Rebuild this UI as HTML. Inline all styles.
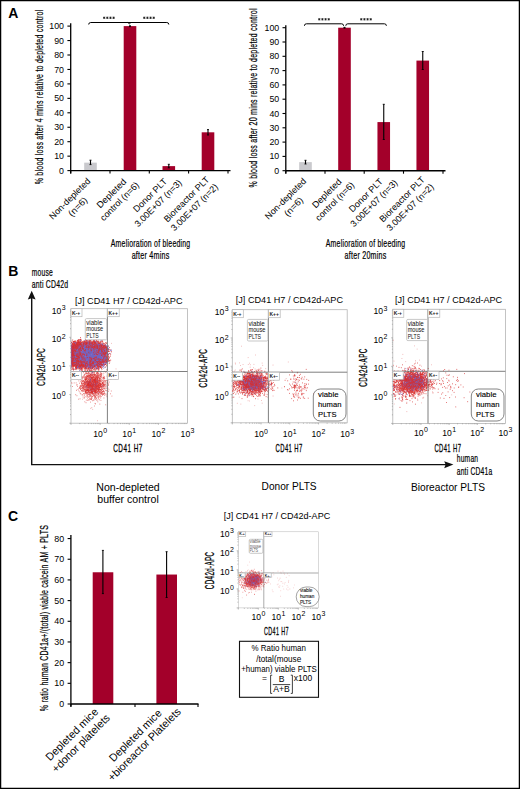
<!DOCTYPE html>
<html><head><meta charset="utf-8"><style>
html,body{margin:0;padding:0;background:#fff;}
svg{display:block;}
text{font-family:"Liberation Sans",sans-serif;}
.cn{stroke:#000;stroke-width:0.22px;letter-spacing:0.35px;}
.cb{stroke:#000;stroke-width:0.3px;letter-spacing:0.8px;}
.mt{}
.ht{stroke:#000;stroke-width:0.12px;}
</style></head><body>
<svg width="520" height="789" viewBox="0 0 520 789">
<defs><filter id="sb" x="-10%" y="-10%" width="120%" height="120%"><feGaussianBlur stdDeviation="0.45"/></filter></defs>
<rect x="0" y="0" width="520" height="789" fill="#fff"/>
<text x="8.30" y="18.20" font-size="14" font-weight="bold">A</text>
<rect x="84.20" y="162.65" width="12.60" height="7.95" fill="#c9c9cd" />
<rect x="123.70" y="26.10" width="12.60" height="144.50" fill="#a3002a" />
<rect x="162.50" y="166.12" width="12.60" height="4.48" fill="#a3002a" />
<rect x="201.70" y="132.31" width="12.60" height="38.29" fill="#a3002a" />
<line x1="70.70" y1="23.20" x2="70.70" y2="173.40" stroke="#000" stroke-width="1.3"/>
<line x1="67.40" y1="170.60" x2="70.70" y2="170.60" stroke="#000" stroke-width="1.1"/>
<text x="64.00" y="173.65" font-size="8.8" text-anchor="end" textLength="4.90" lengthAdjust="spacingAndGlyphs">0</text>
<line x1="67.40" y1="156.15" x2="70.70" y2="156.15" stroke="#000" stroke-width="1.1"/>
<text x="64.00" y="159.20" font-size="8.8" text-anchor="end" textLength="9.80" lengthAdjust="spacingAndGlyphs">10</text>
<line x1="67.40" y1="141.70" x2="70.70" y2="141.70" stroke="#000" stroke-width="1.1"/>
<text x="64.00" y="144.75" font-size="8.8" text-anchor="end" textLength="9.80" lengthAdjust="spacingAndGlyphs">20</text>
<line x1="67.40" y1="127.25" x2="70.70" y2="127.25" stroke="#000" stroke-width="1.1"/>
<text x="64.00" y="130.30" font-size="8.8" text-anchor="end" textLength="9.80" lengthAdjust="spacingAndGlyphs">30</text>
<line x1="67.40" y1="112.80" x2="70.70" y2="112.80" stroke="#000" stroke-width="1.1"/>
<text x="64.00" y="115.85" font-size="8.8" text-anchor="end" textLength="9.80" lengthAdjust="spacingAndGlyphs">40</text>
<line x1="67.40" y1="98.35" x2="70.70" y2="98.35" stroke="#000" stroke-width="1.1"/>
<text x="64.00" y="101.40" font-size="8.8" text-anchor="end" textLength="9.80" lengthAdjust="spacingAndGlyphs">50</text>
<line x1="67.40" y1="83.90" x2="70.70" y2="83.90" stroke="#000" stroke-width="1.1"/>
<text x="64.00" y="86.95" font-size="8.8" text-anchor="end" textLength="9.80" lengthAdjust="spacingAndGlyphs">60</text>
<line x1="67.40" y1="69.45" x2="70.70" y2="69.45" stroke="#000" stroke-width="1.1"/>
<text x="64.00" y="72.50" font-size="8.8" text-anchor="end" textLength="9.80" lengthAdjust="spacingAndGlyphs">70</text>
<line x1="67.40" y1="55.00" x2="70.70" y2="55.00" stroke="#000" stroke-width="1.1"/>
<text x="64.00" y="58.05" font-size="8.8" text-anchor="end" textLength="9.80" lengthAdjust="spacingAndGlyphs">80</text>
<line x1="67.40" y1="40.55" x2="70.70" y2="40.55" stroke="#000" stroke-width="1.1"/>
<text x="64.00" y="43.60" font-size="8.8" text-anchor="end" textLength="9.80" lengthAdjust="spacingAndGlyphs">90</text>
<line x1="67.40" y1="26.10" x2="70.70" y2="26.10" stroke="#000" stroke-width="1.1"/>
<text x="64.00" y="29.15" font-size="8.8" text-anchor="end" textLength="14.70" lengthAdjust="spacingAndGlyphs">100</text>
<line x1="70.70" y1="170.60" x2="230.50" y2="170.60" stroke="#000" stroke-width="1.4"/>
<line x1="70.70" y1="170.60" x2="70.70" y2="173.60" stroke="#000" stroke-width="1.1"/>
<line x1="110.00" y1="170.60" x2="110.00" y2="173.60" stroke="#000" stroke-width="1.1"/>
<line x1="149.30" y1="170.60" x2="149.30" y2="173.60" stroke="#000" stroke-width="1.1"/>
<line x1="188.60" y1="170.60" x2="188.60" y2="173.60" stroke="#000" stroke-width="1.1"/>
<line x1="228.00" y1="170.60" x2="228.00" y2="173.60" stroke="#000" stroke-width="1.1"/>
<line x1="90.50" y1="160.20" x2="90.50" y2="164.60" stroke="#000" stroke-width="1.1"/>
<line x1="89.50" y1="160.20" x2="91.50" y2="160.20" stroke="#000" stroke-width="0.9"/>
<line x1="89.50" y1="164.60" x2="91.50" y2="164.60" stroke="#000" stroke-width="0.9"/>
<line x1="130.00" y1="25.80" x2="130.00" y2="26.60" stroke="#000" stroke-width="1.1"/>
<line x1="129.00" y1="25.80" x2="131.00" y2="25.80" stroke="#000" stroke-width="0.9"/>
<line x1="129.00" y1="26.60" x2="131.00" y2="26.60" stroke="#000" stroke-width="0.9"/>
<line x1="168.80" y1="164.30" x2="168.80" y2="167.80" stroke="#000" stroke-width="1.1"/>
<line x1="167.80" y1="164.30" x2="169.80" y2="164.30" stroke="#000" stroke-width="0.9"/>
<line x1="167.80" y1="167.80" x2="169.80" y2="167.80" stroke="#000" stroke-width="0.9"/>
<line x1="208.00" y1="129.60" x2="208.00" y2="135.00" stroke="#000" stroke-width="1.1"/>
<line x1="207.00" y1="129.60" x2="209.00" y2="129.60" stroke="#000" stroke-width="0.9"/>
<line x1="207.00" y1="135.00" x2="209.00" y2="135.00" stroke="#000" stroke-width="0.9"/>
<text x="0.00" y="0.00" font-size="11.5" text-anchor="middle" textLength="174.70" lengthAdjust="spacingAndGlyphs" transform="translate(42.7,96.95) rotate(-90)" class="cn">% blood loss after 4 mins relative to depleted control</text>
<text x="150.60" y="246.90" font-size="11" text-anchor="middle" textLength="79.70" lengthAdjust="spacingAndGlyphs" class="cn">Amelioration of bleeding</text>
<text x="150.60" y="258.90" font-size="11" text-anchor="middle" textLength="37.90" lengthAdjust="spacingAndGlyphs" class="cn">after 4mins</text>
<path d="M88.70,24.50 Q88.70,22.50 90.70,22.50 L166.80,22.50 Q168.80,22.50 168.80,24.50" fill="none" stroke="#000" stroke-width="1"/>
<path d="M127.90,22.50 L129.40,23.80 L130.90,22.50" fill="none" stroke="#000" stroke-width="1"/>
<path d="M104.18,16.60 L104.18,19.00 M103.08,17.20 L105.28,18.40 M103.08,18.40 L105.28,17.20" stroke="#111" stroke-width="0.75"/>
<path d="M107.33,16.60 L107.33,19.00 M106.23,17.20 L108.42,18.40 M106.23,18.40 L108.42,17.20" stroke="#111" stroke-width="0.75"/>
<path d="M110.48,16.60 L110.48,19.00 M109.38,17.20 L111.58,18.40 M109.38,18.40 L111.58,17.20" stroke="#111" stroke-width="0.75"/>
<path d="M113.62,16.60 L113.62,19.00 M112.53,17.20 L114.72,18.40 M112.53,18.40 L114.72,17.20" stroke="#111" stroke-width="0.75"/>
<path d="M144.28,16.60 L144.28,19.00 M143.18,17.20 L145.38,18.40 M143.18,18.40 L145.38,17.20" stroke="#111" stroke-width="0.75"/>
<path d="M147.43,16.60 L147.43,19.00 M146.33,17.20 L148.53,18.40 M146.33,18.40 L148.53,17.20" stroke="#111" stroke-width="0.75"/>
<path d="M150.57,16.60 L150.57,19.00 M149.47,17.20 L151.67,18.40 M149.47,18.40 L151.67,17.20" stroke="#111" stroke-width="0.75"/>
<path d="M153.72,16.60 L153.72,19.00 M152.62,17.20 L154.82,18.40 M152.62,18.40 L154.82,17.20" stroke="#111" stroke-width="0.75"/>
<rect x="299.20" y="162.12" width="12.60" height="8.58" fill="#c9c9cd" />
<rect x="338.20" y="27.70" width="12.60" height="143.00" fill="#a3002a" />
<rect x="377.45" y="122.08" width="12.60" height="48.62" fill="#a3002a" />
<rect x="416.45" y="60.59" width="12.60" height="110.11" fill="#a3002a" />
<line x1="285.80" y1="25.30" x2="285.80" y2="173.50" stroke="#000" stroke-width="1.3"/>
<line x1="282.50" y1="170.70" x2="285.80" y2="170.70" stroke="#000" stroke-width="1.1"/>
<text x="279.20" y="173.75" font-size="8.8" text-anchor="end" textLength="4.90" lengthAdjust="spacingAndGlyphs">0</text>
<line x1="282.50" y1="156.40" x2="285.80" y2="156.40" stroke="#000" stroke-width="1.1"/>
<text x="279.20" y="159.45" font-size="8.8" text-anchor="end" textLength="9.80" lengthAdjust="spacingAndGlyphs">10</text>
<line x1="282.50" y1="142.10" x2="285.80" y2="142.10" stroke="#000" stroke-width="1.1"/>
<text x="279.20" y="145.15" font-size="8.8" text-anchor="end" textLength="9.80" lengthAdjust="spacingAndGlyphs">20</text>
<line x1="282.50" y1="127.80" x2="285.80" y2="127.80" stroke="#000" stroke-width="1.1"/>
<text x="279.20" y="130.85" font-size="8.8" text-anchor="end" textLength="9.80" lengthAdjust="spacingAndGlyphs">30</text>
<line x1="282.50" y1="113.50" x2="285.80" y2="113.50" stroke="#000" stroke-width="1.1"/>
<text x="279.20" y="116.55" font-size="8.8" text-anchor="end" textLength="9.80" lengthAdjust="spacingAndGlyphs">40</text>
<line x1="282.50" y1="99.20" x2="285.80" y2="99.20" stroke="#000" stroke-width="1.1"/>
<text x="279.20" y="102.25" font-size="8.8" text-anchor="end" textLength="9.80" lengthAdjust="spacingAndGlyphs">50</text>
<line x1="282.50" y1="84.90" x2="285.80" y2="84.90" stroke="#000" stroke-width="1.1"/>
<text x="279.20" y="87.95" font-size="8.8" text-anchor="end" textLength="9.80" lengthAdjust="spacingAndGlyphs">60</text>
<line x1="282.50" y1="70.60" x2="285.80" y2="70.60" stroke="#000" stroke-width="1.1"/>
<text x="279.20" y="73.65" font-size="8.8" text-anchor="end" textLength="9.80" lengthAdjust="spacingAndGlyphs">70</text>
<line x1="282.50" y1="56.30" x2="285.80" y2="56.30" stroke="#000" stroke-width="1.1"/>
<text x="279.20" y="59.35" font-size="8.8" text-anchor="end" textLength="9.80" lengthAdjust="spacingAndGlyphs">80</text>
<line x1="282.50" y1="42.00" x2="285.80" y2="42.00" stroke="#000" stroke-width="1.1"/>
<text x="279.20" y="45.05" font-size="8.8" text-anchor="end" textLength="9.80" lengthAdjust="spacingAndGlyphs">90</text>
<line x1="282.50" y1="27.70" x2="285.80" y2="27.70" stroke="#000" stroke-width="1.1"/>
<text x="279.20" y="30.75" font-size="8.8" text-anchor="end" textLength="14.70" lengthAdjust="spacingAndGlyphs">100</text>
<line x1="285.80" y1="170.70" x2="445.50" y2="170.70" stroke="#000" stroke-width="1.4"/>
<line x1="285.80" y1="170.70" x2="285.80" y2="173.70" stroke="#000" stroke-width="1.1"/>
<line x1="325.00" y1="170.70" x2="325.00" y2="173.70" stroke="#000" stroke-width="1.1"/>
<line x1="364.20" y1="170.70" x2="364.20" y2="173.70" stroke="#000" stroke-width="1.1"/>
<line x1="403.50" y1="170.70" x2="403.50" y2="173.70" stroke="#000" stroke-width="1.1"/>
<line x1="443.00" y1="170.70" x2="443.00" y2="173.70" stroke="#000" stroke-width="1.1"/>
<line x1="305.50" y1="160.30" x2="305.50" y2="164.00" stroke="#000" stroke-width="1.1"/>
<line x1="304.50" y1="160.30" x2="306.50" y2="160.30" stroke="#000" stroke-width="0.9"/>
<line x1="304.50" y1="164.00" x2="306.50" y2="164.00" stroke="#000" stroke-width="0.9"/>
<line x1="344.50" y1="27.30" x2="344.50" y2="28.10" stroke="#000" stroke-width="1.1"/>
<line x1="343.50" y1="27.30" x2="345.50" y2="27.30" stroke="#000" stroke-width="0.9"/>
<line x1="343.50" y1="28.10" x2="345.50" y2="28.10" stroke="#000" stroke-width="0.9"/>
<line x1="383.75" y1="104.30" x2="383.75" y2="139.50" stroke="#000" stroke-width="1.1"/>
<line x1="382.75" y1="104.30" x2="384.75" y2="104.30" stroke="#000" stroke-width="0.9"/>
<line x1="382.75" y1="139.50" x2="384.75" y2="139.50" stroke="#000" stroke-width="0.9"/>
<line x1="422.75" y1="51.50" x2="422.75" y2="69.50" stroke="#000" stroke-width="1.1"/>
<line x1="421.75" y1="51.50" x2="423.75" y2="51.50" stroke="#000" stroke-width="0.9"/>
<line x1="421.75" y1="69.50" x2="423.75" y2="69.50" stroke="#000" stroke-width="0.9"/>
<text x="0.00" y="0.00" font-size="11.5" text-anchor="middle" textLength="179.20" lengthAdjust="spacingAndGlyphs" transform="translate(257.2,97.90) rotate(-90)" class="cn">% blood loss after 20 mins relative to depleted control</text>
<text x="365.60" y="246.90" font-size="11" text-anchor="middle" textLength="79.70" lengthAdjust="spacingAndGlyphs" class="cn">Amelioration of bleeding</text>
<text x="365.60" y="258.90" font-size="11" text-anchor="middle" textLength="42.00" lengthAdjust="spacingAndGlyphs" class="cn">after 20mins</text>
<path d="M304.40,25.80 Q304.40,23.80 306.40,23.80 L341.60,23.80 Q343.60,23.80 343.60,25.80" fill="none" stroke="#000" stroke-width="1"/>
<path d="M345.80,25.80 Q345.80,23.80 347.80,23.80 L384.40,23.80 Q386.40,23.80 386.40,25.80" fill="none" stroke="#000" stroke-width="1"/>
<path d="M319.27,18.10 L319.27,20.50 M318.17,18.70 L320.38,19.90 M318.17,19.90 L320.38,18.70" stroke="#111" stroke-width="0.75"/>
<path d="M322.43,18.10 L322.43,20.50 M321.32,18.70 L323.53,19.90 M321.32,19.90 L323.53,18.70" stroke="#111" stroke-width="0.75"/>
<path d="M325.57,18.10 L325.57,20.50 M324.47,18.70 L326.68,19.90 M324.47,19.90 L326.68,18.70" stroke="#111" stroke-width="0.75"/>
<path d="M328.73,18.10 L328.73,20.50 M327.62,18.70 L329.83,19.90 M327.62,19.90 L329.83,18.70" stroke="#111" stroke-width="0.75"/>
<path d="M361.27,18.10 L361.27,20.50 M360.17,18.70 L362.38,19.90 M360.17,19.90 L362.38,18.70" stroke="#111" stroke-width="0.75"/>
<path d="M364.43,18.10 L364.43,20.50 M363.32,18.70 L365.53,19.90 M363.32,19.90 L365.53,18.70" stroke="#111" stroke-width="0.75"/>
<path d="M367.57,18.10 L367.57,20.50 M366.47,18.70 L368.68,19.90 M366.47,19.90 L368.68,18.70" stroke="#111" stroke-width="0.75"/>
<path d="M370.73,18.10 L370.73,20.50 M369.62,18.70 L371.83,19.90 M369.62,19.90 L371.83,18.70" stroke="#111" stroke-width="0.75"/>
<g transform="translate(71.90,200.80) rotate(-45)">
<text x="0.00" y="0.00" font-size="9" text-anchor="middle" textLength="54.00" lengthAdjust="spacingAndGlyphs">Non-depleted</text>
<text x="0.00" y="11.40" font-size="9" text-anchor="middle" textLength="23.00" lengthAdjust="spacingAndGlyphs">(n=6)</text>
</g>
<g transform="translate(113.60,195.50) rotate(-45)">
<text x="0.00" y="0.00" font-size="9" text-anchor="middle" textLength="37.50" lengthAdjust="spacingAndGlyphs">Depleted</text>
<text x="0.00" y="11.40" font-size="9" text-anchor="middle" textLength="50.80" lengthAdjust="spacingAndGlyphs">control (n=6)</text>
</g>
<g transform="translate(152.20,197.40) rotate(-45)">
<text x="0.00" y="0.00" font-size="9" text-anchor="middle" textLength="43.60" lengthAdjust="spacingAndGlyphs">Donor PLT</text>
<text x="0.00" y="11.40" font-size="9" text-anchor="middle" textLength="62.40" lengthAdjust="spacingAndGlyphs">3.00E+07 (n=3)</text>
</g>
<g transform="translate(188.60,201.50) rotate(-45)">
<text x="0.00" y="0.00" font-size="9" text-anchor="middle" textLength="60.00" lengthAdjust="spacingAndGlyphs">Bioreactor PLT</text>
<text x="0.00" y="11.40" font-size="9" text-anchor="middle" textLength="62.40" lengthAdjust="spacingAndGlyphs">3.00E+07 (n=2)</text>
</g>
<g transform="translate(287.70,200.80) rotate(-45)">
<text x="0.00" y="0.00" font-size="9" text-anchor="middle" textLength="54.00" lengthAdjust="spacingAndGlyphs">Non-depleted</text>
<text x="0.00" y="11.40" font-size="9" text-anchor="middle" textLength="23.00" lengthAdjust="spacingAndGlyphs">(n=6)</text>
</g>
<g transform="translate(328.90,195.50) rotate(-45)">
<text x="0.00" y="0.00" font-size="9" text-anchor="middle" textLength="37.50" lengthAdjust="spacingAndGlyphs">Depleted</text>
<text x="0.00" y="11.40" font-size="9" text-anchor="middle" textLength="50.80" lengthAdjust="spacingAndGlyphs">control (n=6)</text>
</g>
<g transform="translate(367.95,197.40) rotate(-45)">
<text x="0.00" y="0.00" font-size="9" text-anchor="middle" textLength="43.60" lengthAdjust="spacingAndGlyphs">Donor PLT</text>
<text x="0.00" y="11.40" font-size="9" text-anchor="middle" textLength="62.40" lengthAdjust="spacingAndGlyphs">3.00E+07 (n=3)</text>
</g>
<g transform="translate(404.15,201.50) rotate(-45)">
<text x="0.00" y="0.00" font-size="9" text-anchor="middle" textLength="60.00" lengthAdjust="spacingAndGlyphs">Bioreactor PLT</text>
<text x="0.00" y="11.40" font-size="9" text-anchor="middle" textLength="62.40" lengthAdjust="spacingAndGlyphs">3.00E+07 (n=2)</text>
</g>
<text x="8.30" y="275.80" font-size="14" font-weight="bold">B</text>
<text x="31.70" y="276.20" font-size="11" textLength="21.20" lengthAdjust="spacingAndGlyphs" class="cn">mouse</text>
<text x="31.70" y="287.60" font-size="11" textLength="36.60" lengthAdjust="spacingAndGlyphs" class="cn">anti CD42d</text>
<path d="M31.7,298 L31.7,464.6 L446,464.6" fill="none" stroke="#111" stroke-width="1.4"/>
<path d="M31.7,290.8 L35.6,299.6 L31.7,298.2 L27.8,299.6 Z" fill="#111"/>
<path d="M453.4,464.6 L444.2,461.2 L445.6,464.6 L444.2,468.2 Z" fill="#111"/>
<text x="456.70" y="461.60" font-size="11" textLength="21.60" lengthAdjust="spacingAndGlyphs" class="cn">human</text>
<text x="456.70" y="474.90" font-size="11" textLength="35.80" lengthAdjust="spacingAndGlyphs" class="cn">anti CD41a</text>
<text x="128.00" y="491.20" font-size="10.6" text-anchor="middle" textLength="63.40" lengthAdjust="spacingAndGlyphs">Non-depleted</text>
<text x="128.00" y="502.70" font-size="10.6" text-anchor="middle" textLength="61.50" lengthAdjust="spacingAndGlyphs">buffer control</text>
<text x="289.10" y="490.20" font-size="10.6" text-anchor="middle" textLength="55.00" lengthAdjust="spacingAndGlyphs">Donor PLTS</text>
<text x="448.00" y="490.60" font-size="10.6" text-anchor="middle" textLength="74.00" lengthAdjust="spacingAndGlyphs">Bioreactor PLTS</text>
<text x="74.90" y="303.50" font-size="8.7" textLength="107.60" lengthAdjust="spacingAndGlyphs">[J] CD41 H7 / CD42d-APC</text>
<rect x="71.00" y="308.70" width="116.50" height="114.50" fill="#fff" stroke="#b4b4b4" stroke-width="0.8"/>
<path d="M71.00 423.20h-1.6M71.00 423.20v1.6M71.00 414.58h-0.9M79.77 423.20v0.9M71.00 409.54h-0.9M84.90 423.20v0.9M71.00 405.97h-0.9M88.53 423.20v0.9M71.00 403.19h-0.9M91.36 423.20v0.9M71.00 400.93h-0.9M93.66 423.20v0.9M71.00 399.01h-0.9M95.61 423.20v0.9M71.00 397.35h-0.9M97.30 423.20v0.9M71.00 395.88h-0.9M98.79 423.20v0.9M71.00 394.57h-1.6M100.12 423.20v1.6M71.00 385.96h-0.9M108.89 423.20v0.9M71.00 380.92h-0.9M114.02 423.20v0.9M71.00 377.34h-0.9M117.66 423.20v0.9M71.00 374.57h-0.9M120.48 423.20v0.9M71.00 372.30h-0.9M122.79 423.20v0.9M71.00 370.38h-0.9M124.74 423.20v0.9M71.00 368.72h-0.9M126.43 423.20v0.9M71.00 367.26h-0.9M127.92 423.20v0.9M71.00 365.95h-1.6M129.25 423.20v1.6M71.00 357.33h-0.9M138.02 423.20v0.9M71.00 352.29h-0.9M143.15 423.20v0.9M71.00 348.72h-0.9M146.78 423.20v0.9M71.00 345.94h-0.9M149.61 423.20v0.9M71.00 343.68h-0.9M151.91 423.20v0.9M71.00 341.76h-0.9M153.86 423.20v0.9M71.00 340.10h-0.9M155.55 423.20v0.9M71.00 338.63h-0.9M157.04 423.20v0.9M71.00 337.32h-1.6M158.38 423.20v1.6M71.00 328.71h-0.9M167.14 423.20v0.9M71.00 323.67h-0.9M172.27 423.20v0.9M71.00 320.09h-0.9M175.91 423.20v0.9M71.00 317.32h-0.9M178.73 423.20v0.9M71.00 315.05h-0.9M181.04 423.20v0.9M71.00 313.13h-0.9M182.99 423.20v0.9M71.00 311.47h-0.9M184.68 423.20v0.9M71.00 310.01h-0.9M186.17 423.20v0.9" stroke="#8a8a8a" stroke-width="0.6" fill="none"/>
<g filter="url(#sb)">
<path d="M95.9 361.5h0.7m-4.6 2h0.7m6.1 0.9h0.7m-4.8 0.1h0.7m1.5 1.1h0.7m-2.2 0.2h0.7m-10.3 0.2h0.7m8.8 0.7h0.7m-3.7 0.5h0.7m-0.3 0.4h0.7m-2.9 0.5h0.7m0.8 0.4h0.7m-7.6 0.2h0.7m6.3 0h0.7m-17.3 0.3h0.7m6.3 0.2h0.7m12.3 0h0.7m-2.6 0.1h0.7m1.7 0h0.7m4.9 0.2h0.7m-4.8 0.2h0.7m-3.5 0.1h0.7m3.6 0.1h0.7m-12.1 0.1h0.7m9.9 0.2h0.7m-7.6 0.3h0.7m0.4 0h0.7m1.5 0.2h0.7m0.2 0.1h0.7m-6.1 0.1h0.7m-4.7 0.1h0.7m11.5 0.2h0.7m1.9 0h0.7m-10 0.3h0.7m0.3 0h0.7m-1.9 0.1h0.7m-2.7 0.1h0.7m-3.8 0.2h0.7m10.1 0h0.7m-12.7 0.1h0.7m19.6 0.2h0.7m-17.9 0.1h0.7m-3.1 0.2h0.7m13.9 0h0.7m-9 0.1h0.7m0 0h0.7m0.3 0h0.7m2.8 0h0.7m-19.8 0.1h0.7m-0.2 0h0.7m3.6 0h0.7m10 0h0.7m-2 0.1h0.7m3.3 0h0.7m-4.9 0.1h0.7m1.6 0h0.7m-4.2 0.1h0.7m4.3 0h0.7m-17 0.1h0.7m6.4 0h0.7m1.1 0h0.7m9.2 0h0.7m-1.7 0.1h0.7m5.3 0h0.7m-16.5 0.1h0.7m1.2 0h0.7m-0.7 0h0.7m0.5 0h0.7m4.5 0h0.7m1 0h0.7m2.5 0h0.7m-0.2 0.2h0.7m-16.2 0.1h0.7m0.2 0h0.7m10.9 0h0.7m0.9 0h0.7m-14.5 0.1h0.7m10.1 0h0.7m-12.6 0.1h0.7m-0.3 0.1h0.7m0.8 0h0.7m3.2 0h0.7m1.8 0h0.7m-1.7 0.1h0.7m1 0h0.7m6.9 0h0.7m-13.4 0.1h0.7m-5.3 0.1h0.7m-10.1 0.1h0.7m18.6 0h0.7m1.4 0h0.7m3.5 0h0.7m-8.3 0.1h0.7m-13.4 0.1h0.7m9 0h0.7m0.9 0h0.7m6.6 0h0.7m0.3 0h0.7m-10.4 0.1h0.7m1.7 0h0.7m2.1 0h0.7m-8 0.1h0.7m3.8 0h0.7m0.4 0h0.7m0.2 0h0.7m-0.3 0h0.7m1.5 0h0.7m2.5 0h0.7m0 0h0.7m-17.8 0.1h0.7m5.4 0h0.7m-0.7 0h0.7m1 0h0.7m-4.8 0.1h0.7m1.3 0h0.7m0.5 0h0.7m2.6 0h0.7m-0.3 0h0.7m2.5 0h0.7m-8.8 0.1h0.7m-0.6 0h0.7m7.4 0h0.7m0.1 0h0.7m1.4 0h0.7m-24 0.1h0.7m1.8 0h0.7m3.3 0h0.7m6.2 0h0.7m-0.6 0h0.7m0.8 0h0.7m1.4 0h0.7m1.7 0h0.7m-6.9 0.1h0.7m2.5 0h0.7m2.2 0h0.7m-8.9 0.1h0.7m2 0h0.7m6.4 0h0.7m-3.3 0.1h0.7m1 0h0.7m-10.8 0.1h0.7m1 0h0.7m2.4 0h0.7m-4.5 0.1h0.7m0.1 0h0.7m5.6 0h0.7m2.7 0h0.7m1 0h0.7m-14.8 0.1h0.7m0.7 0h0.7m7.2 0h0.7m-9.1 0.1h0.7m1.4 0h0.7m1.8 0h0.7m-6.8 0.1h0.7m6.8 0h0.7m0.4 0h0.7m1.6 0h0.7m0.7 0h0.7m1.7 0h0.7m0 0h0.7m-21.6 0.1h0.7m5.1 0h0.7m2.8 0h0.7m-1.9 0.1h0.7m1 0h0.7m3.3 0h0.7m0.2 0h0.7m4.4 0h0.7m-17.5 0.1h0.7m-0.4 0h0.7m3 0h0.7m2.9 0h0.7m1.5 0h0.7m-0.3 0h0.7m2.1 0h0.7m2.3 0h0.7m6.5 0h0.7m-20.4 0.1h0.7m2.4 0h0.7m6 0h0.7m2.8 0h0.7m-15.4 0.1h0.7m6.7 0h0.7m4.5 0h0.7m-13.4 0.1h0.7m0.5 0h0.7m-0.2 0h0.7m0.4 0h0.7m-14 0.1h0.7m11.4 0h0.7m4.5 0h0.7m4.2 0h0.7m0.9 0h0.7m0.9 0h0.7m-19.3 0.1h0.7m10.6 0h0.7m1.7 0h0.7m-0.2 0h0.7m-8.1 0.1h0.7m-0.1 0h0.7m-0.4 0h0.7m0.3 0h0.7m4.3 0h0.7m-0.2 0h0.7m1.2 0h0.7m-10.3 0.1h0.7m1.6 0h0.7m0.2 0h0.7m1.1 0h0.7m-10.6 0.1h0.7m5.9 0h0.7m6 0h0.7m6.5 0h0.7m-23.7 0.1h0.7m5.1 0h0.7m1.7 0h0.7m0.8 0h0.7m5.7 0h0.7m5.4 0h0.7m0.5 0h0.7m2.4 0h0.7m-25.8 0.1h0.7m2.6 0h0.7m2.4 0h0.7m3 0h0.7m-0.4 0h0.7m0.9 0h0.7m-0.2 0h0.7m1.4 0h0.7m0.2 0h0.7m-24.5 0.1h0.7m9.8 0h0.7m-0.7 0h0.7m16 0h0.7m-15.9 0.1h0.7m10.3 0h0.7m5.3 0h0.7m-13.7 0.1h0.7m0.2 0h0.7m-0.6 0h0.7m1.4 0h0.7m0.3 0h0.7m1.2 0h0.7m1.1 0h0.7m-13.1 0.1h0.7m-0.1 0h0.7m0.3 0h0.7m4.4 0h0.7m0.3 0h0.7m1.9 0h0.7m4.2 0h0.7m-18.8 0.1h0.7m9.3 0h0.7m2.9 0h0.7m1.5 0h0.7m0 0h0.7m-16.2 0.1h0.7m1.5 0h0.7m3.2 0h0.7m1.1 0h0.7m-0.6 0h0.7m-0.4 0h0.7m-0.6 0h0.7m2.8 0h0.7m1.1 0h0.7m4.8 0h0.7m-15.2 0.1h0.7m0.5 0h0.7m1.7 0h0.7m1.9 0h0.7m0.5 0h0.7m7.3 0h0.7m-16.6 0.1h0.7m-0.4 0h0.7m2.2 0h0.7m-0.2 0h0.7m0.4 0h0.7m6.8 0h0.7m2.4 0h0.7m-8 0.1h0.7m2 0h0.7m0.1 0h0.7m2.1 0h0.7m0.2 0h0.7m-14.1 0.1h0.7m1.1 0h0.7m0.4 0h0.7m1.8 0h0.7m0.1 0h0.7m2.5 0h0.7m-20.5 0.1h0.7m2.2 0h0.7m2.3 0h0.7m0.7 0h0.7m9.8 0h0.7m2 0h0.7m-11.1 0.1h0.7m4.4 0h0.7m0.2 0h0.7m1.2 0h0.7m-13.3 0.1h0.7m0.6 0h0.7m5.5 0h0.7m-2.9 0.1h0.7m0.7 0h0.7m3.3 0h0.7m0.9 0h0.7m1.5 0h0.7m0.6 0h0.7m3.3 0h0.7m-18.6 0.1h0.7m0.1 0h0.7m7.1 0h0.7m-0.3 0h0.7m1.1 0h0.7m-0.3 0h0.7m5.5 0h0.7m-16.2 0.1h0.7m1.6 0h0.7m0 0h0.7m1 0h0.7m2.1 0h0.7m18.2 0h0.7m-28.9 0.1h0.7m3.2 0h0.7m0.3 0h0.7m0.6 0h0.7m16.4 0h0.7m-16.4 0.1h0.7m0.2 0h0.7m-0.7 0h0.7m3.3 0h0.7m-15.4 0.1h0.7m-0.3 0h0.7m-0.4 0h0.7m8.5 0h0.7m0.1 0h0.7m0.5 0h0.7m0.1 0h0.7m-0.3 0h0.7m5.3 0h0.7m-27.5 0.1h0.7m7.5 0h0.7m0.5 0h0.7m0.3 0h0.7m4.8 0h0.7m1.9 0h0.7m3.5 0h0.7m0.7 0h0.7m-19.7 0.1h0.7m3.5 0h0.7m-0.5 0h0.7m0.9 0h0.7m4.4 0h0.7m0.3 0h0.7m-0.2 0h0.7m1.3 0h0.7m0.3 0h0.7m-4.5 0.1h0.7m-0.2 0h0.7m0 0h0.7m1.2 0h0.7m-0.5 0h0.7m13 0h0.7m-26.2 0.1h0.7m-0.5 0h0.7m2.1 0h0.7m1.2 0h0.7m-0.1 0h0.7m0.7 0h0.7m1.9 0h0.7m0.1 0h0.7m1.1 0h0.7m-7.9 0.1h0.7m-0.3 0h0.7m-0.6 0h0.7m3.2 0h0.7m0.7 0h0.7m-11.7 0.1h0.7m3 0h0.7m-0.2 0h0.7m-9.7 0.1h0.7m9.6 0h0.7m1.3 0h0.7m0.4 0h0.7m-0.4 0h0.7m5.1 0h0.7m0.5 0h0.7m-16.2 0.1h0.7m0.4 0h0.7m2.1 0h0.7m0.9 0h0.7m0.6 0h0.7m1.6 0h0.7m-0.4 0h0.7m-11.4 0.1h0.7m0.8 0h0.7m3.9 0h0.7m2.5 0h0.7m6.1 0h0.7m-15.5 0.1h0.7m3.1 0h0.7m0.4 0h0.7m0.8 0h0.7m0.4 0h0.7m-0.4 0h0.7m0 0h0.7m0.4 0h0.7m-0.1 0h0.7m1.8 0h0.7m0.4 0h0.7m-0.1 0h0.7m1.6 0h0.7m-17.9 0.1h0.7m1 0h0.7m1 0h0.7m0.9 0h0.7m0.6 0h0.7m0.3 0h0.7m1.5 0h0.7m-0.4 0h0.7m-0.6 0h0.7m0.4 0h0.7m1.3 0h0.7m0.2 0h0.7m4 0h0.7m-16.5 0.1h0.7m2.4 0h0.7m2.6 0h0.7m-0.1 0h0.7m-0.4 0h0.7m2.3 0h0.7m-9 0.1h0.7m0.3 0h0.7m0.5 0h0.7m1.3 0h0.7m1.3 0h0.7m11.3 0h0.7m-23 0.1h0.7m1.1 0h0.7m1.8 0h0.7m3.1 0h0.7m0.7 0h0.7m0.7 0h0.7m0.1 0h0.7m-0.4 0h0.7m1 0h0.7m2 0h0.7m2.1 0h0.7m0.6 0h0.7m-23.8 0.1h0.7m-0.2 0h0.7m8.8 0h0.7m0.3 0h0.7m0.2 0h0.7m1 0h0.7m3.6 0h0.7m-20.2 0.1h0.7m5.3 0h0.7m5.6 0h0.7m5.2 0h0.7m-0.3 0h0.7m5 0h0.7m-24 0.1h0.7m0.3 0h0.7m6.6 0h0.7m0.9 0h0.7m4.2 0h0.7m1 0h0.7m5 0h0.7m-26.6 0.1h0.7m10.2 0h0.7m1.4 0h0.7m1.6 0h0.7m0 0h0.7m-0.2 0h0.7m-0.1 0h0.7m1.5 0h0.7m-0.4 0h0.7m-7.2 0.1h0.7m1.2 0h0.7m-0.5 0h0.7m0.5 0h0.7m-0.5 0h0.7m-0.7 0h0.7m-8.9 0.1h0.7m0.2 0h0.7m-0.6 0h0.7m0.6 0h0.7m2.2 0h0.7m3.3 0h0.7m3.4 0h0.7m2.7 0h0.7m-15 0.1h0.7m1.9 0h0.7m1.4 0h0.7m2.5 0h0.7m1.6 0h0.7m-17.9 0.1h0.7m3.6 0h0.7m3.8 0h0.7m0.4 0h0.7m0.2 0h0.7m0.4 0h0.7m-0.7 0h0.7m0.9 0h0.7m-0.4 0h0.7m-0.4 0h0.7m-0.1 0h0.7m-15.7 0.1h0.7m1.4 0h0.7m0 0h0.7m0.1 0h0.7m-0.1 0h0.7m12 0h0.7m2 0h0.7m3.1 0h0.7m-25.6 0.1h0.7m2.3 0h0.7m2.4 0h0.7m2.5 0h0.7m1.7 0h0.7m-0.6 0h0.7m-0.7 0h0.7m1.2 0h0.7m-0.3 0h0.7m1.4 0h0.7m-0.5 0h0.7m-0.6 0h0.7m3 0h0.7m-17.4 0.1h0.7m2.4 0h0.7m0.1 0h0.7m0 0h0.7m0.2 0h0.7m-0.4 0h0.7m2.3 0h0.7m-6.4 0.1h0.7m0.6 0h0.7m0.5 0h0.7m-0.4 0h0.7m-0.2 0h0.7m-0.5 0h0.7m2.8 0h0.7m0.3 0h0.7m-0.5 0h0.7m3.8 0h0.7m-14.1 0.1h0.7m-0.4 0h0.7m0.2 0h0.7m0.7 0h0.7m3.9 0h0.7m4.4 0h0.7m1.2 0h0.7m-18.5 0.1h0.7m2.3 0h0.7m2.8 0h0.7m0 0h0.7m0 0h0.7m1.5 0h0.7m-0.2 0h0.7m-0.3 0h0.7m3.1 0h0.7m-15.6 0.1h0.7m2.6 0h0.7m1.3 0h0.7m2.1 0h0.7m-0.6 0h0.7m3.2 0h0.7m0 0h0.7m2.6 0h0.7m3.7 0h0.7m-0.6 0h0.7m3.5 0h0.7m-23.4 0.1h0.7m1.7 0h0.7m-0.1 0h0.7m-0.1 0h0.7m0.2 0h0.7m-0.4 0h0.7m2.1 0h0.7m-0.7 0h0.7m-0.1 0h0.7m1 0h0.7m2.7 0h0.7m-0.6 0h0.7m4.8 0h0.7m-0.5 0h0.7m0.5 0h0.7m3 0h0.7m-28.4 0.1h0.7m3.7 0h0.7m6.6 0h0.7m1 0h0.7m-0.7 0h0.7m-0.6 0h0.7m0.1 0h0.7m0.1 0h0.7m-11.8 0.1h0.7m3 0h0.7m0.8 0h0.7m-0.6 0h0.7m0 0h0.7m1 0h0.7m1.5 0h0.7m0.2 0h0.7m-0.5 0h0.7m2.4 0h0.7m2.3 0h0.7m-18.8 0.1h0.7m-0.3 0h0.7m6.6 0h0.7m1.4 0h0.7m3.6 0h0.7m-18 0.1h0.7m5.3 0h0.7m1.6 0h0.7m-0.2 0h0.7m3 0h0.7m3 0h0.7m-0.7 0h0.7m-0.2 0h0.7m-11.6 0.1h0.7m0.7 0h0.7m4.1 0h0.7m0.9 0h0.7m0.2 0h0.7m-0.7 0h0.7m-0.4 0h0.7m1.1 0h0.7m4.2 0h0.7m-17 0.1h0.7m-0.6 0h0.7m0.4 0h0.7m1.4 0h0.7m0.9 0h0.7m-0.3 0h0.7m-0.2 0h0.7m0.6 0h0.7m-0.3 0h0.7m0.9 0h0.7m-0.1 0h0.7m5.2 0h0.7m-13.8 0.1h0.7m-0.4 0h0.7m-0.6 0h0.7m-0.6 0h0.7m-0.4 0h0.7m0.3 0h0.7m-0.6 0h0.7m7.9 0h0.7m-28.5 0.1h0.7m1.8 0h0.7m1.3 0h0.7m7.6 0h0.7m-0.2 0h0.7m-0.1 0h0.7m2.8 0h0.7m-0.6 0h0.7m3.8 0h0.7m0.3 0h0.7m0.3 0h0.7m1.6 0h0.7m3.9 0h0.7m-0.4 0h0.7m2.6 0h0.7m0.4 0h0.7m-23.1 0.1h0.7m-0.6 0h0.7m2.6 0h0.7m1.1 0h0.7m2.5 0h0.7m-0.5 0h0.7m1.6 0h0.7m-0.5 0h0.7m4.3 0h0.7m-16.2 0.1h0.7m2.2 0h0.7m2.4 0h0.7m0.9 0h0.7m0.1 0h0.7m2 0h0.7m0 0h0.7m2.1 0h0.7m-0.5 0h0.7m1.9 0h0.7m4.2 0h0.7m-28.9 0.1h0.7m2 0h0.7m0.5 0h0.7m0.7 0h0.7m0.2 0h0.7m7.1 0h0.7m1 0h0.7m3.3 0h0.7m2.5 0h0.7m-17.1 0.1h0.7m4.4 0h0.7m-0.6 0h0.7m3.2 0h0.7m0.3 0h0.7m0.1 0h0.7m-16.3 0.1h0.7m1 0h0.7m-0.4 0h0.7m2.8 0h0.7m0.1 0h0.7m-0.5 0h0.7m-0.6 0h0.7m-0.2 0h0.7m-0.7 0h0.7m0 0h0.7m0 0h0.7m3.8 0h0.7m1.7 0h0.7m0.2 0h0.7m1.2 0h0.7m2 0h0.7m-15.1 0.1h0.7m-0.4 0h0.7m-0.3 0h0.7m-0.6 0h0.7m0.1 0h0.7m0.1 0h0.7m2.7 0h0.7m3.6 0h0.7m5 0h0.7m3.7 0h0.7m-27.2 0.1h0.7m5.1 0h0.7m0.7 0h0.7m0.6 0h0.7m0.3 0h0.7m-0.5 0h0.7m3.4 0h0.7m-0.3 0h0.7m0.9 0h0.7m1.1 0h0.7m-0.2 0h0.7m1.9 0h0.7m-19.9 0.1h0.7m5.1 0h0.7m7 0h0.7m0.1 0h0.7m2.6 0h0.7m-0.5 0h0.7m0.9 0h0.7m-18.8 0.1h0.7m6.6 0h0.7m-0.6 0h0.7m-0.2 0h0.7m-0.4 0h0.7m0.1 0h0.7m0.9 0h0.7m0.9 0h0.7m2.4 0h0.7m0.1 0h0.7m1.9 0h0.7m-14.9 0.1h0.7m1.8 0h0.7m1 0h0.7m1.9 0h0.7m0.7 0h0.7m0.8 0h0.7m-17.7 0.1h0.7m0.4 0h0.7m3 0h0.7m0.3 0h0.7m0.5 0h0.7m-0.6 0h0.7m-0.5 0h0.7m-0.3 0h0.7m-0.6 0h0.7m0.8 0h0.7m0.8 0h0.7m-0.6 0h0.7m6.5 0h0.7m0.7 0h0.7m3.5 0h0.7m-20.9 0.1h0.7m0.4 0h0.7m-0.7 0h0.7m0.8 0h0.7m1.1 0h0.7m1 0h0.7m1.9 0h0.7m1.5 0h0.7m2.2 0h0.7m0.5 0h0.7m3.6 0h0.7m-19 0.1h0.7m4.7 0h0.7m1.3 0h0.7m0.3 0h0.7m0.1 0h0.7m-0.7 0h0.7m2 0h0.7m-0.1 0h0.7m-0.6 0h0.7m0.8 0h0.7m0.5 0h0.7m2.1 0h0.7m-21 0.1h0.7m-0.2 0h0.7m3 0h0.7m0.5 0h0.7m-0.2 0h0.7m-0.4 0h0.7m0.8 0h0.7m0.5 0h0.7m3.1 0h0.7m0.7 0h0.7m-0.7 0h0.7m0.1 0h0.7m6.3 0h0.7m-21.3 0.1h0.7m2.3 0h0.7m1.5 0h0.7m1.2 0h0.7m-0.6 0h0.7m0.6 0h0.7m-0.7 0h0.7m-0.3 0h0.7m-0.2 0h0.7m-0.2 0h0.7m5.2 0h0.7m1.3 0h0.7m-18.8 0.1h0.7m1.8 0h0.7m-0.5 0h0.7m-0.4 0h0.7m1.4 0h0.7m-0.4 0h0.7m1.2 0h0.7m0.5 0h0.7m0.4 0h0.7m0.1 0h0.7m-0.1 0h0.7m-0.5 0h0.7m-0.1 0h0.7m1.8 0h0.7m-22.8 0.1h0.7m10.8 0h0.7m-0.1 0h0.7m0.2 0h0.7m9.9 0h0.7m-17 0.1h0.7m0.3 0h0.7m4.1 0h0.7m0.9 0h0.7m1.4 0h0.7m0.6 0h0.7m-0.1 0h0.7m0.5 0h0.7m4.3 0h0.7m0.8 0h0.7m-0.7 0h0.7m-0.6 0h0.7m-21.6 0.1h0.7m4.4 0h0.7m0.2 0h0.7m1 0h0.7m0 0h0.7m3.4 0h0.7m-0.1 0h0.7m-0.4 0h0.7m0 0h0.7m2.3 0h0.7m-0.1 0h0.7m-0.3 0h0.7m0.1 0h0.7m1.8 0h0.7m-0.1 0h0.7m-17.3 0.1h0.7m0 0h0.7m-0.5 0h0.7m0.3 0h0.7m5.1 0h0.7m1 0h0.7m0.3 0h0.7m2.2 0h0.7m3.9 0h0.7m-19.9 0.1h0.7m0.8 0h0.7m1.3 0h0.7m-0.7 0h0.7m-0.5 0h0.7m1.3 0h0.7m-0.3 0h0.7m-0.6 0h0.7m0.6 0h0.7m0.2 0h0.7m1.3 0h0.7m0.5 0h0.7m0.9 0h0.7m3.1 0h0.7m3.9 0h0.7m-0.4 0h0.7m-32.5 0.1h0.7m3.7 0h0.7m4.9 0h0.7m0.6 0h0.7m-0.5 0h0.7m1.1 0h0.7m-0.3 0h0.7m-0.6 0h0.7m0 0h0.7m-0.5 0h0.7m1 0h0.7m0.5 0h0.7m0.3 0h0.7m4.6 0h0.7m1.2 0h0.7m-20.6 0.1h0.7m0 0h0.7m1.3 0h0.7m1 0h0.7m-0.3 0h0.7m0.3 0h0.7m-0.3 0h0.7m3.2 0h0.7m-0.7 0h0.7m5.9 0h0.7m-13.7 0.1h0.7m0.1 0h0.7m0.9 0h0.7m1 0h0.7m-0.4 0h0.7m0.9 0h0.7m-0.3 0h0.7m1.3 0h0.7m0.1 0h0.7m2.2 0h0.7m-0.5 0h0.7m1.1 0h0.7m-18.9 0.1h0.7m0.1 0h0.7m1 0h0.7m-0.6 0h0.7m1.8 0h0.7m-0.2 0h0.7m-0.6 0h0.7m-0.6 0h0.7m1.1 0h0.7m3.1 0h0.7m3.8 0h0.7m0 0h0.7m4.5 0h0.7m-21.8 0.1h0.7m5.2 0h0.7m0.2 0h0.7m1.6 0h0.7m-0.1 0h0.7m0 0h0.7m0.4 0h0.7m0.6 0h0.7m-0.6 0h0.7m0.1 0h0.7m1.8 0h0.7m-0.2 0h0.7m1.6 0h0.7m-21.5 0.1h0.7m4.7 0h0.7m3.6 0h0.7m-0.4 0h0.7m-0.6 0h0.7m0.9 0h0.7m1.7 0h0.7m0.8 0h0.7m2.7 0h0.7m-13.3 0.1h0.7m0.9 0h0.7m2 0h0.7m0.7 0h0.7m3.6 0h0.7m-0.7 0h0.7m5.7 0h0.7m-24.3 0.1h0.7m5.9 0h0.7m-0.5 0h0.7m1.2 0h0.7m1.2 0h0.7m0.5 0h0.7m2.8 0h0.7m-0.5 0h0.7m0.2 0h0.7m-0.5 0h0.7m-0.4 0h0.7m0.6 0h0.7m-0.3 0h0.7m0.7 0h0.7m-17.2 0.1h0.7m0 0h0.7m1.1 0h0.7m-0.2 0h0.7m0.9 0h0.7m0.8 0h0.7m-0.2 0h0.7m1 0h0.7m3.2 0h0.7m2.5 0h0.7m2.9 0h0.7m-19.6 0.1h0.7m4 0h0.7m0.3 0h0.7m-0.6 0h0.7m0.2 0h0.7m-0.2 0h0.7m-0.6 0h0.7m1.6 0h0.7m3.4 0h0.7m3.6 0h0.7m0.3 0h0.7m0.3 0h0.7m0.2 0h0.7m0.4 0h0.7m-26.2 0.1h0.7m0 0h0.7m5.4 0h0.7m0.8 0h0.7m-0.2 0h0.7m-0.1 0h0.7m-0.7 0h0.7m1.4 0h0.7m0 0h0.7m0.3 0h0.7m0.3 0h0.7m1.4 0h0.7m3.2 0h0.7m-21.5 0.1h0.7m5.7 0h0.7m4.6 0h0.7m-0.6 0h0.7m-0.2 0h0.7m3.4 0h0.7m0.2 0h0.7m4.4 0h0.7m-0.2 0h0.7m1.6 0h0.7m1.2 0h0.7m-18.2 0.1h0.7m0.1 0h0.7m1.3 0h0.7m1 0h0.7m-0.5 0h0.7m0 0h0.7m-0.1 0h0.7m-0.3 0h0.7m0.2 0h0.7m-0.7 0h0.7m-0.7 0h0.7m0.2 0h0.7m0.5 0h0.7m0 0h0.7m0 0h0.7m2.6 0h0.7m-26.7 0.1h0.7m1.9 0h0.7m2.4 0h0.7m1.9 0h0.7m3.8 0h0.7m1.4 0h0.7m8 0h0.7m-0.6 0h0.7m-29.4 0.1h0.7m9.8 0h0.7m2.7 0h0.7m2.5 0h0.7m3.4 0h0.7m3.6 0h0.7m-0.5 0h0.7m1.8 0h0.7m-0.1 0h0.7m-17.9 0.1h0.7m3.6 0h0.7m-0.2 0h0.7m-0.5 0h0.7m2.2 0h0.7m1 0h0.7m0.2 0h0.7m0.5 0h0.7m0.1 0h0.7m0.2 0h0.7m0.1 0h0.7m-0.5 0h0.7m4.5 0h0.7m-22.9 0.1h0.7m-0.1 0h0.7m2.1 0h0.7m-0.4 0h0.7m0.1 0h0.7m6.3 0h0.7m-0.4 0h0.7m1.5 0h0.7m-0.6 0h0.7m2.7 0h0.7m-11.7 0.1h0.7m0 0h0.7m1.8 0h0.7m-0.7 0h0.7m0.2 0h0.7m0.5 0h0.7m2 0h0.7m-10.4 0.1h0.7m0.8 0h0.7m2.1 0h0.7m1.7 0h0.7m2.9 0h0.7m3 0h0.7m-18.2 0.1h0.7m1.7 0h0.7m1.4 0h0.7m3.4 0h0.7m-0.3 0h0.7m-0.5 0h0.7m1.1 0h0.7m-0.4 0h0.7m0.4 0h0.7m3.8 0h0.7m0.2 0h0.7m-13.7 0.1h0.7m3.8 0h0.7m3.2 0h0.7m6 0h0.7m-18.6 0.1h0.7m0.3 0h0.7m0.8 0h0.7m-0.7 0h0.7m2.2 0h0.7m1.1 0h0.7m2.5 0h0.7m0.5 0h0.7m1 0h0.7m0.4 0h0.7m-10.3 0.1h0.7m-0.5 0h0.7m5.7 0h0.7m3.9 0h0.7m-0.4 0h0.7m-18.9 0.1h0.7m0.5 0h0.7m1.4 0h0.7m2 0h0.7m0.4 0h0.7m3.2 0h0.7m2.8 0h0.7m-0.3 0h0.7m1.2 0h0.7m-20.7 0.1h0.7m1.7 0h0.7m0.6 0h0.7m3.6 0h0.7m-0.2 0h0.7m-0.4 0h0.7m2.6 0h0.7m-0.7 0h0.7m1.8 0h0.7m0 0h0.7m1.8 0h0.7m0.3 0h0.7m0.2 0h0.7m-0.7 0h0.7m4.7 0h0.7m-21.5 0.1h0.7m6.5 0h0.7m3.9 0h0.7m2.8 0h0.7m-0.5 0h0.7m1.4 0h0.7m-12.9 0.1h0.7m-0.6 0h0.7m5.4 0h0.7m1.9 0h0.7m3.9 0h0.7m-23.5 0.1h0.7m4.6 0h0.7m2.1 0h0.7m1.6 0h0.7m1.7 0h0.7m1.9 0h0.7m0 0h0.7m-14.4 0.1h0.7m6.9 0h0.7m1.9 0h0.7m-0.6 0h0.7m-0.7 0h0.7m0.5 0h0.7m-0.2 0h0.7m0.2 0h0.7m-0.6 0h0.7m-0.5 0h0.7m0.4 0h0.7m-17.4 0.1h0.7m5.7 0h0.7m5.7 0h0.7m2.1 0h0.7m-0.6 0h0.7m-0.4 0h0.7m2 0h0.7m3.3 0h0.7m3.9 0h0.7m-28.4 0.1h0.7m2.2 0h0.7m3.5 0h0.7m-0.5 0h0.7m0.6 0h0.7m0.3 0h0.7m0.6 0h0.7m1.3 0h0.7m-0.7 0h0.7m5.4 0h0.7m-0.6 0h0.7m0.2 0h0.7m6 0h0.7m-27.2 0.1h0.7m5.3 0h0.7m0.9 0h0.7m3.1 0h0.7m2 0h0.7m4.1 0h0.7m4 0h0.7m3.8 0h0.7m-25.3 0.1h0.7m-0.2 0h0.7m6.6 0h0.7m4 0h0.7m1.4 0h0.7m6.5 0h0.7m-21.1 0.1h0.7m4.3 0h0.7m0.6 0h0.7m0.2 0h0.7m0.3 0h0.7m-0.7 0h0.7m2.3 0h0.7m-0.5 0h0.7m-0.2 0h0.7m-0.5 0h0.7m-0.4 0h0.7m1 0h0.7m1.6 0h0.7m-20.1 0.1h0.7m0.5 0h0.7m10.6 0h0.7m2.6 0h0.7m-6.8 0.1h0.7m0.5 0h0.7m4.4 0h0.7m5.8 0h0.7m-21.6 0.1h0.7m8.4 0h0.7m-0.4 0h0.7m-0.5 0h0.7m-0.4 0h0.7m0.4 0h0.7m-0.1 0h0.7m1.3 0h0.7m-16.4 0.1h0.7m6.5 0h0.7m0.9 0h0.7m0.8 0h0.7m-0.1 0h0.7m3.6 0h0.7m1.7 0h0.7m-0.4 0h0.7m1.6 0h0.7m2.4 0h0.7m-24.9 0.1h0.7m5.1 0h0.7m1.7 0h0.7m1.4 0h0.7m-0.4 0h0.7m0.1 0h0.7m0.5 0h0.7m0 0h0.7m1.8 0h0.7m2.3 0h0.7m3.3 0h0.7m-25.6 0.1h0.7m8.3 0h0.7m1.2 0h0.7m3.9 0h0.7m-0.3 0h0.7m0.4 0h0.7m1.3 0h0.7m0.1 0h0.7m-0.4 0h0.7m-0.4 0h0.7m-13.7 0.1h0.7m1 0h0.7m4.3 0h0.7m0.3 0h0.7m2.8 0h0.7m-17 0.1h0.7m3.6 0h0.7m5.5 0h0.7m0.8 0h0.7m-0.1 0h0.7m-0.3 0h0.7m0.3 0h0.7m2.5 0h0.7m0.2 0h0.7m1.5 0h0.7m-14.6 0.1h0.7m4.5 0h0.7m0.4 0h0.7m0.9 0h0.7m3 0h0.7m2.9 0h0.7m-0.5 0h0.7m-18.6 0.1h0.7m2.8 0h0.7m2.1 0h0.7m0.6 0h0.7m0.7 0h0.7m-0.2 0h0.7m0.4 0h0.7m0.4 0h0.7m0.5 0h0.7m0.6 0h0.7m0.5 0h0.7m2.1 0h0.7m-19.3 0.1h0.7m1.1 0h0.7m2.1 0h0.7m0.8 0h0.7m-0.3 0h0.7m-0.5 0h0.7m-0.1 0h0.7m0.1 0h0.7m1.4 0h0.7m4.2 0h0.7m-0.1 0h0.7m-20.1 0.1h0.7m3.6 0h0.7m8.2 0h0.7m-11.4 0.1h0.7m3 0h0.7m1 0h0.7m0.1 0h0.7m1.9 0h0.7m0.6 0h0.7m0.5 0h0.7m-0.3 0h0.7m1.5 0h0.7m-0.3 0h0.7m1.9 0h0.7m-0.1 0h0.7m-0.3 0h0.7m7.4 0h0.7m-24 0.1h0.7m1 0h0.7m-0.2 0h0.7m2.9 0h0.7m-0.1 0h0.7m0.2 0h0.7m4.1 0h0.7m0.2 0h0.7m-0.7 0h0.7m1.1 0h0.7m-14.2 0.1h0.7m-0.1 0h0.7m-0.4 0h0.7m6.8 0h0.7m-0.4 0h0.7m-0.3 0h0.7m-0.2 0h0.7m-13.5 0.1h0.7m2.3 0h0.7m0.4 0h0.7m1.3 0h0.7m-0.1 0h0.7m-0.4 0h0.7m0.5 0h0.7m1.6 0h0.7m1.5 0h0.7m1.7 0h0.7m0.1 0h0.7m0.7 0h0.7m-0.5 0h0.7m3.3 0h0.7m-23.4 0.1h0.7m2.4 0h0.7m2.7 0h0.7m2.5 0h0.7m0.5 0h0.7m1.4 0h0.7m-0.4 0h0.7m3.6 0h0.7m-17.5 0.1h0.7m0.4 0h0.7m0.5 0h0.7m2.4 0h0.7m0 0h0.7m0.4 0h0.7m3.7 0h0.7m5.8 0h0.7m-11.8 0.1h0.7m0.2 0h0.7m-0.6 0h0.7m3.2 0h0.7m-0.1 0h0.7m1.8 0h0.7m-22.5 0.1h0.7m9.8 0h0.7m0.1 0h0.7m0.9 0h0.7m1.2 0h0.7m0.1 0h0.7m1.8 0h0.7m-0.4 0h0.7m-8.9 0.1h0.7m5.4 0h0.7m1 0h0.7m-0.3 0h0.7m-0.4 0h0.7m0.3 0h0.7m1.5 0h0.7m2.1 0h0.7m-20.2 0.1h0.7m0.3 0h0.7m3.1 0h0.7m0 0h0.7m0.9 0h0.7m0.5 0h0.7m4.3 0h0.7m2.4 0h0.7m-0.2 0h0.7m3.8 0h0.7m2.1 0h0.7m-20.5 0.1h0.7m-0.2 0h0.7m0 0h0.7m0 0h0.7m1.5 0h0.7m-0.3 0h0.7m0.9 0h0.7m0.4 0h0.7m1.6 0h0.7m10.5 0h0.7m-28.7 0.1h0.7m2.2 0h0.7m-0.7 0h0.7m2.6 0h0.7m0.9 0h0.7m0.8 0h0.7m2.9 0h0.7m1.6 0h0.7m1.8 0h0.7m2.2 0h0.7m3.6 0h0.7m-17.3 0.1h0.7m0.7 0h0.7m0.1 0h0.7m3.4 0h0.7m3.1 0h0.7m-12.9 0.1h0.7m2.7 0h0.7m-0.3 0h0.7m4.3 0h0.7m16.7 0h0.7m-23.9 0.1h0.7m-0.2 0h0.7m5.5 0h0.7m0.7 0h0.7m1.2 0h0.7m4.6 0h0.7m-18.7 0.1h0.7m0.6 0h0.7m3.2 0h0.7m4.4 0h0.7m-10.5 0.1h0.7m2.5 0h0.7m2 0h0.7m-0.6 0h0.7m0.2 0h0.7m-0.5 0h0.7m1.3 0h0.7m7.3 0h0.7m4.9 0h0.7m-20.7 0.1h0.7m2.3 0h0.7m1.1 0h0.7m0.3 0h0.7m1.9 0h0.7m-14.3 0.1h0.7m1.4 0h0.7m-0.5 0h0.7m4.7 0h0.7m1.1 0h0.7m1 0h0.7m0.4 0h0.7m-0.5 0h0.7m1 0h0.7m4.4 0h0.7m0.2 0h0.7m-12.2 0.1h0.7m0.1 0h0.7m3.5 0h0.7m0.7 0h0.7m0.5 0h0.7m-0.3 0h0.7m-18.3 0.1h0.7m8.6 0h0.7m2.4 0h0.7m0 0h0.7m2.2 0h0.7m3.2 0h0.7m-11 0.1h0.7m0 0h0.7m-0.6 0h0.7m0.4 0h0.7m1 0h0.7m0.8 0h0.7m2.1 0h0.7m-0.4 0h0.7m-21.1 0.1h0.7m4.2 0h0.7m7 0h0.7m1.4 0h0.7m6.9 0h0.7m1.5 0h0.7m-18.9 0.1h0.7m1.1 0h0.7m0.6 0h0.7m-0.3 0h0.7m0.7 0h0.7m-0.7 0h0.7m-0.1 0h0.7m1.9 0h0.7m5.7 0h0.7m0 0h0.7m-16.5 0.1h0.7m5.3 0h0.7m0.2 0h0.7m-0.5 0h0.7m7.9 0h0.7m2.4 0h0.7m-15.6 0.1h0.7m2.1 0h0.7m-5.3 0.1h0.7m7.5 0h0.7m0.1 0h0.7m-0.4 0h0.7m1.5 0h0.7m1.6 0h0.7m-11.4 0.1h0.7m-0.5 0h0.7m0 0h0.7m-0.2 0h0.7m2.7 0h0.7m-0.7 0h0.7m-0.7 0h0.7m3.6 0h0.7m-13.9 0.1h0.7m1.7 0h0.7m0.3 0h0.7m1.6 0h0.7m-6 0.1h0.7m1 0h0.7m-0.2 0h0.7m0.4 0h0.7m0 0h0.7m-0.6 0h0.7m0.5 0h0.7m1.9 0h0.7m-10 0.1h0.7m-0.7 0h0.7m0.6 0h0.7m0.1 0h0.7m7.1 0h0.7m0.4 0h0.7m2.2 0h0.7m-0.1 0h0.7m1.5 0h0.7m-8.9 0.1h0.7m1.9 0h0.7m-0.7 0h0.7m-0.4 0h0.7m-0.6 0h0.7m3.7 0h0.7m-9.8 0.1h0.7m1.6 0h0.7m2.4 0h0.7m-12.4 0.1h0.7m1.8 0h0.7m-4 0.1h0.7m0 0h0.7m0.4 0h0.7m7.8 0h0.7m-4.6 0.1h0.7m2.3 0h0.7m7.8 0h0.7m-12.7 0.1h0.7m5.3 0h0.7m0.5 0h0.7m-18.9 0.1h0.7m6.2 0h0.7m5.3 0h0.7m-0.6 0h0.7m6.7 0h0.7m0.3 0h0.7m1.2 0h0.7m-20.7 0.1h0.7m8.3 0h0.7m-2.6 0.1h0.7m-7 0.1h0.7m1.6 0h0.7m3.9 0h0.7m3.4 0h0.7m4.5 0h0.7m0.5 0h0.7m0.1 0h0.7m1.2 0h0.7m-0.6 0h0.7m-15.8 0.1h0.7m2.9 0h0.7m5.4 0h0.7m10.7 0h0.7m-24 0.1h0.7m1.1 0h0.7m-0.2 0h0.7m0.6 0h0.7m1.5 0h0.7m2.4 0h0.7m1.5 0h0.7m-0.3 0h0.7m-7.1 0.1h0.7m1.4 0h0.7m0.3 0h0.7m9.2 0h0.7m0.9 0h0.7m-26.7 0.1h0.7m10.6 0h0.7m5.2 0h0.7m3.1 0h0.7m-18.5 0.1h0.7m1.2 0h0.7m1.8 0h0.7m13.8 0h0.7m-13.8 0.1h0.7m8 0h0.7m3.5 0h0.7m-10 0.1h0.7m9.2 0.1h0.7m-16 0.1h0.7m0.9 0h0.7m6.6 0h0.7m3.2 0h0.7m-25.9 0.1h0.7m11.4 0h0.7m6.5 0h0.7m-13 0.1h0.7m7.1 0h0.7m11.5 0h0.7m-21.3 0.1h0.7m12.1 0h0.7m-2.4 0.1h0.7m2.2 0.1h0.7m2.6 0h0.7m6 0h0.7m-16.9 0.1h0.7m1.2 0h0.7m9.9 0h0.7m-15.9 0.1h0.7m6.8 0h0.7m1.9 0h0.7m6.6 0h0.7m-21.1 0.1h0.7m9.8 0h0.7m0.9 0h0.7m-10.1 0.1h0.7m2.7 0h0.7m2.3 0h0.7m-17.1 0.2h0.7m22.7 0h0.7m-11.7 0.1h0.7m4.6 0.1h0.7m3.3 0h0.7m-5.6 0.1h0.7m-2.8 0.1h0.7m19.6 0h0.7m-16.9 0.1h0.7m-1 0.1h0.7m3.2 0h0.7m-9.4 0.1h0.7m9.9 0h0.7m-12.9 0.1h0.7m2.8 0h0.7m5 0h0.7m-13.9 0.1h0.7m1.9 0h0.7m6.2 0h0.7m-3.2 0.1h0.7m8 0h0.7m5.5 0h0.7m-21.4 0.2h0.7m5.2 0h0.7m2.5 0h0.7m1.1 0h0.7m-14.8 0.1h0.7m6 0h0.7m-1.8 0.2h0.7m5.9 0h0.7m-4.6 0.1h0.7m2.5 0.1h0.7m3.7 0.2h0.7m-15.3 0.1h0.7m10.4 0h0.7m2 0h0.7m-2.3 0.3h0.7m3.5 0h0.7m2.5 0h0.7m-17.1 0.1h0.7m-4.2 0.1h0.7m6.9 0h0.7m-0.3 0.1h0.7m2.4 0h0.7m-5.6 0.1h0.7m5.5 0h0.7m-2.4 0.3h0.7m-15.4 0.1h0.7m8.9 0h0.7m8.2 0h0.7m-8.3 0.3h0.7m-0.3 0h0.7m-13.3 0.1h0.7m11.4 0.1h0.7m-1.5 0.2h0.7m5 0h0.7m-4.8 0.2h0.7m7.1 0.1h0.7m-11.8 0.1h0.7m5.1 0h0.7m2.9 0.1h0.7m-12.2 0.1h0.7m2.1 0h0.7m3.8 0h0.7m2.1 0h0.7m-9.6 0.2h0.7m12.8 0.1h0.7m-8.9 0.3h0.7m-8.6 1.1h0.7m12.3 0h0.7m-8.1 0.3h0.7m-5.1 0.6h0.7m8.3 0.7h0.7m-0.1 0.5h0.7m3.5 0.2h0.7m5.2 0.7h0.7m-12.1 1.2h0.7m-3.2 1.8h0.7" stroke="rgb(216, 48, 48)" stroke-width="0.7" fill="none"/>
<path d="M91.4 374h0.6m-2.7 4.5h0.6m0.6 0h0.6m-0.9 0.5h0.6m-0.8 0.7h0.6m6.9 0.5h0.6m-2.3 0.3h0.6m-6.5 0.3h0.6m-0.2 0h0.6m2.4 1h0.6m4.1 0h0.6m-8.9 0.1h0.6m-2.7 0.1h0.6m-3 0.4h0.6m5.2 0.4h0.6m4.3 0.1h0.6m-9 0.2h0.6m9.4 0.2h0.6m-5.3 0.3h0.6m3.2 0h0.6m-8 0.2h0.6m4.4 0.2h0.6m-3.4 0.4h0.6m3.5 0.3h0.6m0.3 0.2h0.6m-4.4 0.1h0.6m0.8 0.4h0.6m-9.2 0.4h0.6m16.4 0.1h0.6m-16.6 0.7h0.6m6 0.2h0.6m-4.1 0.2h0.6m-4.3 0.1h0.6m9 0.1h0.6m-8.6 0.7h0.6m2.7 0h0.6m2.5 0.6h0.6m-3.7 0.1h0.6m4.4 0h0.6m2.1 0h0.6m-10 0.2h0.6m4 0.8h0.6m-3.8 1.1h0.6m1.5 0.1h0.6m5.3 1.7h0.6m-5.4 0.3h0.6m-5.6 1.5h0.6" stroke="rgb(118, 104, 196)" stroke-width="0.6" fill="none"/>
<path d="M93.5 339.1h0.9m0.8 0h0.9m-16 0.4h0.9m-2.4 0.1h0.9m5.6 0h0.9m2.7 0h0.9m-11.8 0.2h0.9m19.1 0.1h0.9m-26.4 0.1h0.9m11.8 0h0.9m3.5 0h0.9m-9.5 0.2h0.9m-4.8 0.3h0.9m15 0h0.9m-3.6 0.1h0.9m-4.6 0.1h0.9m-9.4 0.1h0.9m7 0h0.9m1.6 0.1h0.9m-12.1 0.1h0.9m0.4 0h0.9m0.2 0h0.9m3.3 0h0.9m2.8 0h0.9m4.7 0h0.9m7.9 0h0.9m-12.8 0.1h0.9m10.4 0.1h0.9m-0.2 0h0.9m-19.8 0.1h0.9m-9.8 0.1h0.9m-1.9 0.1h0.9m11.6 0h0.9m2.2 0h0.9m4.6 0h0.9m-16.8 0.1h0.9m5.5 0h0.9m8.2 0h0.9m3 0h0.9m-14.5 0.1h0.9m9.1 0h0.9m3.3 0h0.9m-25.5 0.1h0.9m21 0h0.9m-19.8 0.1h0.9m-0.8 0h0.9m0.2 0h0.9m5.8 0h0.9m3.3 0h0.9m1.1 0h0.9m-12.1 0.1h0.9m1.5 0h0.9m-0.8 0h0.9m7.6 0h0.9m0.3 0h0.9m-0.2 0h0.9m1.9 0h0.9m6.1 0h0.9m-29.6 0.1h0.9m4.1 0h0.9m9.4 0h0.9m2.4 0h0.9m0.2 0h0.9m-0.1 0h0.9m5.4 0h0.9m-17.8 0.1h0.9m7.5 0h0.9m0.1 0h0.9m1.3 0h0.9m-0.2 0h0.9m-14.2 0.1h0.9m13.6 0h0.9m-26.6 0.1h0.9m4.3 0h0.9m8.5 0h0.9m-0.1 0h0.9m-0.2 0h0.9m5.8 0h0.9m-0.2 0h0.9m-20.7 0.1h0.9m0.7 0h0.9m0.1 0h0.9m0.9 0h0.9m0.7 0h0.9m2.3 0h0.9m1.3 0h0.9m-16.2 0.1h0.9m1.7 0h0.9m4.6 0h0.9m4.4 0h0.9m-0.1 0h0.9m1.5 0h0.9m11.2 0h0.9m-23.7 0.1h0.9m2.1 0h0.9m5 0h0.9m0.6 0h0.9m-0.7 0h0.9m0.5 0h0.9m0.9 0h0.9m6.7 0h0.9m-26.4 0.1h0.9m2.1 0h0.9m2.2 0h0.9m3.2 0h0.9m1.9 0h0.9m-0.2 0h0.9m1.1 0h0.9m1.1 0h0.9m-0.7 0h0.9m0.6 0h0.9m-0.7 0h0.9m-19.1 0.1h0.9m3.1 0h0.9m1.1 0h0.9m0.5 0h0.9m3.3 0h0.9m0.7 0h0.9m-0.4 0h0.9m1.7 0h0.9m3.4 0h0.9m4.8 0h0.9m-20.4 0.1h0.9m3.5 0h0.9m0 0h0.9m2.1 0h0.9m9.2 0h0.9m-26.3 0.1h0.9m3.8 0h0.9m4.7 0h0.9m2.4 0h0.9m13.8 0h0.9m-31 0.1h0.9m1.5 0h0.9m-0.2 0h0.9m1 0h0.9m-0.3 0h0.9m4.1 0h0.9m0.6 0h0.9m0.3 0h0.9m0.4 0h0.9m1.3 0h0.9m1.2 0h0.9m3.7 0h0.9m-24.9 0.1h0.9m0.8 0h0.9m2.1 0h0.9m2.2 0h0.9m-0.1 0h0.9m0 0h0.9m0.9 0h0.9m0.6 0h0.9m0.3 0h0.9m4.9 0h0.9m1.6 0h0.9m0.2 0h0.9m-0.8 0h0.9m2.1 0h0.9m-25.7 0.1h0.9m8.7 0h0.9m2 0h0.9m4.6 0h0.9m0.9 0h0.9m2.6 0h0.9m1.3 0h0.9m-0.6 0h0.9m2.7 0h0.9m-25.1 0.1h0.9m0.5 0h0.9m-0.8 0h0.9m-0.7 0h0.9m-0.7 0h0.9m-0.6 0h0.9m2.6 0h0.9m0.9 0h0.9m10.9 0h0.9m4.9 0h0.9m-27.6 0.1h0.9m2.6 0h0.9m1.4 0h0.9m0.4 0h0.9m1.5 0h0.9m3 0h0.9m-19.4 0.1h0.9m2.4 0h0.9m0 0h0.9m-0.9 0h0.9m2.4 0h0.9m2.9 0h0.9m0.4 0h0.9m2.4 0h0.9m5.6 0h0.9m0.6 0h0.9m-23.4 0.1h0.9m4.6 0h0.9m-0.7 0h0.9m1.8 0h0.9m2.4 0h0.9m4.1 0h0.9m5.4 0h0.9m2.3 0h0.9m-0.7 0h0.9m-20.3 0.1h0.9m-0.7 0h0.9m3.1 0h0.9m-0.1 0h0.9m3.9 0h0.9m5.6 0h0.9m1.6 0h0.9m-18.5 0.1h0.9m8.1 0h0.9m7.5 0h0.9m-25.6 0.1h0.9m0.9 0h0.9m0.6 0h0.9m0.6 0h0.9m0.5 0h0.9m10.2 0h0.9m2 0h0.9m3 0h0.9m-0.8 0h0.9m1.9 0h0.9m2.9 0h0.9m-33.6 0.1h0.9m2.7 0h0.9m3.1 0h0.9m-0.6 0h0.9m-0.9 0h0.9m3.9 0h0.9m8.2 0h0.9m-20.1 0.1h0.9m-0.6 0h0.9m2.8 0h0.9m5 0h0.9m0.4 0h0.9m2.1 0h0.9m0.5 0h0.9m2.6 0h0.9m-0.4 0h0.9m-0.7 0h0.9m1.9 0h0.9m3.5 0h0.9m-25.2 0.1h0.9m10.5 0h0.9m-0.7 0h0.9m0.4 0h0.9m0.7 0h0.9m-0.5 0h0.9m-16.9 0.1h0.9m0.6 0h0.9m4.5 0h0.9m8.7 0h0.9m0.6 0h0.9m-17.3 0.1h0.9m1.3 0h0.9m0.1 0h0.9m0.1 0h0.9m-0.3 0h0.9m0 0h0.9m0.6 0h0.9m3.8 0h0.9m4.4 0h0.9m3.4 0h0.9m-27.6 0.1h0.9m-0.4 0h0.9m-0.1 0h0.9m0.8 0h0.9m-0.6 0h0.9m0.1 0h0.9m-0.4 0h0.9m8.2 0h0.9m-0.5 0h0.9m2.3 0h0.9m4.3 0h0.9m1.4 0h0.9m0.7 0h0.9m-28.3 0.1h0.9m1.4 0h0.9m3.9 0h0.9m1 0h0.9m-0.7 0h0.9m0.6 0h0.9m-0.1 0h0.9m-0.3 0h0.9m-0.9 0h0.9m5.5 0h0.9m2.2 0h0.9m-16.9 0.1h0.9m7.7 0h0.9m0.9 0h0.9m5.2 0h0.9m-0.3 0h0.9m1.1 0h0.9m-0.2 0h0.9m5 0h0.9m-33.2 0.1h0.9m4.7 0h0.9m0 0h0.9m-0.2 0h0.9m5.1 0h0.9m1.6 0h0.9m1.5 0h0.9m1.2 0h0.9m9.8 0h0.9m0.1 0h0.9m-30.4 0.1h0.9m0.2 0h0.9m3.4 0h0.9m-0.5 0h0.9m2.8 0h0.9m5.2 0h0.9m1.2 0h0.9m-0.9 0h0.9m-20.7 0.1h0.9m2.3 0h0.9m0.2 0h0.9m-0.3 0h0.9m-0.6 0h0.9m1.2 0h0.9m2.7 0h0.9m-0.5 0h0.9m-0.4 0h0.9m0.9 0h0.9m3 0h0.9m-0.1 0h0.9m5.9 0h0.9m-0.1 0h0.9m1.5 0h0.9m0.1 0h0.9m-27.9 0.1h0.9m-0.7 0h0.9m-0.3 0h0.9m0.1 0h0.9m0.8 0h0.9m0.3 0h0.9m-0.6 0h0.9m4.8 0h0.9m1 0h0.9m7.7 0h0.9m-0.2 0h0.9m3.3 0h0.9m0.9 0h0.9m-0.5 0h0.9m1 0h0.9m-33.7 0.1h0.9m2.7 0h0.9m1.7 0h0.9m3.3 0h0.9m-0.6 0h0.9m-0.6 0h0.9m-0.1 0h0.9m-0.6 0h0.9m0.8 0h0.9m0.6 0h0.9m1.9 0h0.9m-0.2 0h0.9m0.8 0h0.9m0.9 0h0.9m1.1 0h0.9m1 0h0.9m0.5 0h0.9m1.7 0h0.9m-0.2 0h0.9m0.7 0h0.9m-30.1 0.1h0.9m2.9 0h0.9m-0.7 0h0.9m-0.1 0h0.9m1.9 0h0.9m1.8 0h0.9m2.4 0h0.9m2.7 0h0.9m0.7 0h0.9m3.2 0h0.9m-0.5 0h0.9m-0.8 0h0.9m1.7 0h0.9m2.7 0h0.9m-0.1 0h0.9m-33.1 0.1h0.9m4.3 0h0.9m-0.4 0h0.9m0.3 0h0.9m1.1 0h0.9m0.9 0h0.9m-0.6 0h0.9m-0.8 0h0.9m3.7 0h0.9m-0.6 0h0.9m0.2 0h0.9m-0.2 0h0.9m0.2 0h0.9m3.8 0h0.9m-0.7 0h0.9m-0.7 0h0.9m1.3 0h0.9m0.8 0h0.9m-30 0.1h0.9m-0.4 0h0.9m0.6 0h0.9m0.8 0h0.9m5.3 0h0.9m1.4 0h0.9m16.4 0h0.9m-26.5 0.1h0.9m-0.8 0h0.9m-0.7 0h0.9m1.5 0h0.9m-0.7 0h0.9m2.9 0h0.9m-0.2 0h0.9m-0.3 0h0.9m0.6 0h0.9m-0.3 0h0.9m3.3 0h0.9m6.5 0h0.9m-0.6 0h0.9m1.1 0h0.9m1.1 0h0.9m-26.5 0.1h0.9m-0.3 0h0.9m5.5 0h0.9m1.4 0h0.9m4.2 0h0.9m1.4 0h0.9m-0.3 0h0.9m1.5 0h0.9m3.5 0h0.9m-23.2 0.1h0.9m4.8 0h0.9m3 0h0.9m-0.7 0h0.9m6.2 0h0.9m1.8 0h0.9m5.4 0h0.9m-33 0.1h0.9m3 0h0.9m0.6 0h0.9m-0.7 0h0.9m-0.1 0h0.9m-0.9 0h0.9m-0.7 0h0.9m2.3 0h0.9m2.8 0h0.9m-0.4 0h0.9m14.6 0h0.9m0.4 0h0.9m-30.5 0.1h0.9m0.3 0h0.9m-0.2 0h0.9m0.1 0h0.9m-0.7 0h0.9m3.7 0h0.9m-0.7 0h0.9m1.3 0h0.9m3.3 0h0.9m2.9 0h0.9m5.9 0h0.9m3 0h0.9m-28.3 0.1h0.9m0.2 0h0.9m0.1 0h0.9m0.2 0h0.9m2.6 0h0.9m1.2 0h0.9m0.3 0h0.9m1.6 0h0.9m5.1 0h0.9m5.6 0h0.9m0.2 0h0.9m4.6 0h0.9m1.1 0h0.9m-35.2 0.1h0.9m1.5 0h0.9m1 0h0.9m1.9 0h0.9m-0.4 0h0.9m-0.2 0h0.9m-0.9 0h0.9m0.3 0h0.9m7 0h0.9m-0.5 0h0.9m-0.2 0h0.9m0 0h0.9m4.2 0h0.9m6.6 0h0.9m-0.8 0h0.9m-34.6 0.1h0.9m-0.3 0h0.9m1.3 0h0.9m0.8 0h0.9m0.9 0h0.9m-0.3 0h0.9m1 0h0.9m-0.5 0h0.9m-0.5 0h0.9m-0.7 0h0.9m-0.4 0h0.9m4.8 0h0.9m3.9 0h0.9m0.8 0h0.9m8.1 0h0.9m-31.4 0.1h0.9m-0.1 0h0.9m1.4 0h0.9m-0.2 0h0.9m-0.5 0h0.9m-0.5 0h0.9m-0.3 0h0.9m-0.4 0h0.9m2.5 0h0.9m1.5 0h0.9m-0.8 0h0.9m4 0h0.9m-0.2 0h0.9m4.4 0h0.9m-0.1 0h0.9m0.4 0h0.9m1.9 0h0.9m3.5 0h0.9m-32.9 0.1h0.9m1.7 0h0.9m-0.4 0h0.9m0.9 0h0.9m10.7 0h0.9m8.2 0h0.9m4.3 0h0.9m2.4 0h0.9m-34.2 0.1h0.9m0.4 0h0.9m-0.7 0h0.9m1.2 0h0.9m0.4 0h0.9m0.9 0h0.9m-0.2 0h0.9m-0.7 0h0.9m8.2 0h0.9m2.1 0h0.9m2 0h0.9m-0.9 0h0.9m2.2 0h0.9m1.6 0h0.9m-0.1 0h0.9m3.6 0h0.9m-35.5 0.1h0.9m1.1 0h0.9m5 0h0.9m1.2 0h0.9m3.2 0h0.9m1.4 0h0.9m3.8 0h0.9m11.2 0h0.9m-32.4 0.1h0.9m-0.6 0h0.9m1.6 0h0.9m3.8 0h0.9m-0.4 0h0.9m3.6 0h0.9m0.9 0h0.9m0.8 0h0.9m-0.2 0h0.9m-0.1 0h0.9m2.5 0h0.9m1.5 0h0.9m-0.6 0h0.9m6.6 0h0.9m-0.3 0h0.9m-34.1 0.1h0.9m5.1 0h0.9m0 0h0.9m0.5 0h0.9m1.8 0h0.9m-0.8 0h0.9m14 0h0.9m-22.5 0.1h0.9m-0.6 0h0.9m3.7 0h0.9m14.5 0h0.9m2.5 0h0.9m-0.6 0h0.9m3 0h0.9m-30.8 0.1h0.9m-0.1 0h0.9m1.4 0h0.9m-0.1 0h0.9m0.6 0h0.9m2.9 0h0.9m0 0h0.9m4.9 0h0.9m1.3 0h0.9m1.3 0h0.9m6.2 0h0.9m3 0h0.9m-31.5 0.1h0.9m3.1 0h0.9m-0.6 0h0.9m1.4 0h0.9m-0.6 0h0.9m0.8 0h0.9m2.4 0h0.9m1.1 0h0.9m2.6 0h0.9m-17.7 0.1h0.9m3 0h0.9m2.3 0h0.9m-0.3 0h0.9m3.6 0h0.9m7 0h0.9m-25.9 0.1h0.9m10.1 0h0.9m13.7 0h0.9m-0.5 0h0.9m-0.9 0h0.9m-0.8 0h0.9m2.6 0h0.9m-0.7 0h0.9m2.7 0h0.9m0.7 0h0.9m1.8 0h0.9m-38.2 0.1h0.9m-0.7 0h0.9m3 0h0.9m-0.4 0h0.9m-0.7 0h0.9m7.5 0h0.9m0.3 0h0.9m1.6 0h0.9m1 0h0.9m5.6 0h0.9m0.6 0h0.9m2 0h0.9m3.2 0h0.9m-0.7 0h0.9m-0.7 0h0.9m-27.5 0.1h0.9m1.1 0h0.9m1.6 0h0.9m-0.2 0h0.9m4.8 0h0.9m6.8 0h0.9m-0.8 0h0.9m-27.1 0.1h0.9m7.8 0h0.9m-0.3 0h0.9m5.5 0h0.9m1.4 0h0.9m5.5 0h0.9m-0.7 0h0.9m-0.8 0h0.9m-0.2 0h0.9m5.4 0h0.9m-32.6 0.1h0.9m1.1 0h0.9m0.4 0h0.9m0.3 0h0.9m1.5 0h0.9m0.9 0h0.9m0.1 0h0.9m1.7 0h0.9m0.4 0h0.9m0.3 0h0.9m1.2 0h0.9m-0.9 0h0.9m6.5 0h0.9m1.9 0h0.9m2.3 0h0.9m0.9 0h0.9m1.1 0h0.9m-24.8 0.1h0.9m2.8 0h0.9m2.3 0h0.9m0 0h0.9m2.7 0h0.9m1.3 0h0.9m0.6 0h0.9m-26.6 0.1h0.9m0.1 0h0.9m2.8 0h0.9m0.5 0h0.9m-0.1 0h0.9m0.6 0h0.9m0.1 0h0.9m1.8 0h0.9m2.2 0h0.9m2.3 0h0.9m-0.7 0h0.9m1.2 0h0.9m3.6 0h0.9m0.2 0h0.9m0.7 0h0.9m1.6 0h0.9m-28.7 0.1h0.9m-0.8 0h0.9m-0.3 0h0.9m0.5 0h0.9m-0.7 0h0.9m1.3 0h0.9m9.2 0h0.9m0.5 0h0.9m4.8 0h0.9m-0.9 0h0.9m2.9 0h0.9m2.7 0h0.9m3.1 0h0.9m-36 0.1h0.9m5 0h0.9m2.7 0h0.9m1.7 0h0.9m3 0h0.9m3.9 0h0.9m-0.8 0h0.9m1 0h0.9m1.9 0h0.9m0 0h0.9m0.1 0h0.9m3.5 0h0.9m1.7 0h0.9m-35.6 0.1h0.9m1.2 0h0.9m2.6 0h0.9m-0.2 0h0.9m2.9 0h0.9m15.1 0h0.9m0.1 0h0.9m2.9 0h0.9m2.1 0h0.9m-33.6 0.1h0.9m0 0h0.9m0.3 0h0.9m0.5 0h0.9m1.4 0h0.9m0.4 0h0.9m1.3 0h0.9m9.4 0h0.9m2 0h0.9m5.4 0h0.9m-0.2 0h0.9m1.7 0h0.9m-33.9 0.1h0.9m-0.6 0h0.9m-0.6 0h0.9m2 0h0.9m3.1 0h0.9m0 0h0.9m4.6 0h0.9m4.8 0h0.9m4 0h0.9m-0.8 0h0.9m4.8 0h0.9m0.5 0h0.9m1.6 0h0.9m-35.3 0.1h0.9m0.5 0h0.9m-0.5 0h0.9m-0.9 0h0.9m4.1 0h0.9m0.4 0h0.9m0 0h0.9m13.2 0h0.9m2 0h0.9m2.7 0h0.9m3.8 0h0.9m-34.9 0.1h0.9m-0.2 0h0.9m5.6 0h0.9m-0.5 0h0.9m2.4 0h0.9m0.6 0h0.9m6 0h0.9m6.9 0h0.9m-0.7 0h0.9m0.9 0h0.9m-0.6 0h0.9m-30.7 0.1h0.9m-0.3 0h0.9m0.6 0h0.9m0.4 0h0.9m-0.1 0h0.9m-0.6 0h0.9m-0.6 0h0.9m1.8 0h0.9m12.2 0h0.9m12 0h0.9m-33.5 0.1h0.9m4.2 0h0.9m-0.5 0h0.9m1.1 0h0.9m-0.2 0h0.9m2.8 0h0.9m7.4 0h0.9m4.3 0h0.9m7.4 0h0.9m-33.5 0.1h0.9m0.4 0h0.9m3.5 0h0.9m18.7 0h0.9m-24.7 0.1h0.9m8.6 0h0.9m-0.7 0h0.9m0.9 0h0.9m1 0h0.9m0.5 0h0.9m9.8 0h0.9m2.8 0h0.9m2.8 0h0.9m-34 0.1h0.9m0.6 0h0.9m0.3 0h0.9m0 0h0.9m-0.6 0h0.9m2.2 0h0.9m-0.8 0h0.9m4.6 0h0.9m4.4 0h0.9m9.8 0h0.9m1.3 0h0.9m-35.5 0.1h0.9m3.7 0h0.9m3.2 0h0.9m0.1 0h0.9m-0.5 0h0.9m-0.6 0h0.9m1.3 0h0.9m2.6 0h0.9m6.1 0h0.9m7.7 0h0.9m-0.9 0h0.9m2 0h0.9m-35.5 0.1h0.9m-0.7 0h0.9m-0.1 0h0.9m1.4 0h0.9m6.2 0h0.9m2.1 0h0.9m1.9 0h0.9m10.1 0h0.9m3.4 0h0.9m6 0h0.9m-37.6 0.1h0.9m1.7 0h0.9m1.8 0h0.9m-0.6 0h0.9m8.6 0h0.9m3.1 0h0.9m11.1 0h0.9m-32.3 0.1h0.9m-0.7 0h0.9m3.6 0h0.9m2.7 0h0.9m0.2 0h0.9m0.1 0h0.9m2.7 0h0.9m2.7 0h0.9m11.4 0h0.9m1.4 0h0.9m0.7 0h0.9m1.2 0h0.9m-37.2 0.1h0.9m1.5 0h0.9m-0.1 0h0.9m3.6 0h0.9m6.9 0h0.9m0.6 0h0.9m4.5 0h0.9m7 0h0.9m0.4 0h0.9m1.5 0h0.9m-0.5 0h0.9m-31.6 0.1h0.9m3.6 0h0.9m9.9 0h0.9m-0.7 0h0.9m0.9 0h0.9m1.3 0h0.9m6 0h0.9m1.1 0h0.9m-33.9 0.1h0.9m-0.1 0h0.9m0.2 0h0.9m0.2 0h0.9m-0.6 0h0.9m4.1 0h0.9m0 0h0.9m3.3 0h0.9m0.8 0h0.9m2.4 0h0.9m1.7 0h0.9m2.9 0h0.9m3.7 0h0.9m-0.8 0h0.9m6.3 0h0.9m-37.7 0.1h0.9m-0.8 0h0.9m2.1 0h0.9m0 0h0.9m-0.1 0h0.9m0.7 0h0.9m0.2 0h0.9m0.2 0h0.9m-0.7 0h0.9m17.5 0h0.9m-25.4 0.1h0.9m2.7 0h0.9m2.8 0h0.9m2.6 0h0.9m6.1 0h0.9m6.3 0h0.9m5.3 0h0.9m-34.3 0.1h0.9m4.2 0h0.9m1.3 0h0.9m0.9 0h0.9m2.8 0h0.9m3.5 0h0.9m3.4 0h0.9m0.6 0h0.9m-23.3 0.1h0.9m0.1 0h0.9m5.4 0h0.9m19.3 0h0.9m3 0h0.9m0.9 0h0.9m-32.5 0.1h0.9m0.6 0h0.9m-0.7 0h0.9m3.9 0h0.9m1.8 0h0.9m-0.6 0h0.9m10.6 0h0.9m6.2 0h0.9m1.2 0h0.9m-30.9 0.1h0.9m1.5 0h0.9m-0.7 0h0.9m2.3 0h0.9m-0.8 0h0.9m2.2 0h0.9m5.4 0h0.9m4 0h0.9m4.4 0h0.9m0.7 0h0.9m0.7 0h0.9m0.2 0h0.9m1 0h0.9m-35.4 0.1h0.9m-0.5 0h0.9m-0.7 0h0.9m-0.3 0h0.9m1.4 0h0.9m2.2 0h0.9m0.6 0h0.9m21.5 0h0.9m-0.7 0h0.9m0.6 0h0.9m-0.1 0h0.9m-33.7 0.1h0.9m-0.8 0h0.9m0.2 0h0.9m1.2 0h0.9m-0.7 0h0.9m1.3 0h0.9m1 0h0.9m0.7 0h0.9m7.6 0h0.9m1.4 0h0.9m-21.1 0.1h0.9m0.6 0h0.9m-0.8 0h0.9m0.3 0h0.9m3.7 0h0.9m3.7 0h0.9m1.2 0h0.9m3.6 0h0.9m2.6 0h0.9m-0.9 0h0.9m2.8 0h0.9m3.7 0h0.9m-0.1 0h0.9m-32.1 0.1h0.9m1.8 0h0.9m4.5 0h0.9m-0.5 0h0.9m3.8 0h0.9m7.6 0h0.9m-0.7 0h0.9m7.3 0h0.9m-30 0.1h0.9m0.5 0h0.9m-0.7 0h0.9m-0.4 0h0.9m-0.7 0h0.9m0.1 0h0.9m18.7 0h0.9m3.4 0h0.9m3 0h0.9m-28.3 0.1h0.9m4.8 0h0.9m8.3 0h0.9m-0.6 0h0.9m8.5 0h0.9m2.8 0h0.9m2.7 0h0.9m-36.8 0.1h0.9m1.2 0h0.9m1.6 0h0.9m7.3 0h0.9m10.5 0h0.9m1.7 0h0.9m9.6 0h0.9m-38.1 0.1h0.9m0 0h0.9m-0.6 0h0.9m1.4 0h0.9m-0.6 0h0.9m7.9 0h0.9m2.1 0h0.9m7.9 0h0.9m10.6 0h0.9m-34.4 0.1h0.9m-0.2 0h0.9m-0.7 0h0.9m2.7 0h0.9m11.4 0h0.9m-21.1 0.1h0.9m-0.7 0h0.9m3.1 0h0.9m-0.2 0h0.9m1.3 0h0.9m0.6 0h0.9m14.5 0h0.9m-0.4 0h0.9m2 0h0.9m6.8 0h0.9m-35.9 0.1h0.9m0.1 0h0.9m0.9 0h0.9m2.4 0h0.9m3.4 0h0.9m-0.4 0h0.9m6.8 0h0.9m12.8 0h0.9m-33 0.1h0.9m-0.6 0h0.9m2.1 0h0.9m-0.3 0h0.9m2.8 0h0.9m1.7 0h0.9m-0.4 0h0.9m11.7 0h0.9m-0.2 0h0.9m1 0h0.9m3.9 0h0.9m1.9 0h0.9m0.8 0h0.9m-0.1 0h0.9m-37.1 0.1h0.9m1.1 0h0.9m0.3 0h0.9m-0.9 0h0.9m-0.6 0h0.9m1.7 0h0.9m1.1 0h0.9m-0.2 0h0.9m3.9 0h0.9m3.3 0h0.9m10.8 0h0.9m-0.6 0h0.9m2.2 0h0.9m0.7 0h0.9m-33.7 0.1h0.9m3.6 0h0.9m-0.4 0h0.9m21.3 0h0.9m0.6 0h0.9m2.5 0h0.9m0.5 0h0.9m-33.6 0.1h0.9m0.6 0h0.9m4.7 0h0.9m2.5 0h0.9m0 0h0.9m7.6 0h0.9m10.4 0h0.9m-34.4 0.1h0.9m6.4 0h0.9m-0.5 0h0.9m1.1 0h0.9m2 0h0.9m-0.4 0h0.9m0.6 0h0.9m15.3 0h0.9m-0.7 0h0.9m1.8 0h0.9m-30.5 0.1h0.9m-0.1 0h0.9m10.4 0h0.9m2 0h0.9m-19.9 0.1h0.9m2.6 0h0.9m1.2 0h0.9m-0.9 0h0.9m1.8 0h0.9m5.8 0h0.9m0.1 0h0.9m10.5 0h0.9m4.2 0h0.9m0.6 0h0.9m-35 0.1h0.9m1.9 0h0.9m0.1 0h0.9m-0.1 0h0.9m22.6 0h0.9m-27.5 0.1h0.9m4.2 0h0.9m4.5 0h0.9m-11.8 0.1h0.9m0.8 0h0.9m2.3 0h0.9m-0.2 0h0.9m6.8 0h0.9m-14.4 0.1h0.9m-0.8 0h0.9m-0.4 0h0.9m15.8 0h0.9m11.2 0h0.9m-0.6 0h0.9m1.1 0h0.9m-30.5 0.1h0.9m7.9 0h0.9m9.2 0h0.9m10.9 0h0.9m-0.2 0h0.9m0.2 0h0.9m-36.6 0.1h0.9m-0.7 0h0.9m-0.1 0h0.9m-0.2 0h0.9m0 0h0.9m2.6 0h0.9m-0.4 0h0.9m0 0h0.9m-0.4 0h0.9m5.2 0h0.9m13 0h0.9m1.4 0h0.9m2.7 0h0.9m-33.5 0.1h0.9m1.7 0h0.9m0.8 0h0.9m5.4 0h0.9m17.8 0h0.9m0.9 0h0.9m-29.4 0.1h0.9m0 0h0.9m14.8 0h0.9m0.6 0h0.9m9.1 0h0.9m1.2 0h0.9m-35 0.1h0.9m5.2 0h0.9m4.1 0h0.9m7.1 0h0.9m15.2 0h0.9m-35.1 0.1h0.9m-0.4 0h0.9m2.5 0h0.9m1.1 0h0.9m0 0h0.9m23.9 0h0.9m-0.5 0h0.9m4.2 0h0.9m-35.5 0.1h0.9m4.2 0h0.9m2.8 0h0.9m-13.1 0.1h0.9m0.9 0h0.9m-0.2 0h0.9m1.2 0h0.9m0 0h0.9m0.6 0h0.9m0.2 0h0.9m0.4 0h0.9m16.6 0h0.9m0.3 0h0.9m6.6 0h0.9m-33.6 0.1h0.9m3.3 0h0.9m0.2 0h0.9m18.2 0h0.9m6.5 0h0.9m-32.2 0.1h0.9m1.5 0h0.9m-0.9 0h0.9m0.3 0h0.9m3.2 0h0.9m16.5 0h0.9m0.1 0h0.9m2.9 0h0.9m-31.9 0.1h0.9m12.4 0h0.9m9.8 0h0.9m1.1 0h0.9m0.1 0h0.9m0.2 0h0.9m-31.5 0.1h0.9m0 0h0.9m-0.5 0h0.9m1.9 0h0.9m1.1 0h0.9m-0.1 0h0.9m-0.5 0h0.9m-0.7 0h0.9m-0.3 0.1h0.9m-0.6 0h0.9m2.5 0h0.9m4 0h0.9m-0.3 0h0.9m6.3 0h0.9m2.8 0h0.9m4 0h0.9m-0.5 0h0.9m1.5 0h0.9m2.3 0h0.9m-35.5 0.1h0.9m-0.9 0h0.9m1.7 0h0.9m0.3 0h0.9m-0.4 0h0.9m7.8 0h0.9m4.9 0h0.9m8.1 0h0.9m1.1 0h0.9m1.9 0h0.9m-37.7 0.1h0.9m-0.7 0h0.9m-0.6 0h0.9m-0.7 0h0.9m-0.4 0h0.9m-0.5 0h0.9m0 0h0.9m-0.1 0h0.9m8.7 0h0.9m11.9 0h0.9m-25.1 0.1h0.9m-0.8 0h0.9m5.8 0h0.9m4.9 0h0.9m-0.1 0h0.9m12.2 0h0.9m-28.8 0.1h0.9m5.2 0h0.9m-0.5 0h0.9m1.8 0h0.9m11.6 0h0.9m6.3 0h0.9m-19.3 0.1h0.9m-0.5 0h0.9m15.5 0h0.9m3 0h0.9m-32.2 0.1h0.9m-0.3 0h0.9m-0.3 0h0.9m0.9 0h0.9m1.6 0h0.9m1.7 0h0.9m16.9 0h0.9m-0.8 0h0.9m4.4 0h0.9m4.4 0h0.9m-37.7 0.1h0.9m-0.7 0h0.9m0.8 0h0.9m15.9 0h0.9m9 0h0.9m-0.8 0h0.9m1.1 0h0.9m-29.9 0.1h0.9m0.8 0h0.9m-0.7 0h0.9m0.4 0h0.9m0 0h0.9m1.7 0h0.9m-7.9 0.1h0.9m28.5 0h0.9m-28.1 0.1h0.9m21.2 0h0.9m6.2 0h0.9m0.4 0h0.9m-32 0.1h0.9m-0.5 0h0.9m0.7 0h0.9m0.6 0h0.9m-0.4 0h0.9m-0.5 0h0.9m3.1 0h0.9m15.1 0h0.9m-28.1 0.1h0.9m-0.1 0h0.9m3.9 0h0.9m2.7 0h0.9m1.7 0h0.9m11.7 0h0.9m10.6 0h0.9m-36.6 0.1h0.9m9.4 0h0.9m12.4 0h0.9m3.5 0h0.9m-0.5 0h0.9m-0.2 0h0.9m3.3 0h0.9m-32.7 0.1h0.9m4.4 0h0.9m-0.2 0h0.9m1.2 0h0.9m5.7 0h0.9m9.1 0h0.9m3.3 0h0.9m0.7 0h0.9m-32.7 0.1h0.9m-0.9 0h0.9m0.8 0h0.9m-0.8 0h0.9m3.7 0h0.9m23.3 0h0.9m-31.8 0.1h0.9m2.1 0h0.9m0.4 0h0.9m0.1 0h0.9m19.1 0h0.9m2.4 0h0.9m-0.3 0h0.9m2.1 0h0.9m-30.1 0.1h0.9m2.5 0h0.9m24.2 0h0.9m-31.5 0.1h0.9m6 0h0.9m19 0h0.9m-28.8 0.1h0.9m0.3 0h0.9m2.4 0h0.9m-0.5 0h0.9m-0.3 0h0.9m3.4 0h0.9m4.3 0h0.9m7.1 0h0.9m14.7 0h0.9m-32.7 0.1h0.9m3.7 0h0.9m14.1 0h0.9m-0.7 0h0.9m7.5 0h0.9m-36 0.1h0.9m-0.6 0h0.9m1.3 0h0.9m0.5 0h0.9m-0.6 0h0.9m1.1 0h0.9m-0.8 0h0.9m15.1 0h0.9m-18.2 0.1h0.9m3.9 0h0.9m11.8 0h0.9m6 0h0.9m4.4 0h0.9m-35.6 0.1h0.9m1.6 0h0.9m0.5 0h0.9m-0.8 0h0.9m-0.6 0h0.9m-0.8 0h0.9m3.7 0h0.9m-0.1 0h0.9m-0.4 0h0.9m21.7 0h0.9m-33.7 0.1h0.9m3.5 0h0.9m-0.8 0h0.9m-0.1 0h0.9m24.7 0h0.9m4.2 0h0.9m-0.6 0h0.9m-0.2 0h0.9m-36.6 0.1h0.9m-0.8 0h0.9m2.6 0h0.9m2.3 0h0.9m8.7 0h0.9m6 0h0.9m8.7 0h0.9m-32.8 0.1h0.9m4.8 0h0.9m0.4 0h0.9m0.3 0h0.9m-11.5 0.1h0.9m-0.8 0h0.9m-0.6 0h0.9m-0.9 0h0.9m0.1 0h0.9m1.1 0h0.9m-0.7 0h0.9m-0.3 0h0.9m-0.3 0h0.9m2.7 0h0.9m12.7 0h0.9m11.5 0h0.9m-35.2 0.1h0.9m28.8 0h0.9m-0.2 0h0.9m-21.3 0.1h0.9m17.3 0h0.9m-29.3 0.1h0.9m-0.2 0h0.9m-0.5 0h0.9m-0.2 0h0.9m2.8 0h0.9m0.9 0h0.9m1 0h0.9m1.6 0h0.9m1.9 0h0.9m10.9 0h0.9m1.8 0h0.9m3.4 0h0.9m-0.7 0h0.9m-34.2 0.1h0.9m32.7 0h0.9m-0.9 0h0.9m-0.6 0h0.9m0.3 0h0.9m-35.9 0.1h0.9m-0.9 0h0.9m-0.6 0h0.9m-0.9 0h0.9m4 0h0.9m-0.5 0h0.9m3.3 0h0.9m0.8 0h0.9m17.2 0h0.9m1.1 0h0.9m0.8 0h0.9m1 0h0.9m1.4 0h0.9m-36.4 0.1h0.9m1.7 0h0.9m14.4 0h0.9m11.3 0h0.9m-0.9 0h0.9m-0.5 0h0.9m-33.3 0.1h0.9m1.6 0h0.9m1.2 0h0.9m2.5 0h0.9m-0.7 0h0.9m2.1 0h0.9m2.5 0h0.9m-0.4 0h0.9m-13.5 0.1h0.9m7.2 0h0.9m-8.8 0.1h0.9m-0.6 0h0.9m1.1 0h0.9m-0.1 0h0.9m0 0h0.9m6.9 0h0.9m4 0h0.9m5 0h0.9m3.9 0h0.9m-31.2 0.1h0.9m-0.9 0h0.9m-0.6 0h0.9m2.3 0h0.9m2.9 0h0.9m7.9 0h0.9m3.9 0h0.9m4.4 0h0.9m-25.4 0.1h0.9m0 0h0.9m1.6 0h0.9m3.6 0h0.9m3.7 0h0.9m0.6 0h0.9m3 0h0.9m6.7 0h0.9m3 0h0.9m1.7 0h0.9m-34.7 0.1h0.9m0.8 0h0.9m1.2 0h0.9m5.7 0h0.9m2.6 0h0.9m0.7 0h0.9m4 0h0.9m7.9 0h0.9m-0.2 0h0.9m2.9 0h0.9m0 0h0.9m-34.8 0.1h0.9m0 0h0.9m3.4 0h0.9m-0.2 0h0.9m0.6 0h0.9m10.4 0h0.9m15 0h0.9m-36.1 0.1h0.9m2.2 0h0.9m-0.3 0h0.9m1 0h0.9m1.6 0h0.9m-0.3 0h0.9m-0.7 0h0.9m1.6 0h0.9m-9 0.1h0.9m0.4 0h0.9m2.4 0h0.9m-0.2 0h0.9m-0.7 0h0.9m18 0h0.9m0 0h0.9m-0.7 0h0.9m3.7 0h0.9m-31 0.1h0.9m-0.8 0h0.9m4.6 0h0.9m15.5 0h0.9m0.2 0h0.9m7.7 0h0.9m-34.1 0.1h0.9m-0.4 0h0.9m-0.9 0h0.9m0.6 0h0.9m0.1 0h0.9m1.4 0h0.9m12.9 0h0.9m3.3 0h0.9m5.2 0h0.9m-0.5 0h0.9m4.7 0h0.9m-36.4 0.1h0.9m4.4 0h0.9m17.7 0h0.9m0.5 0h0.9m4.3 0h0.9m-32.9 0.1h0.9m-0.4 0h0.9m0.9 0h0.9m-0.2 0h0.9m-0.3 0h0.9m1.1 0h0.9m0 0h0.9m-0.5 0h0.9m1.1 0h0.9m14.6 0h0.9m4.4 0h0.9m3 0h0.9m0.7 0h0.9m-36.4 0.1h0.9m0.5 0h0.9m-0.7 0h0.9m-0.4 0h0.9m0.5 0h0.9m-0.8 0h0.9m0.8 0h0.9m-0.9 0h0.9m0.4 0h0.9m0 0h0.9m0.7 0h0.9m1 0h0.9m1.2 0h0.9m0.8 0h0.9m5 0h0.9m-0.9 0h0.9m6.5 0h0.9m6.2 0h0.9m-0.5 0h0.9m0.3 0h0.9m-37.5 0.1h0.9m0.4 0h0.9m5.5 0h0.9m0.9 0h0.9m4.2 0h0.9m-10.4 0.1h0.9m1.3 0h0.9m-0.4 0h0.9m-0.6 0h0.9m0 0h0.9m1.5 0h0.9m1.3 0h0.9m17.4 0h0.9m-29.8 0.1h0.9m1.5 0h0.9m0.2 0h0.9m0 0h0.9m10.9 0h0.9m-0.3 0h0.9m1 0h0.9m6.6 0h0.9m3.5 0h0.9m-32.6 0.1h0.9m-0.9 0h0.9m16.7 0h0.9m0 0h0.9m13.5 0h0.9m-34.4 0.1h0.9m4.7 0h0.9m-0.3 0h0.9m2.9 0h0.9m14.2 0h0.9m-18.7 0.1h0.9m-0.2 0h0.9m-0.3 0h0.9m1.4 0h0.9m6.2 0h0.9m1.6 0h0.9m5.5 0h0.9m2.4 0h0.9m-31.7 0.1h0.9m7.4 0h0.9m0.1 0h0.9m1.4 0h0.9m5.6 0h0.9m16.7 0h0.9m-37 0.1h0.9m1 0h0.9m0.1 0h0.9m5.5 0h0.9m17.1 0h0.9m-26.5 0.1h0.9m0.8 0h0.9m1 0h0.9m-0.7 0h0.9m-0.5 0h0.9m5.8 0h0.9m15.5 0h0.9m3.7 0h0.9m-33.2 0.1h0.9m2.6 0h0.9m4.7 0h0.9m12.7 0h0.9m10.5 0h0.9m-36.5 0.1h0.9m-0.9 0h0.9m3.6 0h0.9m-0.2 0h0.9m-0.4 0h0.9m2.8 0h0.9m-0.6 0h0.9m6.9 0h0.9m16.7 0h0.9m-35.7 0.1h0.9m3 0h0.9m4.5 0h0.9m10.2 0h0.9m3.1 0h0.9m0.3 0h0.9m4.7 0h0.9m4 0h0.9m-35.1 0.1h0.9m0.7 0h0.9m0.1 0h0.9m5.5 0h0.9m4.8 0h0.9m5.7 0h0.9m0.5 0h0.9m7.3 0h0.9m4.7 0h0.9m-34.4 0.1h0.9m-0.7 0h0.9m3.7 0h0.9m1.7 0h0.9m1.7 0h0.9m0.3 0h0.9m1.4 0h0.9m2.7 0h0.9m4.3 0h0.9m6.5 0h0.9m-31.7 0.1h0.9m0.5 0h0.9m-0.4 0h0.9m0.9 0h0.9m10.7 0h0.9m7.4 0h0.9m-0.5 0h0.9m2.1 0h0.9m2.4 0h0.9m-35.4 0.1h0.9m0.9 0h0.9m2.4 0h0.9m2.4 0h0.9m-0.7 0h0.9m1.4 0h0.9m10.7 0h0.9m0.9 0h0.9m3.2 0h0.9m3.5 0h0.9m4 0h0.9m-38.7 0.1h0.9m1.3 0h0.9m-0.9 0h0.9m-0.3 0h0.9m-0.1 0h0.9m0.5 0h0.9m1.3 0h0.9m2 0h0.9m14.1 0h0.9m1.2 0h0.9m5.2 0h0.9m-34.2 0.1h0.9m-0.8 0h0.9m4.4 0h0.9m-0.9 0h0.9m-0.5 0h0.9m8.8 0h0.9m-0.5 0h0.9m7.4 0h0.9m-0.4 0h0.9m-0.3 0h0.9m-0.7 0h0.9m0.4 0h0.9m2.8 0h0.9m-0.5 0h0.9m-27.9 0.1h0.9m1.5 0h0.9m-0.3 0h0.9m14.3 0h0.9m-0.6 0h0.9m1.2 0h0.9m2.1 0h0.9m4 0h0.9m-33.1 0.1h0.9m-0.4 0h0.9m-0.1 0h0.9m0 0h0.9m0.6 0h0.9m1.7 0h0.9m2.4 0h0.9m9.2 0h0.9m-0.8 0h0.9m-17.4 0.1h0.9m3 0h0.9m-0.3 0h0.9m23.3 0h0.9m-0.9 0h0.9m-26.4 0.1h0.9m-0.9 0h0.9m-0.9 0h0.9m-0.9 0h0.9m2 0h0.9m-0.7 0h0.9m3.2 0h0.9m4.2 0h0.9m2.8 0h0.9m1.4 0h0.9m0.2 0h0.9m-0.5 0h0.9m2.5 0h0.9m1.1 0h0.9m-32.8 0.1h0.9m-0.9 0h0.9m0 0h0.9m1 0h0.9m1.8 0h0.9m9.8 0h0.9m10.7 0h0.9m0.7 0h0.9m-28.4 0.1h0.9m-0.7 0h0.9m3.3 0h0.9m0.4 0h0.9m0.4 0h0.9m0.4 0h0.9m0.5 0h0.9m1.5 0h0.9m7.2 0h0.9m0.5 0h0.9m3.5 0h0.9m-0.4 0h0.9m0.6 0h0.9m1.3 0h0.9m-0.4 0h0.9m0 0h0.9m-34.3 0.1h0.9m-0.5 0h0.9m1.9 0h0.9m-0.1 0h0.9m-0.6 0h0.9m-0.9 0h0.9m-0.2 0h0.9m0.2 0h0.9m-0.4 0h0.9m0.3 0h0.9m1.4 0h0.9m0.2 0h0.9m3.9 0h0.9m11.9 0h0.9m1.2 0h0.9m-0.4 0h0.9m-32.6 0.1h0.9m-0.6 0h0.9m4.5 0h0.9m2.7 0h0.9m3.2 0h0.9m3.4 0h0.9m1.5 0h0.9m10 0h0.9m-30.6 0.1h0.9m0.6 0h0.9m3.7 0h0.9m0.1 0h0.9m12.1 0h0.9m2.2 0h0.9m3.2 0h0.9m5.3 0h0.9m-35.3 0.1h0.9m0.1 0h0.9m13.8 0h0.9m7.4 0h0.9m6.2 0h0.9m-32.2 0.1h0.9m-0.8 0h0.9m5.6 0h0.9m3.2 0h0.9m3.1 0h0.9m-0.5 0h0.9m3.8 0h0.9m2.1 0h0.9m1.4 0h0.9m3.2 0h0.9m-0.7 0h0.9m1.7 0h0.9m5.1 0h0.9m-34.2 0.1h0.9m0.4 0h0.9m1.7 0h0.9m-0.4 0h0.9m2.3 0h0.9m0.7 0h0.9m0.5 0h0.9m0.1 0h0.9m-0.9 0h0.9m6.5 0h0.9m-0.4 0h0.9m-25.2 0.1h0.9m2.3 0h0.9m0.2 0h0.9m-0.2 0h0.9m-0.5 0h0.9m-0.8 0h0.9m6.7 0h0.9m3.7 0h0.9m-0.9 0h0.9m-0.2 0h0.9m-0.5 0h0.9m2.4 0h0.9m6.2 0h0.9m1.3 0h0.9m2.6 0h0.9m-35.8 0.1h0.9m-0.3 0h0.9m-0.9 0h0.9m-0.7 0h0.9m0.8 0h0.9m-0.3 0h0.9m1.7 0h0.9m17.6 0h0.9m5 0h0.9m-27.9 0.1h0.9m1.1 0h0.9m2.2 0h0.9m1.7 0h0.9m1.3 0h0.9m0 0h0.9m-0.7 0h0.9m3.3 0h0.9m7.1 0h0.9m-26.6 0.1h0.9m2.9 0h0.9m3.7 0h0.9m0.3 0h0.9m0.2 0h0.9m1.6 0h0.9m1.1 0h0.9m1.7 0h0.9m8.5 0h0.9m-0.9 0h0.9m6.2 0h0.9m-33.8 0.1h0.9m-0.1 0h0.9m0.4 0h0.9m-0.5 0h0.9m0.7 0h0.9m-0.2 0h0.9m4.2 0h0.9m-0.4 0h0.9m6.4 0h0.9m5.1 0h0.9m2.8 0h0.9m1.2 0h0.9m2.9 0h0.9m-34.4 0.1h0.9m0.9 0h0.9m-0.1 0h0.9m5.6 0h0.9m6.4 0h0.9m0.6 0h0.9m-0.6 0h0.9m-0.8 0h0.9m2.3 0h0.9m2.7 0h0.9m0.7 0h0.9m-29.3 0.1h0.9m-0.5 0h0.9m0.9 0h0.9m0.1 0h0.9m0.8 0h0.9m5.7 0h0.9m5.2 0h0.9m15.5 0h0.9m-0.5 0h0.9m-34.2 0.1h0.9m4.1 0h0.9m-0.8 0h0.9m-0.7 0h0.9m2.6 0h0.9m7.9 0h0.9m5 0h0.9m-0.1 0h0.9m2.9 0h0.9m-30.1 0.1h0.9m-0.7 0h0.9m11.7 0h0.9m5.4 0h0.9m-0.8 0h0.9m6.6 0h0.9m0.4 0h0.9m0.4 0h0.9m2.6 0h0.9m-33.9 0.1h0.9m1.3 0h0.9m-0.7 0h0.9m0.2 0h0.9m1.6 0h0.9m5.7 0h0.9m1.2 0h0.9m0.2 0h0.9m1.1 0h0.9m4.4 0h0.9m3.6 0h0.9m0.4 0h0.9m2.4 0h0.9m0.4 0h0.9m-29.1 0.1h0.9m0 0h0.9m0.1 0h0.9m1.1 0h0.9m1.3 0h0.9m3 0h0.9m0 0h0.9m-0.6 0h0.9m7.3 0h0.9m-0.4 0h0.9m-25.5 0.1h0.9m7.9 0h0.9m0.2 0h0.9m9.6 0h0.9m-0.2 0h0.9m-0.4 0h0.9m0.2 0h0.9m-0.6 0h0.9m2.5 0h0.9m-0.6 0h0.9m-28 0.1h0.9m0.8 0h0.9m-0.7 0h0.9m3.6 0h0.9m1.7 0h0.9m0.7 0h0.9m3.9 0h0.9m-0.7 0h0.9m2 0h0.9m2.1 0h0.9m-0.4 0h0.9m-0.9 0h0.9m6.8 0h0.9m-26.2 0.1h0.9m1.9 0h0.9m-0.3 0h0.9m2.7 0h0.9m1.6 0h0.9m22.7 0h0.9m-38.6 0.1h0.9m1.2 0h0.9m0.7 0h0.9m0 0h0.9m3.9 0h0.9m0.6 0h0.9m1.6 0h0.9m3.7 0h0.9m8.5 0h0.9m-26.3 0.1h0.9m-0.5 0h0.9m0.4 0h0.9m10 0h0.9m5.7 0h0.9m0.8 0h0.9m0.9 0h0.9m1 0h0.9m0.4 0h0.9m-27.7 0.1h0.9m1.4 0h0.9m0.7 0h0.9m7.5 0h0.9m3.1 0h0.9m6.9 0h0.9m6 0h0.9m-29.7 0.1h0.9m1.9 0h0.9m0.7 0h0.9m1.7 0h0.9m-0.3 0h0.9m1.3 0h0.9m1.6 0h0.9m-0.1 0h0.9m0.6 0h0.9m6.3 0h0.9m0.3 0h0.9m2.2 0h0.9m1.3 0h0.9m-31.6 0.1h0.9m2.7 0h0.9m0 0h0.9m4.9 0h0.9m11 0h0.9m5.4 0h0.9m-28.6 0.1h0.9m0.1 0h0.9m1.2 0h0.9m1.8 0h0.9m3.3 0h0.9m-0.6 0h0.9m-0.2 0h0.9m4.1 0h0.9m-0.8 0h0.9m0.2 0h0.9m2 0h0.9m6 0h0.9m2.6 0h0.9m-32.7 0.1h0.9m-0.9 0h0.9m-0.8 0h0.9m5.4 0h0.9m0.1 0h0.9m0.7 0h0.9m0.8 0h0.9m1 0h0.9m3.8 0h0.9m1.7 0h0.9m1.2 0h0.9m6 0h0.9m-29.1 0.1h0.9m0.6 0h0.9m1.1 0h0.9m7.9 0h0.9m-0.2 0h0.9m1 0h0.9m-0.8 0h0.9m-0.4 0h0.9m6.4 0h0.9m0.9 0h0.9m1.7 0h0.9m-0.6 0h0.9m-29.1 0.1h0.9m-0.8 0h0.9m-0.1 0h0.9m-0.8 0h0.9m-0.3 0h0.9m3.5 0h0.9m1.8 0h0.9m3.1 0h0.9m13.2 0h0.9m1.6 0h0.9m-0.1 0h0.9m3.2 0h0.9m-35.4 0.1h0.9m0.9 0h0.9m1.4 0h0.9m0 0h0.9m2.1 0h0.9m0.9 0h0.9m-0.6 0h0.9m10.3 0h0.9m5.1 0h0.9m-0.7 0h0.9m-0.5 0h0.9m-0.3 0h0.9m1.1 0h0.9m-24.1 0.1h0.9m-0.7 0h0.9m10.5 0h0.9m11 0h0.9m0.2 0h0.9m0.3 0h0.9m-31.3 0.1h0.9m1.9 0h0.9m4.7 0h0.9m0.9 0h0.9m5.7 0h0.9m4.2 0h0.9m1 0h0.9m6.4 0h0.9m-32.7 0.1h0.9m-0.2 0h0.9m1.5 0h0.9m0.2 0h0.9m2.8 0h0.9m-0.3 0h0.9m-0.9 0h0.9m4.1 0h0.9m1.6 0h0.9m5 0h0.9m5.7 0h0.9m-28.1 0.1h0.9m0.6 0h0.9m-0.8 0h0.9m-0.2 0h0.9m1.5 0h0.9m10 0h0.9m1.3 0h0.9m2.1 0h0.9m0.7 0h0.9m0.3 0h0.9m-0.1 0h0.9m4.3 0h0.9m-31.7 0.1h0.9m-0.5 0h0.9m1.4 0h0.9m4.9 0h0.9m8.8 0h0.9m1.5 0h0.9m-0.8 0h0.9m0.7 0h0.9m-0.5 0h0.9m-0.8 0h0.9m-0.1 0h0.9m3.6 0h0.9m-30 0.1h0.9m4.9 0h0.9m-0.1 0h0.9m0 0h0.9m6.2 0h0.9m0.5 0h0.9m-0.8 0h0.9m0.6 0h0.9m-16.4 0.1h0.9m3 0h0.9m1 0h0.9m0 0h0.9m7.4 0h0.9m4.9 0h0.9m2 0h0.9m-0.6 0h0.9m2.7 0h0.9m-0.1 0h0.9m-24.9 0.1h0.9m1.9 0h0.9m1.7 0h0.9m-0.8 0h0.9m2.3 0h0.9m-0.7 0h0.9m3.3 0h0.9m3 0h0.9m-25.2 0.1h0.9m0.3 0h0.9m6.6 0h0.9m0.2 0h0.9m10.2 0h0.9m7.4 0h0.9m-0.5 0h0.9m2 0h0.9m-27.7 0.1h0.9m2.5 0h0.9m1 0h0.9m0.5 0h0.9m-0.1 0h0.9m0.2 0h0.9m5.3 0h0.9m2 0h0.9m1.4 0h0.9m-15.9 0.1h0.9m4.8 0h0.9m0.1 0h0.9m-17.4 0.1h0.9m2.3 0h0.9m1.1 0h0.9m2.6 0h0.9m1.7 0h0.9m-0.7 0h0.9m0.1 0h0.9m-0.3 0h0.9m0.6 0h0.9m0.3 0h0.9m0.1 0h0.9m-0.5 0h0.9m4.7 0h0.9m1.7 0h0.9m2.1 0h0.9m-28.7 0.1h0.9m-0.2 0h0.9m1.8 0h0.9m3.5 0h0.9m0.3 0h0.9m-0.1 0h0.9m4.8 0h0.9m4.4 0h0.9m-21.7 0.1h0.9m4.2 0h0.9m0.5 0h0.9m-0.5 0h0.9m1.2 0h0.9m1.2 0h0.9m-0.1 0h0.9m1.1 0h0.9m-0.5 0h0.9m4.3 0h0.9m-22.1 0.1h0.9m0.8 0h0.9m1.6 0h0.9m0 0h0.9m9.5 0h0.9m2.3 0h0.9m2.1 0h0.9m0.7 0h0.9m10.6 0h0.9m-33.7 0.1h0.9m1.1 0h0.9m1.3 0h0.9m0 0h0.9m7.6 0h0.9m1.1 0h0.9m2.1 0h0.9m2.4 0h0.9m0.7 0h0.9m-24.9 0.1h0.9m7.3 0h0.9m0.9 0h0.9m6.3 0h0.9m8 0h0.9m1.2 0h0.9m-27.6 0.1h0.9m1.4 0h0.9m0 0h0.9m1.4 0h0.9m-0.6 0h0.9m-0.8 0h0.9m-0.5 0h0.9m8.5 0h0.9m0.8 0h0.9m5.3 0h0.9m-22.9 0.1h0.9m-0.5 0h0.9m-0.9 0h0.9m-0.4 0h0.9m6.8 0h0.9m1.5 0h0.9m9.1 0h0.9m2.3 0h0.9m-29.7 0.1h0.9m14.6 0h0.9m11.7 0h0.9m-28.8 0.1h0.9m5.4 0h0.9m-0.7 0h0.9m0.8 0h0.9m4 0h0.9m-0.7 0h0.9m2.3 0h0.9m1.4 0h0.9m6.2 0h0.9m-23.5 0.1h0.9m4.4 0h0.9m2.1 0h0.9m1.2 0h0.9m-0.6 0h0.9m2.9 0h0.9m-17.8 0.1h0.9m5.5 0h0.9m2.7 0h0.9m1.8 0h0.9m-0.7 0h0.9m4.3 0h0.9m5.9 0h0.9m0.4 0h0.9m0.2 0h0.9m-20.9 0.1h0.9m2.2 0h0.9m16 0h0.9m-21.4 0.1h0.9m1.7 0h0.9m0.7 0h0.9m6.6 0h0.9m-8.1 0.1h0.9m0.3 0h0.9m2.1 0h0.9m0 0h0.9m1.3 0h0.9m2.4 0h0.9m-0.6 0h0.9m-22.4 0.1h0.9m6.2 0h0.9m-0.6 0h0.9m2.6 0h0.9m4.2 0h0.9m2.6 0h0.9m-0.1 0h0.9m6.9 0h0.9m-29.8 0.1h0.9m1.8 0h0.9m1.9 0h0.9m0.2 0h0.9m1.6 0h0.9m-0.8 0h0.9m3.5 0h0.9m18 0h0.9m-30.4 0.1h0.9m0.3 0h0.9m2.2 0h0.9m4.2 0h0.9m-0.5 0h0.9m-0.8 0h0.9m-5.4 0.1h0.9m11.5 0h0.9m3.8 0h0.9m-23.3 0.1h0.9m0 0h0.9m8 0h0.9m2.8 0h0.9m2 0h0.9m0.1 0h0.9m-17.9 0.1h0.9m12.9 0h0.9m-0.8 0h0.9m9.4 0h0.9m-23.7 0.1h0.9m1.4 0h0.9m5.4 0h0.9m1.5 0h0.9m1.4 0h0.9m-14.7 0.1h0.9m0.3 0h0.9m1 0h0.9m7.7 0h0.9m-0.6 0h0.9m-0.5 0h0.9m9.9 0h0.9m-22 0.1h0.9m-0.6 0h0.9m5.4 0h0.9m0.7 0h0.9m7.3 0h0.9m0.5 0h0.9m-26.3 0.1h0.9m6.8 0h0.9m0.3 0h0.9m0.2 0h0.9m18.8 0h0.9m-29.5 0.1h0.9m5.6 0h0.9m0.6 0h0.9m0 0h0.9m0.5 0h0.9m5.4 0h0.9m-0.1 0h0.9m0.7 0h0.9m-0.1 0h0.9m0.8 0h0.9m2.1 0h0.9m-0.3 0h0.9m-17.2 0.1h0.9m-3.5 0.1h0.9m9.2 0h0.9m8 0h0.9m-22.7 0.1h0.9m-0.4 0h0.9m13.1 0h0.9m-12.1 0.1h0.9m10.5 0h0.9m0 0h0.9m-11.7 0.1h0.9m3 0h0.9m6.8 0h0.9m4.1 0h0.9m-11.3 0.1h0.9m13.6 0h0.9m-26.1 0.1h0.9m4.6 0h0.9m-5.1 0.1h0.9m5.7 0h0.9m0.5 0h0.9m9.3 0h0.9m-17.8 0.2h0.9m2.7 0h0.9m4.5 0h0.9m-13.8 0.1h0.9m9 0h0.9m8.9 0h0.9m-7.5 0.1h0.9m-7.9 0.1h0.9m8.8 0h0.9m-20 0.1h0.9m7.4 0.1h0.9m-7.6 0.2h0.9m6.9 0h0.9m7.6 0h0.9m7.8 0h0.9m-5.6 0.1h0.9m12.3 0h0.9m-18 0.3h0.9m-3.2 0.3h0.9m0.8 0h0.9m0 0.2h0.9m-9.1 0.2h0.9m2.4 0.1h0.9m-7.6 1.2h0.9m18.3 0.2h0.9" stroke="rgb(216, 48, 48)" stroke-width="0.9" fill="none"/>
<path d="M91.1 339.9h0.9m-12.1 0.5h0.9m3.4 0h0.9m15.5 0.2h0.9m-15.1 0.1h0.9m7 0.1h0.9m-15.1 0.2h0.9m8.4 0.4h0.9m-3.1 0.4h0.9m-0.7 0h0.9m6.7 0.1h0.9m-1.7 0.2h0.9m1.8 0h0.9m-11.9 0.1h0.9m8.8 0h0.9m-22.8 0.3h0.9m12.7 0h0.9m-0.7 0h0.9m2.4 0h0.9m-16 0.2h0.9m7.1 0h0.9m3.3 0h0.9m0.9 0h0.9m-11.4 0.1h0.9m9.3 0.1h0.9m-8 0.2h0.9m-8.3 0.1h0.9m12.9 0h0.9m6.7 0h0.9m-21.5 0.1h0.9m13.7 0.1h0.9m1.6 0h0.9m-12.6 0.1h0.9m-6 0.1h0.9m11.2 0.1h0.9m-0.5 0.1h0.9m-5.2 0.1h0.9m-0.2 0.1h0.9m2.4 0h0.9m2.4 0h0.9m6.5 0h0.9m2.1 0h0.9m-18.3 0.1h0.9m2.3 0h0.9m0.7 0h0.9m7.5 0.1h0.9m-0.7 0h0.9m2.4 0h0.9m-0.4 0h0.9m-8.2 0.1h0.9m4.6 0h0.9m-24.4 0.1h0.9m6.4 0h0.9m12.6 0h0.9m-8.3 0.1h0.9m-12.6 0.1h0.9m18.2 0h0.9m-0.4 0h0.9m-17.5 0.1h0.9m1.8 0h0.9m11 0h0.9m2.6 0h0.9m-13.9 0.1h0.9m1.7 0h0.9m5.2 0h0.9m-13.4 0.1h0.9m0.6 0h0.9m0.8 0h0.9m-0.6 0h0.9m0 0h0.9m-0.5 0h0.9m9.3 0h0.9m-19.6 0.1h0.9m-0.7 0h0.9m3.8 0h0.9m7.1 0h0.9m12.1 0h0.9m-25.3 0.1h0.9m14.2 0h0.9m-0.9 0h0.9m2.1 0h0.9m-24 0.1h0.9m8.7 0h0.9m-0.6 0h0.9m-0.4 0h0.9m2.9 0h0.9m0.5 0h0.9m-0.4 0h0.9m4.1 0h0.9m4.8 0h0.9m2.3 0h0.9m-29.8 0.1h0.9m2.3 0h0.9m1.7 0h0.9m7.6 0h0.9m-0.5 0h0.9m0.8 0h0.9m0.5 0h0.9m-15.2 0.1h0.9m-0.1 0h0.9m11.7 0h0.9m8.5 0h0.9m-0.7 0h0.9m-27.6 0.1h0.9m6.8 0h0.9m8.1 0h0.9m4.5 0h0.9m-15.9 0.1h0.9m4.1 0h0.9m2.3 0h0.9m0.5 0h0.9m-13.6 0.1h0.9m2.3 0h0.9m1.2 0h0.9m-0.7 0h0.9m-0.8 0h0.9m1 0h0.9m2.9 0h0.9m0.6 0h0.9m0.1 0h0.9m-0.3 0h0.9m2 0h0.9m-9.3 0.1h0.9m8.2 0h0.9m1.3 0h0.9m-29.2 0.1h0.9m-0.4 0h0.9m6.5 0h0.9m0.9 0h0.9m8.7 0h0.9m13.8 0h0.9m-22.9 0.1h0.9m1.9 0h0.9m9.7 0h0.9m-0.6 0h0.9m9.5 0h0.9m-31.2 0.1h0.9m6.5 0h0.9m0.5 0h0.9m2.7 0h0.9m8.8 0h0.9m-27.1 0.1h0.9m7.6 0h0.9m0.3 0h0.9m1 0h0.9m0.2 0h0.9m-0.6 0h0.9m2.6 0h0.9m5.5 0h0.9m-0.3 0h0.9m-23.9 0.1h0.9m4.1 0h0.9m-0.4 0h0.9m3.8 0h0.9m0.3 0h0.9m1.2 0h0.9m7.8 0h0.9m0 0h0.9m1 0h0.9m-22.8 0.1h0.9m7.1 0h0.9m0 0h0.9m8.4 0h0.9m-21.1 0.1h0.9m4.8 0h0.9m3.1 0h0.9m1.9 0h0.9m-0.2 0h0.9m6.4 0h0.9m-0.2 0h0.9m2.5 0h0.9m0.3 0h0.9m3.3 0h0.9m-31.9 0.1h0.9m6 0h0.9m1.8 0h0.9m0.5 0h0.9m2.1 0h0.9m2.5 0h0.9m3.4 0h0.9m0 0h0.9m-23 0.1h0.9m1.6 0h0.9m3.8 0h0.9m-0.1 0h0.9m4.7 0h0.9m6 0h0.9m0.4 0h0.9m-18.1 0.1h0.9m3.4 0h0.9m-0.3 0h0.9m2.8 0h0.9m1.7 0h0.9m0.4 0h0.9m5.5 0h0.9m-0.3 0h0.9m4.5 0h0.9m-22.5 0.1h0.9m2.2 0h0.9m13.4 0h0.9m-23.8 0.1h0.9m2 0h0.9m0.2 0h0.9m3.4 0h0.9m2.1 0h0.9m-0.4 0h0.9m-0.5 0h0.9m1.1 0h0.9m0.9 0h0.9m1.4 0h0.9m-0.3 0h0.9m-0.3 0h0.9m0 0h0.9m2.9 0h0.9m-30.2 0.1h0.9m5.4 0h0.9m4.7 0h0.9m8.5 0h0.9m5.4 0h0.9m-21.8 0.1h0.9m-0.2 0h0.9m0.1 0h0.9m2 0h0.9m1.1 0h0.9m-0.3 0h0.9m1.3 0h0.9m2.1 0h0.9m1.2 0h0.9m-9.9 0.1h0.9m17.7 0h0.9m-31.9 0.1h0.9m0.7 0h0.9m2.2 0h0.9m-0.6 0h0.9m11.7 0h0.9m2.4 0h0.9m7.6 0h0.9m4.9 0h0.9m-23.6 0.1h0.9m1.7 0h0.9m3.5 0h0.9m2 0h0.9m3.7 0h0.9m1.7 0h0.9m-20.2 0.1h0.9m-0.3 0h0.9m3.1 0h0.9m-0.5 0h0.9m2.9 0h0.9m0.1 0h0.9m3.2 0h0.9m2 0h0.9m-0.3 0h0.9m1.8 0h0.9m-24.1 0.1h0.9m0.2 0h0.9m0 0h0.9m5 0h0.9m3.3 0h0.9m1.1 0h0.9m-0.1 0h0.9m3.1 0h0.9m-22.1 0.1h0.9m-0.9 0h0.9m1.9 0h0.9m4.9 0h0.9m2.7 0h0.9m-0.3 0h0.9m0.7 0h0.9m0.7 0h0.9m6.2 0h0.9m-0.3 0h0.9m-30.3 0.1h0.9m11.7 0h0.9m-0.9 0h0.9m-0.9 0h0.9m2.5 0h0.9m-0.1 0h0.9m0.3 0h0.9m4.1 0h0.9m-22.1 0.1h0.9m5.6 0h0.9m3 0h0.9m-0.7 0h0.9m4.2 0h0.9m1.5 0h0.9m-0.5 0h0.9m0.5 0h0.9m1.2 0h0.9m4.6 0h0.9m-0.6 0h0.9m2.3 0h0.9m-32.8 0.1h0.9m13.4 0h0.9m0 0h0.9m1.6 0h0.9m0.1 0h0.9m4.5 0h0.9m0.5 0h0.9m-24.5 0.1h0.9m4.8 0h0.9m4.5 0h0.9m3.6 0h0.9m-0.3 0h0.9m0.4 0h0.9m0.6 0h0.9m1.8 0h0.9m-0.3 0h0.9m4.2 0h0.9m3.6 0h0.9m-33.6 0.1h0.9m6.7 0h0.9m-0.8 0h0.9m3.5 0h0.9m-0.9 0h0.9m-0.8 0h0.9m0.6 0h0.9m12.1 0h0.9m7.3 0h0.9m-34.3 0.1h0.9m9.3 0h0.9m2.2 0h0.9m0.1 0h0.9m5.9 0h0.9m2.1 0h0.9m-0.4 0h0.9m-0.2 0h0.9m-0.4 0h0.9m0 0h0.9m-23 0.1h0.9m1.9 0h0.9m2 0h0.9m0.2 0h0.9m0.2 0h0.9m2.5 0h0.9m-0.5 0h0.9m3.2 0h0.9m-0.9 0h0.9m5 0h0.9m-27.3 0.1h0.9m2.6 0h0.9m4.2 0h0.9m11.2 0h0.9m4.6 0h0.9m3.7 0h0.9m-34.7 0.1h0.9m0.4 0h0.9m2.1 0h0.9m3.5 0h0.9m-0.6 0h0.9m0.4 0h0.9m-0.4 0h0.9m-0.1 0h0.9m0.6 0h0.9m-0.1 0h0.9m1.4 0h0.9m0.8 0h0.9m0.3 0h0.9m0.5 0h0.9m0.8 0h0.9m0 0h0.9m6 0h0.9m-0.4 0h0.9m-23.8 0.1h0.9m1.6 0h0.9m-0.2 0h0.9m0.7 0h0.9m2.6 0h0.9m-0.6 0h0.9m1.5 0h0.9m2.5 0h0.9m0.9 0h0.9m0.3 0h0.9m-16.6 0.1h0.9m-0.3 0h0.9m1.1 0h0.9m0.3 0h0.9m1.7 0h0.9m6.3 0h0.9m0.1 0h0.9m0.6 0h0.9m4.7 0h0.9m0 0h0.9m-31.5 0.1h0.9m2.1 0h0.9m8.5 0h0.9m-0.3 0h0.9m-0.4 0h0.9m5.2 0h0.9m2.3 0h0.9m4.7 0h0.9m-0.5 0h0.9m-28.7 0.1h0.9m6.8 0h0.9m3.5 0h0.9m0.9 0h0.9m2.1 0h0.9m1.9 0h0.9m2.4 0h0.9m5.6 0h0.9m-21.6 0.1h0.9m2.5 0h0.9m0.9 0h0.9m-0.3 0h0.9m1.9 0h0.9m0.3 0h0.9m3.1 0h0.9m1.1 0h0.9m0.7 0h0.9m6.9 0h0.9m-30.4 0.1h0.9m-0.7 0h0.9m2.2 0h0.9m1.3 0h0.9m-0.7 0h0.9m10.2 0h0.9m1.6 0h0.9m-0.9 0h0.9m3.2 0h0.9m-29.3 0.1h0.9m3.2 0h0.9m4 0h0.9m0.8 0h0.9m-0.9 0h0.9m0.9 0h0.9m-0.2 0h0.9m2 0h0.9m-0.7 0h0.9m1.3 0h0.9m1.9 0h0.9m-0.8 0h0.9m-0.2 0h0.9m1.1 0h0.9m2.6 0h0.9m3.1 0h0.9m1.3 0h0.9m-17.7 0.1h0.9m0.6 0h0.9m-0.3 0h0.9m0 0h0.9m-0.4 0h0.9m-0.7 0h0.9m2.3 0h0.9m-0.7 0h0.9m1.7 0h0.9m2.8 0h0.9m-29.6 0.1h0.9m6.3 0h0.9m1.3 0h0.9m-0.3 0h0.9m0.4 0h0.9m2.7 0h0.9m2.5 0h0.9m4.3 0h0.9m1.4 0h0.9m-24.9 0.1h0.9m0.4 0h0.9m5.1 0h0.9m-0.6 0h0.9m4.7 0h0.9m0.3 0h0.9m2.4 0h0.9m2.5 0h0.9m0.1 0h0.9m0.8 0h0.9m-27.7 0.1h0.9m2.1 0h0.9m1.5 0h0.9m-0.4 0h0.9m0.5 0h0.9m1.8 0h0.9m2.1 0h0.9m-0.3 0h0.9m4.5 0h0.9m1.8 0h0.9m1 0h0.9m-26.1 0.1h0.9m-0.8 0h0.9m4 0h0.9m1.4 0h0.9m-0.8 0h0.9m0.6 0h0.9m1.5 0h0.9m0 0h0.9m2.8 0h0.9m0.8 0h0.9m-0.2 0h0.9m0.3 0h0.9m0.4 0h0.9m-0.6 0h0.9m0.4 0h0.9m-0.8 0h0.9m4.9 0h0.9m0.9 0h0.9m-31.3 0.1h0.9m4.2 0h0.9m5.3 0h0.9m2 0h0.9m-0.7 0h0.9m-0.2 0h0.9m5 0h0.9m0.8 0h0.9m0.7 0h0.9m4.5 0h0.9m-28.8 0.1h0.9m8.3 0h0.9m2.8 0h0.9m2.4 0h0.9m-0.4 0h0.9m1.3 0h0.9m-0.6 0h0.9m4.6 0h0.9m-0.9 0h0.9m0.6 0h0.9m10.3 0h0.9m-38.7 0.1h0.9m3.7 0h0.9m-0.6 0h0.9m7.3 0h0.9m9.2 0h0.9m-19.9 0.1h0.9m1.3 0h0.9m1.2 0h0.9m1.6 0h0.9m0.5 0h0.9m-0.8 0h0.9m0 0h0.9m3.7 0h0.9m1.1 0h0.9m-0.8 0h0.9m0.1 0h0.9m0.8 0h0.9m0.8 0h0.9m0.1 0h0.9m1.7 0h0.9m-0.8 0h0.9m5 0h0.9m-33 0.1h0.9m0 0h0.9m2.1 0h0.9m-0.8 0h0.9m3.8 0h0.9m-0.9 0h0.9m-0.4 0h0.9m-0.8 0h0.9m0.6 0h0.9m0.6 0h0.9m-0.7 0h0.9m0.2 0h0.9m2.2 0h0.9m0 0h0.9m1.4 0h0.9m-0.5 0h0.9m2.8 0h0.9m1.6 0h0.9m-27 0.1h0.9m0 0h0.9m5.3 0h0.9m1.7 0h0.9m3.5 0h0.9m2.9 0h0.9m2.3 0h0.9m1.3 0h0.9m-0.6 0h0.9m0.8 0h0.9m-15.9 0.1h0.9m-0.9 0h0.9m0.5 0h0.9m-0.8 0h0.9m-0.6 0h0.9m-0.8 0h0.9m-0.1 0h0.9m-0.3 0h0.9m-0.9 0h0.9m-0.8 0h0.9m-0.6 0h0.9m0.2 0h0.9m0.8 0h0.9m1.8 0h0.9m0.2 0h0.9m0.3 0h0.9m3.5 0h0.9m1.7 0h0.9m4.8 0h0.9m-36.2 0.1h0.9m6.2 0h0.9m3.7 0h0.9m0.6 0h0.9m-0.1 0h0.9m1.7 0h0.9m2.4 0h0.9m0.5 0h0.9m-0.2 0h0.9m-0.3 0h0.9m-0.1 0h0.9m0.5 0h0.9m2.1 0h0.9m-0.5 0h0.9m-0.1 0h0.9m-28.3 0.1h0.9m6 0h0.9m-0.4 0h0.9m1.2 0h0.9m-0.3 0h0.9m-0.6 0h0.9m0.4 0h0.9m1.1 0h0.9m2.2 0h0.9m0.3 0h0.9m1.7 0h0.9m0.2 0h0.9m0.4 0h0.9m-0.5 0h0.9m2.4 0h0.9m1.9 0h0.9m-31.4 0.1h0.9m3 0h0.9m4.6 0h0.9m1.4 0h0.9m5.9 0h0.9m5.2 0h0.9m1.4 0h0.9m-25.5 0.1h0.9m-0.7 0h0.9m5.6 0h0.9m0 0h0.9m-0.2 0h0.9m-0.3 0h0.9m-0.5 0h0.9m1.6 0h0.9m0.3 0h0.9m-0.3 0h0.9m0.8 0h0.9m-0.9 0h0.9m5.4 0h0.9m2.7 0h0.9m1.3 0h0.9m-29.5 0.1h0.9m2.4 0h0.9m-0.9 0h0.9m3.3 0h0.9m1.7 0h0.9m-0.1 0h0.9m1.6 0h0.9m-0.3 0h0.9m9.1 0h0.9m-0.2 0h0.9m-0.7 0h0.9m2.2 0h0.9m-0.3 0h0.9m-32.9 0.1h0.9m4.3 0h0.9m3.3 0h0.9m0.8 0h0.9m-0.2 0h0.9m0.7 0h0.9m-0.4 0h0.9m-0.6 0h0.9m2.8 0h0.9m1.1 0h0.9m2 0h0.9m0.5 0h0.9m-0.7 0h0.9m0.2 0h0.9m-0.7 0h0.9m-0.7 0h0.9m3.7 0h0.9m-32.8 0.1h0.9m0.8 0h0.9m3.2 0h0.9m2 0h0.9m0.2 0h0.9m4 0h0.9m-0.4 0h0.9m0.4 0h0.9m-0.8 0h0.9m-0.4 0h0.9m0.5 0h0.9m-0.6 0h0.9m-0.5 0h0.9m0.8 0h0.9m0.1 0h0.9m2 0h0.9m5.4 0h0.9m-23.6 0.1h0.9m-0.8 0h0.9m5.8 0h0.9m0.8 0h0.9m-0.6 0h0.9m0.9 0h0.9m1.7 0h0.9m0.3 0h0.9m0.9 0h0.9m0.4 0h0.9m-0.4 0h0.9m0.2 0h0.9m0.2 0h0.9m4.1 0h0.9m-32.3 0.1h0.9m0 0h0.9m-0.8 0h0.9m7.2 0h0.9m0.3 0h0.9m-0.5 0h0.9m-0.8 0h0.9m0.3 0h0.9m-0.4 0h0.9m-0.7 0h0.9m0.3 0h0.9m0.1 0h0.9m-0.2 0h0.9m0.1 0h0.9m-0.7 0h0.9m0.6 0h0.9m4.3 0h0.9m-0.5 0h0.9m-0.8 0h0.9m2.2 0h0.9m-30.6 0.1h0.9m3.3 0h0.9m-0.8 0h0.9m3.2 0h0.9m1.6 0h0.9m-0.2 0h0.9m1.4 0h0.9m1 0h0.9m-0.5 0h0.9m1.3 0h0.9m2 0h0.9m0.6 0h0.9m-0.9 0h0.9m4 0h0.9m-0.7 0h0.9m-0.4 0h0.9m0.8 0h0.9m-23.7 0.1h0.9m2.2 0h0.9m2.4 0h0.9m1.5 0h0.9m-0.3 0h0.9m0.9 0h0.9m-0.7 0h0.9m-0.3 0h0.9m6.6 0h0.9m0.1 0h0.9m0.8 0h0.9m-30.3 0.1h0.9m-0.1 0h0.9m0.9 0h0.9m0.2 0h0.9m12.4 0h0.9m3.3 0h0.9m2.9 0h0.9m4.4 0h0.9m-0.6 0h0.9m-0.7 0h0.9m0.6 0h0.9m2.3 0h0.9m-31.3 0.1h0.9m1.3 0h0.9m9.1 0h0.9m1.7 0h0.9m-0.3 0h0.9m-0.1 0h0.9m-0.5 0h0.9m0 0h0.9m-0.5 0h0.9m2.6 0h0.9m0.1 0h0.9m2.8 0h0.9m-0.5 0h0.9m-0.7 0h0.9m-24.5 0.1h0.9m1.4 0h0.9m-0.1 0h0.9m-0.2 0h0.9m-0.6 0h0.9m-0.1 0h0.9m-0.5 0h0.9m2 0h0.9m-0.1 0h0.9m-0.7 0h0.9m-0.9 0h0.9m-0.6 0h0.9m0.5 0h0.9m-0.4 0h0.9m-0.5 0h0.9m1.2 0h0.9m2 0h0.9m-0.8 0h0.9m-0.3 0h0.9m-0.3 0h0.9m-0.7 0h0.9m3.9 0h0.9m-0.8 0h0.9m0.2 0h0.9m-0.5 0h0.9m-0.1 0h0.9m-29.8 0.1h0.9m2.7 0h0.9m1.5 0h0.9m0.5 0h0.9m2 0h0.9m-0.1 0h0.9m-0.4 0h0.9m1.5 0h0.9m-0.6 0h0.9m-0.8 0h0.9m-0.5 0h0.9m-0.7 0h0.9m-0.9 0h0.9m11.6 0h0.9m-0.4 0h0.9m-31.3 0.1h0.9m1 0h0.9m2.2 0h0.9m-0.4 0h0.9m6.9 0h0.9m0.2 0h0.9m0.6 0h0.9m-0.5 0h0.9m5.6 0h0.9m3.7 0h0.9m3.1 0h0.9m-34.8 0.1h0.9m0.3 0h0.9m8.9 0h0.9m-0.1 0h0.9m1.5 0h0.9m1.7 0h0.9m-0.8 0h0.9m0.5 0h0.9m-0.8 0h0.9m3.5 0h0.9m1.9 0h0.9m3.2 0h0.9m-0.7 0h0.9m-23.5 0.1h0.9m1.7 0h0.9m1.9 0h0.9m0.4 0h0.9m2.5 0h0.9m-0.7 0h0.9m1.3 0h0.9m0.4 0h0.9m1.6 0h0.9m5 0h0.9m-0.2 0h0.9m1.4 0h0.9m0 0h0.9m-27.8 0.1h0.9m-0.5 0h0.9m-0.7 0h0.9m3.2 0h0.9m-0.7 0h0.9m0.5 0h0.9m2 0h0.9m0.5 0h0.9m0.3 0h0.9m-0.8 0h0.9m2.6 0h0.9m-0.8 0h0.9m-0.9 0h0.9m4.1 0h0.9m2.4 0h0.9m0.8 0h0.9m0.2 0h0.9m-30.8 0.1h0.9m1.8 0h0.9m4.8 0h0.9m0.5 0h0.9m6.6 0h0.9m2.7 0h0.9m3.6 0h0.9m-0.8 0h0.9m5.6 0h0.9m-0.4 0h0.9m-36.4 0.1h0.9m8 0h0.9m-0.3 0h0.9m-0.9 0h0.9m1.4 0h0.9m-0.5 0h0.9m0.3 0h0.9m0 0h0.9m1.4 0h0.9m2.2 0h0.9m-0.3 0h0.9m-0.9 0h0.9m-0.7 0h0.9m0.7 0h0.9m-0.6 0h0.9m-0.3 0h0.9m2.3 0h0.9m1.1 0h0.9m-0.8 0h0.9m0.8 0h0.9m-28.1 0.1h0.9m0.6 0h0.9m2.4 0h0.9m0.9 0h0.9m3 0h0.9m1 0h0.9m-0.9 0h0.9m0.6 0h0.9m-0.9 0h0.9m-0.7 0h0.9m-0.3 0h0.9m2.4 0h0.9m0.6 0h0.9m-0.4 0h0.9m4.1 0h0.9m0.7 0h0.9m0.2 0h0.9m-0.2 0h0.9m0.7 0h0.9m-0.4 0h0.9m-23.2 0.1h0.9m1.6 0h0.9m1 0h0.9m-0.4 0h0.9m0 0h0.9m-0.6 0h0.9m4 0h0.9m1.6 0h0.9m4.3 0h0.9m0.8 0h0.9m-31.5 0.1h0.9m4.4 0h0.9m2.8 0h0.9m0 0h0.9m4.6 0h0.9m1.6 0h0.9m0.6 0h0.9m-0.2 0h0.9m0.3 0h0.9m-0.5 0h0.9m-0.2 0h0.9m-0.6 0h0.9m0.1 0h0.9m-0.9 0h0.9m-0.2 0h0.9m0 0h0.9m3.2 0h0.9m1.9 0h0.9m-33.7 0.1h0.9m4.5 0h0.9m0.1 0h0.9m7 0h0.9m2.3 0h0.9m-0.2 0h0.9m-0.5 0h0.9m-0.8 0h0.9m0.9 0h0.9m0.7 0h0.9m-0.6 0h0.9m-0.5 0h0.9m1.1 0h0.9m-0.2 0h0.9m0.6 0h0.9m-0.3 0h0.9m1.2 0h0.9m0.8 0h0.9m-0.5 0h0.9m-31.2 0.1h0.9m0.6 0h0.9m6.7 0h0.9m2 0h0.9m-0.2 0h0.9m2 0h0.9m-0.1 0h0.9m1 0h0.9m0.2 0h0.9m1.7 0h0.9m-0.7 0h0.9m0.1 0h0.9m4.3 0h0.9m-26.1 0.1h0.9m-0.6 0h0.9m3.1 0h0.9m6.3 0h0.9m0.6 0h0.9m-0.3 0h0.9m-0.2 0h0.9m1.1 0h0.9m0.5 0h0.9m1.5 0h0.9m1.2 0h0.9m0.4 0h0.9m2.5 0h0.9m-0.3 0h0.9m-33.6 0.1h0.9m0.7 0h0.9m5.6 0h0.9m6.3 0h0.9m-0.3 0h0.9m-0.4 0h0.9m-0.1 0h0.9m-0.4 0h0.9m0.6 0h0.9m-0.7 0h0.9m-0.2 0h0.9m-0.7 0h0.9m1.5 0h0.9m1.4 0h0.9m0.3 0h0.9m1.8 0h0.9m2.1 0h0.9m5.3 0h0.9m-38.3 0.1h0.9m4.8 0h0.9m2.2 0h0.9m1.5 0h0.9m0.4 0h0.9m-0.3 0h0.9m0.8 0h0.9m0.8 0h0.9m-0.5 0h0.9m0.5 0h0.9m7.4 0h0.9m-0.7 0h0.9m-0.3 0h0.9m1.8 0h0.9m-31.6 0.1h0.9m6.2 0h0.9m4.3 0h0.9m-0.3 0h0.9m-0.9 0h0.9m-0.7 0h0.9m-0.4 0h0.9m0.1 0h0.9m-0.8 0h0.9m2.7 0h0.9m0 0h0.9m1.4 0h0.9m-0.7 0h0.9m-0.2 0h0.9m0.7 0h0.9m-0.7 0h0.9m2 0h0.9m-0.7 0h0.9m0.9 0h0.9m1.9 0h0.9m-25.6 0.1h0.9m2.4 0h0.9m0.1 0h0.9m0.8 0h0.9m0.2 0h0.9m-0.8 0h0.9m6.4 0h0.9m0.5 0h0.9m-0.4 0h0.9m0.9 0h0.9m9.3 0h0.9m-32.2 0.1h0.9m0.6 0h0.9m1.2 0h0.9m6.5 0h0.9m-0.7 0h0.9m0 0h0.9m2.5 0h0.9m0.8 0h0.9m-0.2 0h0.9m-0.5 0h0.9m-0.1 0h0.9m0.1 0h0.9m-0.7 0h0.9m-0.5 0h0.9m3.9 0h0.9m1.1 0h0.9m-28.8 0.1h0.9m2.4 0h0.9m1.6 0h0.9m-0.1 0h0.9m2.9 0h0.9m0 0h0.9m1 0h0.9m1.7 0h0.9m1.2 0h0.9m-0.1 0h0.9m3 0h0.9m0.2 0h0.9m2 0h0.9m-0.2 0h0.9m1.2 0h0.9m0.5 0h0.9m0.6 0h0.9m-27.4 0.1h0.9m0 0h0.9m-0.8 0h0.9m-0.4 0h0.9m-0.6 0h0.9m3 0h0.9m1.1 0h0.9m-0.3 0h0.9m6.7 0h0.9m1.7 0h0.9m1.1 0h0.9m-31.2 0.1h0.9m1.2 0h0.9m-0.4 0h0.9m-0.9 0h0.9m1.3 0h0.9m0.8 0h0.9m0.9 0h0.9m1.3 0h0.9m1.3 0h0.9m0.6 0h0.9m1 0h0.9m0.3 0h0.9m2.7 0h0.9m0.9 0h0.9m4.4 0h0.9m-26.1 0.1h0.9m4.3 0h0.9m4.2 0h0.9m2.7 0h0.9m-0.1 0h0.9m2.4 0h0.9m1.5 0h0.9m5.9 0h0.9m-0.3 0h0.9m2.4 0h0.9m1.4 0h0.9m-36.4 0.1h0.9m2.9 0h0.9m-0.5 0h0.9m-0.1 0h0.9m-0.6 0h0.9m-0.9 0h0.9m-0.8 0h0.9m3 0h0.9m1.7 0h0.9m-0.8 0h0.9m0.8 0h0.9m-0.7 0h0.9m-0.7 0h0.9m-0.5 0h0.9m-0.6 0h0.9m-0.8 0h0.9m-0.2 0h0.9m3.4 0h0.9m-0.8 0h0.9m-0.8 0h0.9m1.2 0h0.9m0.9 0h0.9m0.2 0h0.9m3.9 0h0.9m0.2 0h0.9m2.2 0h0.9m-30.7 0.1h0.9m9.6 0h0.9m-0.6 0h0.9m1.5 0h0.9m-0.1 0h0.9m-0.6 0h0.9m1.9 0h0.9m-0.5 0h0.9m-0.5 0h0.9m-0.4 0h0.9m0 0h0.9m-0.8 0h0.9m-0.8 0h0.9m2.1 0h0.9m-0.7 0h0.9m-0.7 0h0.9m0.1 0h0.9m2.1 0h0.9m0 0h0.9m-0.9 0h0.9m-0.7 0h0.9m-0.6 0h0.9m-30 0.1h0.9m1 0h0.9m-0.3 0h0.9m-0.5 0h0.9m7.6 0h0.9m-0.7 0h0.9m-0.7 0h0.9m-0.1 0h0.9m1.4 0h0.9m-0.7 0h0.9m0.8 0h0.9m0.9 0h0.9m-0.3 0h0.9m-0.2 0h0.9m-0.7 0h0.9m-0.5 0h0.9m0.2 0h0.9m1 0h0.9m0.3 0h0.9m-0.4 0h0.9m2.9 0h0.9m-31.2 0.1h0.9m2.5 0h0.9m-0.6 0h0.9m-0.8 0h0.9m1.2 0h0.9m1.5 0h0.9m1.3 0h0.9m0.5 0h0.9m-0.4 0h0.9m-0.2 0h0.9m-0.3 0h0.9m-0.9 0h0.9m0.8 0h0.9m2.3 0h0.9m-0.9 0h0.9m2.3 0h0.9m3.9 0h0.9m0.6 0h0.9m-21.1 0.1h0.9m1.4 0h0.9m1.2 0h0.9m1.5 0h0.9m-0.2 0h0.9m-0.6 0h0.9m-0.8 0h0.9m1.5 0h0.9m-0.9 0h0.9m-0.4 0h0.9m4.5 0h0.9m2.2 0h0.9m-0.1 0h0.9m-29.4 0.1h0.9m7.9 0h0.9m0.4 0h0.9m-0.6 0h0.9m-0.6 0h0.9m0 0h0.9m0 0h0.9m0.6 0h0.9m-0.6 0h0.9m0.8 0h0.9m1.4 0h0.9m-0.6 0h0.9m-0.4 0h0.9m0.4 0h0.9m3 0h0.9m0.7 0h0.9m-0.1 0h0.9m-0.4 0h0.9m-0.2 0h0.9m-0.9 0h0.9m-31.1 0.1h0.9m1.6 0h0.9m0.9 0h0.9m4 0h0.9m0.5 0h0.9m2.5 0h0.9m1.3 0h0.9m0.1 0h0.9m-0.2 0h0.9m-0.3 0h0.9m-0.2 0h0.9m2.7 0h0.9m0.3 0h0.9m-0.6 0h0.9m-0.3 0h0.9m-0.8 0h0.9m-0.7 0h0.9m-0.7 0h0.9m2.2 0h0.9m-0.8 0h0.9m0.4 0h0.9m-30.8 0.1h0.9m5.8 0h0.9m3.4 0h0.9m2.5 0h0.9m1.8 0h0.9m0.2 0h0.9m-0.2 0h0.9m-0.8 0h0.9m1.5 0h0.9m-0.3 0h0.9m-0.8 0h0.9m-0.6 0h0.9m0.8 0h0.9m1.6 0h0.9m0.3 0h0.9m-0.1 0h0.9m0.2 0h0.9m-25.2 0.1h0.9m0.1 0h0.9m-0.7 0h0.9m0.3 0h0.9m0.4 0h0.9m-0.3 0h0.9m3.5 0h0.9m-0.7 0h0.9m1.9 0h0.9m3 0h0.9m-0.8 0h0.9m-0.3 0h0.9m-0.8 0h0.9m0.6 0h0.9m-0.7 0h0.9m0.9 0h0.9m-0.9 0h0.9m0.8 0h0.9m0.4 0h0.9m3.1 0h0.9m1.7 0h0.9m-32 0.1h0.9m1.8 0h0.9m1 0h0.9m3.2 0h0.9m0.6 0h0.9m3.4 0h0.9m-0.7 0h0.9m0.4 0h0.9m-0.2 0h0.9m-0.3 0h0.9m-0.9 0h0.9m2.4 0h0.9m-0.8 0h0.9m0.2 0h0.9m-0.8 0h0.9m-0.2 0h0.9m-0.2 0h0.9m2.4 0h0.9m0.3 0h0.9m-27.1 0.1h0.9m2.5 0h0.9m1.8 0h0.9m1.2 0h0.9m6.1 0h0.9m0 0h0.9m0.1 0h0.9m-0.5 0h0.9m0.3 0h0.9m0.1 0h0.9m5.7 0h0.9m2.8 0h0.9m-36 0.1h0.9m0.6 0h0.9m1.6 0h0.9m2.8 0h0.9m4.7 0h0.9m-0.9 0h0.9m4.2 0h0.9m1.1 0h0.9m0.3 0h0.9m-0.2 0h0.9m5.5 0h0.9m1.2 0h0.9m-0.7 0h0.9m0.1 0h0.9m-33.2 0.1h0.9m7.2 0h0.9m6.1 0h0.9m0.3 0h0.9m1.6 0h0.9m-0.2 0h0.9m-0.5 0h0.9m2.4 0h0.9m-0.2 0h0.9m4.3 0h0.9m0.2 0h0.9m-0.3 0h0.9m-0.7 0h0.9m-32.2 0.1h0.9m-0.4 0h0.9m7.4 0h0.9m-0.3 0h0.9m1.5 0h0.9m2.4 0h0.9m-0.2 0h0.9m0.8 0h0.9m0.2 0h0.9m-0.8 0h0.9m-0.7 0h0.9m1.1 0h0.9m-0.2 0h0.9m-0.8 0h0.9m0 0h0.9m-0.8 0h0.9m-0.4 0h0.9m0.2 0h0.9m0.2 0h0.9m-0.8 0h0.9m-0.1 0h0.9m-0.2 0h0.9m2.6 0h0.9m-28.3 0.1h0.9m5.3 0h0.9m1.8 0h0.9m0.9 0h0.9m1.9 0h0.9m-0.3 0h0.9m2.7 0h0.9m1.5 0h0.9m1.3 0h0.9m-0.4 0h0.9m0.9 0h0.9m1.3 0h0.9m-0.2 0h0.9m-0.5 0h0.9m0.1 0h0.9m0.1 0h0.9m-0.7 0h0.9m-31 0.1h0.9m2.8 0h0.9m1.1 0h0.9m2.7 0h0.9m-0.5 0h0.9m1.4 0h0.9m-0.7 0h0.9m0.2 0h0.9m-0.5 0h0.9m-0.8 0h0.9m3.5 0h0.9m-0.6 0h0.9m1.4 0h0.9m1 0h0.9m0.1 0h0.9m0.2 0h0.9m-0.4 0h0.9m2.5 0h0.9m1.2 0h0.9m-29.4 0.1h0.9m3.6 0h0.9m0.6 0h0.9m-0.4 0h0.9m0.4 0h0.9m0.7 0h0.9m-0.7 0h0.9m-0.7 0h0.9m-0.4 0h0.9m1.7 0h0.9m2.5 0h0.9m0.1 0h0.9m-0.9 0h0.9m2.9 0h0.9m1.6 0h0.9m-23.7 0.1h0.9m2.8 0h0.9m3.7 0h0.9m-0.1 0h0.9m0.5 0h0.9m0.6 0h0.9m-0.8 0h0.9m0.7 0h0.9m-0.3 0h0.9m-0.8 0h0.9m0.5 0h0.9m5.1 0h0.9m-0.6 0h0.9m-0.7 0h0.9m0.8 0h0.9m-0.8 0h0.9m0.1 0h0.9m0.1 0h0.9m-33 0.1h0.9m7.4 0h0.9m-0.5 0h0.9m3.1 0h0.9m1.2 0h0.9m0.3 0h0.9m2.1 0h0.9m2 0h0.9m-0.7 0h0.9m4.8 0h0.9m-0.9 0h0.9m-0.3 0h0.9m-0.2 0h0.9m0.9 0h0.9m0.2 0h0.9m-32.7 0.1h0.9m2.7 0h0.9m5.1 0h0.9m-0.7 0h0.9m0 0h0.9m1.1 0h0.9m1.1 0h0.9m0.3 0h0.9m0.2 0h0.9m1.3 0h0.9m2 0h0.9m1.6 0h0.9m-0.3 0h0.9m-0.8 0h0.9m5.5 0h0.9m-29 0.1h0.9m4.7 0h0.9m-0.6 0h0.9m0 0h0.9m0.1 0h0.9m5.2 0h0.9m1.9 0h0.9m-0.6 0h0.9m0.2 0h0.9m-0.6 0h0.9m0.4 0h0.9m-0.6 0h0.9m0.6 0h0.9m0.9 0h0.9m3.6 0h0.9m1.5 0h0.9m-27.4 0.1h0.9m0.9 0h0.9m-0.4 0h0.9m1.9 0h0.9m1.4 0h0.9m-0.4 0h0.9m-0.6 0h0.9m0.6 0h0.9m0.3 0h0.9m7.6 0h0.9m-0.7 0h0.9m0.4 0h0.9m-0.8 0h0.9m-0.5 0h0.9m-29.3 0.1h0.9m6.7 0h0.9m1.6 0h0.9m-0.3 0h0.9m0.5 0h0.9m-0.5 0h0.9m0.4 0h0.9m-0.1 0h0.9m-0.4 0h0.9m-0.7 0h0.9m-0.6 0h0.9m0.1 0h0.9m-0.7 0h0.9m2.6 0h0.9m-0.2 0h0.9m-0.9 0h0.9m9.6 0h0.9m-0.6 0h0.9m0.1 0h0.9m-32.3 0.1h0.9m-0.3 0h0.9m2.2 0h0.9m1.7 0h0.9m-0.1 0h0.9m1.1 0h0.9m6.3 0h0.9m0 0h0.9m-0.3 0h0.9m2.7 0h0.9m-0.2 0h0.9m1 0h0.9m-0.5 0h0.9m0.4 0h0.9m-0.8 0h0.9m3.7 0h0.9m-31.8 0.1h0.9m-0.4 0h0.9m3 0h0.9m2.8 0h0.9m0.1 0h0.9m0.6 0h0.9m0.1 0h0.9m-0.7 0h0.9m1 0h0.9m-0.6 0h0.9m-0.4 0h0.9m4.6 0h0.9m0.3 0h0.9m1.7 0h0.9m1.9 0h0.9m-0.7 0h0.9m-29.1 0.1h0.9m-0.6 0h0.9m2.5 0h0.9m0.5 0h0.9m0.9 0h0.9m3.5 0h0.9m4.9 0h0.9m1.3 0h0.9m-0.8 0h0.9m-0.6 0h0.9m2.3 0h0.9m0 0h0.9m0.3 0h0.9m0 0h0.9m-0.8 0h0.9m0.1 0h0.9m5.4 0h0.9m-33.8 0.1h0.9m0 0h0.9m0.1 0h0.9m-0.4 0h0.9m6 0h0.9m-0.7 0h0.9m-0.6 0h0.9m7.2 0h0.9m7.6 0h0.9m-0.1 0h0.9m-0.3 0h0.9m3.8 0h0.9m-0.3 0h0.9m-30.1 0.1h0.9m3.8 0h0.9m0.1 0h0.9m1.2 0h0.9m0.6 0h0.9m1.2 0h0.9m1 0h0.9m-0.8 0h0.9m2.5 0h0.9m-0.2 0h0.9m-0.2 0h0.9m-0.4 0h0.9m-0.6 0h0.9m4.4 0h0.9m0.2 0h0.9m2.9 0h0.9m-33.9 0.1h0.9m3.9 0h0.9m-0.3 0h0.9m1.8 0h0.9m-0.5 0h0.9m-0.5 0h0.9m2.9 0h0.9m3.9 0h0.9m-0.7 0h0.9m0 0h0.9m0.4 0h0.9m-0.3 0h0.9m0.8 0h0.9m3.4 0h0.9m2.3 0h0.9m0.4 0h0.9m-0.4 0h0.9m0.9 0h0.9m-31.1 0.1h0.9m-0.8 0h0.9m0.9 0h0.9m1.3 0h0.9m-0.7 0h0.9m-0.8 0h0.9m5.6 0h0.9m1.8 0h0.9m1 0h0.9m0.2 0h0.9m-0.6 0h0.9m0.1 0h0.9m2.3 0h0.9m0.2 0h0.9m0.5 0h0.9m-0.1 0h0.9m-29 0.1h0.9m1.1 0h0.9m0.4 0h0.9m1.4 0h0.9m5.2 0h0.9m-0.3 0h0.9m-0.2 0h0.9m0.4 0h0.9m1.5 0h0.9m-0.7 0h0.9m1.3 0h0.9m1.5 0h0.9m-0.3 0h0.9m2 0h0.9m-0.6 0h0.9m-0.4 0h0.9m0.7 0h0.9m0.7 0h0.9m6.5 0h0.9m-34.3 0.1h0.9m1.7 0h0.9m-0.3 0h0.9m3.7 0h0.9m0.2 0h0.9m-0.8 0h0.9m0.5 0h0.9m-0.1 0h0.9m-0.1 0h0.9m-0.7 0h0.9m0.3 0h0.9m0 0h0.9m1.2 0h0.9m0.1 0h0.9m2.2 0h0.9m-0.5 0h0.9m-0.8 0h0.9m-0.8 0h0.9m-0.1 0h0.9m0.5 0h0.9m-0.9 0h0.9m2.8 0h0.9m1.5 0h0.9m-27.3 0.1h0.9m2.5 0h0.9m5.2 0h0.9m-0.8 0h0.9m-0.5 0h0.9m-0.6 0h0.9m-0.8 0h0.9m0.7 0h0.9m0 0h0.9m-0.9 0h0.9m0 0h0.9m-0.5 0h0.9m-0.7 0h0.9m-0.9 0h0.9m0.1 0h0.9m-0.8 0h0.9m3 0h0.9m6.3 0h0.9m2.3 0h0.9m-36.4 0.1h0.9m9.6 0h0.9m0.3 0h0.9m-0.7 0h0.9m-0.9 0h0.9m1.2 0h0.9m-0.5 0h0.9m-0.7 0h0.9m0.4 0h0.9m1.8 0h0.9m5.4 0h0.9m0.3 0h0.9m-0.7 0h0.9m-0.7 0h0.9m-0.7 0h0.9m-0.5 0h0.9m0.5 0h0.9m3 0h0.9m-0.3 0h0.9m-30.1 0.1h0.9m0.1 0h0.9m2.5 0h0.9m0.7 0h0.9m-0.3 0h0.9m0 0h0.9m0 0h0.9m0.2 0h0.9m-0.8 0h0.9m3.4 0h0.9m1.6 0h0.9m1.7 0h0.9m-0.4 0h0.9m1 0h0.9m0 0h0.9m6.6 0h0.9m-24.6 0.1h0.9m1.1 0h0.9m-0.4 0h0.9m3 0h0.9m1.1 0h0.9m-0.6 0h0.9m4 0h0.9m-0.8 0h0.9m-0.4 0h0.9m-0.3 0h0.9m-0.7 0h0.9m-0.4 0h0.9m1.5 0h0.9m-0.4 0h0.9m4.4 0h0.9m-34.4 0.1h0.9m-0.2 0h0.9m4.1 0h0.9m1.4 0h0.9m1 0h0.9m-0.1 0h0.9m0.8 0h0.9m3.8 0h0.9m0.9 0h0.9m2.8 0h0.9m-0.9 0h0.9m0 0h0.9m-0.4 0h0.9m-0.1 0h0.9m1.1 0h0.9m-0.8 0h0.9m0.9 0h0.9m1.3 0h0.9m-27.4 0.1h0.9m-0.7 0h0.9m1.6 0h0.9m1.3 0h0.9m0.2 0h0.9m-0.5 0h0.9m5.3 0h0.9m1.3 0h0.9m-0.7 0h0.9m-0.3 0h0.9m5.8 0h0.9m0.8 0h0.9m-0.8 0h0.9m0.5 0h0.9m2 0h0.9m-27.9 0.1h0.9m2.7 0h0.9m-0.1 0h0.9m-0.3 0h0.9m-0.6 0h0.9m0.4 0h0.9m0.6 0h0.9m0.9 0h0.9m-0.6 0h0.9m-0.7 0h0.9m0.2 0h0.9m-0.5 0h0.9m0.4 0h0.9m3 0h0.9m0.1 0h0.9m-0.7 0h0.9m-0.5 0h0.9m-0.8 0h0.9m-0.3 0h0.9m-0.7 0h0.9m-0.2 0h0.9m-0.2 0h0.9m-0.8 0h0.9m1 0h0.9m3.4 0h0.9m-0.7 0h0.9m-32.6 0.1h0.9m-0.1 0h0.9m-0.5 0h0.9m-0.1 0h0.9m1.9 0h0.9m1.3 0h0.9m-0.9 0h0.9m3.1 0h0.9m1.2 0h0.9m0.7 0h0.9m-0.6 0h0.9m-0.3 0h0.9m6.6 0h0.9m0.8 0h0.9m-0.6 0h0.9m-0.5 0h0.9m1 0h0.9m0.1 0h0.9m-0.6 0h0.9m3.6 0h0.9m-35.3 0.1h0.9m1.9 0h0.9m2.8 0h0.9m-0.7 0h0.9m2.2 0h0.9m2.1 0h0.9m-0.2 0h0.9m-0.2 0h0.9m-0.3 0h0.9m4.7 0h0.9m-0.8 0h0.9m0.5 0h0.9m0.1 0h0.9m-0.3 0h0.9m0.4 0h0.9m1 0h0.9m4.1 0h0.9m-0.9 0h0.9m-27.7 0.1h0.9m2.4 0h0.9m3.5 0h0.9m0.7 0h0.9m3.5 0h0.9m0 0h0.9m0.8 0h0.9m-0.5 0h0.9m-0.3 0h0.9m0.6 0h0.9m-0.8 0h0.9m0.9 0h0.9m2.2 0h0.9m2.7 0h0.9m0.9 0h0.9m-35.2 0.1h0.9m2.2 0h0.9m6 0h0.9m-0.5 0h0.9m1.3 0h0.9m-0.5 0h0.9m0.4 0h0.9m-0.4 0h0.9m-0.1 0h0.9m2.4 0h0.9m0.4 0h0.9m0.2 0h0.9m-0.7 0h0.9m2 0h0.9m-0.5 0h0.9m2.6 0h0.9m0.3 0h0.9m-31 0.1h0.9m0.9 0h0.9m4.6 0h0.9m0.2 0h0.9m1.4 0h0.9m-0.9 0h0.9m1.7 0h0.9m0.8 0h0.9m0.7 0h0.9m3 0h0.9m0.3 0h0.9m-0.3 0h0.9m2.6 0h0.9m2.9 0h0.9m-25 0.1h0.9m6.4 0h0.9m2.3 0h0.9m1.4 0h0.9m1.7 0h0.9m3.5 0h0.9m1.3 0h0.9m0.1 0h0.9m-0.8 0h0.9m-0.8 0h0.9m0.1 0h0.9m2 0h0.9m-0.3 0h0.9m-32.8 0.1h0.9m-0.8 0h0.9m-0.6 0h0.9m0.9 0h0.9m-0.6 0h0.9m0.4 0h0.9m0.2 0h0.9m3.8 0h0.9m-0.3 0h0.9m2.6 0h0.9m0.6 0h0.9m-0.7 0h0.9m-0.6 0h0.9m1.3 0h0.9m4.6 0h0.9m-0.2 0h0.9m-0.7 0h0.9m0 0h0.9m0.4 0h0.9m6.7 0h0.9m-31 0.1h0.9m-0.7 0h0.9m2.7 0h0.9m0 0h0.9m0.7 0h0.9m5.7 0h0.9m-0.2 0h0.9m-0.7 0h0.9m-0.6 0h0.9m1 0h0.9m0.8 0h0.9m0.6 0h0.9m1.3 0h0.9m0.1 0h0.9m-0.5 0h0.9m-28.8 0.1h0.9m3 0h0.9m0.5 0h0.9m0.9 0h0.9m-0.8 0h0.9m0 0h0.9m-0.5 0h0.9m0.3 0h0.9m-0.2 0h0.9m3.9 0h0.9m-0.7 0h0.9m2.7 0h0.9m0.5 0h0.9m5.6 0h0.9m2.6 0h0.9m1 0h0.9m-26.5 0.1h0.9m1.3 0h0.9m0.6 0h0.9m1.1 0h0.9m0 0h0.9m0.8 0h0.9m1.7 0h0.9m0.6 0h0.9m-0.7 0h0.9m1.2 0h0.9m-0.5 0h0.9m-0.4 0h0.9m-0.2 0h0.9m1.1 0h0.9m-0.2 0h0.9m0.5 0h0.9m1.4 0h0.9m-28 0.1h0.9m3.2 0h0.9m-0.8 0h0.9m2.4 0h0.9m0.7 0h0.9m1.7 0h0.9m-0.6 0h0.9m1.6 0h0.9m-0.4 0h0.9m-0.6 0h0.9m-0.2 0h0.9m3.3 0h0.9m1 0h0.9m-0.3 0h0.9m-0.3 0h0.9m6.1 0h0.9m-0.5 0h0.9m0.9 0h0.9m-35.5 0.1h0.9m1.4 0h0.9m-0.3 0h0.9m6.1 0h0.9m0.4 0h0.9m-0.7 0h0.9m-0.6 0h0.9m1.2 0h0.9m-0.7 0h0.9m-0.1 0h0.9m2.7 0h0.9m0 0h0.9m6.4 0h0.9m1.9 0h0.9m4.2 0h0.9m-35.7 0.1h0.9m8.8 0h0.9m0.4 0h0.9m2.3 0h0.9m0.4 0h0.9m0.9 0h0.9m-0.9 0h0.9m0.1 0h0.9m-0.4 0h0.9m-0.8 0h0.9m1.8 0h0.9m-0.8 0h0.9m0.2 0h0.9m-0.1 0h0.9m1.7 0h0.9m-0.5 0h0.9m6.5 0h0.9m-34.5 0.1h0.9m3.2 0h0.9m2 0h0.9m0.1 0h0.9m5.6 0h0.9m-0.6 0h0.9m0.4 0h0.9m1.9 0h0.9m0.1 0h0.9m-0.7 0h0.9m-0.1 0h0.9m0.1 0h0.9m-0.6 0h0.9m2.1 0h0.9m-0.1 0h0.9m0.9 0h0.9m-28.7 0.1h0.9m0.9 0h0.9m4 0h0.9m1.9 0h0.9m1 0h0.9m2.9 0h0.9m0.2 0h0.9m-0.6 0h0.9m-0.2 0h0.9m-0.3 0h0.9m-0.5 0h0.9m-0.5 0h0.9m-0.4 0h0.9m1 0h0.9m-0.3 0h0.9m3.7 0h0.9m2.5 0h0.9m0.8 0h0.9m-30.6 0.1h0.9m2.7 0h0.9m3.8 0h0.9m2.4 0h0.9m-0.2 0h0.9m-0.4 0h0.9m0 0h0.9m3.1 0h0.9m1.4 0h0.9m0 0h0.9m0.9 0h0.9m1.5 0h0.9m2.5 0h0.9m-0.4 0h0.9m2.6 0h0.9m0.5 0h0.9m-30.2 0.1h0.9m1.5 0h0.9m0.5 0h0.9m1.1 0h0.9m5 0h0.9m-0.1 0h0.9m0.3 0h0.9m2.6 0h0.9m0.1 0h0.9m-0.1 0h0.9m0.4 0h0.9m0.7 0h0.9m1.2 0h0.9m1.3 0h0.9m-0.5 0h0.9m-22.9 0.1h0.9m-0.6 0h0.9m1.1 0h0.9m0.3 0h0.9m1 0h0.9m-0.6 0h0.9m1.1 0h0.9m0.4 0h0.9m2.9 0h0.9m3 0h0.9m-10.8 0.1h0.9m5.1 0h0.9m1.6 0h0.9m3.9 0h0.9m-0.7 0h0.9m-26.2 0.1h0.9m6.1 0h0.9m3.9 0h0.9m0 0h0.9m1.9 0h0.9m1 0h0.9m2.2 0h0.9m-0.6 0h0.9m1.3 0h0.9m4.6 0h0.9m-32.9 0.1h0.9m10 0h0.9m-0.2 0h0.9m1.3 0h0.9m2.8 0h0.9m0 0h0.9m-0.5 0h0.9m-0.4 0h0.9m-0.6 0h0.9m0.5 0h0.9m1.3 0h0.9m-0.2 0h0.9m1.1 0h0.9m3.2 0h0.9m-0.8 0h0.9m-32.7 0.1h0.9m2.8 0h0.9m-0.7 0h0.9m0.3 0h0.9m1.7 0h0.9m1.1 0h0.9m1.2 0h0.9m-0.1 0h0.9m0.2 0h0.9m7.1 0h0.9m-0.2 0h0.9m-0.3 0h0.9m2.7 0h0.9m-0.5 0h0.9m1.7 0h0.9m-29.6 0.1h0.9m0.2 0h0.9m-0.8 0h0.9m8 0h0.9m-0.7 0h0.9m0.6 0h0.9m-0.5 0h0.9m3.2 0h0.9m-0.8 0h0.9m0.3 0h0.9m0.8 0h0.9m0.4 0h0.9m-0.9 0h0.9m1.3 0h0.9m0 0h0.9m1.2 0h0.9m-26 0.1h0.9m2.9 0h0.9m0.1 0h0.9m0.6 0h0.9m-0.8 0h0.9m4.6 0h0.9m-0.4 0h0.9m0.7 0h0.9m1.1 0h0.9m1.1 0h0.9m0.6 0h0.9m-0.3 0h0.9m-0.7 0h0.9m-0.5 0h0.9m1.7 0h0.9m1.6 0h0.9m0.2 0h0.9m-0.7 0h0.9m3.4 0h0.9m-35 0.1h0.9m2.6 0h0.9m3.1 0h0.9m4.9 0h0.9m-0.1 0h0.9m-0.9 0h0.9m1 0h0.9m0.9 0h0.9m-0.2 0h0.9m-0.1 0h0.9m1.4 0h0.9m-0.8 0h0.9m4.1 0h0.9m4.6 0h0.9m2 0h0.9m-35.9 0.1h0.9m12.3 0h0.9m0.2 0h0.9m0.7 0h0.9m1.3 0h0.9m2.8 0h0.9m0.5 0h0.9m2.7 0h0.9m-0.1 0h0.9m4.7 0h0.9m-33.3 0.1h0.9m2.6 0h0.9m5.9 0h0.9m0.8 0h0.9m-0.4 0h0.9m-0.5 0h0.9m1.8 0h0.9m4.6 0h0.9m0.5 0h0.9m5.9 0h0.9m1 0h0.9m-29.4 0.1h0.9m8.4 0h0.9m-0.4 0h0.9m0.9 0h0.9m-0.1 0h0.9m3 0h0.9m0.5 0h0.9m-0.5 0h0.9m3.9 0h0.9m0.5 0h0.9m-19.2 0.1h0.9m-0.2 0h0.9m1.5 0h0.9m0.9 0h0.9m1.2 0h0.9m7.6 0h0.9m-0.9 0h0.9m0.8 0h0.9m2.8 0h0.9m-0.9 0h0.9m-30.1 0.1h0.9m8.3 0h0.9m0.3 0h0.9m0.3 0h0.9m-0.7 0h0.9m-0.8 0h0.9m6.5 0h0.9m0.7 0h0.9m1.5 0h0.9m0.3 0h0.9m-0.8 0h0.9m-0.3 0h0.9m4.1 0h0.9m-0.8 0h0.9m0.2 0h0.9m-29.8 0.1h0.9m3.4 0h0.9m0.3 0h0.9m2.3 0h0.9m-0.6 0h0.9m4.7 0h0.9m1.1 0h0.9m5.2 0h0.9m0.7 0h0.9m0.4 0h0.9m-28.5 0.1h0.9m14.3 0h0.9m0.5 0h0.9m1.7 0h0.9m-0.8 0h0.9m0.8 0h0.9m-0.8 0h0.9m5 0h0.9m2.7 0h0.9m1.4 0h0.9m-32.3 0.1h0.9m8 0h0.9m-0.6 0h0.9m-0.3 0h0.9m1.3 0h0.9m-0.6 0h0.9m-0.8 0h0.9m-0.4 0h0.9m-0.5 0h0.9m1.5 0h0.9m4.1 0h0.9m-0.8 0h0.9m2.3 0h0.9m0.4 0h0.9m7.1 0h0.9m-34.8 0.1h0.9m5 0h0.9m-0.4 0h0.9m4.2 0h0.9m2.1 0h0.9m1.7 0h0.9m0.9 0h0.9m-0.4 0h0.9m1.6 0h0.9m1.4 0h0.9m1.2 0h0.9m0.9 0h0.9m-29.5 0.1h0.9m-0.2 0h0.9m1.5 0h0.9m3.2 0h0.9m1.6 0h0.9m5.9 0h0.9m1.4 0h0.9m1 0h0.9m0.5 0h0.9m-0.3 0h0.9m0.5 0h0.9m-0.7 0h0.9m-0.9 0h0.9m-0.7 0h0.9m4.1 0h0.9m0.3 0h0.9m-25.4 0.1h0.9m1.9 0h0.9m0.1 0h0.9m0.4 0h0.9m1.5 0h0.9m-0.1 0h0.9m0.4 0h0.9m9 0h0.9m3.2 0h0.9m-19.7 0.1h0.9m1.5 0h0.9m0.6 0h0.9m4 0h0.9m1.6 0h0.9m-0.9 0h0.9m2.3 0h0.9m-0.5 0h0.9m-0.7 0h0.9m2 0h0.9m-26 0.1h0.9m0.9 0h0.9m-0.5 0h0.9m0.2 0h0.9m-0.2 0h0.9m4.5 0h0.9m-0.8 0h0.9m0 0h0.9m0.1 0h0.9m2.4 0h0.9m0.1 0h0.9m-0.6 0h0.9m0.4 0h0.9m4.8 0h0.9m0.7 0h0.9m0.6 0h0.9m-18.3 0.1h0.9m4.4 0h0.9m0.9 0h0.9m10 0h0.9m-15.7 0.1h0.9m-0.6 0h0.9m-0.6 0h0.9m-0.1 0h0.9m-0.7 0h0.9m0.3 0h0.9m11.9 0h0.9m-30.3 0.1h0.9m1.3 0h0.9m2.2 0h0.9m1.5 0h0.9m6.7 0h0.9m1.2 0h0.9m4.8 0h0.9m1.5 0h0.9m-20 0.1h0.9m1.4 0h0.9m2.1 0h0.9m0 0h0.9m1.6 0h0.9m1.8 0h0.9m-0.7 0h0.9m2.2 0h0.9m-19.6 0.1h0.9m3.2 0h0.9m1.3 0h0.9m1.7 0h0.9m0.3 0h0.9m0.1 0h0.9m1.7 0h0.9m13.6 0h0.9m-35.1 0.1h0.9m5.9 0h0.9m2.3 0h0.9m0.9 0h0.9m2.3 0h0.9m0 0h0.9m-0.8 0h0.9m-6.9 0.1h0.9m-0.4 0h0.9m4.1 0h0.9m0.6 0h0.9m4.9 0h0.9m3.9 0h0.9m-23.9 0.1h0.9m-0.8 0h0.9m12.6 0h0.9m0.3 0h0.9m0.6 0h0.9m3.6 0h0.9m-0.1 0h0.9m-0.2 0h0.9m-0.9 0h0.9m0.4 0h0.9m-20.4 0.1h0.9m2.4 0h0.9m0.2 0h0.9m6.2 0h0.9m3.3 0h0.9m-0.4 0h0.9m0.5 0h0.9m2.7 0h0.9m2.1 0h0.9m-33 0.1h0.9m2.3 0h0.9m3.1 0h0.9m0.1 0h0.9m2.1 0h0.9m-0.7 0h0.9m-0.1 0h0.9m0 0h0.9m1.7 0h0.9m2.1 0h0.9m2.4 0h0.9m1.6 0h0.9m2 0h0.9m-29.6 0.1h0.9m16.4 0h0.9m6.2 0h0.9m2 0h0.9m0.9 0h0.9m0.8 0h0.9m-28 0.1h0.9m2.7 0h0.9m0.5 0h0.9m12.3 0h0.9m2.3 0h0.9m-0.8 0h0.9m-0.4 0h0.9m-0.9 0h0.9m2.1 0h0.9m-0.7 0h0.9m3.6 0h0.9m-29.7 0.1h0.9m1.4 0h0.9m0.4 0h0.9m11.3 0h0.9m-0.4 0h0.9m6.4 0h0.9m-0.2 0h0.9m-25.2 0.1h0.9m-0.9 0h0.9m5 0h0.9m1.6 0h0.9m8.8 0h0.9m3.9 0h0.9m3.6 0h0.9m-30.5 0.1h0.9m3 0h0.9m-0.8 0h0.9m9.5 0h0.9m2.4 0h0.9m-7.7 0.1h0.9m-0.8 0h0.9m1.5 0h0.9m-0.6 0h0.9m0.3 0h0.9m8.2 0h0.9m2 0h0.9m4.6 0h0.9m-32.6 0.1h0.9m-0.3 0h0.9m3.5 0h0.9m3 0h0.9m3.1 0h0.9m-0.6 0h0.9m0.4 0h0.9m-0.6 0h0.9m1.7 0h0.9m0.8 0h0.9m0 0h0.9m1.1 0h0.9m0.5 0h0.9m2.2 0h0.9m-28.2 0.1h0.9m0.2 0h0.9m3.9 0h0.9m3.7 0h0.9m1.2 0h0.9m-0.6 0h0.9m1.7 0h0.9m4.3 0h0.9m-13.6 0.1h0.9m3.2 0h0.9m4.8 0h0.9m1.3 0h0.9m-0.7 0h0.9m1.4 0h0.9m-0.1 0h0.9m0.2 0h0.9m-0.3 0h0.9m-17 0.1h0.9m9.3 0h0.9m0.5 0h0.9m5.4 0h0.9m1.5 0h0.9m-27.1 0.1h0.9m-0.4 0h0.9m0.7 0h0.9m3.3 0h0.9m6 0h0.9m1.4 0h0.9m1.7 0h0.9m-17.9 0.1h0.9m1 0h0.9m4.7 0h0.9m4.6 0h0.9m8 0h0.9m-27.3 0.1h0.9m11.1 0h0.9m3 0h0.9m0.2 0h0.9m0.2 0h0.9m-14.7 0.1h0.9m5 0h0.9m0.9 0h0.9m0.1 0h0.9m0.2 0h0.9m6 0h0.9m0.9 0h0.9m1.1 0h0.9m3.8 0h0.9m-29.5 0.1h0.9m14.3 0h0.9m2.7 0h0.9m7 0h0.9m-11.5 0.1h0.9m-0.6 0h0.9m9.2 0h0.9m-0.8 0h0.9m-0.5 0h0.9m-23.9 0.1h0.9m3.7 0h0.9m2.8 0h0.9m-0.3 0h0.9m0 0h0.9m2.8 0h0.9m1.3 0h0.9m9.2 0h0.9m-21.1 0.1h0.9m-0.6 0h0.9m2.8 0h0.9m1.4 0h0.9m3 0h0.9m-9 0.1h0.9m-15.7 0.1h0.9m1.9 0h0.9m1.3 0h0.9m3.9 0h0.9m12.2 0h0.9m-0.5 0h0.9m5 0h0.9m-26.6 0.1h0.9m8.8 0h0.9m2.7 0h0.9m6.2 0h0.9m-20.3 0.1h0.9m1.3 0h0.9m6.1 0h0.9m1.6 0h0.9m0.3 0h0.9m1.3 0h0.9m0.3 0h0.9m6.1 0h0.9m-24.5 0.1h0.9m1 0h0.9m2.7 0h0.9m0.1 0h0.9m0.7 0h0.9m2.4 0h0.9m-0.2 0h0.9m-0.4 0h0.9m0.8 0h0.9m0.3 0h0.9m-0.5 0h0.9m0.4 0h0.9m4.7 0h0.9m0.3 0h0.9m2.6 0h0.9m-26.5 0.1h0.9m4.7 0h0.9m3.4 0h0.9m11.3 0h0.9m-21.5 0.1h0.9m21.5 0h0.9m-0.2 0h0.9m-26.4 0.1h0.9m4.1 0h0.9m11.1 0h0.9m1.9 0h0.9m-19.6 0.1h0.9m5.6 0h0.9m3.9 0h0.9m1.5 0h0.9m-0.3 0h0.9m-16.7 0.1h0.9m-0.1 0h0.9m18.8 0h0.9m0.4 0h0.9m-22.1 0.1h0.9m2.3 0h0.9m9.1 0h0.9m-13.4 0.1h0.9m6.4 0h0.9m3.5 0h0.9m0 0h0.9m-0.3 0h0.9m1.5 0h0.9m1.9 0h0.9m6.4 0h0.9m-20.4 0.1h0.9m-6 0.1h0.9m11.8 0h0.9m7 0h0.9m0.1 0h0.9m-23.6 0.1h0.9m-0.6 0h0.9m5.3 0h0.9m3.7 0h0.9m-5 0.1h0.9m0.8 0h0.9m2.7 0h0.9m3.2 0h0.9m-0.4 0h0.9m-15 0.1h0.9m0.9 0h0.9m-0.9 0h0.9m20.4 0h0.9m-16.3 0.1h0.9m3.2 0h0.9m0.4 0h0.9m1 0h0.9m3.7 0h0.9m-19.7 0.1h0.9m5.7 0h0.9m0.5 0h0.9m-0.3 0h0.9m-13.2 0.1h0.9m4.7 0.1h0.9m1.2 0h0.9m6.8 0h0.9m8.3 0h0.9m-15.8 0.1h0.9m8.3 0h0.9m-19.8 0.1h0.9m8.3 0h0.9m2.9 0h0.9m4.1 0h0.9m-9.9 0.1h0.9m2 0h0.9m3.1 0h0.9m2.2 0h0.9m7.5 0.1h0.9m-28.1 0.1h0.9m0.5 0h0.9m1.6 0h0.9m6 0.1h0.9m-9 0.3h0.9m10 0h0.9m7.4 0h0.9m-23.4 0.1h0.9m8.2 0.1h0.9m-7.5 0.1h0.9m9.4 0h0.9m5.6 0h0.9m-5.6 0.1h0.9m11.1 0h0.9m-28.8 0.2h0.9m22.3 0h0.9m-3.3 0.1h0.9m-11 0.2h0.9m7.2 0h0.9m1.8 0.1h0.9m-24.5 0.3h0.9m14.8 1h0.9m-10.2 0.1h0.9m-1.6 0.7h0.9m12 1.8h0.9" stroke="rgb(118, 104, 196)" stroke-width="0.9" fill="none"/>
<path d="M80 337.7h0.9m-0.5 1.7h0.9m12 0.3h0.9m2 0.1h0.9m-17.6 0.1h0.9m5.4 0.1h0.9m7.4 0h0.9m-16.4 0.1h0.9m16.2 0h0.9m-7.6 0.2h0.9m-4 0.4h0.9m-12.2 0.1h0.9m2.3 0h0.9m10.7 0h0.9m5.7 0h0.9m-9.7 0.1h0.9m5.7 0h0.9m-8.9 0.2h0.9m-15 0.1h0.9m8.3 0h0.9m-6.6 0.1h0.9m12.4 0h0.9m1.1 0.1h0.9m-17.6 0.1h0.9m21.9 0h0.9m2.3 0h0.9m-20.7 0.1h0.9m-5.6 0.1h0.9m16.9 0h0.9m-15.5 0.1h0.9m17.8 0h0.9m-14.2 0.1h0.9m9.5 0.1h0.9m-22.1 0.1h0.9m4.9 0h0.9m9.4 0.1h0.9m8.3 0.1h0.9m-12.8 0.1h0.9m-9.2 0.1h0.9m-0.6 0h0.9m15.3 0h0.9m9.8 0h0.9m-12.5 0.1h0.9m-9.2 0.1h0.9m3.4 0h0.9m-14.2 0.1h0.9m16.5 0h0.9m-16.4 0.1h0.9m7.1 0h0.9m4 0h0.9m6 0h0.9m-11.7 0.2h0.9m0.6 0h0.9m4.4 0h0.9m-17.4 0.1h0.9m4.5 0.1h0.9m11.1 0h0.9m10.1 0h0.9m-18.1 0.1h0.9m2.4 0h0.9m5.8 0h0.9m-26 0.1h0.9m1.3 0.1h0.9m3.2 0h0.9m9.5 0h0.9m-8 0.1h0.9m8 0h0.9m-9.6 0.1h0.9m-6.4 0.1h0.9m1.1 0h0.9m-0.5 0.1h0.9m-2.1 0.1h0.9m14.1 0h0.9m-18.8 0.1h0.9m7.5 0h0.9m6.1 0h0.9m0.4 0h0.9m-21.7 0.1h0.9m3.1 0h0.9m11.8 0h0.9m-13.4 0.1h0.9m2.2 0h0.9m20.2 0h0.9m-29.3 0.1h0.9m5.4 0h0.9m3.7 0h0.9m0.9 0h0.9m2.6 0h0.9m-15.7 0.1h0.9m-0.2 0h0.9m2.1 0h0.9m7.4 0h0.9m-7.1 0.1h0.9m0.2 0h0.9m-4.5 0.1h0.9m0.8 0h0.9m16.7 0h0.9m-18.8 0.1h0.9m0.8 0h0.9m4.7 0h0.9m8.7 0h0.9m0.1 0h0.9m-15.8 0.1h0.9m3.7 0h0.9m13.3 0h0.9m3.5 0h0.9m-29.3 0.1h0.9m3.5 0h0.9m-8.6 0.1h0.9m27.7 0h0.9m-10.3 0.1h0.9m5.5 0h0.9m-11.9 0.1h0.9m5.6 0.1h0.9m4.6 0h0.9m-27.6 0.1h0.9m-0.4 0h0.9m1.5 0h0.9m6.8 0h0.9m18.6 0h0.9m-28.9 0.1h0.9m14.5 0h0.9m-16 0.1h0.9m14.7 0h0.9m-15 0.1h0.9m-0.6 0h0.9m12.6 0h0.9m3.7 0h0.9m0.9 0h0.9m3.7 0h0.9m-23.3 0.1h0.9m17.1 0h0.9m-26.3 0.1h0.9m2.4 0h0.9m5.9 0h0.9m6 0h0.9m11.3 0h0.9m-28.2 0.1h0.9m2.1 0h0.9m0.4 0h0.9m4.3 0h0.9m8.1 0h0.9m1.5 0h0.9m-21 0.1h0.9m20.9 0h0.9m-0.7 0h0.9m-25.5 0.1h0.9m8.3 0h0.9m0.4 0h0.9m19.8 0h0.9m-10 0.1h0.9m-0.5 0h0.9m5.9 0h0.9m2.6 0h0.9m-19.7 0.1h0.9m6.9 0h0.9m10 0h0.9m-33.9 0.1h0.9m2.4 0h0.9m10.3 0h0.9m12.7 0h0.9m-24.9 0.1h0.9m14.7 0h0.9m7.2 0h0.9m-12.2 0.1h0.9m4.4 0h0.9m3.2 0h0.9m2.4 0h0.9m1.4 0h0.9m-14.9 0.1h0.9m-0.1 0h0.9m4.1 0h0.9m8.2 0h0.9m-33.7 0.1h0.9m-0.5 0h0.9m-0.6 0h0.9m4.6 0h0.9m15.6 0h0.9m2.5 0h0.9m-0.9 0h0.9m6.4 0h0.9m-34 0.1h0.9m0.7 0h0.9m-0.7 0h0.9m13.7 0h0.9m-0.7 0h0.9m10.3 0h0.9m-27.7 0.1h0.9m-0.6 0h0.9m1.6 0h0.9m4 0h0.9m5.8 0h0.9m-15.1 0.1h0.9m28.4 0h0.9m-29.3 0.1h0.9m1.2 0h0.9m3.9 0h0.9m0.7 0h0.9m2.6 0h0.9m5.1 0h0.9m-0.4 0h0.9m1.3 0h0.9m5.3 0h0.9m-8.6 0.1h0.9m11 0h0.9m-34.3 0.1h0.9m31 0h0.9m-31.1 0.1h0.9m3.3 0h0.9m8.5 0h0.9m8 0h0.9m5.8 0h0.9m-29.5 0.1h0.9m-0.8 0h0.9m0.4 0h0.9m1.2 0h0.9m15.9 0h0.9m1.1 0h0.9m-21 0.1h0.9m11.8 0h0.9m1.6 0h0.9m5.7 0h0.9m1.9 0h0.9m4.6 0h0.9m-26.5 0.1h0.9m7.4 0h0.9m7.1 0h0.9m-18.6 0.1h0.9m23.9 0h0.9m-0.6 0h0.9m-30.3 0.1h0.9m7.1 0h0.9m17.6 0h0.9m-28.6 0.1h0.9m2.1 0h0.9m2.9 0h0.9m-9.2 0.1h0.9m34 0h0.9m-35.8 0.1h0.9m3.6 0h0.9m19.8 0h0.9m1.1 0h0.9m-18.4 0.1h0.9m-0.2 0h0.9m-0.6 0h0.9m23.6 0h0.9m-34.9 0.1h0.9m25.1 0h0.9m-25.7 0.1h0.9m8 0h0.9m9 0h0.9m-0.7 0h0.9m7.9 0h0.9m-23.7 0.1h0.9m14 0h0.9m0.5 0.1h0.9m3.3 0h0.9m-20.7 0.1h0.9m2 0h0.9m6.6 0h0.9m9.1 0h0.9m-0.1 0h0.9m-26.2 0.1h0.9m1.6 0h0.9m23.7 0h0.9m2.5 0h0.9m-22.2 0.2h0.9m-14.2 0.1h0.9m15.3 0h0.9m17.5 0h0.9m-8.9 0.1h0.9m-0.5 0h0.9m-8.8 0.1h0.9m9.5 0h0.9m-29.4 0.1h0.9m4.6 0h0.9m1.5 0h0.9m-8.6 0.1h0.9m0.2 0h0.9m3.1 0h0.9m0.2 0h0.9m18.3 0h0.9m-28 0.1h0.9m0 0h0.9m0.6 0h0.9m27.9 0h0.9m-31.9 0.1h0.9m-1 0.1h0.9m26.1 0h0.9m-24.7 0.1h0.9m5.4 0h0.9m3.2 0h0.9m-5.1 0.1h0.9m14.8 0h0.9m-13.5 0.1h0.9m16.6 0h0.9m1.7 0h0.9m-0.8 0h0.9m1.6 0h0.9m-33.8 0.1h0.9m0.6 0h0.9m8.3 0h0.9m5.4 0h0.9m-0.3 0h0.9m1.5 0.1h0.9m6.5 0h0.9m-2.7 0.1h0.9m-25.4 0.1h0.9m3.7 0h0.9m-4 0.1h0.9m21 0h0.9m-0.7 0h0.9m-26.6 0.1h0.9m-0.3 0.1h0.9m-2.9 0.1h0.9m2.7 0h0.9m1.9 0h0.9m-3.6 0.1h0.9m25.7 0h0.9m4.1 0h0.9m-10.9 0.1h0.9m-25.6 0.1h0.9m29.1 0h0.9m1.6 0h0.9m-33 0.1h0.9m38 0h0.9m-18.3 0.1h0.9m-23.2 0.1h0.9m-0.2 0h0.9m6 0h0.9m4.9 0h0.9m-5.9 0.1h0.9m23.6 0h0.9m-32.9 0.2h0.9m15 0h0.9m8.7 0h0.9m-1.4 0.1h0.9m4.5 0h0.9m-32.1 0.1h0.9m32.8 0h0.9m-1.2 0.1h0.9m-32.6 0.1h0.9m5.1 0.1h0.9m13 0h0.9m3.5 0h0.9m7.5 0.1h0.9m-34.7 0.1h0.9m1.2 0h0.9m5.2 0h0.9m17.2 0h0.9m1.7 0h0.9m3.1 0h0.9m-0.5 0h0.9m-28.2 0.1h0.9m15.9 0h0.9m7.1 0h0.9m-7.8 0.1h0.9m6.4 0h0.9m-32.4 0.1h0.9m29.7 0h0.9m-31.6 0.1h0.9m4.1 0h0.9m25.7 0h0.9m-32.6 0.1h0.9m0.5 0h0.9m25.9 0.1h0.9m4.5 0h0.9m-27.1 0.2h0.9m0.5 0h0.9m-1.2 0.1h0.9m0.6 0h0.9m21.7 0h0.9m-0.3 0h0.9m-22.8 0.1h0.9m2.5 0h0.9m16.6 0h0.9m0.5 0h0.9m-33.7 0.1h0.9m6.3 0.1h0.9m2.2 0h0.9m18.8 0h0.9m-0.3 0h0.9m-31.1 0.1h0.9m8.7 0h0.9m21.2 0h0.9m-34.2 0.1h0.9m4.5 0h0.9m-0.8 0h0.9m2.7 0h0.9m2.8 0h0.9m-13.8 0.1h0.9m0.6 0h0.9m20.3 0h0.9m1.2 0h0.9m0.5 0h0.9m-26.9 0.1h0.9m-0.8 0h0.9m-0.4 0h0.9m28.5 0h0.9m-22.5 0.1h0.9m16.7 0h0.9m-27.1 0.1h0.9m-0.7 0h0.9m0 0h0.9m5.1 0h0.9m24.9 0h0.9m-31.3 0.2h0.9m1.7 0h0.9m-5.5 0.1h0.9m1.9 0h0.9m8.8 0h0.9m-12 0.1h0.9m12.3 0h0.9m20.4 0h0.9m-35.2 0.1h0.9m3.3 0h0.9m1.1 0h0.9m6.1 0h0.9m-14.7 0.1h0.9m7.9 0h0.9m18.8 0h0.9m-28.9 0.1h0.9m0.5 0h0.9m26 0h0.9m-29 0.1h0.9m-0.8 0h0.9m1.7 0h0.9m29.5 0.1h0.9m-35.9 0.1h0.9m6.4 0h0.9m-8.2 0.1h0.9m1.5 0h0.9m1.7 0h0.9m2.7 0h0.9m0.6 0h0.9m22.7 0h0.9m-34.8 0.1h0.9m9.1 0.1h0.9m-10.7 0.1h0.9m31.5 0h0.9m-0.5 0h0.9m-33 0.1h0.9m3.4 0h0.9m0.5 0h0.9m23.9 0h0.9m-26.3 0.1h0.9m-5.7 0.1h0.9m4.3 0h0.9m-2.1 0.1h0.9m0.9 0.1h0.9m25.4 0.2h0.9m-26.5 0.1h0.9m1.1 0h0.9m13.7 0h0.9m-0.4 0h0.9m-23.4 0.1h0.9m7.8 0h0.9m0 0h0.9m5.4 0.1h0.9m4.1 0h0.9m-22.9 0.1h0.9m0.8 0h0.9m2.3 0.1h0.9m0.8 0.1h0.9m26.5 0h0.9m-29.2 0.1h0.9m2.4 0h0.9m4.9 0h0.9m-17 0.1h0.9m23.7 0h0.9m11.1 0.1h0.9m-19 0.1h0.9m-0.9 0h0.9m4 0h0.9m8.1 0.1h0.9m-32.7 0.1h0.9m0.9 0h0.9m9.7 0h0.9m18.1 0h0.9m-29 0.1h0.9m2.7 0h0.9m11.5 0h0.9m-15.9 0.1h0.9m-5.7 0.1h0.9m0.9 0h0.9m3 0h0.9m5 0h0.9m6.8 0h0.9m1.5 0h0.9m0 0h0.9m-22.8 0.2h0.9m2.7 0h0.9m-0.1 0h0.9m-3.6 0.1h0.9m3.9 0h0.9m13.3 0h0.9m-21.1 0.1h0.9m3.5 0h0.9m-0.6 0h0.9m-5.6 0.1h0.9m25.3 0h0.9m7 0h0.9m-22.7 0.1h0.9m8.3 0h0.9m3 0h0.9m8.6 0h0.9m-26.7 0.1h0.9m-0.4 0h0.9m15.6 0h0.9m-27.6 0.1h0.9m22.9 0h0.9m0.3 0h0.9m-24.9 0.1h0.9m4.8 0h0.9m26.2 0h0.9m-16 0.1h0.9m8.7 0h0.9m6.2 0h0.9m-35.2 0.1h0.9m1 0h0.9m15.5 0h0.9m7.5 0h0.9m7.3 0h0.9m-32 0.1h0.9m24 0.1h0.9m0 0h0.9m-32 0.1h0.9m2.8 0h0.9m25.7 0h0.9m3 0h0.9m-11.3 0.1h0.9m-13.1 0.1h0.9m0.6 0h0.9m3.6 0h0.9m4.5 0h0.9m8.4 0h0.9m-13.7 0.1h0.9m13.8 0h0.9m-34.4 0.1h0.9m3.1 0.1h0.9m25.8 0h0.9m-27.1 0.1h0.9m17.6 0h0.9m2.8 0h0.9m-22.1 0.1h0.9m1.8 0h0.9m-9.6 0.1h0.9m-0.7 0h0.9m0.2 0h0.9m4.1 0h0.9m26.1 0h0.9m-34 0.1h0.9m17.4 0h0.9m3.8 0h0.9m-23.3 0.1h0.9m1 0h0.9m4.3 0h0.9m21.6 0h0.9m5 0h0.9m-37.1 0.1h0.9m28.9 0h0.9m-26.7 0.1h0.9m1 0h0.9m6.4 0h0.9m4.6 0h0.9m7.3 0h0.9m7.6 0h0.9m-29.5 0.1h0.9m12.2 0h0.9m13 0h0.9m0.1 0.1h0.9m-35.8 0.1h0.9m27.2 0h0.9m1.2 0h0.9m-25.7 0.1h0.9m2.5 0h0.9m-3.2 0.1h0.9m17.1 0h0.9m0.6 0h0.9m-19.6 0.1h0.9m3.3 0h0.9m8.8 0h0.9m4.2 0h0.9m-26.5 0.1h0.9m4 0h0.9m3.6 0h0.9m-0.9 0h0.9m1.4 0h0.9m2 0h0.9m2.5 0h0.9m11.4 0h0.9m0.6 0h0.9m1.2 0h0.9m-0.1 0h0.9m-27.3 0.1h0.9m8.4 0h0.9m6.2 0h0.9m1.9 0h0.9m2.4 0h0.9m-32 0.1h0.9m13.3 0h0.9m2.7 0h0.9m9.7 0h0.9m2.1 0h0.9m0.9 0h0.9m-34.5 0.1h0.9m4.2 0h0.9m3.2 0h0.9m7.4 0h0.9m9 0h0.9m-20.1 0.1h0.9m0.3 0h0.9m-6.5 0.2h0.9m3.3 0h0.9m11.8 0h0.9m8 0h0.9m-0.7 0h0.9m0.3 0h0.9m-30.1 0.1h0.9m1.3 0h0.9m16 0h0.9m1.2 0h0.9m-24.1 0.1h0.9m0.1 0h0.9m0.7 0h0.9m25.5 0h0.9m1.1 0h0.9m-19.2 0.1h0.9m12.1 0h0.9m-16.4 0.1h0.9m0.9 0h0.9m5.1 0h0.9m6.4 0h0.9m-23.7 0.1h0.9m1.3 0h0.9m12.6 0h0.9m2.5 0h0.9m-22.1 0.1h0.9m3.2 0h0.9m1.4 0h0.9m-0.5 0h0.9m1.6 0h0.9m14.8 0h0.9m2.6 0h0.9m-15.6 0.1h0.9m12.8 0h0.9m0.2 0h0.9m-16.3 0.1h0.9m0.1 0h0.9m0.3 0h0.9m10.5 0h0.9m-27 0.1h0.9m6.9 0h0.9m10.5 0h0.9m0.4 0h0.9m-15.9 0.1h0.9m12.9 0h0.9m5.3 0h0.9m-21.4 0.1h0.9m-2.4 0.1h0.9m20.9 0h0.9m-25.8 0.1h0.9m11.8 0h0.9m-15.4 0.1h0.9m0.1 0h0.9m12.7 0h0.9m3.4 0h0.9m0.2 0h0.9m-0.3 0h0.9m0.5 0h0.9m6.3 0h0.9m-26.6 0.1h0.9m-3.4 0.1h0.9m8.8 0h0.9m4.1 0h0.9m1.6 0h0.9m2.4 0h0.9m-16.6 0.1h0.9m3.3 0h0.9m-4.6 0.1h0.9m-0.2 0h0.9m-1.6 0.1h0.9m18.6 0h0.9m3.1 0h0.9m3.3 0h0.9m-32.4 0.1h0.9m0.3 0h0.9m6.1 0h0.9m2.2 0h0.9m3 0h0.9m11.7 0h0.9m-1.4 0.1h0.9m-27 0.1h0.9m5.4 0h0.9m5.4 0h0.9m10.5 0h0.9m0.9 0h0.9m-26.5 0.1h0.9m20.3 0h0.9m1.9 0h0.9m-16.7 0.1h0.9m6 0h0.9m10 0h0.9m-22.8 0.1h0.9m-0.3 0h0.9m4.5 0h0.9m4.2 0h0.9m-18.9 0.1h0.9m7.8 0h0.9m1.3 0h0.9m6.4 0h0.9m-15.1 0.1h0.9m10.3 0.1h0.9m1 0h0.9m0.4 0h0.9m-11.2 0.1h0.9m10.2 0h0.9m-11.7 0.1h0.9m1.1 0h0.9m-0.3 0h0.9m6.7 0h0.9m-20.2 0.1h0.9m0.6 0h0.9m0.1 0h0.9m-0.3 0h0.9m0.1 0h0.9m-0.4 0h0.9m1.9 0h0.9m1.2 0h0.9m0 0h0.9m0 0h0.9m0.6 0h0.9m12.3 0h0.9m3.5 0h0.9m-30.1 0.1h0.9m0.2 0h0.9m5.8 0h0.9m15.1 0h0.9m-21.1 0.1h0.9m-0.2 0h0.9m0.8 0h0.9m0.4 0h0.9m-0.1 0h0.9m0.3 0h0.9m2.3 0h0.9m3.5 0h0.9m-11 0.1h0.9m2 0.1h0.9m10.5 0h0.9m-11.9 0.1h0.9m3.3 0h0.9m6.3 0h0.9m-14.7 0.1h0.9m-7.7 0.1h0.9m17.8 0h0.9m5.8 0h0.9m-13.8 0.1h0.9m10.9 0h0.9m1.1 0h0.9m-24.6 0.1h0.9m2.9 0h0.9m12.7 0h0.9m-18.6 0.1h0.9m1.4 0h0.9m5.1 0h0.9m9 0h0.9m5 0h0.9m-21.5 0.2h0.9m2.7 0h0.9m15.7 0h0.9m-21.7 0.1h0.9m10.6 0h0.9m3.1 0h0.9m-13.3 0.1h0.9m-2.5 0.1h0.9m0.6 0h0.9m6.7 0h0.9m-8.6 0.1h0.9m0.4 0h0.9m13.8 0h0.9m-14.4 0.1h0.9m-9.6 0.1h0.9m15.8 0h0.9m8.7 0h0.9m-17.3 0.1h0.9m11.9 0h0.9m-13.7 0.5h0.9m-10 0.3h0.9m10.9 0h0.9m9.5 0.1h0.9m-3.3 0.1h0.9m-21.4 0.1h0.9m4.6 0.1h0.9m6.1 0.1h0.9m-16.2 0.2h0.9m19.8 0h0.9m3.7 0h0.9m-13.4 0.1h0.9m-0.8 0h0.9m-14.5 0.1h0.9m0.6 0.3h0.9m1.1 0.3h0.9m14.9 0h0.9m-7.8 0.7h0.9m-3.8 0.1h0.9m8.3 0.3h0.9m-18.6 0.4h0.9m14.1 1.9h0.9" stroke="rgb(216, 48, 48)" stroke-width="0.9" fill="none"/>
<path d="M97.5 340.5h0.7m12.9 2.9h0.7m-15.2 1.3h0.7m-9.5 1.6h0.7m13.4 1.4h0.7m-2.7 1.8h0.7m1.2 2.1h0.7m0.4 0.5h0.7m-6.8 0.5h0.7m-8 0.6h0.7m8.2 0.1h0.7m-10.5 0.1h0.7m14.8 1.7h0.7m-18.9 2.4h0.7m-14.7 0.6h0.7m16.7 0h0.7m-5.4 1.5h0.7m2.7 0.6h0.7m0.7 0.5h0.7m4.1 0.4h0.7m4.2 0.8h0.7m-17.2 0.6h0.7m9 0.1h0.7m0.9 1.9h0.7m5.5 0.3h0.7m-15.2 0.6h0.7m-14.3 0.6h0.7m43 2.9h0.7m-43.2 0.1h0.7m13.1 0.9h0.7m7.1 0.3h0.7m-8.3 0.8h0.7m-3.1 0.1h0.7m-4.3 0.1h0.7m22.1 0h0.7m-17.2 0.5h0.7m-14.2 0.6h0.7m16.5 0.1h0.7m20.1 0.1h0.7m-16.1 1h0.7m-26.1 0.5h0.7m22.3 0.9h0.7m8.2 0.2h0.7m-25.3 0.1h0.7m4.2 0.1h0.7m8.6 0.4h0.7m2.1 0.6h0.7m5.3 0.1h0.7m-26.9 1.1h0.7m2.7 0.1h0.7m18.8 0h0.7m13.6 0h0.7m-20.7 1.4h0.7m1.8 0.6h0.7m-1.2 0.2h0.7m-14.2 1.1h0.7m10 2.2h0.7m-20.6 0.1h0.7m14.8 1.1h0.7m12.3 1h0.7m-17.8 1.3h0.7m-2.2 1.3h0.7m6.3 0.6h0.7m-12.6 1h0.7m21.1 2.1h0.7m1.8 2.5h0.7m-19.6 5.2h0.7m7.4 9.1h0.7m1.4 1.1h0.7m4 11.2h0.7" stroke="rgb(216, 48, 48)" stroke-width="0.7" fill="none" stroke-opacity="0.6"/>
<path d="M71.2 343h0.7m-0.7 0.9h0.7m-0.7 0.9h0.7m-0.7 0.9h0.7m-0.7 0.9h0.7m-0.7 0.9h0.7m-0.7 0.9h0.7m-0.7 0.9h0.7m-0.7 0.9h0.7m-0.7 0.9h0.7m-0.7 0.9h0.7m-0.7 0.9h0.7m-0.7 0.9h0.7m-0.7 0.9h0.7m-0.7 0.9h0.7m-0.7 0.9h0.7m-0.7 0.9h0.7m-0.7 0.9h0.7m-0.7 0.9h0.7m-0.7 0.9h0.7m-0.7 0.9h0.7m-0.7 0.9h0.7m-0.7 0.9h0.7m-0.7 0.9h0.7m-0.7 0.9h0.7m-0.7 0.9h0.7m-0.7 0.9h0.7m-0.7 0.9h0.7" stroke="rgb(118, 104, 196)" stroke-width="0.7" fill="none" stroke-opacity="0.8"/>
</g>
<line x1="107.40" y1="308.70" x2="107.40" y2="423.20" stroke="#707070" stroke-width="0.9"/>
<line x1="71.00" y1="371.50" x2="187.50" y2="371.50" stroke="#707070" stroke-width="0.9"/>
<rect x="71.00" y="308.70" width="11.00" height="8.00" fill="#fff" stroke="#b5b5b5" stroke-width="0.7"/>
<text x="72.00" y="314.50" font-size="5.0" font-weight="bold" fill="#222">K-+</text>
<rect x="107.40" y="308.70" width="11.80" height="8.00" fill="#fff" stroke="#b5b5b5" stroke-width="0.7"/>
<text x="108.40" y="314.50" font-size="5.0" font-weight="bold" fill="#222">K++</text>
<rect x="71.00" y="371.50" width="10.40" height="8.00" fill="#fff" stroke="#b5b5b5" stroke-width="0.7"/>
<text x="72.00" y="377.30" font-size="5.0" font-weight="bold" fill="#222">K--</text>
<rect x="107.40" y="371.50" width="11.00" height="8.00" fill="#fff" stroke="#b5b5b5" stroke-width="0.7"/>
<text x="108.40" y="377.30" font-size="5.0" font-weight="bold" fill="#222">K+-</text>
<rect x="85.30" y="318.60" width="21.40" height="21.20" rx="1.2" fill="#fff" stroke="#b0b0b0" stroke-width="0.7"/>
<text x="86.30" y="324.80" font-size="6.8" textLength="16.00" lengthAdjust="spacingAndGlyphs" fill="#111" class="mt">viable</text>
<text x="86.30" y="331.35" font-size="6.8" textLength="16.80" lengthAdjust="spacingAndGlyphs" fill="#111" class="mt">mouse</text>
<text x="86.30" y="337.90" font-size="6.8" textLength="12.40" lengthAdjust="spacingAndGlyphs" fill="#111" class="mt">PLTS</text>
<text x="51.84" y="399.38" font-size="8.6" textLength="9.56" lengthAdjust="spacingAndGlyphs">10</text>
<text x="61.81" y="395.94" font-size="7.0" textLength="3.89" lengthAdjust="spacingAndGlyphs">0</text>
<text x="51.84" y="370.75" font-size="8.6" textLength="9.56" lengthAdjust="spacingAndGlyphs">10</text>
<text x="61.81" y="367.31" font-size="7.0" textLength="3.89" lengthAdjust="spacingAndGlyphs">1</text>
<text x="51.84" y="342.12" font-size="8.6" textLength="9.56" lengthAdjust="spacingAndGlyphs">10</text>
<text x="61.81" y="338.69" font-size="7.0" textLength="3.89" lengthAdjust="spacingAndGlyphs">2</text>
<text x="51.84" y="313.50" font-size="8.6" textLength="9.56" lengthAdjust="spacingAndGlyphs">10</text>
<text x="61.81" y="310.06" font-size="7.0" textLength="3.89" lengthAdjust="spacingAndGlyphs">3</text>
<text x="93.25" y="436.80" font-size="8.6" textLength="9.56" lengthAdjust="spacingAndGlyphs">10</text>
<text x="103.21" y="433.36" font-size="7.0" textLength="3.89" lengthAdjust="spacingAndGlyphs">0</text>
<text x="122.37" y="436.80" font-size="8.6" textLength="9.56" lengthAdjust="spacingAndGlyphs">10</text>
<text x="132.34" y="433.36" font-size="7.0" textLength="3.89" lengthAdjust="spacingAndGlyphs">1</text>
<text x="151.50" y="436.80" font-size="8.6" textLength="9.56" lengthAdjust="spacingAndGlyphs">10</text>
<text x="161.46" y="433.36" font-size="7.0" textLength="3.89" lengthAdjust="spacingAndGlyphs">2</text>
<text x="180.62" y="436.80" font-size="8.6" textLength="9.56" lengthAdjust="spacingAndGlyphs">10</text>
<text x="190.59" y="433.36" font-size="7.0" textLength="3.89" lengthAdjust="spacingAndGlyphs">3</text>
<text x="0.00" y="0.00" font-size="11.5" text-anchor="middle" textLength="37.90" lengthAdjust="spacingAndGlyphs" transform="translate(45.40,366.75) rotate(-90)" class="cb">CD42d-APC</text>
<text x="128.00" y="451.70" font-size="11" text-anchor="middle" textLength="29.40" lengthAdjust="spacingAndGlyphs" class="cb">CD41 H7</text>
<text x="235.80" y="303.40" font-size="8.7" textLength="107.20" lengthAdjust="spacingAndGlyphs">[J] CD41 H7 / CD42d-APC</text>
<rect x="232.30" y="309.70" width="114.90" height="113.10" fill="#fff" stroke="#b4b4b4" stroke-width="0.8"/>
<path d="M232.30 422.80h-1.6M232.30 422.80v1.6M232.30 414.29h-0.9M240.95 422.80v0.9M232.30 409.31h-0.9M246.01 422.80v0.9M232.30 405.78h-0.9M249.59 422.80v0.9M232.30 403.04h-0.9M252.38 422.80v0.9M232.30 400.80h-0.9M254.65 422.80v0.9M232.30 398.90h-0.9M256.58 422.80v0.9M232.30 397.27h-0.9M258.24 422.80v0.9M232.30 395.82h-0.9M259.71 422.80v0.9M232.30 394.52h-1.6M261.02 422.80v1.6M232.30 386.01h-0.9M269.67 422.80v0.9M232.30 381.03h-0.9M274.73 422.80v0.9M232.30 377.50h-0.9M278.32 422.80v0.9M232.30 374.76h-0.9M281.10 422.80v0.9M232.30 372.52h-0.9M283.38 422.80v0.9M232.30 370.63h-0.9M285.30 422.80v0.9M232.30 368.99h-0.9M286.97 422.80v0.9M232.30 367.54h-0.9M288.44 422.80v0.9M232.30 366.25h-1.6M289.75 422.80v1.6M232.30 357.74h-0.9M298.40 422.80v0.9M232.30 352.76h-0.9M303.46 422.80v0.9M232.30 349.23h-0.9M307.04 422.80v0.9M232.30 346.49h-0.9M309.83 422.80v0.9M232.30 344.25h-0.9M312.10 422.80v0.9M232.30 342.35h-0.9M314.03 422.80v0.9M232.30 340.72h-0.9M315.69 422.80v0.9M232.30 339.27h-0.9M317.16 422.80v0.9M232.30 337.98h-1.6M318.48 422.80v1.6M232.30 329.46h-0.9M327.12 422.80v0.9M232.30 324.48h-0.9M332.18 422.80v0.9M232.30 320.95h-0.9M335.77 422.80v0.9M232.30 318.21h-0.9M338.55 422.80v0.9M232.30 315.97h-0.9M340.83 422.80v0.9M232.30 314.08h-0.9M342.75 422.80v0.9M232.30 312.44h-0.9M344.42 422.80v0.9M232.30 310.99h-0.9M345.89 422.80v0.9" stroke="#8a8a8a" stroke-width="0.6" fill="none"/>
<g filter="url(#sb)">
<path d="M241.9 368.9h0.8m15.9 0.3h0.8m46.4 0.2h0.8m-54.6 0.1h0.8m-2.4 0.3h0.8m6.4 0h0.8m-17.3 0.2h0.8m9.1 0h0.8m-11.9 0.1h0.8m19 0h0.8m-10.5 0.3h0.8m4.9 0h0.8m1.5 0.3h0.8m32.6 0h0.8m-44.1 0.1h0.8m12.2 0.1h0.8m-0.2 0h0.8m-14.5 0.2h0.8m15.3 0.2h0.8m-21.4 0.1h0.8m6.6 0.1h0.8m2.5 0h0.8m-14 0.1h0.8m14.8 0h0.8m2.2 0.1h0.8m-3.9 0.1h0.8m-1.4 0.1h0.8m35.3 0h0.8m-41.4 0.1h0.8m-0.2 0.1h0.8m5.6 0.1h0.8m-7.6 0.1h0.8m-7.5 0.1h0.8m11.5 0.1h0.8m-13.8 0.1h0.8m5.3 0.2h0.8m-17 0.2h0.8m16.9 0h0.8m6.4 0.2h0.8m-27 0.1h0.8m2.2 0h0.8m12.1 0h0.8m-0.3 0h0.8m-0.1 0h0.8m1.9 0h0.8m-6.6 0.1h0.8m13.2 0h0.8m-0.2 0h0.8m-14 0.1h0.8m0.3 0h0.8m6.3 0h0.8m9.5 0h0.8m-19.9 0.1h0.8m9.3 0.1h0.8m2.1 0h0.8m4.1 0h0.8m-19.2 0.1h0.8m9.3 0.1h0.8m1.4 0.1h0.8m-13 0.1h0.8m4.7 0h0.8m1 0h0.8m1.5 0h0.8m-0.1 0h0.8m3.9 0h0.8m-26.5 0.1h0.8m3.8 0h0.8m9.4 0h0.8m-7.6 0.1h0.8m54.7 0h0.8m-59 0.1h0.8m5.8 0h0.8m2.9 0h0.8m13.1 0h0.8m-25.2 0.1h0.8m6.9 0h0.8m5.6 0h0.8m37.8 0h0.8m-59.3 0.1h0.8m24.5 0h0.8m10 0h0.8m-37.1 0.1h0.8m5.6 0h0.8m7.9 0h0.8m-0.2 0h0.8m-1.3 0.1h0.8m8.8 0h0.8m-15.2 0.1h0.8m-0.7 0.1h0.8m-5.1 0.1h0.8m-0.6 0h0.8m7.2 0h0.8m-0.2 0h0.8m1.8 0h0.8m2.9 0.1h0.8m-0.8 0h0.8m3 0h0.8m0.2 0h0.8m-13.4 0.1h0.8m0.6 0h0.8m1.5 0h0.8m-0.2 0h0.8m2.5 0h0.8m2 0h0.8m0.9 0h0.8m-16.7 0.1h0.8m3.5 0h0.8m-0.6 0h0.8m-0.4 0h0.8m2.4 0h0.8m8.4 0h0.8m35.6 0h0.8m-50.3 0.1h0.8m2 0h0.8m-9.8 0.1h0.8m10.4 0h0.8m1 0h0.8m37.5 0h0.8m-56.4 0.1h0.8m10.6 0h0.8m1.8 0h0.8m1.9 0h0.8m0.1 0h0.8m3.1 0h0.8m-12.7 0.1h0.8m-0.1 0h0.8m-15.2 0.1h0.8m22.4 0h0.8m9 0h0.8m-20.1 0.1h0.8m5.2 0h0.8m0.8 0h0.8m-0.5 0h0.8m35.6 0h0.8m-47.5 0.1h0.8m-0.2 0h0.8m0 0h0.8m-0.3 0h0.8m3 0h0.8m1.1 0h0.8m4 0h0.8m-21.8 0.1h0.8m21.8 0h0.8m-0.6 0h0.8m6.4 0h0.8m26 0h0.8m-49.6 0.1h0.8m1.6 0h0.8m-3.8 0.1h0.8m0 0h0.8m0.8 0h0.8m-0.4 0h0.8m5 0h0.8m3.7 0h0.8m-14.8 0.1h0.8m3.6 0h0.8m2.3 0h0.8m0.7 0h0.8m1.4 0h0.8m1.6 0h0.8m-19.6 0.1h0.8m6.6 0h0.8m0.2 0h0.8m0.4 0h0.8m0.7 0h0.8m-4.4 0.1h0.8m0.1 0h0.8m2.2 0h0.8m1.5 0h0.8m2.7 0h0.8m-18.1 0.1h0.8m3.6 0h0.8m0.6 0h0.8m1.7 0h0.8m0 0h0.8m0.4 0h0.8m2.2 0h0.8m-0.8 0h0.8m3.7 0h0.8m0.8 0h0.8m-14.3 0.1h0.8m4 0h0.8m2.4 0h0.8m3.5 0h0.8m2.1 0h0.8m-0.3 0h0.8m0.3 0h0.8m2.3 0h0.8m-0.7 0h0.8m5.8 0h0.8m32.2 0h0.8m-62.4 0.1h0.8m0.1 0h0.8m-0.8 0h0.8m-0.4 0h0.8m8.4 0h0.8m3.3 0h0.8m0.8 0h0.8m-10.1 0.1h0.8m0.2 0h0.8m5.2 0h0.8m-0.1 0h0.8m1.3 0h0.8m2.3 0h0.8m1.4 0h0.8m-28.4 0.1h0.8m16.7 0h0.8m3.7 0h0.8m-16.1 0.1h0.8m8.9 0h0.8m4.5 0h0.8m3.9 0h0.8m3.5 0h0.8m33.1 0h0.8m-58.6 0.1h0.8m7.2 0h0.8m2.6 0h0.8m0.1 0h0.8m4 0h0.8m1.8 0h0.8m-0.4 0h0.8m32.3 0h0.8m-59.4 0.1h0.8m6.1 0h0.8m3.3 0h0.8m7.8 0h0.8m2.8 0h0.8m2.1 0h0.8m0.5 0h0.8m30.8 0h0.8m-55.1 0.1h0.8m2.4 0h0.8m1.5 0h0.8m-0.2 0h0.8m-0.4 0h0.8m3.9 0h0.8m3.6 0h0.8m0.3 0h0.8m-0.3 0h0.8m4 0h0.8m-22.9 0.1h0.8m4.3 0h0.8m2.8 0h0.8m3.7 0h0.8m3.7 0h0.8m-0.5 0h0.8m0.5 0h0.8m1.6 0h0.8m-27.7 0.1h0.8m1.1 0h0.8m5 0h0.8m0.7 0h0.8m-4.4 0.1h0.8m6.7 0h0.8m7.5 0h0.8m-24.8 0.1h0.8m18.4 0h0.8m0.9 0h0.8m6 0h0.8m-0.3 0h0.8m-26.9 0.1h0.8m6.2 0h0.8m-0.2 0h0.8m3.2 0h0.8m5.1 0h0.8m3.1 0h0.8m9.5 0h0.8m-33.2 0.1h0.8m8.3 0h0.8m3 0h0.8m0.3 0h0.8m4.8 0h0.8m5.8 0h0.8m29.7 0h0.8m-49.4 0.1h0.8m21.2 0h0.8m-21.4 0.1h0.8m1 0h0.8m7.6 0h0.8m1.2 0h0.8m4.6 0h0.8m-29.4 0.1h0.8m1.1 0h0.8m0.6 0h0.8m6 0h0.8m6.2 0h0.8m-0.5 0h0.8m2.2 0h0.8m2.4 0h0.8m-17.9 0.1h0.8m2.3 0h0.8m0.5 0h0.8m2 0h0.8m1.2 0h0.8m-0.4 0h0.8m0.6 0h0.8m3 0h0.8m3.6 0h0.8m0.6 0h0.8m37.7 0h0.8m-55.1 0.1h0.8m3.5 0h0.8m1.1 0h0.8m1.8 0h0.8m2 0h0.8m6.1 0h0.8m-23.4 0.1h0.8m2.4 0h0.8m1.8 0h0.8m3.3 0h0.8m0.7 0h0.8m-0.2 0h0.8m-0.7 0h0.8m0.5 0h0.8m9.4 0h0.8m-21.5 0.1h0.8m8.8 0h0.8m-0.3 0h0.8m3 0h0.8m0.6 0h0.8m4.9 0h0.8m-22.9 0.1h0.8m0.6 0h0.8m0.3 0h0.8m4.8 0h0.8m-0.3 0h0.8m0.3 0h0.8m0.3 0h0.8m3 0h0.8m-0.3 0h0.8m5.7 0h0.8m0.1 0h0.8m22.9 0h0.8m-50.8 0.1h0.8m0.4 0h0.8m4.5 0h0.8m-0.5 0h0.8m4.4 0h0.8m0.1 0h0.8m0.6 0h0.8m3.6 0h0.8m41.5 0h0.8m-62.3 0.1h0.8m8.3 0h0.8m0.5 0h0.8m0 0h0.8m2 0h0.8m-0.8 0h0.8m3 0h0.8m-0.6 0h0.8m0.3 0h0.8m43.7 0h0.8m-70.7 0.1h0.8m9.8 0h0.8m1.1 0h0.8m3.5 0h0.8m1 0h0.8m1.7 0h0.8m3.5 0h0.8m1 0h0.8m1.1 0h0.8m-16.8 0.1h0.8m0.6 0h0.8m4.2 0h0.8m5.6 0h0.8m-0.8 0h0.8m7.4 0h0.8m21.9 0h0.8m2.4 0h0.8m12 0h0.8m-64.9 0.1h0.8m0.6 0h0.8m1.6 0h0.8m0.2 0h0.8m-0.4 0h0.8m1.8 0h0.8m-0.5 0h0.8m0.9 0h0.8m-0.6 0h0.8m4.3 0h0.8m0.4 0h0.8m-19.4 0.1h0.8m-0.3 0h0.8m1.4 0h0.8m-0.3 0h0.8m4 0h0.8m3.2 0h0.8m2.1 0h0.8m5.1 0h0.8m-0.6 0h0.8m34.2 0h0.8m-0.4 0h0.8m-57.9 0.1h0.8m3.3 0h0.8m7.5 0h0.8m1.5 0h0.8m1.9 0h0.8m-0.3 0h0.8m1.2 0h0.8m-0.2 0h0.8m-0.5 0h0.8m2 0h0.8m-15.3 0.1h0.8m0.6 0h0.8m1.3 0h0.8m5 0h0.8m-0.5 0h0.8m-12.4 0.1h0.8m4.7 0h0.8m2.7 0h0.8m-0.4 0h0.8m0 0h0.8m-0.3 0h0.8m-0.4 0h0.8m-0.2 0h0.8m-19.9 0.1h0.8m0.6 0h0.8m-0.4 0h0.8m4.5 0h0.8m-0.7 0h0.8m1.5 0h0.8m1.7 0h0.8m0.5 0h0.8m0.1 0h0.8m3.5 0h0.8m39.5 0h0.8m-55.2 0.1h0.8m2.7 0h0.8m2.1 0h0.8m2 0h0.8m1.6 0h0.8m-0.7 0h0.8m2.1 0h0.8m2.8 0h0.8m7.3 0h0.8m-29.8 0.1h0.8m1.2 0h0.8m-0.3 0h0.8m2.9 0h0.8m-0.8 0h0.8m1 0h0.8m3.8 0h0.8m-0.2 0h0.8m0.7 0h0.8m1.1 0h0.8m-0.5 0h0.8m5.3 0h0.8m-0.6 0h0.8m5.9 0h0.8m23.6 0h0.8m-58.3 0.1h0.8m0.7 0h0.8m1.7 0h0.8m1.2 0h0.8m2 0h0.8m-0.6 0h0.8m4.3 0h0.8m4 0h0.8m0.1 0h0.8m9.2 0h0.8m16.6 0h0.8m13.7 0h0.8m-67.4 0.1h0.8m9.5 0h0.8m6.3 0h0.8m0.1 0h0.8m-0.6 0h0.8m4.9 0h0.8m7.2 0h0.8m42.7 0h0.8m-66.6 0.1h0.8m3.1 0h0.8m0.6 0h0.8m-0.4 0h0.8m0.6 0h0.8m0.2 0h0.8m1.1 0h0.8m0.5 0h0.8m0.5 0h0.8m0.7 0h0.8m0.8 0h0.8m1.8 0h0.8m11.8 0h0.8m-34.6 0.1h0.8m2.1 0h0.8m5.4 0h0.8m0 0h0.8m0.7 0h0.8m-0.1 0h0.8m1.2 0h0.8m0.5 0h0.8m-0.3 0h0.8m-0.4 0h0.8m0.5 0h0.8m-0.8 0h0.8m1.2 0h0.8m0.2 0h0.8m2.1 0h0.8m-29.6 0.1h0.8m10.1 0h0.8m6.7 0h0.8m-0.7 0h0.8m0.5 0h0.8m1.1 0h0.8m0.8 0h0.8m-0.7 0h0.8m6.7 0h0.8m-0.2 0h0.8m-27.8 0.1h0.8m1.7 0h0.8m1.6 0h0.8m0.4 0h0.8m-0.8 0h0.8m0 0h0.8m4 0h0.8m1 0h0.8m1.7 0h0.8m0.8 0h0.8m0.4 0h0.8m6.8 0h0.8m-33.5 0.1h0.8m5.5 0h0.8m0.8 0h0.8m1.4 0h0.8m-0.2 0h0.8m0.2 0h0.8m0.3 0h0.8m1.1 0h0.8m4.1 0h0.8m-0.2 0h0.8m-0.1 0h0.8m-0.3 0h0.8m6.9 0h0.8m-22.7 0.1h0.8m1 0h0.8m-0.2 0h0.8m2.5 0h0.8m2.8 0h0.8m5.4 0h0.8m5.7 0h0.8m-25.7 0.1h0.8m2.8 0h0.8m4.6 0h0.8m0.2 0h0.8m0.2 0h0.8m1.9 0h0.8m1.4 0h0.8m-0.4 0h0.8m0.6 0h0.8m-0.4 0h0.8m0.5 0h0.8m2.7 0h0.8m6.3 0h0.8m-0.3 0h0.8m-27 0.1h0.8m1.6 0h0.8m2.8 0h0.8m-0.3 0h0.8m-0.3 0h0.8m4 0h0.8m0.8 0h0.8m2.1 0h0.8m-0.4 0h0.8m0.5 0h0.8m-25.6 0.1h0.8m4.7 0h0.8m7.2 0h0.8m0.5 0h0.8m0.1 0h0.8m1.4 0h0.8m0.6 0h0.8m1.2 0h0.8m4.4 0h0.8m-0.6 0h0.8m-0.4 0h0.8m-20.5 0.1h0.8m-0.7 0h0.8m5.9 0h0.8m3.4 0h0.8m-0.6 0h0.8m11.8 0h0.8m-30.4 0.1h0.8m0.3 0h0.8m11 0h0.8m2.3 0h0.8m4.2 0h0.8m0.5 0h0.8m0.5 0h0.8m-25.6 0.1h0.8m4.1 0h0.8m-0.2 0h0.8m7.6 0h0.8m-0.6 0h0.8m-0.4 0h0.8m2.4 0h0.8m-0.8 0h0.8m-0.5 0h0.8m0.7 0h0.8m-0.5 0h0.8m1.2 0h0.8m2.7 0h0.8m1.3 0h0.8m-0.2 0h0.8m1.5 0h0.8m3.5 0h0.8m-29.4 0.1h0.8m2.6 0h0.8m2.9 0h0.8m2.1 0h0.8m0.8 0h0.8m-0.6 0h0.8m-0.8 0h0.8m1.3 0h0.8m2.2 0h0.8m-0.5 0h0.8m-17 0.1h0.8m0.1 0h0.8m2.6 0h0.8m1.9 0h0.8m0.9 0h0.8m3.2 0h0.8m0 0h0.8m-0.2 0h0.8m-0.3 0h0.8m1 0h0.8m0.2 0h0.8m5.5 0h0.8m31.6 0h0.8m-60.4 0.1h0.8m2.8 0h0.8m4.3 0h0.8m-0.3 0h0.8m-0.7 0h0.8m0.9 0h0.8m-0.3 0h0.8m0.9 0h0.8m-0.4 0h0.8m4.2 0h0.8m3.3 0h0.8m3.7 0h0.8m-25.6 0.1h0.8m2.9 0h0.8m-0.7 0h0.8m-0.5 0h0.8m-0.4 0h0.8m3.7 0h0.8m0.6 0h0.8m0.4 0h0.8m5.6 0h0.8m0.6 0h0.8m-0.1 0h0.8m0.7 0h0.8m29.8 0h0.8m-58.4 0.1h0.8m10.6 0h0.8m2.6 0h0.8m-0.4 0h0.8m1 0h0.8m-0.2 0h0.8m0.7 0h0.8m2.8 0h0.8m2.4 0h0.8m3 0h0.8m-26.5 0.1h0.8m2.7 0h0.8m2.8 0h0.8m2.2 0h0.8m0.9 0h0.8m4.4 0h0.8m3.1 0h0.8m-0.2 0h0.8m9.6 0h0.8m-25 0.1h0.8m0.9 0h0.8m4.8 0h0.8m2.2 0h0.8m5.6 0h0.8m-0.7 0h0.8m-0.8 0h0.8m-21.1 0.1h0.8m0.7 0h0.8m2.2 0h0.8m-0.8 0h0.8m7.3 0h0.8m-0.7 0h0.8m1.1 0h0.8m5.9 0h0.8m-29.8 0.1h0.8m8.5 0h0.8m3.2 0h0.8m-0.4 0h0.8m-0.7 0h0.8m0.1 0h0.8m-0.3 0h0.8m6.7 0h0.8m-0.6 0h0.8m0 0h0.8m12.7 0h0.8m-38 0.1h0.8m3.5 0h0.8m0.4 0h0.8m0.6 0h0.8m1.4 0h0.8m2.3 0h0.8m-0.3 0h0.8m-0.7 0h0.8m1.1 0h0.8m-0.7 0h0.8m5.5 0h0.8m1.3 0h0.8m-0.7 0h0.8m0.2 0h0.8m-23.3 0.1h0.8m7.3 0h0.8m2.7 0h0.8m-0.1 0h0.8m-0.4 0h0.8m-0.7 0h0.8m0.5 0h0.8m2.2 0h0.8m1.9 0h0.8m0.5 0h0.8m7.2 0h0.8m-28.6 0.1h0.8m5.2 0h0.8m-0.4 0h0.8m1.6 0h0.8m0.8 0h0.8m2.8 0h0.8m0.8 0h0.8m-0.1 0h0.8m-0.4 0h0.8m7.9 0h0.8m-0.8 0h0.8m-27.3 0.1h0.8m0.8 0h0.8m2.9 0h0.8m-0.8 0h0.8m0.5 0h0.8m2 0h0.8m6.9 0h0.8m8.3 0h0.8m-0.3 0h0.8m-25.4 0.1h0.8m2.4 0h0.8m1.5 0h0.8m2.5 0h0.8m1.3 0h0.8m-0.6 0h0.8m-0.2 0h0.8m1.7 0h0.8m-0.6 0h0.8m3.7 0h0.8m-23.6 0.1h0.8m6.2 0h0.8m0.1 0h0.8m2.5 0h0.8m0.6 0h0.8m-0.6 0h0.8m2.9 0h0.8m-0.1 0h0.8m-0.4 0h0.8m-0.6 0h0.8m4.9 0h0.8m3.6 0h0.8m-30.1 0.1h0.8m2.5 0h0.8m8.2 0h0.8m0.4 0h0.8m4.1 0h0.8m-0.3 0h0.8m-0.4 0h0.8m0.3 0h0.8m0.1 0h0.8m1.5 0h0.8m-0.3 0h0.8m-8.4 0.1h0.8m1.1 0h0.8m0.2 0h0.8m4.6 0h0.8m8.3 0h0.8m27.4 0h0.8m-61.7 0.1h0.8m3.7 0h0.8m3.1 0h0.8m3.8 0h0.8m1.4 0h0.8m0.3 0h0.8m-0.5 0h0.8m0.2 0h0.8m0.1 0h0.8m1 0h0.8m5.3 0h0.8m0.9 0h0.8m6.5 0h0.8m-0.6 0h0.8m-31.8 0.1h0.8m4.8 0h0.8m1.9 0h0.8m-0.7 0h0.8m0.6 0h0.8m-0.5 0h0.8m0 0h0.8m-0.4 0h0.8m-0.7 0h0.8m3.4 0h0.8m-0.8 0h0.8m0.4 0h0.8m-22.4 0.1h0.8m3.1 0h0.8m5.3 0h0.8m2.3 0h0.8m1.4 0h0.8m1.6 0h0.8m0.3 0h0.8m8.9 0h0.8m-30.6 0.1h0.8m7.9 0h0.8m1.1 0h0.8m2.3 0h0.8m5.1 0h0.8m-0.7 0h0.8m-0.7 0h0.8m11 0h0.8m5.5 0h0.8m-31.3 0.1h0.8m9 0h0.8m4.3 0h0.8m1.5 0h0.8m0 0h0.8m0.2 0h0.8m9.7 0h0.8m32.4 0h0.8m0.6 0h0.8m-67.4 0.1h0.8m2.9 0h0.8m2.5 0h0.8m1.2 0h0.8m-0.7 0h0.8m2.1 0h0.8m2 0h0.8m5.8 0h0.8m-0.2 0h0.8m-0.5 0h0.8m0.1 0h0.8m0.3 0h0.8m1.5 0h0.8m1.3 0h0.8m-35.4 0.1h0.8m9.5 0h0.8m1.9 0h0.8m1.2 0h0.8m2.6 0h0.8m-0.3 0h0.8m6.1 0h0.8m2.6 0h0.8m3 0h0.8m22 0h0.8m-54 0.1h0.8m7.3 0h0.8m2.5 0h0.8m0.5 0h0.8m1.2 0h0.8m1.2 0h0.8m0.3 0h0.8m0.1 0h0.8m4.6 0h0.8m0.1 0h0.8m-0.6 0h0.8m46.3 0h0.8m-68.1 0.1h0.8m2.8 0h0.8m0.6 0h0.8m1 0h0.8m-0.5 0h0.8m0.6 0h0.8m0.5 0h0.8m0.9 0h0.8m3.4 0h0.8m-0.7 0h0.8m0.2 0h0.8m0.7 0h0.8m8.2 0h0.8m-30.5 0.1h0.8m-0.8 0h0.8m3.9 0h0.8m3.5 0h0.8m6.7 0h0.8m-0.6 0h0.8m1.2 0h0.8m-24.6 0.1h0.8m0.8 0h0.8m21.6 0h0.8m0.2 0h0.8m0.4 0h0.8m6.6 0h0.8m6.4 0h0.8m21 0h0.8m-63.8 0.1h0.8m7.2 0h0.8m2.9 0h0.8m0 0h0.8m2.5 0h0.8m3.4 0h0.8m1 0h0.8m0.5 0h0.8m-0.3 0h0.8m0.5 0h0.8m1.3 0h0.8m-20.6 0.1h0.8m0.8 0h0.8m-0.2 0h0.8m1.7 0h0.8m0.9 0h0.8m3.5 0h0.8m0.4 0h0.8m0.7 0h0.8m1 0h0.8m0 0h0.8m2.1 0h0.8m0.8 0h0.8m2.5 0h0.8m3.5 0h0.8m37.2 0h0.8m-62.8 0.1h0.8m1.6 0h0.8m0.7 0h0.8m-0.8 0h0.8m2 0h0.8m0.1 0h0.8m0.4 0h0.8m2.8 0h0.8m1.7 0h0.8m-0.6 0h0.8m2.8 0h0.8m4.5 0h0.8m2.2 0h0.8m-30 0.1h0.8m1.9 0h0.8m0.8 0h0.8m-0.7 0h0.8m0.1 0h0.8m-0.4 0h0.8m2.2 0h0.8m0.3 0h0.8m0 0h0.8m0.4 0h0.8m10.2 0h0.8m5.1 0h0.8m22.4 0h0.8m-50.5 0.1h0.8m0.9 0h0.8m0.4 0h0.8m0.9 0h0.8m-0.4 0h0.8m-0.3 0h0.8m3.5 0h0.8m5.6 0h0.8m4.9 0h0.8m-27.5 0.1h0.8m5.6 0h0.8m0.1 0h0.8m-0.1 0h0.8m0.6 0h0.8m2 0h0.8m-0.4 0h0.8m0.3 0h0.8m-0.3 0h0.8m1.2 0h0.8m2.1 0h0.8m2.5 0h0.8m36.5 0h0.8m-57.2 0.1h0.8m13.7 0h0.8m3.2 0h0.8m3.3 0h0.8m-30.1 0.1h0.8m0.4 0h0.8m0.3 0h0.8m8 0h0.8m-0.1 0h0.8m-0.8 0h0.8m1.2 0h0.8m0.3 0h0.8m4.5 0h0.8m-0.5 0h0.8m0 0h0.8m0.9 0h0.8m30.4 0h0.8m-46 0.1h0.8m-0.5 0h0.8m0.3 0h0.8m3 0h0.8m-0.7 0h0.8m-0.4 0h0.8m45.6 0h0.8m-46.5 0.1h0.8m-0.6 0h0.8m2.3 0h0.8m3.2 0h0.8m2.9 0h0.8m-0.1 0h0.8m10.5 0h0.8m21.3 0h0.8m-60.7 0.1h0.8m5.3 0h0.8m5.7 0h0.8m0.4 0h0.8m1.2 0h0.8m-0.7 0h0.8m-0.6 0h0.8m-0.4 0h0.8m-0.4 0h0.8m1.9 0h0.8m2.7 0h0.8m-15.3 0.1h0.8m2.5 0h0.8m-0.1 0h0.8m4.4 0h0.8m-0.4 0h0.8m3.5 0h0.8m33.9 0h0.8m0.3 0h0.8m-57.2 0.1h0.8m5.2 0h0.8m-0.2 0h0.8m0 0h0.8m4.2 0h0.8m2.4 0h0.8m1.9 0h0.8m2.6 0h0.8m-0.8 0h0.8m-0.6 0h0.8m43.1 0h0.8m-61.9 0.1h0.8m3.9 0h0.8m14.9 0h0.8m1.6 0h0.8m2.2 0h0.8m-24.1 0.1h0.8m-0.6 0h0.8m-0.5 0h0.8m2.2 0h0.8m6.5 0h0.8m0 0h0.8m2.3 0h0.8m2.3 0h0.8m6.5 0h0.8m22.5 0h0.8m-60.7 0.1h0.8m1.1 0h0.8m5.6 0h0.8m1.8 0h0.8m2.5 0h0.8m-0.2 0h0.8m-0.6 0h0.8m-0.1 0h0.8m-0.8 0h0.8m-0.2 0h0.8m0.3 0h0.8m0.7 0h0.8m1.9 0h0.8m2.6 0h0.8m-0.7 0h0.8m1.7 0h0.8m0.4 0h0.8m0.3 0h0.8m0 0h0.8m-32.5 0.1h0.8m4.7 0h0.8m-0.7 0h0.8m-0.2 0h0.8m9.1 0h0.8m3.9 0h0.8m-0.1 0h0.8m0.2 0h0.8m0.3 0h0.8m0.2 0h0.8m0.5 0h0.8m3.5 0h0.8m-24.8 0.1h0.8m5.2 0h0.8m-0.6 0h0.8m5.2 0h0.8m2.4 0h0.8m2.6 0h0.8m2 0h0.8m-0.6 0h0.8m1 0h0.8m-29.5 0.1h0.8m8.1 0h0.8m3.2 0h0.8m-0.3 0h0.8m-0.3 0h0.8m4 0h0.8m2 0h0.8m4.5 0h0.8m0.4 0h0.8m32.4 0h0.8m-50.6 0.1h0.8m1.7 0h0.8m1.8 0h0.8m6.4 0h0.8m1.4 0h0.8m12.5 0h0.8m-41 0.1h0.8m10.9 0h0.8m-0.2 0h0.8m-0.6 0h0.8m1.1 0h0.8m0.9 0h0.8m4.6 0h0.8m-0.6 0h0.8m0.1 0h0.8m2.7 0h0.8m1.7 0h0.8m-0.6 0h0.8m35.7 0h0.8m-51.3 0.1h0.8m0 0h0.8m2.6 0h0.8m0.2 0h0.8m0.3 0h0.8m0.8 0h0.8m0.1 0h0.8m2 0h0.8m0.4 0h0.8m-26.9 0.1h0.8m9 0h0.8m7.4 0h0.8m-0.7 0h0.8m-0.4 0h0.8m-0.2 0h0.8m0 0h0.8m0.7 0h0.8m0.4 0h0.8m1.6 0h0.8m2.2 0h0.8m-0.1 0h0.8m19.7 0h0.8m-45.9 0.1h0.8m5.1 0h0.8m0.1 0h0.8m0.8 0h0.8m0.5 0h0.8m0 0h0.8m5.8 0h0.8m-0.7 0h0.8m1.7 0h0.8m0.8 0h0.8m0.3 0h0.8m29 0h0.8m-58.3 0.1h0.8m6.8 0h0.8m1.3 0h0.8m7.7 0h0.8m0.4 0h0.8m2.8 0h0.8m-0.2 0h0.8m0 0h0.8m0.5 0h0.8m2.5 0h0.8m1.8 0h0.8m33.9 0h0.8m-0.1 0h0.8m-62 0.1h0.8m-0.4 0h0.8m0.7 0h0.8m2.7 0h0.8m2.3 0h0.8m1.2 0h0.8m2.4 0h0.8m3.7 0h0.8m35.4 0h0.8m4.8 0h0.8m0.5 0h0.8m-69 0.1h0.8m0.7 0h0.8m6.4 0h0.8m6 0h0.8m3.8 0h0.8m1.6 0h0.8m1.6 0h0.8m0.5 0h0.8m2.9 0h0.8m1.4 0h0.8m6.9 0h0.8m-23.5 0.1h0.8m0.9 0h0.8m1.4 0h0.8m17.3 0h0.8m-31.4 0.1h0.8m4.7 0h0.8m0.4 0h0.8m-0.2 0h0.8m0 0h0.8m2 0h0.8m-0.3 0h0.8m0.8 0h0.8m-0.1 0h0.8m-0.3 0h0.8m3 0h0.8m-16.7 0.1h0.8m2.1 0h0.8m0.2 0h0.8m3.3 0h0.8m-0.6 0h0.8m0.2 0h0.8m4 0h0.8m5.3 0h0.8m-0.4 0h0.8m-0.6 0h0.8m39.4 0h0.8m0.6 0h0.8m-69.4 0.1h0.8m12.3 0h0.8m1.5 0h0.8m-0.7 0h0.8m6.3 0h0.8m1.6 0h0.8m6 0h0.8m23.1 0h0.8m0.8 0h0.8m0.5 0h0.8m-50.1 0.1h0.8m0.3 0h0.8m4.2 0h0.8m-0.8 0h0.8m0.2 0h0.8m2.1 0h0.8m-0.2 0h0.8m2.6 0h0.8m3.3 0h0.8m33.7 0h0.8m-65.8 0.1h0.8m7.5 0h0.8m2.1 0h0.8m-0.1 0h0.8m3.2 0h0.8m0.5 0h0.8m-0.5 0h0.8m0.9 0h0.8m2.2 0h0.8m1 0h0.8m2.8 0h0.8m42.4 0h0.8m-52 0.1h0.8m1.8 0h0.8m3.2 0h0.8m-0.5 0h0.8m5.9 0h0.8m39.5 0h0.8m-67.3 0.1h0.8m1.1 0h0.8m6.7 0h0.8m2.9 0h0.8m-0.1 0h0.8m1.5 0h0.8m2.9 0h0.8m3.9 0h0.8m11.4 0h0.8m-37.2 0.1h0.8m11.6 0h0.8m0.1 0h0.8m1.4 0h0.8m0.1 0h0.8m3.6 0h0.8m29 0h0.8m5.4 0h0.8m-47.8 0.1h0.8m0 0h0.8m-0.1 0h0.8m2.6 0h0.8m-20.2 0.1h0.8m10.9 0h0.8m2.9 0h0.8m1.1 0h0.8m0.4 0h0.8m-0.5 0h0.8m-0.5 0h0.8m-0.7 0h0.8m-0.1 0h0.8m1.1 0h0.8m6.3 0h0.8m2 0h0.8m-30.9 0.1h0.8m4.8 0h0.8m-0.6 0h0.8m1.3 0h0.8m2 0h0.8m0 0h0.8m0.7 0h0.8m-0.1 0h0.8m-0.3 0h0.8m2.4 0h0.8m2.6 0h0.8m-10.8 0.1h0.8m4.1 0h0.8m2.7 0h0.8m0.7 0h0.8m1.7 0h0.8m3.6 0h0.8m1.4 0h0.8m25.9 0h0.8m7.4 0h0.8m-55.2 0.1h0.8m-0.3 0h0.8m1.7 0h0.8m7.7 0h0.8m-0.4 0h0.8m11.4 0h0.8m-40.3 0.1h0.8m7.6 0h0.8m11.1 0h0.8m-0.1 0h0.8m7.6 0h0.8m2 0h0.8m-19.1 0.1h0.8m0.8 0h0.8m1.6 0h0.8m-0.2 0h0.8m0.6 0h0.8m0.7 0h0.8m1.2 0h0.8m-0.4 0h0.8m-0.2 0h0.8m3.7 0h0.8m-27.2 0.1h0.8m3.5 0h0.8m5.1 0h0.8m-0.5 0h0.8m6.3 0h0.8m2.2 0h0.8m3.7 0h0.8m1.8 0h0.8m0 0h0.8m5.8 0h0.8m34.4 0h0.8m-64.2 0.1h0.8m5.1 0h0.8m4.5 0h0.8m1 0h0.8m6.9 0h0.8m-28.1 0.1h0.8m13.4 0h0.8m5.7 0h0.8m4.5 0h0.8m-22.5 0.1h0.8m2.3 0h0.8m-0.4 0h0.8m-0.3 0h0.8m-0.5 0h0.8m0.4 0h0.8m4.2 0h0.8m-0.5 0h0.8m0.2 0h0.8m1.3 0h0.8m0.2 0h0.8m3.6 0h0.8m0.1 0h0.8m4.1 0h0.8m37.9 0h0.8m-63.3 0.1h0.8m-0.7 0h0.8m4.6 0h0.8m0 0h0.8m1.3 0h0.8m0.1 0h0.8m1 0h0.8m-0.3 0h0.8m0.8 0h0.8m4.7 0h0.8m4 0h0.8m-25 0.1h0.8m4.4 0h0.8m2.6 0h0.8m1.3 0h0.8m0.6 0h0.8m0 0h0.8m4.2 0h0.8m-25.9 0.1h0.8m12 0h0.8m1.8 0h0.8m4 0h0.8m8.4 0h0.8m-17.3 0.1h0.8m12.8 0h0.8m-0.6 0h0.8m2.9 0h0.8m-0.2 0h0.8m-30.1 0.1h0.8m1.5 0h0.8m5.2 0h0.8m0.1 0h0.8m12.8 0h0.8m4.1 0h0.8m2.5 0h0.8m-18.3 0.1h0.8m1.7 0h0.8m4 0h0.8m0.7 0h0.8m3.7 0h0.8m-13.6 0.1h0.8m-10.7 0.1h0.8m4.5 0h0.8m-0.7 0h0.8m7.4 0h0.8m9.8 0h0.8m-19.8 0.1h0.8m-0.4 0h0.8m7.6 0h0.8m4.1 0h0.8m0.2 0h0.8m12.8 0h0.8m28.2 0h0.8m-52.4 0.1h0.8m1.1 0h0.8m7 0h0.8m36.4 0h0.8m-43.7 0.1h0.8m0.3 0h0.8m10.1 0h0.8m32.9 0h0.8m-51.5 0.1h0.8m4.8 0h0.8m1.4 0h0.8m3.5 0h0.8m35 0h0.8m-59.1 0.1h0.8m2.4 0h0.8m13.8 0h0.8m2.2 0h0.8m5.7 0h0.8m7 0h0.8m-40 0.1h0.8m3.5 0h0.8m3.5 0h0.8m2.8 0h0.8m-0.5 0h0.8m1.6 0h0.8m4.6 0h0.8m40.9 0h0.8m-55.1 0.1h0.8m-0.3 0h0.8m6.3 0h0.8m-0.4 0h0.8m5.2 0h0.8m0.1 0h0.8m14.4 0h0.8m32.8 0h0.8m-69.2 0.1h0.8m10.5 0h0.8m2.4 0h0.8m3 0h0.8m-24.1 0.1h0.8m-0.8 0h0.8m8 0h0.8m16.7 0h0.8m0.4 0h0.8m7.1 0h0.8m-23.5 0.1h0.8m2.8 0h0.8m0.3 0h0.8m4 0h0.8m0.1 0h0.8m3.1 0h0.8m4.1 0h0.8m31.2 0h0.8m-42.6 0.1h0.8m2.8 0h0.8m-14.5 0.1h0.8m5.2 0h0.8m11.1 0h0.8m0.7 0h0.8m-25.6 0.1h0.8m11 0h0.8m1 0h0.8m5.9 0h0.8m6.8 0h0.8m-35.3 0.1h0.8m27.2 0h0.8m-0.1 0h0.8m37 0h0.8m-52.3 0.1h0.8m3.4 0h0.8m4 0h0.8m-20 0.1h0.8m9 0h0.8m3 0h0.8m4.1 0h0.8m1.4 0h0.8m0.4 0h0.8m1 0.1h0.8m-0.3 0h0.8m-11.5 0.3h0.8m-0.7 0h0.8m0.6 0h0.8m-5.9 0.1h0.8m6.7 0h0.8m-14.8 0.1h0.8m1.3 0h0.8m-0.4 0h0.8m6.8 0h0.8m5.8 0h0.8m2.1 0h0.8m-9 0.1h0.8m1.1 0h0.8m-13.9 0.1h0.8m2.4 0h0.8m-0.6 0h0.8m4.3 0h0.8m9.3 0h0.8m-11.2 0.1h0.8m4.9 0h0.8m-0.3 0h0.8m-6.4 0.1h0.8m6 0h0.8m-3.9 0.1h0.8m4.3 0h0.8m-0.6 0h0.8m-17.4 0.1h0.8m0.3 0h0.8m8.6 0h0.8m2.8 0.1h0.8m0.3 0.1h0.8m-13.2 0.1h0.8m0.6 0h0.8m-0.3 0h0.8m16.6 0h0.8m-24.7 0.1h0.8m15.4 0h0.8m-8.5 0.1h0.8m-4 0.1h0.8m2.2 0h0.8m48.6 0h0.8m2.3 0h0.8m-12.7 0.1h0.8m12.4 0h0.8m-70.2 0.1h0.8m20.1 0h0.8m-0.4 0h0.8m5.1 0h0.8m-12.3 0.1h0.8m54 0h0.8m-62.3 0.1h0.8m8.2 0h0.8m40.8 0.1h0.8m19.9 0h0.8m-75.9 0.1h0.8m12 0.1h0.8m0.4 0h0.8m43.4 0h0.8m-55.1 0.1h0.8m4.9 0h0.8m-13.2 0.1h0.8m15.7 0h0.8m11.7 0h0.8m-11.6 0.1h0.8m-6.7 0.1h0.8m3.5 0.1h0.8m2.2 0h0.8m37.1 0.1h0.8m7.6 0.1h0.8m-51.7 0.1h0.8m50.4 0h0.8m-53.5 0.1h0.8m45.6 0h0.8m-32.5 0.1h0.8m33.4 0h0.8m-54.1 0.1h0.8m7.2 0h0.8m-9.4 0.1h0.8m15.1 0h0.8m32.6 0h0.8m-35.7 0.1h0.8m4.7 0h0.8m-19.8 0.2h0.8m1.5 0.1h0.8m0.6 0.2h0.8m47.3 0.1h0.8m-3.7 0.4h0.8m-47.6 0.1h0.8m9.7 0.1h0.8m-4.9 0.1h0.8m11.6 0h0.8m26.7 0.1h0.8m8.9 0.2h0.8m-70.2 0.2h0.8m63.5 0.1h0.8m0.1 0h0.8m-66.9 0.1h0.8m60.9 0h0.8m-48.2 0.1h0.8m50.7 0.6h0.8m8.6 0.2h0.8m-8.6 0.1h0.8m3.5 0.1h0.8m-49.9 0.3h0.8m37.2 2.1h0.8" stroke="rgb(216, 48, 48)" stroke-width="0.8" fill="none"/>
<path d="M251.6 371.6h0.8m-8.6 0.4h0.8m14.4 1.8h0.8m-2.9 0.1h0.8m-6.3 0.5h0.8m2.2 0.9h0.8m-4.1 0.3h0.8m4.3 0h0.8m-11.6 0.2h0.8m1.8 0.4h0.8m12 0h0.8m-12.5 0.1h0.8m3.2 0h0.8m-0.4 0h0.8m-8.9 0.1h0.8m-0.6 0h0.8m7.2 0h0.8m2.1 0h0.8m1.3 0h0.8m-4.2 0.1h0.8m-4.5 0.1h0.8m0.4 0.1h0.8m7.1 0h0.8m-10.3 0.1h0.8m2.4 0h0.8m-1.2 0.1h0.8m0.5 0.2h0.8m-0.6 0h0.8m4.9 0h0.8m-7.3 0.1h0.8m-0.1 0h0.8m4.3 0h0.8m-11.4 0.1h0.8m3 0h0.8m1.2 0h0.8m-0.2 0h0.8m-5.4 0.1h0.8m-2.6 0.1h0.8m8.1 0h0.8m-10.7 0.2h0.8m1.6 0h0.8m1.9 0h0.8m3.3 0h0.8m-6.3 0.1h0.8m-3.5 0.1h0.8m2 0h0.8m-0.7 0h0.8m0.1 0.1h0.8m1.5 0.1h0.8m0.4 0h0.8m-5.9 0.2h0.8m1.8 0h0.8m0.7 0h0.8m-7.7 0.1h0.8m0.6 0h0.8m13.5 0h0.8m-17.9 0.1h0.8m16.6 0h0.8m-20.3 0.1h0.8m8.6 0h0.8m4.9 0h0.8m-17.4 0.1h0.8m5.3 0h0.8m7.6 0h0.8m-9.3 0.1h0.8m3 0h0.8m0.2 0h0.8m-8.1 0.1h0.8m-0.8 0h0.8m3.2 0h0.8m1.8 0h0.8m1.1 0h0.8m4.2 0h0.8m-3.3 0.1h0.8m-9.2 0.1h0.8m8.2 0h0.8m-14.7 0.1h0.8m4.4 0h0.8m-0.6 0h0.8m1.1 0h0.8m-0.2 0h0.8m0 0h0.8m1.7 0h0.8m-16.9 0.1h0.8m9.7 0h0.8m-0.7 0h0.8m2.3 0h0.8m1.7 0h0.8m0.1 0h0.8m-0.8 0h0.8m-8.9 0.1h0.8m-0.4 0h0.8m-0.4 0h0.8m-10 0.1h0.8m3.8 0h0.8m7.3 0h0.8m2.8 0h0.8m0.4 0h0.8m2.4 0h0.8m-18.1 0.1h0.8m5.6 0h0.8m1 0h0.8m0.2 0h0.8m1.2 0h0.8m3.2 0h0.8m-13.3 0.1h0.8m0.5 0h0.8m5.1 0h0.8m-0.5 0h0.8m-0.6 0h0.8m0.3 0h0.8m0.4 0h0.8m-16.8 0.1h0.8m5 0h0.8m2.5 0h0.8m1.2 0h0.8m-0.8 0h0.8m4 0h0.8m0.7 0h0.8m-0.5 0h0.8m1.5 0h0.8m-13.4 0.1h0.8m-0.4 0h0.8m0.8 0h0.8m-0.2 0h0.8m2.8 0h0.8m-4.4 0.1h0.8m0 0h0.8m5.5 0h0.8m0.3 0h0.8m3 0h0.8m-16.9 0.1h0.8m1.4 0h0.8m1.3 0h0.8m4.9 0h0.8m-7.7 0.1h0.8m2 0h0.8m0 0h0.8m2.8 0h0.8m0.4 0h0.8m1 0h0.8m2.7 0h0.8m-18.7 0.1h0.8m3.8 0h0.8m-0.6 0h0.8m3.1 0h0.8m-0.1 0h0.8m0.4 0h0.8m-7.3 0.1h0.8m9.4 0h0.8m-14.7 0.1h0.8m3.1 0h0.8m0.7 0h0.8m0.2 0h0.8m6.3 0h0.8m5.9 0h0.8m-25.1 0.1h0.8m0.2 0h0.8m3.2 0h0.8m1.5 0h0.8m0 0h0.8m-0.7 0h0.8m5.4 0h0.8m0.8 0h0.8m-17.3 0.1h0.8m-0.1 0h0.8m10 0h0.8m1.4 0h0.8m1.3 0h0.8m2 0h0.8m-17.6 0.1h0.8m5.4 0h0.8m3.4 0h0.8m2.9 0h0.8m-0.1 0h0.8m-20.4 0.1h0.8m12.2 0h0.8m-0.7 0h0.8m-0.8 0h0.8m0.5 0h0.8m-13.2 0.1h0.8m10.9 0h0.8m2.3 0h0.8m1.7 0h0.8m1.7 0h0.8m-7.5 0.1h0.8m0.8 0h0.8m-0.1 0h0.8m-9.2 0.1h0.8m2.6 0h0.8m-0.5 0h0.8m0.5 0h0.8m-0.8 0h0.8m-0.2 0h0.8m-0.6 0h0.8m10.1 0h0.8m-22.5 0.1h0.8m11.2 0h0.8m-9.5 0.1h0.8m1 0h0.8m4 0h0.8m3.3 0h0.8m2.3 0h0.8m3.7 0h0.8m-20.7 0.1h0.8m8.4 0h0.8m7.3 0h0.8m-19.3 0.1h0.8m5 0h0.8m1.5 0h0.8m-0.2 0h0.8m-0.7 0h0.8m3.6 0h0.8m5 0h0.8m-16.7 0.1h0.8m7.1 0h0.8m2.4 0h0.8m2.8 0h0.8m1 0h0.8m1.1 0h0.8m-14.6 0.1h0.8m0.6 0h0.8m0 0h0.8m-0.8 0h0.8m1.6 0h0.8m3.8 0h0.8m-14.7 0.1h0.8m4.1 0h0.8m-0.6 0h0.8m3.7 0h0.8m2.8 0h0.8m1.7 0h0.8m-0.6 0h0.8m-17 0.1h0.8m3 0h0.8m3.7 0h0.8m4.5 0h0.8m0.4 0h0.8m-15.1 0.1h0.8m2.5 0h0.8m9.4 0h0.8m-15 0.1h0.8m-0.3 0h0.8m-0.7 0.1h0.8m1.5 0h0.8m-0.7 0h0.8m1 0h0.8m2 0h0.8m0.1 0h0.8m1.9 0h0.8m-0.7 0h0.8m5.1 0h0.8m-30.7 0.1h0.8m8.4 0h0.8m1.7 0h0.8m0.5 0h0.8m2 0h0.8m3.5 0h0.8m1 0h0.8m3 0h0.8m-0.4 0h0.8m-16.3 0.1h0.8m4.7 0h0.8m0.1 0h0.8m0.2 0h0.8m-0.5 0h0.8m-0.5 0h0.8m0.7 0h0.8m-0.3 0h0.8m-0.4 0h0.8m-5.4 0.1h0.8m1.4 0h0.8m0 0h0.8m-0.5 0h0.8m-0.2 0h0.8m0.8 0h0.8m1.1 0h0.8m-9.7 0.1h0.8m2.6 0h0.8m0.4 0h0.8m0.7 0h0.8m3.4 0h0.8m-0.6 0h0.8m-5.7 0.1h0.8m1.4 0h0.8m1 0h0.8m-10 0.1h0.8m0.7 0h0.8m0 0h0.8m1.4 0h0.8m0.7 0h0.8m-0.7 0h0.8m40 0h0.8m-49.6 0.1h0.8m3.5 0h0.8m0.4 0h0.8m2.1 0h0.8m5.7 0h0.8m0.4 0h0.8m-19 0.1h0.8m1.3 0h0.8m-0.4 0h0.8m1.8 0h0.8m-0.6 0h0.8m1.4 0h0.8m7 0h0.8m-0.3 0h0.8m3 0h0.8m-15.8 0.1h0.8m-0.6 0h0.8m-0.6 0h0.8m1.1 0h0.8m0.9 0h0.8m1.3 0h0.8m5.3 0h0.8m0 0h0.8m-13.5 0.1h0.8m0.4 0h0.8m0.6 0h0.8m-0.8 0h0.8m0.1 0h0.8m-0.1 0h0.8m0.1 0h0.8m-0.2 0h0.8m-10.2 0.1h0.8m4.2 0h0.8m1.3 0h0.8m-0.6 0h0.8m4.9 0h0.8m-12.1 0.1h0.8m1.9 0h0.8m1.1 0h0.8m0.3 0h0.8m1.5 0h0.8m0.3 0h0.8m-0.7 0h0.8m2 0h0.8m-16.6 0.1h0.8m2.2 0h0.8m1.9 0h0.8m7.9 0h0.8m4.7 0h0.8m-0.2 0h0.8m-20.6 0.1h0.8m4.8 0h0.8m3.2 0h0.8m4.2 0h0.8m2.3 0h0.8m-18.4 0.1h0.8m3.3 0h0.8m4.9 0h0.8m2 0h0.8m4.4 0h0.8m-14.3 0.1h0.8m-0.3 0h0.8m2.1 0h0.8m0.2 0h0.8m1.5 0h0.8m-15.9 0.1h0.8m7.1 0h0.8m0.2 0h0.8m0 0h0.8m0 0h0.8m2.1 0h0.8m-0.4 0h0.8m-0.1 0h0.8m5 0h0.8m-7.3 0.1h0.8m4.8 0h0.8m1.4 0h0.8m-8.3 0.1h0.8m-0.3 0h0.8m-0.7 0h0.8m-0.7 0h0.8m-14.5 0.1h0.8m2.5 0h0.8m4.8 0h0.8m2.3 0h0.8m-0.1 0h0.8m0 0h0.8m3.7 0h0.8m10 0h0.8m-23.6 0.1h0.8m2.1 0h0.8m2.8 0h0.8m-0.8 0h0.8m-0.3 0h0.8m1.7 0h0.8m0.3 0h0.8m10.1 0h0.8m-31.6 0.1h0.8m18.2 0h0.8m-20.8 0.1h0.8m7.3 0h0.8m1.7 0h0.8m0.4 0h0.8m2.2 0h0.8m1.6 0h0.8m0 0h0.8m-13.1 0.1h0.8m2.7 0h0.8m1.6 0h0.8m0.1 0h0.8m-0.7 0h0.8m5.9 0h0.8m-0.3 0h0.8m-13.1 0.1h0.8m0.3 0h0.8m7.3 0h0.8m-0.6 0h0.8m6.9 0h0.8m-8.9 0.1h0.8m-0.7 0h0.8m-0.7 0h0.8m0.2 0h0.8m-7.3 0.1h0.8m11.2 0h0.8m-16 0.1h0.8m3.6 0h0.8m1.9 0h0.8m1.7 0h0.8m-0.3 0h0.8m-17.5 0.1h0.8m4.7 0h0.8m0.9 0h0.8m1 0h0.8m1.1 0h0.8m3.8 0h0.8m-0.5 0h0.8m-0.4 0h0.8m5.8 0h0.8m-10.3 0.1h0.8m1.4 0h0.8m-11.5 0.1h0.8m10.4 0h0.8m1.8 0h0.8m3.7 0h0.8m-13.7 0.1h0.8m0.2 0h0.8m0.9 0h0.8m3.4 0h0.8m1.1 0h0.8m0.7 0h0.8m-0.6 0h0.8m-5.5 0.1h0.8m3.1 0h0.8m1.8 0h0.8m-0.6 0h0.8m0.7 0h0.8m-11.8 0.1h0.8m-0.7 0h0.8m-0.4 0h0.8m2 0h0.8m4.3 0h0.8m0 0h0.8m-10.8 0.1h0.8m5.8 0h0.8m-15.1 0.1h0.8m8.6 0h0.8m-0.7 0h0.8m2.3 0h0.8m-14.3 0.1h0.8m8.5 0h0.8m0.4 0h0.8m1 0h0.8m1.6 0h0.8m-7.5 0.1h0.8m0.6 0h0.8m1.9 0h0.8m-0.6 0h0.8m-0.7 0h0.8m3.5 0h0.8m-12.1 0.1h0.8m4.1 0h0.8m0.9 0h0.8m0 0h0.8m-0.7 0h0.8m3.1 0h0.8m-13.9 0.1h0.8m1.9 0h0.8m2.1 0h0.8m2.3 0h0.8m-7.8 0.1h0.8m-0.4 0h0.8m3.2 0h0.8m1.4 0h0.8m0 0h0.8m-0.7 0h0.8m0.7 0h0.8m-6.6 0.1h0.8m0.2 0h0.8m0.9 0h0.8m0.9 0.1h0.8m3.1 0h0.8m1.5 0h0.8m4.4 0h0.8m-14.2 0.1h0.8m2.1 0h0.8m2 0h0.8m-9.6 0.1h0.8m-0.5 0h0.8m0.4 0h0.8m2.7 0h0.8m7.2 0h0.8m-21.3 0.1h0.8m3.6 0h0.8m13.1 0h0.8m-5.9 0.1h0.8m0.2 0h0.8m1.9 0h0.8m7.4 0h0.8m-20.5 0.1h0.8m1.2 0h0.8m3.7 0h0.8m-0.7 0h0.8m0.9 0h0.8m-0.1 0h0.8m6.3 0h0.8m-0.4 0.1h0.8m-15.7 0.1h0.8m3.1 0h0.8m-5.6 0.1h0.8m-0.2 0h0.8m-0.5 0h0.8m1.7 0h0.8m0.7 0h0.8m2.9 0h0.8m-8.4 0.1h0.8m0.5 0h0.8m-0.8 0h0.8m4.5 0h0.8m-13.5 0.1h0.8m1.6 0h0.8m18.7 0h0.8m-9.6 0.1h0.8m4.4 0h0.8m-0.4 0h0.8m-17.1 0.1h0.8m2.4 0h0.8m-0.8 0h0.8m-0.1 0h0.8m3.4 0h0.8m-11.6 0.1h0.8m0.6 0h0.8m7.3 0h0.8m2.2 0h0.8m-11.8 0.1h0.8m9.7 0h0.8m4 0h0.8m-13.9 0.1h0.8m10.2 0h0.8m2.5 0h0.8m-12.3 0.1h0.8m1.3 0h0.8m3.8 0h0.8m3.7 0h0.8m-0.3 0h0.8m-1.6 0.1h0.8m-18.5 0.1h0.8m-0.3 0h0.8m5.3 0h0.8m0 0h0.8m10.1 0h0.8m-19.8 0.1h0.8m6.2 0h0.8m4 0h0.8m4.3 0h0.8m5.7 0h0.8m-18.6 0.1h0.8m1.8 0h0.8m-0.5 0h0.8m1.5 0h0.8m-5.7 0.1h0.8m2.3 0h0.8m0.1 0h0.8m-0.1 0h0.8m-8.7 0.2h0.8m9.5 0h0.8m-12.3 0.1h0.8m9.4 0h0.8m-0.8 0h0.8m2.1 0h0.8m-6.4 0.1h0.8m-0.1 0h0.8m-7.2 0.2h0.8m9.2 0h0.8m-3 0.1h0.8m9.6 0h0.8m-13.5 0.1h0.8m-9.4 0.1h0.8m15.4 0.2h0.8m-0.7 0h0.8m9 0h0.8m-24.1 0.1h0.8m6.4 0h0.8m4.7 0.2h0.8m-5.4 0.1h0.8m-7.7 0.1h0.8m4.8 0h0.8m-3.8 0.3h0.8m2.1 0.1h0.8m5.3 0.2h0.8m-12.6 1.6h0.8m4.2 0.6h0.8m2.4 0.3h0.8m-10.9 0.8h0.8m3.7 1.2h0.8" stroke="rgb(118, 104, 196)" stroke-width="0.8" fill="none"/>
<path d="M260.5 368.1h0.8m-6.8 3.6h0.8m-7.3 0.4h0.8m7.6 0h0.8m40.1 0.3h0.8m-51 0.2h0.8m12.4 0h0.8m-8.5 0.1h0.8m4.1 0.2h0.8m38.6 0h0.8m-51.2 0.1h0.8m18.7 0.1h0.8m-10.6 0.1h0.8m-8.2 0.1h0.8m17.6 1h0.8m-17.5 0.3h0.8m0.9 0.1h0.8m36.1 0.2h0.8m-45.6 0.4h0.8m6.9 0h0.8m41.4 0.2h0.8m-41.5 0.1h0.8m1.6 0.1h0.8m3.1 0h0.8m-10.4 0.1h0.8m4.2 0h0.8m-19.6 0.1h0.8m15.1 0.1h0.8m7.2 0h0.8m4.2 0h0.8m-19.2 0.1h0.8m0.1 0h0.8m6.4 0h0.8m-8.2 0.1h0.8m6.2 0h0.8m6.6 0h0.8m-19.5 0.1h0.8m8.1 0h0.8m-0.3 0h0.8m2.9 0h0.8m-9.3 0.1h0.8m6.9 0h0.8m-7.9 0.1h0.8m15.3 0h0.8m-8.6 0.1h0.8m-3.8 0.1h0.8m0 0h0.8m-20.3 0.1h0.8m7.9 0h0.8m2.8 0h0.8m2.8 0h0.8m-1.8 0.1h0.8m1.3 0h0.8m1.1 0h0.8m-4.7 0.1h0.8m3.2 0h0.8m-14.5 0.1h0.8m6.2 0h0.8m2.5 0h0.8m23 0h0.8m-34.7 0.3h0.8m6.7 0h0.8m1.3 0h0.8m3.1 0h0.8m-4.3 0.1h0.8m7 0h0.8m39.9 0h0.8m-56.9 0.1h0.8m0.2 0h0.8m4.6 0h0.8m13.4 0h0.8m-14.8 0.1h0.8m17 0h0.8m-28.9 0.1h0.8m10.1 0h0.8m-3.9 0.1h0.8m1.2 0h0.8m1.8 0h0.8m3.4 0h0.8m-12.6 0.1h0.8m10.9 0h0.8m6.7 0h0.8m2.9 0h0.8m0.5 0h0.8m-25 0.1h0.8m1.1 0h0.8m5.8 0h0.8m1.1 0h0.8m1.4 0.1h0.8m7.3 0h0.8m-8.3 0.1h0.8m1.1 0h0.8m-0.8 0.1h0.8m0 0h0.8m-0.1 0h0.8m-19.7 0.1h0.8m10.2 0h0.8m11.5 0h0.8m1 0h0.8m-22.4 0.1h0.8m0.5 0h0.8m0.1 0h0.8m3.1 0h0.8m2.6 0h0.8m40 0h0.8m-35.3 0.1h0.8m-18.2 0.1h0.8m20.7 0h0.8m-15.5 0.1h0.8m17.2 0h0.8m-19.6 0.1h0.8m2.8 0h0.8m0.6 0.1h0.8m-0.2 0h0.8m7.5 0h0.8m-25.2 0.1h0.8m1.1 0h0.8m4 0h0.8m4.3 0h0.8m-0.7 0h0.8m1 0h0.8m-0.5 0.1h0.8m0.3 0h0.8m-0.2 0h0.8m-15.9 0.1h0.8m5 0h0.8m6.5 0h0.8m1.6 0h0.8m3.6 0h0.8m-16.2 0.1h0.8m2.5 0h0.8m2.6 0h0.8m-0.2 0h0.8m-0.4 0h0.8m0.1 0h0.8m-0.1 0h0.8m8.9 0.1h0.8m-20 0.1h0.8m-4.6 0.1h0.8m5 0h0.8m6.2 0h0.8m1.8 0h0.8m-22 0.1h0.8m4.8 0h0.8m4.1 0h0.8m0.3 0h0.8m1.2 0.1h0.8m-0.7 0h0.8m1.4 0h0.8m6.9 0.1h0.8m-5.2 0.1h0.8m0.1 0h0.8m1.3 0h0.8m5.2 0.1h0.8m-25.7 0.1h0.8m24.7 0h0.8m-0.4 0h0.8m-17 0.1h0.8m21.8 0h0.8m-25.9 0.1h0.8m-0.6 0h0.8m5 0h0.8m7.9 0h0.8m-13.7 0.1h0.8m5.6 0h0.8m1.8 0h0.8m0.6 0h0.8m8.3 0h0.8m3.4 0h0.8m-22.2 0.1h0.8m1.6 0h0.8m2.1 0h0.8m2.7 0h0.8m28.6 0h0.8m-40.1 0.1h0.8m-0.2 0h0.8m5.7 0h0.8m-5.5 0.1h0.8m-6.3 0.1h0.8m5.6 0h0.8m-0.5 0h0.8m6.1 0h0.8m-0.2 0h0.8m-14.7 0.1h0.8m2.7 0h0.8m3.4 0h0.8m2.4 0.1h0.8m-14.6 0.1h0.8m3.2 0h0.8m4.1 0h0.8m2.3 0h0.8m-15.6 0.1h0.8m11.2 0h0.8m-0.7 0h0.8m-13.4 0.1h0.8m10.6 0h0.8m-8.3 0.1h0.8m3.2 0h0.8m1.3 0h0.8m2.7 0h0.8m6.7 0h0.8m-18.9 0.1h0.8m2.5 0h0.8m9.4 0h0.8m2.6 0.1h0.8m0.2 0h0.8m-8.6 0.1h0.8m4.1 0h0.8m-2.4 0.1h0.8m1.4 0h0.8m1 0h0.8m34 0h0.8m-56.8 0.1h0.8m1.7 0h0.8m8.7 0h0.8m6 0h0.8m37.6 0h0.8m-47.4 0.1h0.8m9.4 0h0.8m-26.9 0.1h0.8m17.8 0h0.8m10.8 0h0.8m-21.4 0.1h0.8m-9.6 0.1h0.8m17.8 0h0.8m1.8 0.1h0.8m0.3 0h0.8m1.8 0h0.8m-0.7 0h0.8m-16.6 0.1h0.8m9.3 0h0.8m-6.4 0.1h0.8m2.7 0h0.8m2.3 0h0.8m8.3 0h0.8m3.5 0h0.8m34 0h0.8m-55.6 0.1h0.8m3.3 0h0.8m0.1 0h0.8m7.6 0h0.8m2.8 0h0.8m0.3 0h0.8m-23.3 0.1h0.8m6.7 0h0.8m2.5 0h0.8m-0.4 0h0.8m2.9 0h0.8m12.8 0.1h0.8m-29.8 0.1h0.8m10 0h0.8m7 0h0.8m-0.4 0h0.8m-29.6 0.1h0.8m17 0h0.8m-0.7 0h0.8m5.3 0h0.8m3.1 0h0.8m-19.4 0.1h0.8m7.3 0h0.8m4.9 0h0.8m3.4 0.1h0.8m2.4 0.1h0.8m-23.6 0.1h0.8m-0.8 0h0.8m2.1 0h0.8m2.3 0h0.8m-0.1 0h0.8m12.4 0h0.8m0.6 0h0.8m-25.9 0.1h0.8m6.3 0h0.8m5 0h0.8m1.7 0h0.8m-0.8 0h0.8m5.5 0h0.8m6 0h0.8m2.8 0h0.8m-30.2 0.1h0.8m7.8 0h0.8m2.4 0h0.8m3.5 0h0.8m0.4 0h0.8m12.3 0h0.8m21.6 0h0.8m-49.3 0.1h0.8m2.9 0h0.8m2 0h0.8m4.3 0h0.8m0 0h0.8m1.2 0h0.8m-22.3 0.1h0.8m9.3 0h0.8m6.6 0h0.8m0.4 0h0.8m0.4 0h0.8m0.2 0h0.8m-18.1 0.1h0.8m9.4 0h0.8m-0.3 0h0.8m0.8 0h0.8m1.8 0h0.8m0.8 0h0.8m-14.2 0.1h0.8m0.2 0h0.8m18.4 0h0.8m-22.5 0.1h0.8m9.1 0h0.8m0.8 0h0.8m5.9 0h0.8m0.8 0h0.8m-21.4 0.2h0.8m3.5 0h0.8m0.6 0h0.8m-0.7 0h0.8m23.2 0h0.8m-27.7 0.1h0.8m1.6 0h0.8m1.7 0h0.8m1.8 0h0.8m0.8 0h0.8m6.6 0h0.8m-17.6 0.1h0.8m1.2 0h0.8m0 0h0.8m0.1 0h0.8m-1.5 0.1h0.8m3.6 0h0.8m1.3 0h0.8m2.7 0h0.8m1.5 0h0.8m-0.7 0h0.8m-22.7 0.1h0.8m3 0h0.8m2.6 0h0.8m11.3 0h0.8m4.6 0h0.8m-21.2 0.1h0.8m6.5 0.2h0.8m5.9 0h0.8m-0.5 0h0.8m-11.7 0.1h0.8m2.5 0h0.8m3 0h0.8m10.2 0h0.8m31.1 0h0.8m-42.6 0.1h0.8m0.5 0h0.8m3.3 0h0.8m34.7 0h0.8m-61.9 0.1h0.8m23.6 0h0.8m3 0h0.8m-0.5 0h0.8m-7.2 0.1h0.8m1.6 0h0.8m36.7 0h0.8m9.5 0h0.8m-61.5 0.1h0.8m0.8 0h0.8m-0.6 0h0.8m12.8 0h0.8m-16.2 0.1h0.8m-0.3 0h0.8m4.6 0h0.8m1 0h0.8m7 0h0.8m-14.7 0.2h0.8m1.5 0h0.8m2.1 0h0.8m-0.8 0h0.8m0.6 0h0.8m4.9 0h0.8m2.7 0h0.8m32.1 0h0.8m-53.3 0.1h0.8m18.7 0h0.8m41.5 0h0.8m-65.9 0.1h0.8m5.6 0h0.8m0.9 0h0.8m8 0h0.8m-8.1 0.2h0.8m-10 0.1h0.8m6.3 0h0.8m-0.6 0h0.8m3.3 0h0.8m7.5 0h0.8m5.2 0h0.8m-8.3 0.1h0.8m35.8 0h0.8m0.1 0h0.8m-49.3 0.1h0.8m0 0h0.8m0.7 0h0.8m10.3 0.1h0.8m-17.3 0.1h0.8m-0.5 0h0.8m3.3 0h0.8m-0.2 0h0.8m3.9 0h0.8m1.6 0h0.8m6.4 0h0.8m-14.3 0.1h0.8m5.3 0h0.8m4.5 0h0.8m31.8 0h0.8m-56 0.1h0.8m15.7 0h0.8m6.7 0h0.8m-17.4 0.1h0.8m14.6 0h0.8m-14.9 0.1h0.8m0.2 0h0.8m4.3 0h0.8m-9.2 0.1h0.8m0.7 0h0.8m-2.8 0.1h0.8m0.3 0h0.8m12.2 0h0.8m-20.1 0.1h0.8m11.3 0h0.8m-4.2 0.1h0.8m0 0h0.8m6.4 0h0.8m40.6 0h0.8m-39.4 0.1h0.8m2.6 0h0.8m-19.2 0.1h0.8m0.8 0h0.8m13.1 0h0.8m2.9 0h0.8m-11.3 0.1h0.8m3 0h0.8m-10.8 0.1h0.8m-0.7 0h0.8m7.2 0h0.8m5.9 0h0.8m-12.2 0.1h0.8m17 0.1h0.8m-9.4 0.1h0.8m40.1 0h0.8m-49.3 0.1h0.8m2.4 0h0.8m3.4 0h0.8m9.4 0h0.8m20.1 0.1h0.8m4.4 0h0.8m-36.5 0.1h0.8m-0.3 0h0.8m6.6 0h0.8m-12.2 0.1h0.8m45.6 0.1h0.8m-47.9 0.1h0.8m16.1 0h0.8m-28.1 0.1h0.8m5.4 0h0.8m1.8 0h0.8m2.5 0h0.8m8.3 0h0.8m-6.5 0.1h0.8m-11.9 0.1h0.8m4.6 0h0.8m32.5 0.1h0.8m-34.4 0.2h0.8m-21.4 0.1h0.8m9.2 0h0.8m6.1 0h0.8m7.1 0h0.8m-0.1 0h0.8m-2.2 0.1h0.8m30 0h0.8m-41.2 0.1h0.8m2.2 0h0.8m-6.8 0.1h0.8m3.8 0h0.8m4.8 0h0.8m38.7 0.1h0.8m-36.3 0.1h0.8m-4.5 0.1h0.8m2.1 0h0.8m5.6 0h0.8m-19.4 0.1h0.8m-7.1 0.1h0.8m25 0h0.8m34.8 0.1h0.8m-51.3 0.1h0.8m1.1 0h0.8m1.4 0h0.8m-8.2 0.1h0.8m-0.2 0h0.8m1.1 0h0.8m50.8 0.1h0.8m-65.1 0.1h0.8m17.3 0.2h0.8m-2.6 0.1h0.8m7.7 0h0.8m2.8 0.1h0.8m-7.7 0.2h0.8m-12.8 0.1h0.8m12.6 0h0.8m-8.3 0.1h0.8m0.2 0.1h0.8m41.7 0h0.8m-62.5 0.2h0.8m4.7 0h0.8m2.4 0h0.8m4 0h0.8m-0.7 0.1h0.8m11.4 0.1h0.8m-23.7 0.3h0.8m30.6 0h0.8m-9.3 0.2h0.8m-12.5 0.4h0.8m13.3 0h0.8m-12.2 0.2h0.8m2.1 0.1h0.8m0.7 0h0.8m2.4 0.1h0.8m35.6 0h0.8m-50.6 0.3h0.8m13.3 0h0.8m42 0h0.8m-51.2 0.1h0.8m7.2 0.6h0.8m-1.4 0.1h0.8m-3.2 0.8h0.8m-5.5 0.3h0.8m7.2 0.2h0.8m-7.3 0.2h0.8m49 1.5h0.8m-62.1 0.7h0.8m48.9 0h0.8m5.1 1.4h0.8" stroke="rgb(216, 48, 48)" stroke-width="0.8" fill="none"/>
<path d="M241.3 346.2h0.7m13.2 8.8h0.7m-8.1 2.6h0.7m39.4 4.4h0.7m-49.4 0.9h0.7m-5 0.1h0.7m26.2 0.1h0.7m-13.5 0.1h0.7m-14.5 0.8h0.7m17.7 0.4h0.7m-11.6 0.1h0.7m4.5 0h0.7m1.3 0.2h0.7m22.1 0.4h0.7m-11 0.3h0.7m-23 0.1h0.7m9 1.7h0.7m2.6 0.5h0.7m11.6 0.9h0.7m-11.4 0.4h0.7m-20.5 1h0.7m3.4 0.2h0.7m16.5 0h0.7m1.1 0.1h0.7m-7 0.1h0.7m-18.1 0.7h0.7m14.3 0h0.7m7.4 0h0.7m-4.3 0.3h0.7m10.8 0h0.7m-33.5 0.3h0.7m16.1 0.4h0.7m3.1 0.1h0.7m-2.9 0.2h0.7m-11.8 0.5h0.7m4.8 0.5h0.7m-8.8 0.5h0.7m18.9 0.1h0.7m-12.8 0.1h0.7m2.4 0.1h0.7m1.1 0.7h0.7m7.8 0h0.7m-20.9 0.1h0.7m24.4 1h0.7m3.9 0.1h0.7m-11.3 0.1h0.7m-5.3 0.4h0.7m-6.4 0.3h0.7m18.5 0h0.7m-20.4 0.4h0.7m3.5 0.1h0.7m-8.4 0.2h0.7m-10.3 0.4h0.7m9.8 0h0.7m4.1 0h0.7m-3.4 0.4h0.7m9.2 0h0.7m16.5 0h0.7m12.3 0.2h0.7m-34.8 0.4h0.7m5.6 0h0.7m-4.9 0.1h0.7m11.2 0.1h0.7m-22.7 0.1h0.7m19.3 0.1h0.7m-4.8 0.6h0.7m-2.4 0.3h0.7m-25.4 0.4h0.7m17.8 0h0.7m-7.7 0.4h0.7m9.2 0.2h0.7m3.9 0.2h0.7m-11.2 0.4h0.7m20.1 0.2h0.7m-26.1 2.2h0.7m7 0.4h0.7m-0.1 0.6h0.7m-16.8 0.2h0.7m31.1 0.1h0.7m-35.2 0.1h0.7m16.3 0.2h0.7m32.8 0.8h0.7m-40.5 0.1h0.7m36.5 1.2h0.7m-49.5 1h0.7m18.4 0.7h0.7m0.9 0.2h0.7m6.6 0.5h0.7m-10.3 2h0.7m-3.4 0.7h0.7m-16.6 0.7h0.7m18.4 0h0.7m3.4 0.2h0.7m1.7 0.2h0.7m7.7 0.2h0.7m0 0.2h0.7m-8 0.5h0.7m-15 0.3h0.7m26.4 0.6h0.7m-15 0.4h0.7m-20.2 0.7h0.7m27.8 0.1h0.7m-10.5 1.8h0.7m2.7 1.5h0.7m-14 0.2h0.7m0.8 0.3h0.7m11.9 2.2h0.7m-25.6 0.1h0.7m2.9 0.8h0.7m13.2 1.5h0.7" stroke="rgb(216, 48, 48)" stroke-width="0.7" fill="none" stroke-opacity="0.6"/>
</g>
<line x1="268.40" y1="309.70" x2="268.40" y2="422.80" stroke="#707070" stroke-width="0.9"/>
<line x1="232.30" y1="372.20" x2="347.20" y2="372.20" stroke="#707070" stroke-width="0.9"/>
<rect x="232.30" y="309.70" width="11.00" height="8.00" fill="#fff" stroke="#b5b5b5" stroke-width="0.7"/>
<text x="233.30" y="315.50" font-size="5.0" font-weight="bold" fill="#222">K-+</text>
<rect x="268.40" y="309.70" width="11.80" height="8.00" fill="#fff" stroke="#b5b5b5" stroke-width="0.7"/>
<text x="269.40" y="315.50" font-size="5.0" font-weight="bold" fill="#222">K++</text>
<rect x="232.30" y="372.20" width="10.40" height="8.00" fill="#fff" stroke="#b5b5b5" stroke-width="0.7"/>
<text x="233.30" y="378.00" font-size="5.0" font-weight="bold" fill="#222">K--</text>
<rect x="268.40" y="372.20" width="11.00" height="8.00" fill="#fff" stroke="#b5b5b5" stroke-width="0.7"/>
<text x="269.40" y="378.00" font-size="5.0" font-weight="bold" fill="#222">K+-</text>
<rect x="247.40" y="319.40" width="20.50" height="21.60" rx="1.2" fill="#fff" stroke="#b0b0b0" stroke-width="0.7"/>
<text x="248.42" y="325.72" font-size="6.8" textLength="16.30" lengthAdjust="spacingAndGlyphs" fill="#111" class="mt">viable</text>
<text x="248.42" y="332.39" font-size="6.8" textLength="17.12" lengthAdjust="spacingAndGlyphs" fill="#111" class="mt">mouse</text>
<text x="248.42" y="339.06" font-size="6.8" textLength="12.63" lengthAdjust="spacingAndGlyphs" fill="#111" class="mt">PLTS</text>
<rect x="313.30" y="389.00" width="32.70" height="32.00" rx="7" ry="7" fill="#fff" fill-opacity="0.85" stroke="#666" stroke-width="0.8"/>
<text x="318.10" y="397.10" font-size="7.5" textLength="20.40" lengthAdjust="spacingAndGlyphs" fill="#000" class="ht">viable</text>
<text x="318.10" y="407.00" font-size="7.5" textLength="23.40" lengthAdjust="spacingAndGlyphs" fill="#000" class="ht">human</text>
<text x="318.10" y="416.50" font-size="7.5" textLength="18.40" lengthAdjust="spacingAndGlyphs" fill="#000" class="ht">PLTS</text>
<text x="214.84" y="399.52" font-size="8.6" textLength="9.56" lengthAdjust="spacingAndGlyphs">10</text>
<text x="224.81" y="396.08" font-size="7.0" textLength="3.89" lengthAdjust="spacingAndGlyphs">0</text>
<text x="214.84" y="371.25" font-size="8.6" textLength="9.56" lengthAdjust="spacingAndGlyphs">10</text>
<text x="224.81" y="367.81" font-size="7.0" textLength="3.89" lengthAdjust="spacingAndGlyphs">1</text>
<text x="214.84" y="342.98" font-size="8.6" textLength="9.56" lengthAdjust="spacingAndGlyphs">10</text>
<text x="224.81" y="339.54" font-size="7.0" textLength="3.89" lengthAdjust="spacingAndGlyphs">2</text>
<text x="214.84" y="314.70" font-size="8.6" textLength="9.56" lengthAdjust="spacingAndGlyphs">10</text>
<text x="224.81" y="311.26" font-size="7.0" textLength="3.89" lengthAdjust="spacingAndGlyphs">3</text>
<text x="254.15" y="437.00" font-size="8.6" textLength="9.56" lengthAdjust="spacingAndGlyphs">10</text>
<text x="264.11" y="433.56" font-size="7.0" textLength="3.89" lengthAdjust="spacingAndGlyphs">0</text>
<text x="282.87" y="437.00" font-size="8.6" textLength="9.56" lengthAdjust="spacingAndGlyphs">10</text>
<text x="292.84" y="433.56" font-size="7.0" textLength="3.89" lengthAdjust="spacingAndGlyphs">1</text>
<text x="311.60" y="437.00" font-size="8.6" textLength="9.56" lengthAdjust="spacingAndGlyphs">10</text>
<text x="321.56" y="433.56" font-size="7.0" textLength="3.89" lengthAdjust="spacingAndGlyphs">2</text>
<text x="340.32" y="437.00" font-size="8.6" textLength="9.56" lengthAdjust="spacingAndGlyphs">10</text>
<text x="350.29" y="433.56" font-size="7.0" textLength="3.89" lengthAdjust="spacingAndGlyphs">3</text>
<text x="0.00" y="0.00" font-size="11.5" text-anchor="middle" textLength="38.70" lengthAdjust="spacingAndGlyphs" transform="translate(207.40,368.15) rotate(-90)" class="cb">CD42d-APC</text>
<text x="289.15" y="451.70" font-size="11" text-anchor="middle" textLength="27.10" lengthAdjust="spacingAndGlyphs" class="cb">CD41 H7</text>
<text x="395.00" y="302.90" font-size="8.7" textLength="107.20" lengthAdjust="spacingAndGlyphs">[J] CD41 H7 / CD42d-APC</text>
<rect x="392.80" y="309.30" width="112.60" height="114.10" fill="#fff" stroke="#b4b4b4" stroke-width="0.8"/>
<path d="M392.80 423.40h-1.6M392.80 423.40v1.6M392.80 414.81h-0.9M401.27 423.40v0.9M392.80 409.79h-0.9M406.23 423.40v0.9M392.80 406.23h-0.9M409.75 423.40v0.9M392.80 403.46h-0.9M412.48 423.40v0.9M392.80 401.20h-0.9M414.70 423.40v0.9M392.80 399.29h-0.9M416.59 423.40v0.9M392.80 397.64h-0.9M418.22 423.40v0.9M392.80 396.18h-0.9M419.66 423.40v0.9M392.80 394.88h-1.6M420.95 423.40v1.6M392.80 386.29h-0.9M429.42 423.40v0.9M392.80 381.27h-0.9M434.38 423.40v0.9M392.80 377.70h-0.9M437.90 423.40v0.9M392.80 374.94h-0.9M440.63 423.40v0.9M392.80 372.68h-0.9M442.85 423.40v0.9M392.80 370.77h-0.9M444.74 423.40v0.9M392.80 369.11h-0.9M446.37 423.40v0.9M392.80 367.66h-0.9M447.81 423.40v0.9M392.80 366.35h-1.6M449.10 423.40v1.6M392.80 357.76h-0.9M457.57 423.40v0.9M392.80 352.74h-0.9M462.53 423.40v0.9M392.80 349.18h-0.9M466.05 423.40v0.9M392.80 346.41h-0.9M468.78 423.40v0.9M392.80 344.15h-0.9M471.00 423.40v0.9M392.80 342.24h-0.9M472.89 423.40v0.9M392.80 340.59h-0.9M474.52 423.40v0.9M392.80 339.13h-0.9M475.96 423.40v0.9M392.80 337.82h-1.6M477.25 423.40v1.6M392.80 329.24h-0.9M485.72 423.40v0.9M392.80 324.22h-0.9M490.68 423.40v0.9M392.80 320.65h-0.9M494.20 423.40v0.9M392.80 317.89h-0.9M496.93 423.40v0.9M392.80 315.63h-0.9M499.15 423.40v0.9M392.80 313.72h-0.9M501.04 423.40v0.9M392.80 312.06h-0.9M502.67 423.40v0.9M392.80 310.61h-0.9M504.11 423.40v0.9" stroke="#8a8a8a" stroke-width="0.6" fill="none"/>
<g filter="url(#sb)">
<path d="M414.6 363.5h0.8m-13.3 1.3h0.8m16.6 0.4h0.8m-8.4 0.5h0.8m1.2 1.1h0.8m-5.5 0.1h0.8m-11.4 0.5h0.8m15.3 0.1h0.8m-14.6 0.2h0.8m7.7 0h0.8m-2.5 0.1h0.8m2 0.4h0.8m3.7 0h0.8m2.6 0.1h0.8m-14.7 0.1h0.8m2.3 0.1h0.8m19.4 0h0.8m-16.8 0.1h0.8m1.5 0.1h0.8m-1.5 0.1h0.8m1.4 0h0.8m-8.4 0.3h0.8m-0.6 0.4h0.8m14.6 0h0.8m19.9 0h0.8m-34.7 0.2h0.8m-7.2 0.3h0.8m2.3 0.1h0.8m8.2 0.1h0.8m1.7 0h0.8m29.2 0h0.8m-36.1 0.1h0.8m3.5 0h0.8m3.8 0h0.8m-12.8 0.2h0.8m-7.4 0.1h0.8m7.6 0h0.8m11.4 0.1h0.8m-12.6 0.2h0.8m2.4 0h0.8m7.4 0h0.8m-13.9 0.2h0.8m-13.7 0.1h0.8m15.7 0h0.8m-18.4 0.2h0.8m9.9 0.1h0.8m2.5 0h0.8m1.3 0h0.8m-0.5 0.2h0.8m12 0h0.8m-18.5 0.2h0.8m0.9 0h0.8m6 0h0.8m0.8 0h0.8m-17.1 0.1h0.8m10.1 0h0.8m11.9 0.1h0.8m-18.1 0.1h0.8m14.1 0h0.8m3.6 0h0.8m-26.6 0.1h0.8m8.1 0h0.8m1.2 0h0.8m9.7 0h0.8m-13.6 0.1h0.8m1.2 0h0.8m6.7 0h0.8m-20.8 0.1h0.8m5.8 0h0.8m4.4 0h0.8m4.2 0h0.8m-10.2 0.1h0.8m7.1 0h0.8m0.4 0h0.8m10.3 0h0.8m-17.1 0.1h0.8m8.2 0h0.8m2.9 0h0.8m-17 0.1h0.8m1 0h0.8m-12.2 0.1h0.8m6.6 0h0.8m39.1 0h0.8m-29.6 0.1h0.8m4.6 0.1h0.8m2.3 0h0.8m-26.1 0.1h0.8m5.1 0h0.8m2.6 0h0.8m1.9 0h0.8m-0.8 0h0.8m1.9 0h0.8m6.4 0h0.8m-8.6 0.1h0.8m2.6 0h0.8m4.1 0h0.8m-14.3 0.1h0.8m7.5 0h0.8m-8.4 0.1h0.8m0.1 0h0.8m-1.9 0.1h0.8m-2.3 0.1h0.8m1.3 0h0.8m1.9 0h0.8m0.7 0h0.8m4.2 0h0.8m-14.1 0.1h0.8m8.4 0h0.8m1.3 0h0.8m2.5 0h0.8m-14 0.1h0.8m4.4 0h0.8m0.2 0h0.8m11.8 0h0.8m-17.5 0.1h0.8m5.2 0h0.8m4.5 0h0.8m-15.9 0.1h0.8m7.4 0h0.8m1.3 0h0.8m-17.2 0.1h0.8m1.8 0h0.8m9.2 0h0.8m1.2 0h0.8m6.7 0h0.8m-0.7 0h0.8m-16.7 0.1h0.8m-0.7 0h0.8m4.2 0h0.8m3 0h0.8m3.1 0h0.8m0 0h0.8m0.5 0h0.8m-14.8 0.1h0.8m2.2 0h0.8m-0.3 0h0.8m1.5 0h0.8m-0.3 0h0.8m4.4 0h0.8m1.2 0h0.8m0.4 0h0.8m-15.3 0.1h0.8m-0.3 0h0.8m3.1 0h0.8m4.5 0h0.8m5.3 0h0.8m-0.8 0h0.8m-17.7 0.1h0.8m4.8 0h0.8m1.7 0h0.8m1 0h0.8m5 0h0.8m-0.3 0h0.8m-12 0.1h0.8m-0.6 0h0.8m3.6 0h0.8m-0.2 0h0.8m1.2 0h0.8m4 0h0.8m-30.2 0.1h0.8m12.1 0h0.8m6.4 0h0.8m3.1 0h0.8m0 0h0.8m-19.1 0.1h0.8m11.5 0h0.8m1 0h0.8m0.8 0h0.8m0.7 0h0.8m2.4 0h0.8m-0.4 0h0.8m1.8 0h0.8m2 0h0.8m22.4 0h0.8m-41.8 0.1h0.8m8.3 0h0.8m0.7 0h0.8m-12.2 0.1h0.8m4.2 0h0.8m4.3 0h0.8m12.2 0h0.8m0.7 0h0.8m-26.8 0.1h0.8m2.6 0h0.8m14.7 0h0.8m21 0h0.8m-44.4 0.1h0.8m6.4 0h0.8m6.1 0h0.8m4.4 0h0.8m25 0h0.8m-48.1 0.1h0.8m15.8 0h0.8m-0.1 0h0.8m1.4 0h0.8m-17.9 0.1h0.8m1.1 0h0.8m12.5 0h0.8m1 0h0.8m-7.4 0.1h0.8m19.2 0h0.8m-33.6 0.1h0.8m1 0h0.8m1.7 0h0.8m7.7 0h0.8m-0.1 0h0.8m-0.1 0h0.8m-19.5 0.1h0.8m13.3 0h0.8m6.4 0h0.8m0.3 0h0.8m4.2 0h0.8m-0.5 0h0.8m-31.6 0.1h0.8m2.6 0h0.8m8.7 0h0.8m5.6 0h0.8m1.5 0h0.8m-19.3 0.1h0.8m6.2 0h0.8m0.3 0h0.8m-0.5 0h0.8m2.8 0h0.8m-0.2 0h0.8m4.1 0h0.8m1.3 0h0.8m0.3 0h0.8m-0.5 0h0.8m7.3 0h0.8m-19 0.1h0.8m0.9 0h0.8m6.8 0h0.8m8.7 0h0.8m-30 0.1h0.8m8.8 0h0.8m2 0h0.8m1.2 0h0.8m1.8 0h0.8m-0.5 0h0.8m-0.7 0h0.8m-0.5 0h0.8m-0.3 0h0.8m2 0h0.8m5.8 0h0.8m0 0h0.8m8.2 0h0.8m-29 0.1h0.8m3.2 0h0.8m2.7 0h0.8m-6.7 0.1h0.8m3.1 0h0.8m1.8 0h0.8m-0.7 0h0.8m-0.1 0h0.8m0.4 0h0.8m3.9 0h0.8m-20.2 0.1h0.8m0 0h0.8m8.2 0h0.8m3.9 0h0.8m0.2 0h0.8m2.8 0h0.8m-21.2 0.1h0.8m3.6 0h0.8m-0.7 0h0.8m-0.4 0h0.8m-0.7 0h0.8m2.5 0h0.8m2.5 0h0.8m2.2 0h0.8m5.4 0h0.8m-20.4 0.1h0.8m4.3 0h0.8m-0.5 0h0.8m1.6 0h0.8m5.9 0h0.8m-0.2 0h0.8m3.9 0h0.8m-22.1 0.1h0.8m0.2 0h0.8m1.2 0h0.8m6.2 0h0.8m-0.8 0h0.8m0.2 0h0.8m-0.7 0h0.8m2.6 0h0.8m-0.1 0h0.8m-0.7 0h0.8m0.6 0h0.8m-0.2 0h0.8m0.5 0h0.8m0.9 0h0.8m32 0h0.8m-60.6 0.1h0.8m17.3 0h0.8m-0.1 0h0.8m-0.4 0h0.8m0.4 0h0.8m-0.3 0h0.8m7.1 0h0.8m-26.1 0.1h0.8m5 0h0.8m1.7 0h0.8m9.3 0h0.8m0.7 0h0.8m-17.3 0.1h0.8m3 0h0.8m2.4 0h0.8m11.2 0h0.8m7.3 0h0.8m-18 0.1h0.8m0.6 0h0.8m0.7 0h0.8m2 0h0.8m0.5 0h0.8m5.2 0h0.8m1.5 0h0.8m-27.3 0.1h0.8m7.9 0h0.8m3.8 0h0.8m0.4 0h0.8m-0.5 0h0.8m0 0h0.8m7.6 0h0.8m-19.5 0.1h0.8m0.3 0h0.8m-0.7 0h0.8m1.2 0h0.8m2.9 0h0.8m1.4 0h0.8m-0.8 0h0.8m0.8 0h0.8m1 0h0.8m3.5 0h0.8m0.6 0h0.8m2.1 0h0.8m31.3 0h0.8m-64.3 0.1h0.8m4.7 0h0.8m-0.3 0h0.8m2.1 0h0.8m0.8 0h0.8m0.1 0h0.8m3.4 0h0.8m4.8 0h0.8m0.6 0h0.8m-0.2 0h0.8m1.9 0h0.8m-0.3 0h0.8m-18.9 0.1h0.8m6.2 0h0.8m0.8 0h0.8m-0.1 0h0.8m-0.1 0h0.8m-0.1 0h0.8m4.5 0h0.8m0.6 0h0.8m-0.7 0h0.8m0.4 0h0.8m0.7 0h0.8m-18.7 0.1h0.8m0.3 0h0.8m0.9 0h0.8m1 0h0.8m0.9 0h0.8m-0.7 0h0.8m-0.6 0h0.8m2 0h0.8m3.3 0h0.8m-0.5 0h0.8m1.8 0h0.8m1.8 0h0.8m0.3 0h0.8m-31.7 0.1h0.8m14.8 0h0.8m0.1 0h0.8m1.3 0h0.8m-0.7 0h0.8m0.9 0h0.8m3 0h0.8m1.3 0h0.8m-0.2 0h0.8m3.8 0h0.8m17.1 0h0.8m-38.2 0.1h0.8m-0.3 0h0.8m3.3 0h0.8m0.9 0h0.8m1.8 0h0.8m1.6 0h0.8m-0.1 0h0.8m-19.7 0.1h0.8m8.7 0h0.8m1.1 0h0.8m0.1 0h0.8m3 0h0.8m-0.7 0h0.8m-0.6 0h0.8m8.8 0h0.8m-26.7 0.1h0.8m0.6 0h0.8m-0.8 0h0.8m14.3 0h0.8m-0.2 0h0.8m10.3 0h0.8m-0.6 0h0.8m-30.7 0.1h0.8m12.2 0h0.8m0.6 0h0.8m-0.5 0h0.8m0.2 0h0.8m3.7 0h0.8m-0.6 0h0.8m-0.2 0h0.8m-0.2 0h0.8m-0.2 0h0.8m0.5 0h0.8m-0.4 0h0.8m-0.5 0h0.8m0.1 0h0.8m10 0h0.8m-40.5 0.1h0.8m9.2 0h0.8m3.5 0h0.8m-0.7 0h0.8m6.5 0h0.8m1.3 0h0.8m6.4 0h0.8m-17.3 0.1h0.8m0.8 0h0.8m1.2 0h0.8m2.2 0h0.8m2 0h0.8m-0.8 0h0.8m-0.4 0h0.8m2.1 0h0.8m-0.2 0h0.8m4.2 0h0.8m2 0h0.8m2 0h0.8m-28.6 0.1h0.8m1 0h0.8m4.2 0h0.8m3.5 0h0.8m0.9 0h0.8m2.4 0h0.8m2.3 0h0.8m-0.7 0h0.8m-18.8 0.1h0.8m0.8 0h0.8m3.6 0h0.8m1.9 0h0.8m1.1 0h0.8m-0.4 0h0.8m6.1 0h0.8m5.8 0h0.8m-27.1 0.1h0.8m1.5 0h0.8m3.7 0h0.8m4.4 0h0.8m3.2 0h0.8m-0.8 0h0.8m-18.6 0.1h0.8m2.3 0h0.8m-0.3 0h0.8m0.7 0h0.8m4.1 0h0.8m3.6 0h0.8m-0.1 0h0.8m4.9 0h0.8m4 0h0.8m-0.2 0h0.8m-32 0.1h0.8m7.5 0h0.8m1.3 0h0.8m6.6 0h0.8m5.5 0h0.8m-0.5 0h0.8m-0.4 0h0.8m-0.5 0h0.8m18.6 0h0.8m-48.1 0.1h0.8m11.7 0h0.8m2.5 0h0.8m-0.1 0h0.8m0.7 0h0.8m2.7 0h0.8m10.1 0h0.8m1.2 0h0.8m-23.9 0.1h0.8m1.7 0h0.8m1.5 0h0.8m0.4 0h0.8m2.4 0h0.8m6.6 0h0.8m3.2 0h0.8m-33.5 0.1h0.8m7.3 0h0.8m4.5 0h0.8m-0.5 0h0.8m2 0h0.8m0.9 0h0.8m1.1 0h0.8m7 0h0.8m2.3 0h0.8m-0.1 0h0.8m12.3 0h0.8m-44.5 0.1h0.8m7.6 0h0.8m-0.6 0h0.8m-0.1 0h0.8m1.6 0h0.8m3 0h0.8m2 0h0.8m4.1 0h0.8m-0.1 0h0.8m3.2 0h0.8m-0.3 0h0.8m3.1 0h0.8m-0.7 0h0.8m-0.1 0h0.8m0.2 0h0.8m-27 0.1h0.8m8.9 0h0.8m-0.4 0h0.8m3.5 0h0.8m6.9 0h0.8m32.2 0h0.8m-58.8 0.1h0.8m5.6 0h0.8m-0.6 0h0.8m-0.4 0h0.8m0.6 0h0.8m-0.4 0h0.8m0.1 0h0.8m0.5 0h0.8m0.3 0h0.8m0.1 0h0.8m0.9 0h0.8m-0.4 0h0.8m1.4 0h0.8m0.3 0h0.8m1.7 0h0.8m0.3 0h0.8m5 0h0.8m-27.5 0.1h0.8m5.6 0h0.8m9.8 0h0.8m2.8 0h0.8m0.6 0h0.8m-23.1 0.1h0.8m0.9 0h0.8m4.2 0h0.8m6.5 0h0.8m0.1 0h0.8m-0.1 0h0.8m-0.4 0h0.8m-0.6 0h0.8m1.1 0h0.8m0.1 0h0.8m1 0h0.8m-22.2 0.1h0.8m6.4 0h0.8m0.6 0h0.8m0 0h0.8m-0.5 0h0.8m0 0h0.8m-0.3 0h0.8m4 0h0.8m0.2 0h0.8m1.6 0h0.8m4.9 0h0.8m-25.9 0.1h0.8m3.5 0h0.8m0.7 0h0.8m0.8 0h0.8m1.5 0h0.8m1 0h0.8m2.9 0h0.8m-0.2 0h0.8m2.1 0h0.8m-0.3 0h0.8m3 0h0.8m2.3 0h0.8m3 0h0.8m-34.6 0.1h0.8m5.4 0h0.8m3.6 0h0.8m1.1 0h0.8m0 0h0.8m-0.2 0h0.8m4.6 0h0.8m0 0h0.8m0.3 0h0.8m1 0h0.8m-0.4 0h0.8m0.4 0h0.8m1.2 0h0.8m-0.7 0h0.8m1.8 0h0.8m-25.9 0.1h0.8m5.9 0h0.8m-0.4 0h0.8m2.6 0h0.8m-0.7 0h0.8m0.4 0h0.8m0.2 0h0.8m0 0h0.8m4.1 0h0.8m2.8 0h0.8m3.5 0h0.8m-25.2 0.1h0.8m3.4 0h0.8m-0.2 0h0.8m0.6 0h0.8m0.2 0h0.8m0.2 0h0.8m5.2 0h0.8m2.3 0h0.8m-0.8 0h0.8m2.8 0h0.8m0.5 0h0.8m24 0h0.8m-53.3 0.1h0.8m3.7 0h0.8m4.4 0h0.8m5 0h0.8m2.2 0h0.8m-0.6 0h0.8m0.6 0h0.8m3.6 0h0.8m2.1 0h0.8m-23.8 0.1h0.8m4.1 0h0.8m0.6 0h0.8m-0.3 0h0.8m-0.4 0h0.8m-0.1 0h0.8m5.9 0h0.8m-0.5 0h0.8m-0.4 0h0.8m-0.8 0h0.8m1.1 0h0.8m1.5 0h0.8m3 0h0.8m-0.4 0h0.8m1.5 0h0.8m3.1 0h0.8m25.2 0h0.8m-57.1 0.1h0.8m0.5 0h0.8m0.8 0h0.8m2.3 0h0.8m2.1 0h0.8m3.5 0h0.8m0 0h0.8m0.3 0h0.8m0.5 0h0.8m1.7 0h0.8m0.4 0h0.8m-18.7 0.1h0.8m-0.5 0h0.8m1.9 0h0.8m0.5 0h0.8m3.8 0h0.8m-0.3 0h0.8m0.2 0h0.8m2.2 0h0.8m-0.1 0h0.8m10.1 0h0.8m11.4 0h0.8m2.2 0h0.8m-42.3 0.1h0.8m2.3 0h0.8m2 0h0.8m-0.3 0h0.8m2.6 0h0.8m0.8 0h0.8m-0.7 0h0.8m1.7 0h0.8m-0.6 0h0.8m1.2 0h0.8m-0.7 0h0.8m4.1 0h0.8m12.3 0h0.8m-32.8 0.1h0.8m-0.3 0h0.8m3 0h0.8m0.2 0h0.8m-0.5 0h0.8m3.8 0h0.8m0.6 0h0.8m1.3 0h0.8m3.7 0h0.8m2.4 0h0.8m-28.3 0.1h0.8m5.5 0h0.8m2.2 0h0.8m-0.6 0h0.8m-0.2 0h0.8m0.9 0h0.8m1.3 0h0.8m0.7 0h0.8m4 0h0.8m2 0h0.8m-18.2 0.1h0.8m0.9 0h0.8m7.5 0h0.8m-0.1 0h0.8m2.8 0h0.8m1.2 0h0.8m2.4 0h0.8m0.2 0h0.8m2.6 0h0.8m-33.7 0.1h0.8m4.4 0h0.8m6.6 0h0.8m-0.7 0h0.8m-0.8 0h0.8m2.9 0h0.8m0.8 0h0.8m-0.5 0h0.8m1.4 0h0.8m5 0h0.8m6.1 0h0.8m-22.3 0.1h0.8m-0.3 0h0.8m3 0h0.8m-0.6 0h0.8m-0.4 0h0.8m0.1 0h0.8m0.1 0h0.8m0.4 0h0.8m2.3 0h0.8m16.5 0h0.8m-32.4 0.1h0.8m1.3 0h0.8m0.6 0h0.8m0.7 0h0.8m1.2 0h0.8m0.4 0h0.8m-0.5 0h0.8m3 0h0.8m-0.3 0h0.8m1.5 0h0.8m2.6 0h0.8m-0.6 0h0.8m1.6 0h0.8m2.3 0h0.8m-0.8 0h0.8m4.9 0h0.8m24.6 0h0.8m-64.5 0.1h0.8m6.1 0h0.8m2.6 0h0.8m0.9 0h0.8m1.2 0h0.8m-0.3 0h0.8m-0.1 0h0.8m4.3 0h0.8m-0.6 0h0.8m1.4 0h0.8m2.5 0h0.8m-0.2 0h0.8m8.8 0h0.8m-31.8 0.1h0.8m5.4 0h0.8m-0.4 0h0.8m5.7 0h0.8m2.2 0h0.8m1.1 0h0.8m-24 0.1h0.8m2.6 0h0.8m3.5 0h0.8m3.8 0h0.8m-0.5 0h0.8m5 0h0.8m-0.3 0h0.8m-0.7 0h0.8m1.6 0h0.8m2.6 0h0.8m11.1 0h0.8m-23.1 0.1h0.8m-0.5 0h0.8m0.6 0h0.8m-0.2 0h0.8m3.7 0h0.8m3.7 0h0.8m-0.5 0h0.8m0.4 0h0.8m5.6 0h0.8m14.7 0h0.8m-33.2 0.1h0.8m0.7 0h0.8m0.4 0h0.8m0.1 0h0.8m4.8 0h0.8m3.8 0h0.8m3.9 0h0.8m-34.8 0.1h0.8m5.7 0h0.8m-0.2 0h0.8m3.4 0h0.8m-0.4 0h0.8m-0.1 0h0.8m0 0h0.8m-0.8 0h0.8m8 0h0.8m0.3 0h0.8m4.3 0h0.8m-0.1 0h0.8m-17.1 0.1h0.8m-0.4 0h0.8m-0.6 0h0.8m1.4 0h0.8m1.3 0h0.8m2 0h0.8m-0.4 0h0.8m4.2 0h0.8m-27.4 0.1h0.8m-0.2 0h0.8m2.8 0h0.8m8.3 0h0.8m0.7 0h0.8m-0.7 0h0.8m-0.2 0h0.8m3.9 0h0.8m-0.4 0h0.8m-0.6 0h0.8m0.6 0h0.8m0.5 0h0.8m-0.4 0h0.8m0.8 0h0.8m1 0h0.8m0.5 0h0.8m7.8 0h0.8m-33.9 0.1h0.8m1.6 0h0.8m0.2 0h0.8m1.8 0h0.8m1.3 0h0.8m3.2 0h0.8m-0.7 0h0.8m2.7 0h0.8m-0.7 0h0.8m0.5 0h0.8m-0.3 0h0.8m0.6 0h0.8m2.4 0h0.8m0.8 0h0.8m-0.5 0h0.8m0.9 0h0.8m6 0h0.8m-25.6 0.1h0.8m1.2 0h0.8m0 0h0.8m0.3 0h0.8m-0.3 0h0.8m-0.1 0h0.8m2 0h0.8m-0.1 0h0.8m6 0h0.8m4.3 0h0.8m-0.4 0h0.8m1.2 0h0.8m-23 0.1h0.8m1.6 0h0.8m2.1 0h0.8m1.5 0h0.8m1.3 0h0.8m1.9 0h0.8m5.5 0h0.8m7.3 0h0.8m-39.2 0.1h0.8m11.2 0h0.8m-0.6 0h0.8m0.7 0h0.8m1.6 0h0.8m-0.1 0h0.8m-0.5 0h0.8m2.9 0h0.8m2.6 0h0.8m1.3 0h0.8m-0.6 0h0.8m-20.3 0.1h0.8m1 0h0.8m2.2 0h0.8m8 0h0.8m0.6 0h0.8m0.1 0h0.8m0.6 0h0.8m3.5 0h0.8m0 0h0.8m-0.7 0h0.8m0.6 0h0.8m-20.3 0.1h0.8m-0.1 0h0.8m1 0h0.8m1.6 0h0.8m-0.3 0h0.8m-0.5 0h0.8m-0.1 0h0.8m-0.4 0h0.8m0.2 0h0.8m0.4 0h0.8m3.6 0h0.8m-22.2 0.1h0.8m18.2 0h0.8m-0.4 0h0.8m-0.7 0h0.8m6.8 0h0.8m-32.5 0.1h0.8m12.5 0h0.8m0.3 0h0.8m0 0h0.8m-0.5 0h0.8m-0.3 0h0.8m-0.7 0h0.8m-0.6 0h0.8m2.2 0h0.8m1.2 0h0.8m0 0h0.8m-0.4 0h0.8m0.4 0h0.8m6.7 0h0.8m0.5 0h0.8m-27.2 0.1h0.8m-0.3 0h0.8m2.5 0h0.8m-0.2 0h0.8m5.1 0h0.8m-0.7 0h0.8m-0.8 0h0.8m3 0h0.8m2.1 0h0.8m-0.5 0h0.8m1 0h0.8m-0.8 0h0.8m-0.2 0h0.8m2.8 0h0.8m2.1 0h0.8m-0.6 0h0.8m-22 0.1h0.8m-0.3 0h0.8m-0.1 0h0.8m4 0h0.8m0.6 0h0.8m-0.7 0h0.8m3.1 0h0.8m-0.1 0h0.8m0.5 0h0.8m-0.3 0h0.8m1.5 0h0.8m14.4 0h0.8m-35.6 0.1h0.8m0.2 0h0.8m2.5 0h0.8m-0.7 0h0.8m2.9 0h0.8m-0.6 0h0.8m-0.3 0h0.8m2.7 0h0.8m-0.5 0h0.8m0.1 0h0.8m-0.6 0h0.8m5.5 0h0.8m-28.4 0.1h0.8m9 0h0.8m2.7 0h0.8m1.6 0h0.8m-0.2 0h0.8m1.2 0h0.8m0.3 0h0.8m2 0h0.8m0.8 0h0.8m-0.3 0h0.8m-0.1 0h0.8m0.8 0h0.8m-19.7 0.1h0.8m1 0h0.8m4.5 0h0.8m4.2 0h0.8m0.7 0h0.8m0.3 0h0.8m-0.6 0h0.8m0.6 0h0.8m4.1 0h0.8m-23.5 0.1h0.8m-0.2 0h0.8m9.2 0h0.8m3 0h0.8m3.5 0h0.8m0.4 0h0.8m-0.3 0h0.8m2.5 0h0.8m9.2 0h0.8m8.4 0h0.8m-46.1 0.1h0.8m1.9 0h0.8m-0.1 0h0.8m0.1 0h0.8m3.5 0h0.8m1.6 0h0.8m1.7 0h0.8m2.6 0h0.8m1.6 0h0.8m-0.3 0h0.8m0.1 0h0.8m0.7 0h0.8m5.7 0h0.8m-27.7 0.1h0.8m0.7 0h0.8m0.6 0h0.8m2.9 0h0.8m1.7 0h0.8m1.4 0h0.8m2.1 0h0.8m-0.5 0h0.8m2.9 0h0.8m7.1 0h0.8m-0.2 0h0.8m-26.2 0.1h0.8m0.2 0h0.8m4.1 0h0.8m2.2 0h0.8m2.3 0h0.8m1.5 0h0.8m0.1 0h0.8m1.6 0h0.8m0 0h0.8m-0.2 0h0.8m1.4 0h0.8m0.3 0h0.8m0 0h0.8m7.4 0h0.8m19 0h0.8m-60 0.1h0.8m5.8 0h0.8m0.9 0h0.8m4.6 0h0.8m0 0h0.8m1.2 0h0.8m0.2 0h0.8m7.5 0h0.8m4 0h0.8m-24.6 0.1h0.8m3.2 0h0.8m0 0h0.8m1.9 0h0.8m-0.5 0h0.8m1.1 0h0.8m1 0h0.8m1.6 0h0.8m-0.7 0h0.8m0.8 0h0.8m1 0h0.8m-11.6 0.1h0.8m3.1 0h0.8m-0.7 0h0.8m-0.3 0h0.8m0.5 0h0.8m0.6 0h0.8m3.2 0h0.8m0.6 0h0.8m-0.7 0h0.8m7.5 0h0.8m4.4 0h0.8m-29.1 0.1h0.8m4.8 0h0.8m2.3 0h0.8m-0.7 0h0.8m-0.6 0h0.8m0 0h0.8m0 0h0.8m1.2 0h0.8m-0.4 0h0.8m1.4 0h0.8m-15.8 0.1h0.8m3 0h0.8m12.6 0h0.8m9.4 0h0.8m-35 0.1h0.8m2.7 0h0.8m0.7 0h0.8m7.6 0h0.8m-0.6 0h0.8m7.5 0h0.8m5.9 0h0.8m-0.6 0h0.8m2.5 0h0.8m-31.3 0.1h0.8m5.9 0h0.8m-0.3 0h0.8m0.8 0h0.8m0 0h0.8m-0.2 0h0.8m-0.8 0h0.8m1.7 0h0.8m0 0h0.8m-0.8 0h0.8m0.1 0h0.8m-0.7 0h0.8m-0.5 0h0.8m0.4 0h0.8m0.5 0h0.8m-0.4 0h0.8m-0.2 0h0.8m1.4 0h0.8m4.2 0h0.8m2.3 0h0.8m3.8 0h0.8m-36.6 0.1h0.8m5.2 0h0.8m-0.1 0h0.8m0.4 0h0.8m5.8 0h0.8m-0.4 0h0.8m4.2 0h0.8m0.7 0h0.8m0.9 0h0.8m1.5 0h0.8m0.9 0h0.8m-0.5 0h0.8m0.8 0h0.8m2 0h0.8m-0.7 0h0.8m-26.8 0.1h0.8m1.5 0h0.8m2 0h0.8m0.6 0h0.8m4.8 0h0.8m2.8 0h0.8m0.7 0h0.8m0.2 0h0.8m1.2 0h0.8m4.7 0h0.8m11.9 0h0.8m-45 0.1h0.8m1.4 0h0.8m4.1 0h0.8m1 0h0.8m-0.5 0h0.8m10.7 0h0.8m-0.8 0h0.8m0.6 0h0.8m1.6 0h0.8m0.3 0h0.8m6 0h0.8m0.9 0h0.8m17.7 0h0.8m-49.8 0.1h0.8m1.1 0h0.8m0.2 0h0.8m1.8 0h0.8m3 0h0.8m3 0h0.8m4.8 0h0.8m4.5 0h0.8m-0.8 0h0.8m-0.6 0h0.8m2.6 0h0.8m0.5 0h0.8m-36.7 0.1h0.8m-0.7 0h0.8m-0.5 0h0.8m3.6 0h0.8m6.2 0h0.8m0.7 0h0.8m-0.8 0h0.8m10 0h0.8m8 0h0.8m4.2 0h0.8m-0.5 0h0.8m-37.8 0.1h0.8m10.4 0h0.8m0.1 0h0.8m1 0h0.8m3 0h0.8m-0.2 0h0.8m8.3 0h0.8m-16.4 0.1h0.8m1.8 0h0.8m12 0h0.8m1.7 0h0.8m-0.6 0h0.8m-0.8 0h0.8m-31.5 0.1h0.8m1.6 0h0.8m8.8 0h0.8m-0.4 0h0.8m0.7 0h0.8m-0.7 0h0.8m0.4 0h0.8m6.4 0h0.8m-0.1 0h0.8m5.9 0h0.8m-28.6 0.1h0.8m1.2 0h0.8m-0.4 0h0.8m-0.3 0h0.8m0.4 0h0.8m3.7 0h0.8m0.5 0h0.8m-0.3 0h0.8m3.5 0h0.8m1.6 0h0.8m1.6 0h0.8m0.4 0h0.8m-0.5 0h0.8m-0.3 0h0.8m2.3 0h0.8m-27.2 0.1h0.8m5.5 0h0.8m3.4 0h0.8m9.7 0h0.8m-0.3 0h0.8m1.7 0h0.8m-0.2 0h0.8m5.8 0h0.8m-32.2 0.1h0.8m10 0h0.8m3.2 0h0.8m3.6 0h0.8m-0.3 0h0.8m0.3 0h0.8m4.5 0h0.8m0.1 0h0.8m3.3 0h0.8m0.1 0h0.8m-0.6 0h0.8m-16.8 0.1h0.8m-0.7 0h0.8m16.6 0h0.8m-24.8 0.1h0.8m4.5 0h0.8m6.9 0h0.8m2.9 0h0.8m1.3 0h0.8m-27.6 0.1h0.8m7 0h0.8m2.6 0h0.8m0.2 0h0.8m8 0h0.8m0.6 0h0.8m0.2 0h0.8m1.6 0h0.8m2.3 0h0.8m-26 0.1h0.8m0.2 0h0.8m4.4 0h0.8m1.6 0h0.8m9.7 0h0.8m1.3 0h0.8m7.3 0h0.8m-27.1 0.1h0.8m-0.5 0h0.8m2 0h0.8m0.8 0h0.8m-0.6 0h0.8m-0.1 0h0.8m2.4 0h0.8m-0.5 0h0.8m0.4 0h0.8m1.5 0h0.8m5.6 0h0.8m-27.2 0.1h0.8m1.9 0h0.8m4.7 0h0.8m-0.7 0h0.8m0.2 0h0.8m0 0h0.8m0.2 0h0.8m0 0h0.8m1 0h0.8m2.3 0h0.8m6.2 0h0.8m-0.1 0h0.8m0.9 0h0.8m-28.1 0.1h0.8m3.1 0h0.8m1.1 0h0.8m1.8 0h0.8m-0.6 0h0.8m2 0h0.8m-0.8 0h0.8m1.7 0h0.8m0.7 0h0.8m2.8 0h0.8m-0.4 0h0.8m4.2 0h0.8m5.9 0h0.8m4.7 0h0.8m-25.7 0.1h0.8m4.5 0h0.8m-0.5 0h0.8m0.7 0h0.8m1.5 0h0.8m3.5 0h0.8m-0.4 0h0.8m1 0h0.8m5.7 0h0.8m-24.8 0.1h0.8m2.6 0h0.8m-0.7 0h0.8m-0.8 0h0.8m2.4 0h0.8m0.4 0h0.8m2.1 0h0.8m-0.2 0h0.8m-0.6 0h0.8m2.6 0h0.8m0.7 0h0.8m3 0h0.8m-29.9 0.1h0.8m0.3 0h0.8m8.1 0h0.8m1.9 0h0.8m-0.7 0h0.8m-0.8 0h0.8m0.9 0h0.8m1.1 0h0.8m2.6 0h0.8m2.4 0h0.8m1.5 0h0.8m1.8 0h0.8m2.9 0h0.8m16.9 0h0.8m-51.4 0.1h0.8m9.6 0h0.8m6.4 0h0.8m5 0h0.8m5.9 0h0.8m-17.7 0.1h0.8m-0.6 0h0.8m-0.2 0h0.8m1 0h0.8m3.3 0h0.8m-0.4 0h0.8m0.9 0h0.8m1.2 0h0.8m0.4 0h0.8m3.3 0h0.8m5.4 0h0.8m-36.2 0.1h0.8m8.6 0h0.8m0.4 0h0.8m3.3 0h0.8m3.4 0h0.8m2.2 0h0.8m4.6 0h0.8m-26 0.1h0.8m7.1 0h0.8m8.3 0h0.8m49.2 0h0.8m-64.1 0.1h0.8m0.4 0h0.8m3.5 0h0.8m-0.6 0h0.8m2.1 0h0.8m3.7 0h0.8m1.1 0h0.8m0.1 0h0.8m1.8 0h0.8m-0.6 0h0.8m5.3 0h0.8m2.3 0h0.8m30.2 0h0.8m-65.2 0.1h0.8m2.6 0h0.8m10.1 0h0.8m5.3 0h0.8m-0.3 0h0.8m1.2 0h0.8m4 0h0.8m0.1 0h0.8m0.9 0h0.8m25.4 0h0.8m-52.8 0.1h0.8m6.9 0h0.8m2.6 0h0.8m-0.7 0h0.8m-0.2 0h0.8m-0.7 0h0.8m-0.2 0h0.8m-0.3 0h0.8m-0.6 0h0.8m-0.4 0h0.8m-0.1 0h0.8m0.6 0h0.8m3.3 0h0.8m6.6 0h0.8m-20.1 0.1h0.8m6.2 0h0.8m-0.1 0h0.8m3.1 0h0.8m0.1 0h0.8m2.6 0h0.8m1.3 0h0.8m0.9 0h0.8m-0.3 0h0.8m14.9 0h0.8m-47.8 0.1h0.8m6.3 0h0.8m1.1 0h0.8m-0.5 0h0.8m4.2 0h0.8m-0.2 0h0.8m0.3 0h0.8m-0.1 0h0.8m1.4 0h0.8m-0.2 0h0.8m0.4 0h0.8m2.4 0h0.8m0.4 0h0.8m12.2 0h0.8m-32.7 0.1h0.8m1.5 0h0.8m-0.2 0h0.8m4.4 0h0.8m0.6 0h0.8m1.2 0h0.8m3.6 0h0.8m0.2 0h0.8m0.7 0h0.8m0.8 0h0.8m0.7 0h0.8m4.2 0h0.8m3.1 0h0.8m-29.6 0.1h0.8m4.7 0h0.8m0.9 0h0.8m1.9 0h0.8m4.4 0h0.8m2.2 0h0.8m-12.5 0.1h0.8m1 0h0.8m2.8 0h0.8m-17.4 0.1h0.8m10.3 0h0.8m2.8 0h0.8m2.1 0h0.8m2.7 0h0.8m-0.8 0h0.8m1.4 0h0.8m1.2 0h0.8m9.2 0h0.8m-36.8 0.1h0.8m0.4 0h0.8m-0.6 0h0.8m0.7 0h0.8m2.3 0h0.8m2.4 0h0.8m0.5 0h0.8m-0.7 0h0.8m0.5 0h0.8m-0.5 0h0.8m5.9 0h0.8m0.5 0h0.8m2.5 0h0.8m24.8 0h0.8m6.3 0h0.8m-60.7 0.1h0.8m6 0h0.8m5.2 0h0.8m3.1 0h0.8m0.9 0h0.8m-0.5 0h0.8m-0.3 0h0.8m2.8 0h0.8m2.3 0h0.8m-0.6 0h0.8m-10.4 0.1h0.8m0.6 0h0.8m-0.3 0h0.8m8.5 0h0.8m-0.7 0h0.8m3.3 0h0.8m-24.5 0.1h0.8m-0.2 0h0.8m8.2 0h0.8m3.2 0h0.8m-0.4 0h0.8m-0.6 0h0.8m-0.3 0h0.8m2.4 0h0.8m1.9 0h0.8m-23.3 0.1h0.8m2.6 0h0.8m1.8 0h0.8m3.2 0h0.8m4.7 0h0.8m-20.8 0.1h0.8m4.1 0h0.8m2.1 0h0.8m-0.8 0h0.8m1.6 0h0.8m2.9 0h0.8m-17.1 0.1h0.8m10.4 0h0.8m1.3 0h0.8m-0.4 0h0.8m5.6 0h0.8m0.4 0h0.8m11.1 0h0.8m-26.2 0.1h0.8m6.8 0h0.8m-0.7 0h0.8m3.3 0h0.8m9.6 0h0.8m0.6 0h0.8m0.6 0h0.8m1.8 0h0.8m5.1 0h0.8m-31.4 0.1h0.8m1.4 0h0.8m3.3 0h0.8m1.5 0h0.8m3.8 0h0.8m5.1 0h0.8m-30.7 0.1h0.8m5.5 0h0.8m3.5 0h0.8m6.7 0h0.8m-0.3 0h0.8m4.6 0h0.8m2.1 0h0.8m-21.5 0.1h0.8m4.2 0h0.8m-0.3 0h0.8m4.3 0h0.8m1.3 0h0.8m6.4 0h0.8m-17.7 0.1h0.8m4.7 0h0.8m0 0h0.8m5 0h0.8m17.1 0h0.8m-28.6 0.1h0.8m1.8 0h0.8m2.9 0h0.8m10.4 0h0.8m-1.6 0.1h0.8m27.7 0h0.8m-56.8 0.1h0.8m6.9 0h0.8m1.1 0h0.8m0.6 0h0.8m1.3 0h0.8m1.2 0h0.8m1.2 0h0.8m0.3 0h0.8m-14.6 0.1h0.8m11.6 0h0.8m4 0h0.8m7 0h0.8m0.3 0h0.8m-29.1 0.1h0.8m4.3 0h0.8m0.7 0h0.8m9.2 0h0.8m4.9 0h0.8m2.1 0h0.8m-24.8 0.1h0.8m5 0h0.8m-0.8 0h0.8m0.5 0h0.8m6.7 0h0.8m3.7 0h0.8m-0.5 0h0.8m7 0h0.8m-31.3 0.1h0.8m1.5 0h0.8m1.9 0h0.8m2.7 0h0.8m2.1 0h0.8m1.1 0h0.8m12.5 0h0.8m-14.3 0.1h0.8m0.8 0h0.8m0.1 0h0.8m-4.7 0.1h0.8m2.8 0h0.8m6.2 0h0.8m2 0h0.8m1.7 0h0.8m3.6 0h0.8m1.6 0h0.8m-30.6 0.1h0.8m3.2 0h0.8m3.6 0h0.8m7.4 0h0.8m0.9 0h0.8m10.7 0h0.8m-29.1 0.1h0.8m1.2 0h0.8m0.4 0h0.8m2 0h0.8m9.4 0h0.8m3.1 0h0.8m-26.9 0.1h0.8m7.2 0h0.8m4.2 0h0.8m2.8 0h0.8m0.1 0h0.8m0.2 0h0.8m-19.7 0.1h0.8m16.4 0h0.8m10.1 0h0.8m3.3 0h0.8m-25.4 0.1h0.8m5.5 0h0.8m6.9 0h0.8m2.2 0h0.8m6.8 0h0.8m-33.2 0.1h0.8m5 0h0.8m2.5 0h0.8m3.3 0h0.8m3.1 0h0.8m1.6 0h0.8m3.8 0h0.8m-19.3 0.1h0.8m12.6 0h0.8m3.1 0h0.8m0.7 0h0.8m33.6 0h0.8m-39.1 0.1h0.8m-0.7 0h0.8m8 0h0.8m-11.7 0.1h0.8m11.7 0h0.8m-28.2 0.1h0.8m12.4 0h0.8m0.4 0h0.8m-0.1 0h0.8m11.7 0h0.8m-14.2 0.1h0.8m-0.1 0h0.8m-0.4 0h0.8m0.5 0h0.8m3.8 0h0.8m0.1 0h0.8m2 0h0.8m-0.3 0h0.8m-23.2 0.1h0.8m8 0h0.8m3.3 0h0.8m2.9 0.2h0.8m-0.3 0h0.8m-13.4 0.1h0.8m1.5 0h0.8m-0.5 0h0.8m-0.1 0h0.8m0.7 0h0.8m6.4 0h0.8m1.6 0h0.8m-17.3 0.1h0.8m-4.9 0.1h0.8m10.3 0h0.8m-11.1 0.1h0.8m0.3 0h0.8m5 0.1h0.8m3.1 0h0.8m3.2 0h0.8m33 0h0.8m-51.9 0.1h0.8m6.8 0h0.8m0.9 0h0.8m3.9 0h0.8m-0.6 0h0.8m-0.8 0h0.8m0.9 0h0.8m56.2 0h0.8m-69.9 0.1h0.8m0.4 0h0.8m5.2 0h0.8m2.9 0h0.8m0.6 0h0.8m3.5 0h0.8m-22.6 0.1h0.8m7.7 0h0.8m7 0h0.8m-8.4 0.1h0.8m0.5 0h0.8m3 0h0.8m-0.5 0h0.8m27.6 0.1h0.8m15.2 0h0.8m-42.8 0.1h0.8m-2.6 0.1h0.8m1.5 0h0.8m0.4 0h0.8m0 0h0.8m0.4 0h0.8m4.2 0h0.8m0.5 0h0.8m0.3 0h0.8m-18.3 0.1h0.8m8.1 0h0.8m-3.5 0.1h0.8m30.1 0h0.8m-24.3 0.1h0.8m12.9 0h0.8m-35.5 0.1h0.8m10.1 0h0.8m0 0h0.8m3 0h0.8m3.5 0h0.8m-15.3 0.1h0.8m11.7 0h0.8m4.8 0h0.8m-19.1 0.1h0.8m5.8 0h0.8m3.7 0h0.8m2.8 0h0.8m-12.3 0.1h0.8m7 0h0.8m-21.5 0.2h0.8m24.7 0h0.8m-26.1 0.1h0.8m9 0h0.8m4.3 0h0.8m14.4 0h0.8m-11.3 0.1h0.8m0.2 0h0.8m10.7 0h0.8m-12.8 0.1h0.8m5.3 0.2h0.8m-22.6 0.1h0.8m42.4 0h0.8m-20.4 0.1h0.8m-11 0.1h0.8m5.4 0h0.8m-24.8 0.1h0.8m4.9 0.1h0.8m0.9 0h0.8m0.7 0h0.8m2.7 0.2h0.8m11.9 0h0.8m-25.3 0.2h0.8m0.6 0.1h0.8m12.9 0h0.8m2.3 0h0.8m0.1 0h0.8m-0.2 0h0.8m4 0.1h0.8m-6 0.1h0.8m5.5 0h0.8m-25.9 0.1h0.8m50 0.2h0.8m-44.1 0.1h0.8m6.5 0.2h0.8m-0.3 0h0.8m-1.8 0.1h0.8m1.9 0.1h0.8m0.9 0.1h0.8m-1.4 0.1h0.8m4.2 0h0.8m-9.2 0.1h0.8m-16.3 0.2h0.8m10.9 0h0.8m-0.6 0.1h0.8m-5 0.2h0.8m2.7 0.2h0.8m6.9 0h0.8m-11.7 0.5h0.8m61.1 0.2h0.8m-41.9 0.3h0.8m16.5 0h0.8m-41.6 0.1h0.8m15.3 0h0.8m-14.2 0.1h0.8m41 0.2h0.8m-32.8 0.2h0.8m-17.3 0.5h0.8m6.2 0.4h0.8m2.6 0h0.8m0.1 0h0.8m-6.5 1h0.8m8.1 0.1h0.8m-8.8 0.8h0.8m64.9 0.3h0.8m-56 0.2h0.8m33.3 0.6h0.8m-40.6 0.7h0.8m7.8 1h0.8m39.6 2.7h0.8m-56.6 0.5h0.8" stroke="rgb(216, 48, 48)" stroke-width="0.8" fill="none"/>
<path d="M405.5 368.7h0.8m3.6 0.5h0.8m-2.8 0.6h0.8m12.8 0.4h0.8m-7.1 0.2h0.8m5.8 0.9h0.8m-18 0.9h0.8m11.6 0.6h0.8m-0.7 0h0.8m-5.1 0.1h0.8m3.3 0.1h0.8m-7.9 0.2h0.8m13.9 0.5h0.8m-17.5 0.1h0.8m15.8 0.1h0.8m-8.1 0.2h0.8m-0.1 0.1h0.8m-3.9 0.1h0.8m-12.3 0.2h0.8m11.5 0h0.8m0.5 0h0.8m-11.8 0.1h0.8m7.3 0.1h0.8m-9.9 0.1h0.8m12.9 0h0.8m-10.9 0.1h0.8m10.1 0.1h0.8m6.4 0h0.8m-19.2 0.2h0.8m3.5 0h0.8m3.9 0h0.8m-16.3 0.1h0.8m3.1 0h0.8m3.7 0h0.8m6.3 0.1h0.8m-7.9 0.1h0.8m4.4 0.2h0.8m0.9 0h0.8m6.3 0h0.8m-31.2 0.1h0.8m17 0h0.8m-2.8 0.1h0.8m13.1 0h0.8m-9.7 0.1h0.8m0.1 0h0.8m-0.6 0h0.8m-8.8 0.1h0.8m2.4 0h0.8m-12.3 0.1h0.8m12.6 0h0.8m-12.8 0.1h0.8m7 0h0.8m4.8 0h0.8m5.5 0h0.8m-13.8 0.2h0.8m3.3 0h0.8m0.9 0h0.8m-0.3 0.1h0.8m1.1 0h0.8m1.5 0h0.8m1 0.1h0.8m-17.6 0.1h0.8m8.9 0h0.8m2 0h0.8m-6.3 0.1h0.8m-2.9 0.1h0.8m3.6 0h0.8m1.4 0.1h0.8m4.1 0h0.8m-8.7 0.1h0.8m3.2 0h0.8m2.8 0h0.8m3.7 0.1h0.8m-11.3 0.1h0.8m-0.6 0h0.8m0.9 0h0.8m1.9 0h0.8m-14.3 0.1h0.8m3.1 0h0.8m8.2 0h0.8m1.8 0h0.8m2.5 0h0.8m-14.8 0.1h0.8m2 0h0.8m-8.1 0.1h0.8m3.7 0h0.8m5 0.1h0.8m1.9 0h0.8m-3.8 0.1h0.8m-0.2 0.1h0.8m-0.5 0h0.8m-1.9 0.1h0.8m1.8 0h0.8m3.9 0h0.8m-10.8 0.2h0.8m3.3 0h0.8m1 0h0.8m-14.1 0.1h0.8m1.8 0h0.8m2.6 0h0.8m17.4 0h0.8m-14.3 0.1h0.8m5.4 0h0.8m-2.4 0.1h0.8m1.7 0h0.8m-12.3 0.1h0.8m2.8 0h0.8m1.6 0h0.8m2.1 0h0.8m-0.7 0h0.8m-11.1 0.1h0.8m7.9 0h0.8m4.3 0h0.8m1.4 0h0.8m-17.8 0.1h0.8m-0.2 0h0.8m5.2 0h0.8m-0.5 0h0.8m-1.6 0.1h0.8m0.2 0h0.8m2.1 0h0.8m0.7 0h0.8m0.2 0h0.8m-18.8 0.1h0.8m1 0.1h0.8m0.9 0h0.8m1.5 0h0.8m-0.1 0h0.8m1.1 0h0.8m3.7 0h0.8m-7.6 0.1h0.8m5.3 0h0.8m3.2 0h0.8m-9.5 0.1h0.8m1.1 0h0.8m0 0h0.8m0.8 0h0.8m0.5 0h0.8m2.4 0h0.8m0.8 0h0.8m4.7 0h0.8m-18.7 0.1h0.8m0.7 0h0.8m1 0h0.8m7.9 0h0.8m-21 0.1h0.8m13.7 0h0.8m-0.7 0h0.8m-12 0.1h0.8m6.6 0h0.8m0.9 0h0.8m1.7 0.1h0.8m3.1 0h0.8m2.8 0h0.8m-17 0.1h0.8m1.3 0h0.8m4.2 0h0.8m7.1 0h0.8m8.1 0h0.8m-29.5 0.1h0.8m0.5 0h0.8m3.5 0h0.8m1.3 0h0.8m3.7 0h0.8m0.6 0h0.8m1.6 0h0.8m-0.7 0h0.8m1 0h0.8m-4.4 0.1h0.8m-0.2 0h0.8m-7.7 0.1h0.8m-0.1 0h0.8m1 0h0.8m2.3 0h0.8m4.3 0h0.8m0 0h0.8m-11.6 0.1h0.8m0.1 0h0.8m2.6 0h0.8m5.2 0h0.8m-7.6 0.1h0.8m-14 0.1h0.8m5.6 0h0.8m9.8 0h0.8m0.3 0h0.8m3.1 0h0.8m0.1 0h0.8m-14.9 0.1h0.8m7.8 0h0.8m-7 0.1h0.8m6.1 0h0.8m0.1 0h0.8m-9.9 0.1h0.8m2.6 0h0.8m2.6 0h0.8m1.7 0h0.8m6.5 0h0.8m-17.5 0.1h0.8m1.7 0h0.8m1.8 0h0.8m0.7 0h0.8m1.7 0h0.8m0.2 0h0.8m-17.4 0.1h0.8m10.8 0h0.8m-0.3 0h0.8m2.7 0h0.8m-0.6 0h0.8m-14.6 0.1h0.8m1.2 0h0.8m0 0h0.8m3.3 0h0.8m-0.7 0h0.8m0.1 0h0.8m1.5 0h0.8m1.2 0h0.8m-0.7 0h0.8m0.5 0h0.8m4.9 0h0.8m-19.4 0.1h0.8m1.8 0h0.8m18.9 0h0.8m-19.4 0.1h0.8m4.7 0h0.8m-0.6 0h0.8m-6.9 0.1h0.8m0 0h0.8m-0.4 0h0.8m-0.5 0h0.8m4.2 0h0.8m2 0h0.8m-8.5 0.1h0.8m1.4 0h0.8m0.2 0h0.8m-0.3 0h0.8m-0.7 0h0.8m-0.6 0h0.8m6.6 0h0.8m-18.7 0.1h0.8m5.6 0h0.8m-0.4 0h0.8m0.6 0h0.8m-0.8 0h0.8m2.4 0h0.8m0.4 0h0.8m4.3 0h0.8m-11.2 0.1h0.8m2.3 0h0.8m1.6 0h0.8m-12.4 0.1h0.8m1 0h0.8m1.2 0h0.8m1.9 0h0.8m3.9 0h0.8m-0.3 0h0.8m3.4 0h0.8m-18.4 0.1h0.8m16 0h0.8m0.5 0h0.8m-20.9 0.1h0.8m7.7 0h0.8m5.8 0h0.8m1.4 0h0.8m-0.3 0h0.8m-9.2 0.1h0.8m3.2 0h0.8m-0.3 0h0.8m-10.8 0.1h0.8m4.3 0h0.8m0.3 0h0.8m0.3 0h0.8m1.1 0h0.8m-0.5 0h0.8m-0.3 0h0.8m0.9 0h0.8m1.2 0h0.8m-0.2 0h0.8m0.1 0h0.8m-13.4 0.1h0.8m4 0h0.8m0.2 0h0.8m1.6 0h0.8m1 0h0.8m2.5 0h0.8m-8.8 0.1h0.8m-0.7 0h0.8m-0.5 0h0.8m-0.4 0h0.8m2.4 0h0.8m2.6 0h0.8m-10.8 0.1h0.8m0.5 0h0.8m1.9 0h0.8m1.1 0h0.8m-0.1 0h0.8m-0.3 0h0.8m6.8 0h0.8m-21.6 0.1h0.8m-0.2 0h0.8m-0.1 0h0.8m-0.6 0h0.8m1.7 0h0.8m-0.1 0h0.8m-0.7 0h0.8m2.9 0h0.8m2.1 0h0.8m1.4 0h0.8m-0.1 0h0.8m-8.4 0.1h0.8m-0.2 0h0.8m0.8 0h0.8m2.6 0h0.8m0.7 0h0.8m2.9 0h0.8m-8.2 0.1h0.8m-13.9 0.1h0.8m-0.5 0h0.8m-0.2 0h0.8m3.6 0h0.8m1.5 0h0.8m0.3 0h0.8m3.5 0h0.8m4.8 0h0.8m-0.8 0h0.8m-10.8 0.1h0.8m0.7 0h0.8m-1.1 0.1h0.8m4.9 0h0.8m-0.1 0h0.8m3.9 0h0.8m-7.5 0.1h0.8m-0.4 0h0.8m-11.8 0.1h0.8m4.7 0h0.8m-0.8 0h0.8m-0.7 0h0.8m0.2 0h0.8m0.7 0h0.8m0.3 0h0.8m1.7 0h0.8m-14.9 0.1h0.8m1.6 0h0.8m2.8 0h0.8m1.6 0h0.8m3 0h0.8m1.8 0h0.8m1.2 0h0.8m1.5 0h0.8m-0.6 0h0.8m-13.3 0.1h0.8m-0.5 0h0.8m0.5 0h0.8m-0.1 0h0.8m1.4 0h0.8m-0.2 0h0.8m2.5 0h0.8m4.2 0h0.8m-18 0.1h0.8m2.9 0h0.8m-0.2 0h0.8m1.2 0h0.8m3 0h0.8m-0.7 0h0.8m2.2 0h0.8m-7.4 0.1h0.8m2.5 0h0.8m-11.5 0.1h0.8m1.8 0h0.8m-0.5 0h0.8m5.2 0h0.8m-0.7 0h0.8m1.2 0h0.8m5.2 0h0.8m-18.3 0.1h0.8m2.9 0h0.8m0.2 0h0.8m10 0h0.8m4.9 0h0.8m-23.7 0.1h0.8m3.7 0h0.8m-0.2 0h0.8m1.6 0h0.8m0.7 0h0.8m-0.2 0h0.8m0.3 0h0.8m-0.5 0h0.8m0.7 0h0.8m-0.1 0h0.8m-7.2 0.1h0.8m3 0h0.8m3.2 0h0.8m-14.5 0.1h0.8m3 0h0.8m0.3 0h0.8m0.3 0h0.8m0.2 0h0.8m3.1 0h0.8m-0.1 0h0.8m0.1 0h0.8m2.7 0h0.8m-0.3 0h0.8m-18 0.1h0.8m7.4 0h0.8m4.2 0h0.8m-0.2 0h0.8m0.4 0h0.8m-5.8 0.1h0.8m-0.7 0h0.8m-0.3 0h0.8m1.9 0h0.8m4.1 0h0.8m0.6 0h0.8m-10.7 0.1h0.8m-12.8 0.1h0.8m2.5 0h0.8m3.8 0h0.8m1.2 0h0.8m-0.7 0h0.8m2.4 0h0.8m-2.9 0.1h0.8m0.1 0h0.8m3.3 0h0.8m-0.7 0h0.8m-10.5 0.1h0.8m1.4 0h0.8m0.1 0h0.8m0.4 0h0.8m0 0h0.8m-6.1 0.1h0.8m2.3 0h0.8m2.9 0h0.8m0.1 0h0.8m0.6 0h0.8m1.9 0h0.8m1.6 0h0.8m-14.9 0.1h0.8m-0.5 0h0.8m5.4 0h0.8m-0.4 0h0.8m1.8 0h0.8m-0.8 0h0.8m5.3 0h0.8m-22.5 0.1h0.8m10.1 0h0.8m-0.2 0h0.8m1.2 0h0.8m5 0h0.8m-0.1 0h0.8m-0.7 0h0.8m-21.4 0.1h0.8m1.3 0h0.8m1.2 0h0.8m4.8 0h0.8m2.4 0h0.8m0.3 0h0.8m-10.9 0.1h0.8m4.2 0h0.8m5.7 0h0.8m1.5 0h0.8m4.9 0h0.8m-24.1 0.1h0.8m8.9 0h0.8m0.4 0h0.8m0.8 0h0.8m4.2 0h0.8m-9.6 0.1h0.8m-3.2 0.1h0.8m2.9 0h0.8m-0.1 0h0.8m1.6 0h0.8m4.5 0h0.8m-0.3 0h0.8m-17.3 0.1h0.8m6.7 0h0.8m3.2 0h0.8m-6.8 0.1h0.8m6 0h0.8m0 0h0.8m-0.3 0h0.8m1.3 0h0.8m-10.3 0.1h0.8m-0.4 0h0.8m0.9 0h0.8m0.6 0h0.8m2.6 0h0.8m0.6 0h0.8m-2.1 0.1h0.8m1.3 0h0.8m-2.7 0.1h0.8m-11.2 0.1h0.8m5.3 0h0.8m2.9 0h0.8m1.8 0h0.8m0.1 0h0.8m-25 0.1h0.8m15.2 0h0.8m-0.4 0h0.8m10.3 0h0.8m-7.6 0.1h0.8m-0.2 0h0.8m0.3 0h0.8m0.6 0h0.8m-0.7 0h0.8m2.8 0h0.8m-30.7 0.1h0.8m5.7 0h0.8m4.8 0h0.8m-0.3 0h0.8m4.1 0h0.8m4.2 0h0.8m-9.5 0.1h0.8m1 0h0.8m3.4 0h0.8m5.6 0h0.8m-15.9 0.1h0.8m6.8 0h0.8m6.1 0h0.8m-7.9 0.1h0.8m2.6 0h0.8m-9.6 0.1h0.8m3 0h0.8m2.1 0h0.8m-3.7 0.1h0.8m4.1 0h0.8m-13.5 0.1h0.8m3.4 0h0.8m7.3 0h0.8m-9.9 0.1h0.8m4.4 0h0.8m-2.2 0.1h0.8m3.4 0h0.8m-0.4 0h0.8m4.1 0h0.8m4.5 0.1h0.8m-18 0.2h0.8m0.5 0h0.8m4.9 0h0.8m-7.6 0.1h0.8m7.8 0h0.8m0.9 0h0.8m0.3 0h0.8m2.6 0h0.8m-6.5 0.1h0.8m-5 0.1h0.8m8.2 0h0.8m-14.7 0.1h0.8m0.3 0h0.8m7.1 0h0.8m-3 0.1h0.8m0.9 0.1h0.8m1.9 0.1h0.8m-10.4 0.1h0.8m1.6 0.1h0.8m1.1 0h0.8m-11.4 0.1h0.8m14.8 0h0.8m-11.1 0.1h0.8m-15.5 0.1h0.8m14.2 0h0.8m13.1 0.1h0.8m-9.2 0.4h0.8m-0.5 0h0.8m-0.2 0.1h0.8m2.6 0.1h0.8m-7.6 0.2h0.8m-0.7 0.1h0.8m-0.4 0.2h0.8m8.4 0h0.8m-25 0.2h0.8m2.9 0.1h0.8m11.9 0.2h0.8m5.8 0.1h0.8m-0.1 0.1h0.8m-12.5 0.1h0.8m-6.1 0.3h0.8m2.3 0.1h0.8m12.4 0.1h0.8m-19.9 0.7h0.8m7 0h0.8m-10.2 1.7h0.8m0.2 0.1h0.8m1.2 0h0.8m-9.1 0.4h0.8m7.3 0.3h0.8m4.4 0.2h0.8m-9.4 4h0.8" stroke="rgb(118, 104, 196)" stroke-width="0.8" fill="none"/>
<path d="M417.1 363h0.8m1.2 5.6h0.8m36.5 0.8h0.8m-37.2 0.1h0.8m-9.6 0.3h0.8m-9.7 0.6h0.8m2.1 0.4h0.8m37 0h0.8m-30.8 0.1h0.8m-19.7 0.1h0.8m10.4 0.1h0.8m4.4 0h0.8m-1 0.1h0.8m1.7 0h0.8m-2.8 0.1h0.8m-1.3 0.2h0.8m-9.3 0.1h0.8m8.8 0h0.8m-4.1 0.1h0.8m-0.7 0h0.8m9.6 0h0.8m-25.6 0.2h0.8m12.9 0.4h0.8m2.8 0h0.8m-2 0.1h0.8m5.4 0.1h0.8m-12.5 0.1h0.8m17.1 0h0.8m2.6 0.1h0.8m-24.5 0.2h0.8m1.2 0h0.8m5.6 0h0.8m-0.5 0h0.8m8.2 0.1h0.8m-5.5 0.2h0.8m-5.7 0.1h0.8m2 0h0.8m-2.1 0.1h0.8m10.1 0h0.8m40.9 0.2h0.8m-63.8 0.1h0.8m18.2 0h0.8m3.3 0h0.8m-12.9 0.2h0.8m-4.8 0.1h0.8m7.8 0h0.8m5.9 0h0.8m1.9 0h0.8m-10.2 0.2h0.8m-0.4 0h0.8m2.4 0h0.8m-0.7 0.1h0.8m-7.5 0.1h0.8m7 0h0.8m-9.3 0.3h0.8m-7.6 0.1h0.8m13.5 0h0.8m-20.6 0.1h0.8m7.4 0h0.8m10.8 0.1h0.8m-0.3 0h0.8m-8.9 0.1h0.8m1 0h0.8m5.9 0.1h0.8m-11.9 0.2h0.8m14.9 0h0.8m-33.7 0.1h0.8m23.7 0h0.8m0.7 0h0.8m-16.9 0.1h0.8m9.8 0h0.8m-17.1 0.1h0.8m16.4 0h0.8m-19.3 0.2h0.8m9.8 0.1h0.8m4.6 0h0.8m0.1 0h0.8m-7.5 0.1h0.8m5.1 0h0.8m2.3 0h0.8m12.8 0h0.8m-23.3 0.1h0.8m13.4 0h0.8m0.8 0h0.8m-2.8 0.2h0.8m3.9 0h0.8m2.3 0h0.8m0.3 0h0.8m-14.2 0.1h0.8m-0.1 0h0.8m3.7 0h0.8m0.1 0h0.8m-6.7 0.1h0.8m1.1 0h0.8m-10.1 0.1h0.8m4.5 0h0.8m5.9 0h0.8m-22.2 0.1h0.8m13.2 0h0.8m1 0h0.8m7.6 0.1h0.8m-14.9 0.1h0.8m1.9 0h0.8m5.7 0h0.8m8.1 0h0.8m-14.4 0.1h0.8m10 0h0.8m-17.1 0.1h0.8m0.8 0h0.8m5.2 0h0.8m-11.9 0.1h0.8m8.7 0h0.8m1.7 0h0.8m-0.2 0h0.8m3.7 0h0.8m-12.3 0.1h0.8m9 0h0.8m0.6 0h0.8m5.5 0h0.8m-29.2 0.2h0.8m12.6 0h0.8m-6.3 0.3h0.8m0 0h0.8m4.2 0h0.8m-16.1 0.1h0.8m-2.6 0.1h0.8m3.3 0.1h0.8m22.1 0h0.8m-21.7 0.2h0.8m18.6 0h0.8m-16.8 0.1h0.8m4 0h0.8m-0.5 0h0.8m8.3 0h0.8m-13.4 0.1h0.8m13 0h0.8m24.7 0h0.8m-30.8 0.1h0.8m3.4 0h0.8m8.7 0h0.8m-35.5 0.1h0.8m13.3 0h0.8m1.6 0h0.8m3.2 0h0.8m6.3 0h0.8m-28.9 0.1h0.8m7.2 0h0.8m1.4 0h0.8m13.6 0h0.8m1 0h0.8m-17.4 0.1h0.8m0.4 0h0.8m-5.3 0.1h0.8m-0.5 0h0.8m2.5 0h0.8m5.6 0h0.8m-0.3 0h0.8m-0.4 0h0.8m5.3 0h0.8m-20.5 0.1h0.8m13.3 0h0.8m3.5 0h0.8m-9.5 0.1h0.8m-0.5 0h0.8m5.3 0h0.8m11.2 0h0.8m-23.3 0.1h0.8m1.1 0h0.8m0.8 0h0.8m0 0h0.8m1.1 0h0.8m7.8 0h0.8m7.4 0h0.8m-27.9 0.1h0.8m9.7 0h0.8m1.7 0h0.8m15.9 0h0.8m-16.8 0.1h0.8m3.6 0h0.8m-25.1 0.1h0.8m13.6 0h0.8m21.6 0h0.8m1.8 0h0.8m-30.6 0.1h0.8m7.2 0h0.8m-18.7 0.1h0.8m7.9 0h0.8m3.1 0h0.8m-0.4 0h0.8m2.1 0h0.8m19.4 0h0.8m-30.7 0.1h0.8m3.2 0h0.8m0.7 0h0.8m-0.5 0h0.8m5.3 0h0.8m0.7 0h0.8m3.8 0h0.8m2.9 0h0.8m-6.7 0.1h0.8m3.9 0h0.8m-23.8 0.1h0.8m7.8 0h0.8m9.9 0h0.8m-21.4 0.1h0.8m1.3 0h0.8m6.5 0h0.8m0.1 0h0.8m7.8 0h0.8m3.4 0h0.8m-20.4 0.1h0.8m2.1 0h0.8m8.8 0h0.8m1.8 0h0.8m0.2 0h0.8m-8.6 0.1h0.8m1.1 0h0.8m5.9 0h0.8m-13.3 0.1h0.8m11.5 0h0.8m4 0h0.8m-0.3 0h0.8m-15.8 0.1h0.8m1 0h0.8m-12.7 0.1h0.8m4.4 0h0.8m1.4 0h0.8m4 0h0.8m1.7 0h0.8m0.1 0h0.8m9.1 0h0.8m35.2 0h0.8m-49.5 0.1h0.8m2.3 0h0.8m8 0h0.8m-25.8 0.1h0.8m2.8 0h0.8m9.1 0h0.8m1.1 0h0.8m0.4 0h0.8m5.8 0h0.8m1.7 0h0.8m4 0h0.8m21.2 0h0.8m-53.1 0.1h0.8m14 0h0.8m7.5 0.2h0.8m-13.5 0.1h0.8m10.2 0h0.8m1.3 0h0.8m-7.3 0.1h0.8m1 0h0.8m-23 0.1h0.8m2.5 0h0.8m11.5 0h0.8m-7.9 0.1h0.8m3.6 0h0.8m10 0h0.8m1.9 0h0.8m-0.3 0h0.8m-15.7 0.1h0.8m5.3 0h0.8m1.5 0h0.8m0.3 0h0.8m5.6 0h0.8m3.9 0h0.8m-13.7 0.1h0.8m0.1 0h0.8m-2 0.1h0.8m-0.9 0.1h0.8m0.4 0h0.8m-0.4 0h0.8m-12.4 0.1h0.8m9.3 0h0.8m14.5 0h0.8m-18.4 0.1h0.8m6.9 0h0.8m4.8 0h0.8m-13 0.1h0.8m15.2 0h0.8m-32.9 0.1h0.8m5.8 0h0.8m7.4 0h0.8m36.3 0h0.8m-51.5 0.1h0.8m7.2 0h0.8m4.2 0h0.8m-0.7 0h0.8m3.6 0h0.8m15.7 0h0.8m-19.4 0.1h0.8m-14.6 0.1h0.8m7.8 0h0.8m5.7 0h0.8m-18.4 0.1h0.8m5.3 0h0.8m15.5 0h0.8m-10.4 0.1h0.8m0.8 0h0.8m0.7 0h0.8m-0.5 0.1h0.8m1.5 0h0.8m0.9 0h0.8m2.3 0h0.8m0.6 0h0.8m0.1 0h0.8m-19.6 0.1h0.8m9.2 0h0.8m2.5 0h0.8m-0.4 0h0.8m1.6 0h0.8m-18 0.1h0.8m29.5 0h0.8m-29.8 0.1h0.8m4.6 0h0.8m8.3 0h0.8m5.5 0h0.8m-0.7 0h0.8m-13.8 0.1h0.8m3.5 0h0.8m23.6 0h0.8m-38.4 0.1h0.8m3.3 0h0.8m4.5 0h0.8m5.8 0h0.8m3 0h0.8m3.6 0h0.8m14.3 0h0.8m-32.7 0.1h0.8m16.5 0h0.8m-22.2 0.1h0.8m2 0h0.8m-0.6 0h0.8m0.2 0h0.8m0.5 0h0.8m4.8 0h0.8m2.8 0h0.8m-14.5 0.1h0.8m16.4 0h0.8m5.5 0h0.8m-20.4 0.1h0.8m4 0h0.8m-2.7 0.1h0.8m0.5 0h0.8m3.7 0h0.8m0.6 0h0.8m-0.4 0h0.8m-19.4 0.1h0.8m3.6 0h0.8m0.4 0h0.8m0.6 0h0.8m1.7 0h0.8m13.7 0h0.8m-23.6 0.1h0.8m8.5 0h0.8m0 0h0.8m5.2 0h0.8m0.3 0h0.8m15.6 0h0.8m-21.1 0.1h0.8m1.7 0.1h0.8m1.1 0h0.8m-21.9 0.1h0.8m3.8 0h0.8m13.6 0.1h0.8m-0.3 0h0.8m35.9 0h0.8m-62.1 0.1h0.8m7.4 0h0.8m18.7 0h0.8m-0.7 0h0.8m-9 0.1h0.8m2.6 0h0.8m1.3 0h0.8m6.1 0h0.8m33.7 0h0.8m-54.7 0.1h0.8m7.7 0h0.8m-22.6 0.1h0.8m6.7 0h0.8m7.3 0h0.8m10.2 0h0.8m0.3 0h0.8m2.2 0h0.8m0.9 0h0.8m-24 0.2h0.8m4.3 0h0.8m10.2 0h0.8m-0.2 0h0.8m1.5 0h0.8m4.2 0h0.8m0.7 0h0.8m-27.4 0.1h0.8m17.1 0h0.8m1.2 0h0.8m2.2 0h0.8m-16.3 0.1h0.8m5.8 0h0.8m5.3 0h0.8m-20.5 0.1h0.8m1.6 0h0.8m0.5 0h0.8m4.9 0h0.8m0.2 0h0.8m-0.2 0h0.8m1.6 0h0.8m11.9 0h0.8m2.6 0h0.8m-22.7 0.1h0.8m11.6 0h0.8m-11.6 0.1h0.8m1.6 0h0.8m2.9 0h0.8m29.9 0h0.8m-34.9 0.1h0.8m0.7 0h0.8m-6.7 0.1h0.8m0.4 0h0.8m10.7 0h0.8m3.4 0h0.8m-13.4 0.1h0.8m-5.1 0.1h0.8m4.9 0h0.8m5.1 0h0.8m-8.2 0.1h0.8m-0.5 0h0.8m1.1 0h0.8m1.9 0h0.8m2.7 0h0.8m-0.6 0h0.8m-21.3 0.1h0.8m3.2 0h0.8m1.3 0h0.8m3 0h0.8m4.7 0h0.8m2.8 0h0.8m0.5 0h0.8m27.6 0h0.8m-49.8 0.1h0.8m8.6 0h0.8m8.8 0h0.8m-14.4 0.1h0.8m1.1 0h0.8m1.3 0h0.8m0.8 0h0.8m0.8 0h0.8m-0.3 0h0.8m-10.3 0.1h0.8m12.3 0h0.8m1.1 0h0.8m2.2 0h0.8m1.4 0h0.8m5.9 0h0.8m-19.6 0.1h0.8m4.5 0h0.8m-16.3 0.1h0.8m2.8 0h0.8m-0.5 0h0.8m3 0h0.8m1.4 0h0.8m-0.1 0h0.8m1.3 0h0.8m-0.1 0h0.8m3.2 0h0.8m2.1 0h0.8m-24.7 0.1h0.8m2.5 0h0.8m1.6 0h0.8m4.4 0h0.8m3.3 0h0.8m1.4 0.3h0.8m41 0h0.8m-54.6 0.1h0.8m25.5 0h0.8m-37.8 0.1h0.8m-0.5 0h0.8m1.8 0h0.8m13.1 0h0.8m1 0h0.8m-12.9 0.1h0.8m3.7 0h0.8m1.2 0h0.8m10.3 0.1h0.8m0 0h0.8m1.2 0h0.8m-24.6 0.1h0.8m8.7 0h0.8m9.4 0h0.8m33.1 0.1h0.8m-49.8 0.1h0.8m-0.4 0h0.8m4.6 0h0.8m2.5 0h0.8m5.2 0h0.8m27.9 0h0.8m-38.3 0.1h0.8m17.7 0h0.8m-25.4 0.2h0.8m1.4 0h0.8m5.5 0h0.8m-9.2 0.1h0.8m15.3 0h0.8m-3.5 0.2h0.8m-16.2 0.1h0.8m2.2 0h0.8m2.8 0h0.8m1.7 0h0.8m-13.1 0.1h0.8m2.2 0h0.8m8.4 0h0.8m5 0h0.8m-4.2 0.1h0.8m3.3 0h0.8m0.4 0h0.8m2.8 0h0.8m9.3 0h0.8m-25.6 0.1h0.8m1.8 0h0.8m4.3 0h0.8m6.7 0h0.8m-0.2 0h0.8m-14.3 0.1h0.8m4.7 0h0.8m5.3 0h0.8m17.9 0h0.8m-22 0.1h0.8m-17.8 0.2h0.8m5.6 0h0.8m8 0.1h0.8m-0.7 0h0.8m-8.6 0.1h0.8m6.9 0h0.8m-14.9 0.1h0.8m20.2 0h0.8m-19.5 0.2h0.8m18 0h0.8m-29 0.1h0.8m21.8 0.1h0.8m-6.9 0.1h0.8m5.7 0.1h0.8m10 0h0.8m-20.9 0.2h0.8m1.7 0h0.8m5.1 0.1h0.8m-16 0.1h0.8m14.8 0h0.8m3.4 0h0.8m-19.5 0.1h0.8m1.8 0h0.8m4.7 0h0.8m-11.8 0.1h0.8m8.4 0h0.8m1.9 0h0.8m-8.3 0.1h0.8m8.1 0h0.8m4.5 0h0.8m-8.3 0.1h0.8m-7.2 0.3h0.8m-0.6 0h0.8m15.8 0h0.8m-5.9 0.1h0.8m-20.7 0.1h0.8m12 0h0.8m5.4 0h0.8m4.6 0h0.8m-1.5 0.1h0.8m-23.2 0.4h0.8m10.8 0h0.8m4.5 0.2h0.8m-6 0.1h0.8m0.1 0.6h0.8m-4.3 0.1h0.8m4.4 0.6h0.8m3.4 0.4h0.8m-10.2 0.1h0.8m5.5 0.3h0.8m5.5 0h0.8m-10.1 0.3h0.8m1.9 0h0.8m-9.8 0.9h0.8m5.7 0h0.8m-4.9 0.2h0.8m-2.4 0.3h0.8m-9.4 0.2h0.8m14.7 0h0.8m44 0.6h0.8m-51 0.1h0.8m8.8 0.3h0.8m33.9 0.2h0.8m-44 0.5h0.8m7.8 0.2h0.8m-20.2 0.3h0.8m6.2 0.3h0.8m4.2 0.6h0.8m9.3 0.6h0.8m-15.8 0.1h0.8" stroke="rgb(216, 48, 48)" stroke-width="0.8" fill="none"/>
<path d="M424.9 330.5h0.7m-32.5 9.7h0.7m20.3 5.7h0.7m2 3.2h0.7m-15 5.3h0.7m-1.6 4.1h0.7m16.8 1.6h0.7m-4.6 0.5h0.7m-22.3 0.5h0.7m11.1 0.5h0.7m8.9 0.5h0.7m-1.8 2.4h0.7m16.4 0.3h0.7m-38.7 0.4h0.7m-0.6 0.6h0.7m2.4 0.1h0.7m16.2 0.2h0.7m7.4 0.1h0.7m-7.2 0.1h0.7m-19.4 0.2h0.7m18.6 1.2h0.7m-4 1.4h0.7m0.5 1.1h0.7m6.2 1.3h0.7m-10 0.5h0.7m-16.1 1h0.7m24.8 0h0.7m-1.2 0.7h0.7m-17.4 0.4h0.7m4.8 0.2h0.7m7.4 0h0.7m5.6 0.5h0.7m-22.6 0.4h0.7m7.3 0.6h0.7m4.6 0.6h0.7m1.6 0.1h0.7m5 0.9h0.7m-30.3 0.1h0.7m20.2 0.3h0.7m-7 0.2h0.7m-1.2 0.5h0.7m-8.5 0.2h0.7m26 0.1h0.7m-20.7 0.1h0.7m-3 0.7h0.7m13.9 0.1h0.7m-19.2 0.1h0.7m-0.6 0.7h0.7m29.3 0.1h0.7m-30.5 0.3h0.7m20.8 0.8h0.7m-20.4 0.6h0.7m18.8 0h0.7m-26.9 0.4h0.7m23 0.1h0.7m-5 0.4h0.7m17.8 0h0.7m-7.8 0.2h0.7m-14.6 0.4h0.7m0 0.7h0.7m26.4 0.2h0.7m-32 0.2h0.7m-4.6 0.8h0.7m25.9 0.6h0.7m-35.2 0.6h0.7m35.5 1.5h0.7m-36.6 0.3h0.7m26.6 0.6h0.7m-14.6 0.3h0.7m2.8 0.3h0.7m-8.9 0.2h0.7m18.5 0.2h0.7m-4 0.1h0.7m-29.6 0.1h0.7m15.2 0h0.7m-4.9 0.8h0.7m26.5 0.5h0.7m-16.5 0.5h0.7m-5.7 1h0.7m39.4 1.6h0.7m-24.7 0.8h0.7m-13.6 1.1h0.7m-12.8 0.5h0.7m20.3 0h0.7m-7.1 1.6h0.7m-18.5 0.7h0.7m6.6 2.7h0.7m14 0.6h0.7m-28 1.1h0.7m11.9 7.6h0.7" stroke="rgb(216, 48, 48)" stroke-width="0.7" fill="none" stroke-opacity="0.6"/>
</g>
<line x1="428.00" y1="309.30" x2="428.00" y2="423.40" stroke="#707070" stroke-width="0.9"/>
<line x1="392.80" y1="371.30" x2="505.40" y2="371.30" stroke="#707070" stroke-width="0.9"/>
<rect x="392.80" y="309.30" width="11.00" height="8.00" fill="#fff" stroke="#b5b5b5" stroke-width="0.7"/>
<text x="393.80" y="315.10" font-size="5.0" font-weight="bold" fill="#222">K-+</text>
<rect x="428.00" y="309.30" width="11.80" height="8.00" fill="#fff" stroke="#b5b5b5" stroke-width="0.7"/>
<text x="429.00" y="315.10" font-size="5.0" font-weight="bold" fill="#222">K++</text>
<rect x="392.80" y="371.30" width="10.40" height="8.00" fill="#fff" stroke="#b5b5b5" stroke-width="0.7"/>
<text x="393.80" y="377.10" font-size="5.0" font-weight="bold" fill="#222">K--</text>
<rect x="428.00" y="371.30" width="11.00" height="8.00" fill="#fff" stroke="#b5b5b5" stroke-width="0.7"/>
<text x="429.00" y="377.10" font-size="5.0" font-weight="bold" fill="#222">K+-</text>
<rect x="406.70" y="319.40" width="20.90" height="21.20" rx="1.2" fill="#fff" stroke="#b0b0b0" stroke-width="0.7"/>
<text x="407.70" y="325.60" font-size="6.8" textLength="16.00" lengthAdjust="spacingAndGlyphs" fill="#111" class="mt">viable</text>
<text x="407.70" y="332.15" font-size="6.8" textLength="16.80" lengthAdjust="spacingAndGlyphs" fill="#111" class="mt">mouse</text>
<text x="407.70" y="338.70" font-size="6.8" textLength="12.40" lengthAdjust="spacingAndGlyphs" fill="#111" class="mt">PLTS</text>
<rect x="471.30" y="389.00" width="32.70" height="32.00" rx="7" ry="7" fill="#fff" fill-opacity="0.85" stroke="#666" stroke-width="0.8"/>
<text x="476.10" y="397.10" font-size="7.5" textLength="20.40" lengthAdjust="spacingAndGlyphs" fill="#000" class="ht">viable</text>
<text x="476.10" y="407.00" font-size="7.5" textLength="23.40" lengthAdjust="spacingAndGlyphs" fill="#000" class="ht">human</text>
<text x="476.10" y="416.50" font-size="7.5" textLength="18.40" lengthAdjust="spacingAndGlyphs" fill="#000" class="ht">PLTS</text>
<text x="373.54" y="399.68" font-size="8.6" textLength="9.56" lengthAdjust="spacingAndGlyphs">10</text>
<text x="383.51" y="396.24" font-size="7.0" textLength="3.89" lengthAdjust="spacingAndGlyphs">0</text>
<text x="373.54" y="371.15" font-size="8.6" textLength="9.56" lengthAdjust="spacingAndGlyphs">10</text>
<text x="383.51" y="367.71" font-size="7.0" textLength="3.89" lengthAdjust="spacingAndGlyphs">1</text>
<text x="373.54" y="342.62" font-size="8.6" textLength="9.56" lengthAdjust="spacingAndGlyphs">10</text>
<text x="383.51" y="339.19" font-size="7.0" textLength="3.89" lengthAdjust="spacingAndGlyphs">2</text>
<text x="373.54" y="314.10" font-size="8.6" textLength="9.56" lengthAdjust="spacingAndGlyphs">10</text>
<text x="383.51" y="310.66" font-size="7.0" textLength="3.89" lengthAdjust="spacingAndGlyphs">3</text>
<text x="414.07" y="435.50" font-size="8.6" textLength="9.56" lengthAdjust="spacingAndGlyphs">10</text>
<text x="424.04" y="432.06" font-size="7.0" textLength="3.89" lengthAdjust="spacingAndGlyphs">0</text>
<text x="442.22" y="435.50" font-size="8.6" textLength="9.56" lengthAdjust="spacingAndGlyphs">10</text>
<text x="452.19" y="432.06" font-size="7.0" textLength="3.89" lengthAdjust="spacingAndGlyphs">1</text>
<text x="470.37" y="435.50" font-size="8.6" textLength="9.56" lengthAdjust="spacingAndGlyphs">10</text>
<text x="480.34" y="432.06" font-size="7.0" textLength="3.89" lengthAdjust="spacingAndGlyphs">2</text>
<text x="498.52" y="435.50" font-size="8.6" textLength="9.56" lengthAdjust="spacingAndGlyphs">10</text>
<text x="508.49" y="432.06" font-size="7.0" textLength="3.89" lengthAdjust="spacingAndGlyphs">3</text>
<text x="0.00" y="0.00" font-size="11.5" text-anchor="middle" textLength="38.60" lengthAdjust="spacingAndGlyphs" transform="translate(367.40,367.50) rotate(-90)" class="cb">CD42d-APC</text>
<text x="447.85" y="451.70" font-size="11" text-anchor="middle" textLength="26.90" lengthAdjust="spacingAndGlyphs" class="cb">CD41 H7</text>
<text x="7.90" y="520.80" font-size="14" font-weight="bold">C</text>
<rect x="92.70" y="572.27" width="20.60" height="131.73" fill="#a3002a" />
<rect x="156.40" y="574.54" width="20.60" height="129.46" fill="#a3002a" />
<line x1="70.90" y1="535.00" x2="70.90" y2="706.50" stroke="#000" stroke-width="1.3"/>
<line x1="67.60" y1="704.00" x2="70.90" y2="704.00" stroke="#000" stroke-width="1.1"/>
<text x="64.20" y="707.00" font-size="8.8" text-anchor="end" textLength="4.90" lengthAdjust="spacingAndGlyphs">0</text>
<line x1="67.60" y1="683.32" x2="70.90" y2="683.32" stroke="#000" stroke-width="1.1"/>
<text x="64.20" y="686.32" font-size="8.8" text-anchor="end" textLength="9.90" lengthAdjust="spacingAndGlyphs">10</text>
<line x1="67.60" y1="662.64" x2="70.90" y2="662.64" stroke="#000" stroke-width="1.1"/>
<text x="64.20" y="665.64" font-size="8.8" text-anchor="end" textLength="9.90" lengthAdjust="spacingAndGlyphs">20</text>
<line x1="67.60" y1="641.96" x2="70.90" y2="641.96" stroke="#000" stroke-width="1.1"/>
<text x="64.20" y="644.96" font-size="8.8" text-anchor="end" textLength="9.90" lengthAdjust="spacingAndGlyphs">30</text>
<line x1="67.60" y1="621.28" x2="70.90" y2="621.28" stroke="#000" stroke-width="1.1"/>
<text x="64.20" y="624.28" font-size="8.8" text-anchor="end" textLength="9.90" lengthAdjust="spacingAndGlyphs">40</text>
<line x1="67.60" y1="600.60" x2="70.90" y2="600.60" stroke="#000" stroke-width="1.1"/>
<text x="64.20" y="603.60" font-size="8.8" text-anchor="end" textLength="9.90" lengthAdjust="spacingAndGlyphs">50</text>
<line x1="67.60" y1="579.92" x2="70.90" y2="579.92" stroke="#000" stroke-width="1.1"/>
<text x="64.20" y="582.92" font-size="8.8" text-anchor="end" textLength="9.90" lengthAdjust="spacingAndGlyphs">60</text>
<line x1="67.60" y1="559.24" x2="70.90" y2="559.24" stroke="#000" stroke-width="1.1"/>
<text x="64.20" y="562.24" font-size="8.8" text-anchor="end" textLength="9.90" lengthAdjust="spacingAndGlyphs">70</text>
<line x1="67.60" y1="538.56" x2="70.90" y2="538.56" stroke="#000" stroke-width="1.1"/>
<text x="64.20" y="541.56" font-size="8.8" text-anchor="end" textLength="9.90" lengthAdjust="spacingAndGlyphs">80</text>
<line x1="70.90" y1="704.00" x2="198.50" y2="704.00" stroke="#000" stroke-width="1.4"/>
<line x1="70.90" y1="704.00" x2="70.90" y2="707.00" stroke="#000" stroke-width="1.1"/>
<line x1="135.00" y1="704.00" x2="135.00" y2="707.00" stroke="#000" stroke-width="1.1"/>
<line x1="198.00" y1="704.00" x2="198.00" y2="707.00" stroke="#000" stroke-width="1.1"/>
<line x1="102.90" y1="550.40" x2="102.90" y2="593.60" stroke="#000" stroke-width="1.1"/>
<line x1="101.90" y1="550.40" x2="103.90" y2="550.40" stroke="#000" stroke-width="0.9"/>
<line x1="101.90" y1="593.60" x2="103.90" y2="593.60" stroke="#000" stroke-width="0.9"/>
<line x1="166.60" y1="551.70" x2="166.60" y2="597.50" stroke="#000" stroke-width="1.1"/>
<line x1="165.60" y1="551.70" x2="167.60" y2="551.70" stroke="#000" stroke-width="0.9"/>
<line x1="165.60" y1="597.50" x2="167.60" y2="597.50" stroke="#000" stroke-width="0.9"/>
<text x="0.00" y="0.00" font-size="11.5" text-anchor="middle" textLength="186.30" lengthAdjust="spacingAndGlyphs" transform="translate(47.6,618.05) rotate(-90)" class="cn">% ratio human CD41a+/(total) viable calcein AM + PLTS</text>
<g transform="translate(74.50,737.00) rotate(-45)">
<text x="0.00" y="0.00" font-size="11" text-anchor="middle" textLength="69.00" lengthAdjust="spacingAndGlyphs">Depleted mice</text>
<text x="0.00" y="12.60" font-size="11" text-anchor="middle" textLength="77.00" lengthAdjust="spacingAndGlyphs">+donor platelets</text>
</g>
<g transform="translate(138.00,738.20) rotate(-45)">
<text x="0.00" y="0.00" font-size="11" text-anchor="middle" textLength="69.00" lengthAdjust="spacingAndGlyphs">Depleted mice</text>
<text x="0.00" y="12.60" font-size="11" text-anchor="middle" textLength="98.00" lengthAdjust="spacingAndGlyphs">+bioreactor Platelets</text>
</g>
<text x="223.80" y="519.30" font-size="8.7" textLength="106.40" lengthAdjust="spacingAndGlyphs">[J] CD41 H7 / CD42d-APC</text>
<rect x="238.30" y="531.80" width="80.00" height="76.10" fill="#fff" stroke="#b4b4b4" stroke-width="0.5"/>
<path d="M238.30 607.90h-1.6M238.30 607.90v1.6M238.30 602.17h-0.9M244.32 607.90v0.9M238.30 598.82h-0.9M247.84 607.90v0.9M238.30 596.45h-0.9M250.34 607.90v0.9M238.30 594.60h-0.9M252.28 607.90v0.9M238.30 593.10h-0.9M253.86 607.90v0.9M238.30 591.82h-0.9M255.20 607.90v0.9M238.30 590.72h-0.9M256.36 607.90v0.9M238.30 589.75h-0.9M257.38 607.90v0.9M238.30 588.88h-1.6M258.30 607.90v1.6M238.30 583.15h-0.9M264.32 607.90v0.9M238.30 579.80h-0.9M267.84 607.90v0.9M238.30 577.42h-0.9M270.34 607.90v0.9M238.30 575.58h-0.9M272.28 607.90v0.9M238.30 574.07h-0.9M273.86 607.90v0.9M238.30 572.80h-0.9M275.20 607.90v0.9M238.30 571.69h-0.9M276.36 607.90v0.9M238.30 570.72h-0.9M277.38 607.90v0.9M238.30 569.85h-1.6M278.30 607.90v1.6M238.30 564.12h-0.9M284.32 607.90v0.9M238.30 560.77h-0.9M287.84 607.90v0.9M238.30 558.40h-0.9M290.34 607.90v0.9M238.30 556.55h-0.9M292.28 607.90v0.9M238.30 555.05h-0.9M293.86 607.90v0.9M238.30 553.77h-0.9M295.20 607.90v0.9M238.30 552.67h-0.9M296.36 607.90v0.9M238.30 551.70h-0.9M297.38 607.90v0.9M238.30 550.82h-1.6M298.30 607.90v1.6M238.30 545.10h-0.9M304.32 607.90v0.9M238.30 541.75h-0.9M307.84 607.90v0.9M238.30 539.37h-0.9M310.34 607.90v0.9M238.30 537.53h-0.9M312.28 607.90v0.9M238.30 536.02h-0.9M313.86 607.90v0.9M238.30 534.75h-0.9M315.20 607.90v0.9M238.30 533.64h-0.9M316.36 607.90v0.9M238.30 532.67h-0.9M317.38 607.90v0.9" stroke="#8a8a8a" stroke-width="0.6" fill="none"/>
<g filter="url(#sb)">
<path d="M251.6 570h0.6m-1 0.7h0.6m-0.4 0h0.6m-0.2 0h0.6m8.8 0h0.6m-14.5 0.2h0.6m5.1 0.3h0.6m-4.2 0.1h0.6m0.7 0.2h0.6m-5.6 0.3h0.6m12.4 0h0.6m-4.8 0.3h0.6m2.9 0h0.6m-3.5 0.1h0.6m-0.5 0h0.6m1.8 0h0.6m-4.9 0.1h0.6m3.8 0h0.6m-2.9 0.1h0.6m-15.7 0.2h0.6m9.4 0h0.6m3.9 0.1h0.6m-6.2 0.1h0.6m-1.4 0.2h0.6m0.8 0.1h0.6m3.2 0h0.6m-2.3 0.1h0.6m0.6 0h0.6m4.4 0h0.6m-2.4 0.1h0.6m2.1 0h0.6m2.3 0h0.6m-15.1 0.1h0.6m1 0.1h0.6m0.2 0.1h0.6m2.5 0h0.6m7.6 0h0.6m-11.4 0.2h0.6m2.7 0h0.6m8.2 0h0.6m-13.4 0.1h0.6m5.3 0h0.6m4.5 0h0.6m3.5 0h0.6m-18.2 0.1h0.6m3.2 0h0.6m7 0h0.6m4.3 0h0.6m-16.9 0.1h0.6m4.5 0h0.6m-5.4 0.1h0.6m0.2 0h0.6m0 0h0.6m6.4 0h0.6m-4.8 0.1h0.6m-0.4 0h0.6m0.8 0.1h0.6m-0.6 0h0.6m3.8 0h0.6m-6 0.1h0.6m1.2 0h0.6m1.5 0h0.6m1.1 0h0.6m3.2 0h0.6m-12.1 0.1h0.6m3.6 0h0.6m-0.2 0h0.6m8 0h0.6m-16.8 0.1h0.6m2.4 0h0.6m4.8 0h0.6m8.5 0h0.6m-13.4 0.1h0.6m3.5 0h0.6m2.5 0h0.6m3.6 0h0.6m-18.1 0.1h0.6m7.2 0h0.6m2.9 0h0.6m1.7 0h0.6m-13.1 0.1h0.6m0.5 0h0.6m-0.1 0h0.6m1.2 0h0.6m6.6 0h0.6m-0.1 0h0.6m1.3 0h0.6m-10.3 0.1h0.6m2.4 0h0.6m0 0h0.6m0.6 0h0.6m-9.4 0.1h0.6m5.1 0h0.6m1.3 0h0.6m0.1 0h0.6m4 0h0.6m-16.8 0.1h0.6m4.8 0h0.6m3.9 0h0.6m0.8 0h0.6m0 0h0.6m-8.6 0.1h0.6m0.1 0h0.6m1.2 0h0.6m6.7 0h0.6m3.7 0h0.6m-19.1 0.1h0.6m8.6 0h0.6m4.9 0h0.6m-0.6 0h0.6m0.6 0h0.6m2.7 0h0.6m-12.8 0.1h0.6m1.5 0h0.6m0.7 0h0.6m-2.8 0.1h0.6m0.2 0h0.6m4.4 0h0.6m-0.2 0h0.6m1 0h0.6m-11.3 0.1h0.6m4.3 0h0.6m1.8 0h0.6m1 0h0.6m-0.6 0h0.6m4.5 0h0.6m-7.2 0.1h0.6m0 0h0.6m-0.3 0h0.6m3.7 0h0.6m-0.5 0h0.6m-16 0.1h0.6m1.3 0h0.6m-0.4 0h0.6m7.4 0h0.6m1.4 0h0.6m-0.6 0h0.6m-10.7 0.1h0.6m5.1 0h0.6m2 0h0.6m0.6 0h0.6m0.1 0h0.6m0.1 0h0.6m-10.1 0.1h0.6m0.7 0h0.6m2.6 0h0.6m0.4 0h0.6m4.2 0h0.6m-0.1 0h0.6m0.8 0h0.6m-7.5 0.1h0.6m1.1 0h0.6m-0.6 0h0.6m0.4 0h0.6m0.2 0h0.6m-14.7 0.1h0.6m4.5 0h0.6m0.7 0h0.6m4.4 0h0.6m9.1 0h0.6m-13.2 0.1h0.6m2.9 0h0.6m3.8 0h0.6m-16.7 0.1h0.6m2.2 0h0.6m-0.3 0h0.6m3.8 0h0.6m1.1 0h0.6m-0.2 0h0.6m0 0h0.6m1.8 0h0.6m1 0h0.6m-12.7 0.1h0.6m3.1 0h0.6m2.3 0h0.6m6 0h0.6m1.8 0h0.6m-16.4 0.1h0.6m0.6 0h0.6m1.6 0h0.6m5.7 0h0.6m0.9 0h0.6m0.5 0h0.6m1.7 0h0.6m-0.1 0h0.6m-20.2 0.1h0.6m5 0h0.6m2.5 0h0.6m2.8 0h0.6m-0.1 0h0.6m1.4 0h0.6m0.4 0h0.6m0.2 0h0.6m1.3 0h0.6m0.7 0h0.6m-0.4 0h0.6m1.9 0h0.6m0.5 0h0.6m-19.4 0.1h0.6m-0.2 0h0.6m8.3 0h0.6m-0.3 0h0.6m4 0h0.6m-10.9 0.1h0.6m-0.5 0h0.6m0.4 0h0.6m0.5 0h0.6m-0.6 0h0.6m0.7 0h0.6m1.5 0h0.6m0.3 0h0.6m2.5 0h0.6m0 0h0.6m3 0h0.6m-12.4 0.1h0.6m5.1 0h0.6m-16.4 0.1h0.6m3.2 0h0.6m1.9 0h0.6m0.2 0h0.6m0.2 0h0.6m1.9 0h0.6m0.3 0h0.6m0.2 0h0.6m0.6 0h0.6m-0.1 0h0.6m1.7 0h0.6m-0.2 0h0.6m0.8 0h0.6m-14.3 0.1h0.6m4.3 0h0.6m4.9 0h0.6m0.4 0h0.6m-10.9 0.1h0.6m4 0h0.6m1.3 0h0.6m0.3 0h0.6m0.9 0h0.6m1.8 0h0.6m0.3 0h0.6m2.9 0h0.6m-22.6 0.1h0.6m1 0h0.6m8 0h0.6m-0.1 0h0.6m0.3 0h0.6m0.9 0h0.6m0 0h0.6m1.4 0h0.6m-2.3 0.1h0.6m0.7 0h0.6m2.3 0h0.6m-17.6 0.1h0.6m-0.4 0h0.6m12.8 0h0.6m1.4 0h0.6m-16 0.1h0.6m5.4 0h0.6m1 0h0.6m0.3 0h0.6m0.5 0h0.6m-0.5 0h0.6m-0.5 0h0.6m0.3 0h0.6m1.9 0h0.6m-0.4 0h0.6m5.3 0h0.6m-22 0.1h0.6m-0.4 0h0.6m3.3 0h0.6m8 0h0.6m-0.3 0h0.6m3.1 0h0.6m-0.1 0h0.6m-0.5 0h0.6m-0.1 0h0.6m0.1 0h0.6m-11.4 0.1h0.6m1.5 0h0.6m0.9 0h0.6m-0.6 0h0.6m-0.4 0h0.6m1.7 0h0.6m-0.1 0h0.6m0.9 0h0.6m1.6 0h0.6m1.3 0h0.6m0.1 0h0.6m-0.5 0h0.6m-0.5 0h0.6m-19.3 0.1h0.6m5.3 0h0.6m2.6 0h0.6m0.3 0h0.6m0.4 0h0.6m-0.1 0h0.6m4 0h0.6m0.2 0h0.6m-0.4 0h0.6m0.2 0h0.6m0.3 0h0.6m3.8 0h0.6m-18.3 0.1h0.6m-0.3 0h0.6m0.7 0h0.6m1.1 0h0.6m2.6 0h0.6m0.3 0h0.6m0.3 0h0.6m-0.4 0h0.6m0.1 0h0.6m1.4 0h0.6m-0.3 0h0.6m-15.2 0.1h0.6m0.9 0h0.6m3.3 0h0.6m1.1 0h0.6m0.9 0h0.6m1.5 0h0.6m0.6 0h0.6m5.8 0h0.6m-16 0.1h0.6m0.5 0h0.6m0.9 0h0.6m0.3 0h0.6m1.6 0h0.6m-0.2 0h0.6m0.4 0h0.6m0.2 0h0.6m1.7 0h0.6m-12.5 0.1h0.6m-0.3 0h0.6m0.2 0h0.6m0.9 0h0.6m0.6 0h0.6m0 0h0.6m-0.4 0h0.6m2.7 0h0.6m2.6 0h0.6m1.1 0h0.6m1.1 0h0.6m1.2 0h0.6m-17.5 0.1h0.6m4.3 0h0.6m0.3 0h0.6m-0.1 0h0.6m3.6 0h0.6m0 0h0.6m-11.1 0.1h0.6m2.7 0h0.6m1.1 0h0.6m1.7 0h0.6m-11.1 0.1h0.6m1.2 0h0.6m0.1 0h0.6m6.3 0h0.6m0.4 0h0.6m0.1 0h0.6m1.3 0h0.6m-8.6 0.1h0.6m1 0h0.6m-0.3 0h0.6m0.7 0h0.6m-0.2 0h0.6m-0.6 0h0.6m-0.3 0h0.6m1.4 0h0.6m-0.3 0h0.6m3 0h0.6m-0.4 0h0.6m3.1 0h0.6m-22.6 0.1h0.6m4.5 0h0.6m-0.2 0h0.6m0.8 0h0.6m0.4 0h0.6m0.1 0h0.6m2.6 0h0.6m4.9 0h0.6m-0.3 0h0.6m0.4 0h0.6m2.7 0h0.6m-13.8 0.1h0.6m2.4 0h0.6m0.1 0h0.6m0.7 0h0.6m1.5 0h0.6m0.1 0h0.6m0.5 0h0.6m-4 0.1h0.6m-0.2 0h0.6m-0.4 0h0.6m5.1 0h0.6m0.1 0h0.6m0.3 0h0.6m-7.9 0.1h0.6m1.1 0h0.6m0.3 0h0.6m1.5 0h0.6m0 0h0.6m3.5 0h0.6m-21.1 0.1h0.6m3.7 0h0.6m-0.1 0h0.6m-0.4 0h0.6m-0.2 0h0.6m0.3 0h0.6m0.4 0h0.6m1.1 0h0.6m3.5 0h0.6m1.1 0h0.6m-12.5 0.1h0.6m-0.2 0h0.6m0.3 0h0.6m4.9 0h0.6m2.2 0h0.6m-0.3 0h0.6m1.1 0h0.6m3.5 0h0.6m-16.4 0.1h0.6m2.9 0h0.6m0.3 0h0.6m0.2 0h0.6m0.3 0h0.6m0.9 0h0.6m0.3 0h0.6m0.4 0h0.6m1.2 0h0.6m3.3 0h0.6m0.7 0h0.6m-0.4 0h0.6m1.4 0h0.6m-24 0.1h0.6m4.2 0h0.6m-0.5 0h0.6m4.3 0h0.6m1.5 0h0.6m0 0h0.6m1.5 0h0.6m0.5 0h0.6m-15.9 0.1h0.6m3.1 0h0.6m-0.2 0h0.6m4 0h0.6m-0.5 0h0.6m0.5 0h0.6m1.5 0h0.6m8.7 0h0.6m-12.6 0.1h0.6m0.4 0h0.6m-0.1 0h0.6m5 0h0.6m-0.1 0h0.6m1 0h0.6m-12 0.1h0.6m1 0h0.6m5.2 0h0.6m0 0h0.6m4.6 0h0.6m1.5 0h0.6m-0.1 0h0.6m2.2 0h0.6m-22 0.1h0.6m1.6 0h0.6m1.4 0h0.6m0 0h0.6m-0.3 0h0.6m3.2 0h0.6m0.7 0h0.6m0.1 0h0.6m1.7 0h0.6m-0.5 0h0.6m1.3 0h0.6m0.8 0h0.6m-17.3 0.1h0.6m0.1 0h0.6m4.6 0h0.6m-0.2 0h0.6m0.8 0h0.6m-0.4 0h0.6m0.9 0h0.6m1.2 0h0.6m-0.5 0h0.6m0.7 0h0.6m-0.5 0h0.6m-0.6 0h0.6m-12.5 0.1h0.6m2.9 0h0.6m-2.7 0.1h0.6m1.3 0h0.6m0 0h0.6m0 0h0.6m0.4 0h0.6m1 0h0.6m0.4 0h0.6m0.2 0h0.6m2 0h0.6m2.6 0h0.6m-0.1 0h0.6m0 0h0.6m-19.4 0.1h0.6m7.2 0h0.6m-0.5 0h0.6m0.8 0h0.6m0.8 0h0.6m0.4 0h0.6m1.9 0h0.6m0.1 0h0.6m0.8 0h0.6m-15.1 0.1h0.6m1.8 0h0.6m6.1 0h0.6m-0.6 0h0.6m1.4 0h0.6m-0.3 0h0.6m0.8 0h0.6m-17.5 0.1h0.6m1.7 0h0.6m3.5 0h0.6m2.5 0h0.6m2.7 0h0.6m1.6 0h0.6m-0.2 0h0.6m-0.4 0h0.6m-9.3 0.1h0.6m8 0h0.6m-0.3 0h0.6m1.7 0h0.6m0.5 0h0.6m0 0h0.6m6.8 0h0.6m-23.3 0.1h0.6m6.2 0h0.6m-0.2 0h0.6m0.4 0h0.6m2.4 0h0.6m0.3 0h0.6m1 0h0.6m0.3 0h0.6m1.8 0h0.6m-17.6 0.1h0.6m1.5 0h0.6m0.2 0h0.6m2.3 0h0.6m0 0h0.6m-0.3 0h0.6m-0.6 0h0.6m-0.3 0h0.6m3.8 0h0.6m0.2 0h0.6m-9.7 0.1h0.6m2.4 0h0.6m0.5 0h0.6m-0.3 0h0.6m2.5 0h0.6m1.6 0h0.6m1.2 0h0.6m2.7 0h0.6m-0.2 0h0.6m-10.3 0.1h0.6m-0.6 0h0.6m0.3 0h0.6m1.9 0h0.6m0.2 0h0.6m-0.4 0h0.6m2 0h0.6m-17 0.1h0.6m2.6 0h0.6m0.9 0h0.6m1.2 0h0.6m-0.3 0h0.6m1.7 0h0.6m2 0h0.6m-9.9 0.1h0.6m1.2 0h0.6m0.6 0h0.6m0.3 0h0.6m0.8 0h0.6m0.4 0h0.6m-0.5 0h0.6m-0.3 0h0.6m1.4 0h0.6m5.4 0h0.6m-10.7 0.1h0.6m0 0h0.6m1.4 0h0.6m-0.3 0h0.6m1.7 0h0.6m1 0h0.6m-20 0.1h0.6m6 0h0.6m3.4 0h0.6m1.3 0h0.6m1.4 0h0.6m-0.4 0h0.6m1.7 0h0.6m-0.2 0h0.6m-0.2 0h0.6m0 0h0.6m-0.3 0h0.6m3.7 0h0.6m-14.1 0.1h0.6m-0.5 0h0.6m-0.1 0h0.6m-0.5 0h0.6m2.1 0h0.6m3.5 0h0.6m-0.1 0h0.6m-12.5 0.1h0.6m1.9 0h0.6m0.8 0h0.6m0.3 0h0.6m-0.3 0h0.6m0.2 0h0.6m-0.3 0h0.6m0.9 0h0.6m0.1 0h0.6m0.5 0h0.6m2 0h0.6m1.3 0h0.6m2 0h0.6m-0.3 0h0.6m-0.6 0h0.6m-16.8 0.1h0.6m2.4 0h0.6m1.3 0h0.6m0.1 0h0.6m1.8 0h0.6m0.4 0h0.6m0.7 0h0.6m1.2 0h0.6m-16.5 0.1h0.6m-0.5 0h0.6m4.7 0h0.6m3.9 0h0.6m-0.1 0h0.6m0 0h0.6m2.3 0h0.6m0.6 0h0.6m0.8 0h0.6m-12 0.1h0.6m0.9 0h0.6m-0.4 0h0.6m-0.4 0h0.6m0.5 0h0.6m1.7 0h0.6m0.5 0h0.6m-0.2 0h0.6m2.9 0h0.6m-0.3 0h0.6m-15.3 0.1h0.6m3.3 0h0.6m2.5 0h0.6m3.7 0h0.6m-0.2 0h0.6m-0.3 0h0.6m0.2 0h0.6m1.1 0h0.6m2.2 0h0.6m3.1 0h0.6m3.8 0h0.6m0.5 0h0.6m-20.3 0.1h0.6m-0.5 0h0.6m-0.5 0h0.6m2.2 0h0.6m-0.6 0h0.6m0.3 0h0.6m0.2 0h0.6m1.4 0h0.6m-0.1 0h0.6m0 0h0.6m3.5 0h0.6m0.5 0h0.6m-17.8 0.1h0.6m2.8 0h0.6m2 0h0.6m-0.4 0h0.6m-0.3 0h0.6m0.8 0h0.6m-0.5 0h0.6m0.5 0h0.6m0.1 0h0.6m1.4 0h0.6m0.6 0h0.6m0.1 0h0.6m6.6 0h0.6m-20.7 0.1h0.6m5.2 0h0.6m-0.4 0h0.6m3 0h0.6m6.1 0h0.6m0.9 0h0.6m1.4 0h0.6m-19.8 0.1h0.6m0.9 0h0.6m4.3 0h0.6m-0.5 0h0.6m-0.5 0h0.6m-0.4 0h0.6m0.4 0h0.6m-0.3 0h0.6m-0.1 0h0.6m0 0h0.6m1.6 0h0.6m1.8 0h0.6m-0.2 0h0.6m-0.5 0h0.6m-13.2 0.1h0.6m-0.5 0h0.6m0 0h0.6m1.4 0h0.6m0.8 0h0.6m-0.5 0h0.6m1 0h0.6m0.9 0h0.6m1.2 0h0.6m0.4 0h0.6m0.7 0h0.6m-20.5 0.1h0.6m3.1 0h0.6m5.1 0h0.6m0.7 0h0.6m0.6 0h0.6m0.3 0h0.6m-0.5 0h0.6m1.8 0h0.6m6.8 0h0.6m-0.1 0h0.6m-14.9 0.1h0.6m3.7 0h0.6m-0.5 0h0.6m-7.9 0.1h0.6m-0.4 0h0.6m0.4 0h0.6m1.1 0h0.6m0.3 0h0.6m-0.2 0h0.6m5.4 0h0.6m-0.3 0h0.6m1.6 0h0.6m-14.9 0.1h0.6m1.9 0h0.6m-0.6 0h0.6m2.4 0h0.6m3 0h0.6m0.3 0h0.6m0.3 0h0.6m-0.5 0h0.6m-0.5 0h0.6m-0.6 0h0.6m0.9 0h0.6m-0.2 0h0.6m0.6 0h0.6m-0.1 0h0.6m-0.2 0h0.6m0.8 0h0.6m-0.2 0h0.6m-20.2 0.1h0.6m5.8 0h0.6m2.1 0h0.6m0.8 0h0.6m2.5 0h0.6m0 0h0.6m2.3 0h0.6m-14.2 0.1h0.6m-0.3 0h0.6m2.5 0h0.6m9.1 0h0.6m1.3 0h0.6m-13 0.1h0.6m-0.6 0h0.6m1.2 0h0.6m0.9 0h0.6m0.1 0h0.6m4.1 0h0.6m10.1 0h0.6m-21.7 0.1h0.6m1.7 0h0.6m4 0h0.6m2.2 0h0.6m-0.5 0h0.6m-0.5 0h0.6m-0.1 0h0.6m1.4 0h0.6m-11.7 0.1h0.6m3.1 0h0.6m1.1 0h0.6m2.6 0h0.6m2 0h0.6m-7.9 0.1h0.6m0.6 0h0.6m4.1 0h0.6m3.6 0h0.6m-13.7 0.1h0.6m-0.1 0h0.6m2.3 0h0.6m2.1 0h0.6m1 0h0.6m-10.1 0.1h0.6m3.5 0h0.6m2.8 0h0.6m-0.1 0h0.6m2.1 0h0.6m0.4 0h0.6m0.7 0h0.6m-13.1 0.1h0.6m0.6 0h0.6m0.7 0h0.6m0 0h0.6m0.1 0h0.6m3.6 0h0.6m-0.4 0h0.6m0 0h0.6m1.9 0h0.6m-0.5 0h0.6m1.3 0h0.6m-16.4 0.1h0.6m1.6 0h0.6m0.7 0h0.6m0.8 0h0.6m-0.3 0h0.6m-0.4 0h0.6m2.3 0h0.6m2 0h0.6m-0.6 0h0.6m9.1 0h0.6m-19.3 0.1h0.6m3.2 0h0.6m0.4 0h0.6m9.9 0h0.6m-15.3 0.1h0.6m0 0h0.6m1.3 0h0.6m0 0h0.6m-0.3 0h0.6m0.1 0h0.6m-0.2 0h0.6m-0.2 0h0.6m0.7 0h0.6m8.2 0h0.6m-22.1 0.1h0.6m6.4 0h0.6m1.6 0h0.6m2.5 0h0.6m1.8 0h0.6m0.8 0h0.6m0.7 0h0.6m2.9 0h0.6m-13.3 0.1h0.6m-0.2 0h0.6m1.1 0h0.6m2.5 0h0.6m5.3 0h0.6m-20.2 0.1h0.6m7.1 0h0.6m3.2 0h0.6m0.6 0h0.6m3 0h0.6m1.9 0h0.6m-12.4 0.1h0.6m5 0h0.6m-0.3 0h0.6m0.4 0h0.6m2.7 0h0.6m-0.2 0h0.6m-9.5 0.1h0.6m2.1 0h0.6m1.5 0h0.6m1.4 0h0.6m0.8 0h0.6m1.4 0h0.6m-0.3 0h0.6m-6.4 0.1h0.6m1 0h0.6m-12.2 0.1h0.6m6.2 0h0.6m-0.1 0h0.6m0.4 0h0.6m0 0h0.6m1.2 0h0.6m-0.5 0h0.6m2.3 0h0.6m2.3 0h0.6m-15.2 0.1h0.6m4.3 0h0.6m0 0h0.6m0.2 0h0.6m3 0h0.6m-0.1 0h0.6m-11.5 0.1h0.6m5.6 0h0.6m-0.2 0h0.6m-8.8 0.1h0.6m2.4 0h0.6m3.6 0h0.6m1.1 0h0.6m0.3 0h0.6m-0.2 0h0.6m0.9 0h0.6m2.8 0h0.6m-11.2 0.1h0.6m5.6 0h0.6m-11.9 0.1h0.6m3 0h0.6m4.5 0h0.6m0.5 0h0.6m2.5 0h0.6m7.6 0h0.6m-19.3 0.1h0.6m-0.4 0h0.6m3.2 0h0.6m-0.4 0h0.6m-0.3 0h0.6m4.8 0h0.6m-7.4 0.1h0.6m1.4 0h0.6m-0.4 0h0.6m9.3 0h0.6m2.3 0h0.6m-19.2 0.1h0.6m6.8 0h0.6m-7.6 0.1h0.6m0.5 0h0.6m1.4 0h0.6m2.5 0h0.6m0.9 0h0.6m1.4 0h0.6m-6.3 0.1h0.6m4.9 0h0.6m4.2 0h0.6m-10.2 0.1h0.6m6.8 0h0.6m-10.2 0.1h0.6m2.4 0h0.6m3.4 0h0.6m-8.2 0.1h0.6m10.8 0h0.6m1 0h0.6m-7.1 0.1h0.6m1.5 0h0.6m0.5 0h0.6m-2.2 0.1h0.6m7.8 0h0.6m-16.4 0.1h0.6m2.4 0h0.6m4.5 0h0.6m1.9 0h0.6m-0.1 0h0.6m-17.8 0.1h0.6m1.7 0h0.6m6.4 0h0.6m1.3 0h0.6m1.6 0h0.6m1.2 0h0.6m-0.6 0h0.6m2.1 0h0.6m-12.1 0.1h0.6m8.3 0h0.6m6.7 0h0.6m-13.4 0.1h0.6m0.4 0h0.6m3.8 0h0.6m-5.4 0.1h0.6m0.4 0h0.6m-4.1 0.1h0.6m1.9 0.1h0.6m0.9 0h0.6m1.7 0.1h0.6m2.9 0h0.6m-17.8 0.1h0.6m11.6 0h0.6m-12.7 0.1h0.6m2.7 0h0.6m8.3 0h0.6m-6.4 0.2h0.6m1.8 0h0.6m0.1 0h0.6m2.4 0h0.6m-11.4 0.2h0.6m8.1 0h0.6m-9.2 0.1h0.6m9.2 0h0.6m7 0h0.6m-17.6 0.1h0.6m8.8 0h0.6m-8.8 0.1h0.6m4.3 0h0.6m5.3 0h0.6m-2.8 0.2h0.6m-3.9 0.3h0.6m-0.1 0.1h0.6m4.3 0.2h0.6m-7.2 0.1h0.6m0.1 0h0.6m-3.9 0.1h0.6m3.7 0.1h0.6m2.7 0h0.6m0.1 0.1h0.6m-2.7 0.2h0.6m7.6 0h0.6m-10.6 0.2h0.6m6.1 0h0.6m-13.5 0.1h0.6m-1 0.7h0.6m-6.1 0.3h0.6m5.9 0.5h0.6m5.1 0.7h0.6m-9 0.1h0.6m6.2 0.2h0.6m-1.6 0.4h0.6m5.1 1.4h0.6m-8.5 0.8h0.6" stroke="rgb(216, 48, 48)" stroke-width="0.6" fill="none"/>
<path d="M259.4 572.3h0.6m-7.5 0.9h0.6m0.3 0.2h0.6m-2.5 0.1h0.6m6.4 0.1h0.6m-6.6 0.4h0.6m-1.4 0.1h0.6m-1.9 0.4h0.6m4 0h0.6m-1.2 0.1h0.6m-5.3 0.2h0.6m0.3 0h0.6m-2.7 0.2h0.6m8.6 0h0.6m-9.9 0.1h0.6m0.9 0.1h0.6m3.4 0.2h0.6m-5.8 0.1h0.6m5.6 0h0.6m-3.3 0.1h0.6m0.7 0.2h0.6m1.3 0h0.6m-10.2 0.1h0.6m8.2 0h0.6m1.6 0h0.6m1.4 0h0.6m1.9 0h0.6m-6.6 0.2h0.6m0.3 0.1h0.6m0.8 0h0.6m0.4 0h0.6m-9.5 0.1h0.6m1.9 0h0.6m2.3 0h0.6m1.6 0.1h0.6m-0.4 0h0.6m-9.7 0.1h0.6m1.3 0h0.6m3.9 0h0.6m0.7 0h0.6m-5.9 0.1h0.6m3.9 0h0.6m0.8 0h0.6m0.5 0h0.6m-7.7 0.1h0.6m1.1 0h0.6m1.4 0h0.6m2.9 0.1h0.6m-7.4 0.1h0.6m3.9 0.1h0.6m0.2 0h0.6m-6.6 0.1h0.6m0.4 0h0.6m-0.5 0h0.6m-0.5 0h0.6m1.6 0h0.6m-5.2 0.1h0.6m1.4 0h0.6m3.8 0h0.6m0.9 0h0.6m0.6 0h0.6m-8 0.1h0.6m1.9 0h0.6m0.2 0h0.6m0.8 0h0.6m-2.9 0.1h0.6m1.8 0h0.6m-0.3 0h0.6m1.9 0h0.6m-9.2 0.1h0.6m-0.6 0h0.6m1.4 0h0.6m0.6 0h0.6m1.6 0h0.6m-2.7 0.1h0.6m4.6 0h0.6m-9 0.1h0.6m0.8 0h0.6m-0.2 0h0.6m0.5 0h0.6m1.5 0h0.6m2.2 0h0.6m-6.4 0.1h0.6m3.2 0h0.6m0.6 0h0.6m5.2 0h0.6m-14.8 0.1h0.6m0.7 0h0.6m2.8 0h0.6m1.9 0h0.6m-8 0.1h0.6m7.4 0h0.6m-0.5 0h0.6m1.8 0h0.6m0.4 0h0.6m-13.6 0.1h0.6m11.5 0h0.6m-8.9 0.1h0.6m0.2 0h0.6m1 0h0.6m3.2 0h0.6m6 0h0.6m-15.7 0.1h0.6m2 0h0.6m2.3 0h0.6m1.7 0h0.6m0 0h0.6m-0.2 0h0.6m-7.8 0.1h0.6m0.8 0h0.6m-2.4 0.1h0.6m0.7 0h0.6m1.1 0h0.6m0.3 0h0.6m0.1 0h0.6m1.1 0h0.6m0.8 0h0.6m-0.5 0h0.6m-6 0.1h0.6m0.2 0h0.6m2.4 0h0.6m3.1 0h0.6m-0.2 0h0.6m-11.6 0.1h0.6m1.7 0h0.6m3.2 0h0.6m0.5 0h0.6m-0.4 0h0.6m-0.5 0h0.6m-3.2 0.1h0.6m-0.5 0h0.6m1.6 0h0.6m1.4 0h0.6m-6.7 0.1h0.6m-0.5 0h0.6m-0.5 0h0.6m1.2 0h0.6m-0.1 0h0.6m1.2 0h0.6m-12.4 0.1h0.6m1 0h0.6m5.5 0h0.6m-0.2 0h0.6m0.6 0h0.6m-0.1 0h0.6m-0.3 0h0.6m0.7 0h0.6m-0.2 0h0.6m4.5 0h0.6m-12.1 0.1h0.6m0.6 0h0.6m0.2 0h0.6m-6.4 0.1h0.6m6.1 0h0.6m1.2 0h0.6m0 0h0.6m-5.1 0.1h0.6m1.3 0h0.6m-0.4 0h0.6m5.1 0h0.6m-14.8 0.1h0.6m5.6 0h0.6m0.3 0h0.6m1.3 0h0.6m-0.3 0h0.6m0.9 0h0.6m0.6 0h0.6m0.1 0h0.6m-7.2 0.1h0.6m0.1 0h0.6m1 0h0.6m2.3 0h0.6m1.9 0h0.6m1.1 0h0.6m-8.7 0.1h0.6m2.4 0h0.6m1.2 0h0.6m-0.5 0h0.6m-6.8 0.1h0.6m0.4 0h0.6m-0.3 0h0.6m-0.1 0h0.6m0.6 0h0.6m1.1 0h0.6m1.1 0h0.6m2.3 0h0.6m-8.2 0.1h0.6m1.5 0h0.6m-0.4 0h0.6m3.7 0h0.6m-9.1 0.1h0.6m2.5 0h0.6m-0.4 0h0.6m-0.2 0h0.6m-0.4 0h0.6m0.5 0h0.6m-3.5 0.1h0.6m0.5 0h0.6m1.3 0h0.6m-0.5 0h0.6m-0.6 0h0.6m-0.3 0h0.6m0.3 0h0.6m5.2 0h0.6m-13.6 0.1h0.6m-0.2 0h0.6m0.9 0h0.6m-0.4 0h0.6m0.4 0h0.6m-0.2 0h0.6m3 0h0.6m-0.2 0.1h0.6m-7.6 0.1h0.6m0.6 0h0.6m1.2 0h0.6m-0.2 0h0.6m0.8 0h0.6m1 0h0.6m0.3 0h0.6m-6.9 0.1h0.6m5 0h0.6m-10.9 0.1h0.6m5.3 0h0.6m0 0h0.6m3.1 0h0.6m2.4 0h0.6m0.8 0h0.6m-9.5 0.1h0.6m0.2 0h0.6m0.2 0h0.6m0.1 0h0.6m0.3 0h0.6m0.3 0h0.6m2.1 0h0.6m-11.6 0.1h0.6m-0.2 0h0.6m5.8 0h0.6m-0.1 0h0.6m0.5 0h0.6m3.5 0h0.6m-8.2 0.1h0.6m2.9 0h0.6m1.4 0h0.6m-7.6 0.1h0.6m1.9 0h0.6m1.2 0h0.6m-0.2 0h0.6m-2.4 0.1h0.6m2.5 0h0.6m3.4 0h0.6m-10.7 0.1h0.6m-0.4 0h0.6m-0.3 0h0.6m0.1 0h0.6m-0.4 0h0.6m1.4 0h0.6m-0.2 0h0.6m1.1 0h0.6m-0.3 0h0.6m0.1 0h0.6m-7.8 0.1h0.6m1.6 0h0.6m-0.5 0h0.6m1.9 0h0.6m-9.4 0.1h0.6m3.7 0h0.6m-0.4 0h0.6m-0.6 0h0.6m-0.4 0h0.6m2.2 0h0.6m0.3 0h0.6m-0.2 0h0.6m0 0h0.6m-0.1 0h0.6m-8.4 0.1h0.6m3.8 0h0.6m4 0h0.6m-3.9 0.1h0.6m3.1 0h0.6m-8 0.1h0.6m2.9 0h0.6m-9.6 0.1h0.6m2.5 0h0.6m2.4 0h0.6m7.7 0h0.6m-11.8 0.1h0.6m2.4 0h0.6m1.8 0h0.6m1.4 0h0.6m0 0h0.6m-0.1 0h0.6m-0.2 0h0.6m1.2 0h0.6m1.3 0h0.6m-13.6 0.1h0.6m2.5 0h0.6m-0.5 0h0.6m-0.1 0h0.6m1.9 0h0.6m0.3 0h0.6m0 0h0.6m0 0h0.6m0.3 0h0.6m-5.1 0.1h0.6m3.5 0h0.6m-12.9 0.1h0.6m3.1 0h0.6m0.6 0h0.6m0.8 0h0.6m2.2 0h0.6m-0.5 0h0.6m4.3 0h0.6m-4.1 0.1h0.6m9.5 0h0.6m-14.1 0.2h0.6m-0.1 0h0.6m1.1 0h0.6m0.6 0h0.6m2 0h0.6m0.3 0h0.6m-11.8 0.1h0.6m6 0h0.6m-0.5 0h0.6m1.9 0h0.6m1.7 0h0.6m-9.2 0.1h0.6m0.4 0h0.6m1 0h0.6m0.5 0h0.6m1 0h0.6m-6.3 0.1h0.6m0.4 0h0.6m1 0h0.6m0.6 0h0.6m3.1 0h0.6m-5.4 0.1h0.6m-5.6 0.1h0.6m5.2 0h0.6m-1.9 0.1h0.6m-0.3 0h0.6m1.5 0h0.6m-9.3 0.1h0.6m0.2 0h0.6m4 0h0.6m5.3 0h0.6m-6.3 0.1h0.6m0.7 0h0.6m-2.7 0.1h0.6m3.4 0h0.6m2.7 0h0.6m-8 0.1h0.6m1 0h0.6m1.3 0h0.6m0.3 0h0.6m1.2 0h0.6m2.6 0h0.6m-10.7 0.1h0.6m1.2 0h0.6m3.7 0h0.6m-7.2 0.1h0.6m1.1 0h0.6m5 0h0.6m-3.7 0.1h0.6m-8.8 0.2h0.6m5.8 0h0.6m1.5 0h0.6m-3.4 0.1h0.6m1.8 0h0.6m0.3 0h0.6m1.1 0h0.6m-8.1 0.1h0.6m5.3 0.3h0.6m2.1 0h0.6m-5.4 0.2h0.6m2.2 0h0.6m-0.6 0.1h0.6m2.2 0h0.6m-7.6 0.1h0.6m-0.1 0h0.6m1 0.2h0.6m2.1 0h0.6m-2.7 0.1h0.6m5 0h0.6m-8.3 0.1h0.6m0.5 0.1h0.6m5.5 0h0.6m-6.4 0.1h0.6m1.4 0h0.6m3.4 0h0.6m-8.6 0.2h0.6m5.7 0.1h0.6m-6 0.1h0.6m4.4 0.1h0.6m-2.5 0.3h0.6m-6.8 0.2h0.6m6.6 0h0.6m-10.8 0.1h0.6m9.9 0.1h0.6m-1.6 1.2h0.6" stroke="rgb(118, 104, 196)" stroke-width="0.6" fill="none"/>
<path d="M253.9 569.3h0.6m-1.3 1.6h0.6m-3.3 0.1h0.6m1.2 0.3h0.6m1.8 0.2h0.6m-14.3 0.2h0.6m10.6 0h0.6m0.1 0.9h0.6m-3.6 0.2h0.6m-9.9 0.1h0.6m8 0h0.6m6.2 0h0.6m-0.4 0h0.6m-14.7 0.1h0.6m11.5 0h0.6m-1.7 0.1h0.6m0.5 0h0.6m4.6 0.5h0.6m-9 0.1h0.6m7.6 0.1h0.6m-7 0.2h0.6m-2.3 0.2h0.6m7.9 0h0.6m-5.9 0.1h0.6m1 0h0.6m7.6 0h0.6m-16.5 0.1h0.6m2.7 0h0.6m0.6 0h0.6m3.7 0h0.6m-7.3 0.3h0.6m2.7 0h0.6m-8.6 0.1h0.6m9.2 0.1h0.6m1.2 0h0.6m-0.9 0.1h0.6m-8.8 0.1h0.6m0 0h0.6m1.5 0.1h0.6m5 0h0.6m0.7 0.1h0.6m-7.1 0.1h0.6m5.3 0.1h0.6m0.4 0.1h0.6m-8.3 0.1h0.6m2.3 0h0.6m6.3 0h0.6m-11 0.1h0.6m-1.2 0.1h0.6m3.7 0h0.6m0.7 0h0.6m-1.5 0.1h0.6m-0.5 0.1h0.6m-6.3 0.1h0.6m2.7 0h0.6m2.1 0h0.6m0.7 0h0.6m6.8 0h0.6m-15.7 0.1h0.6m7 0h0.6m1.4 0h0.6m-2.5 0.1h0.6m0.9 0h0.6m0 0h0.6m-8.2 0.1h0.6m1.5 0h0.6m1.5 0h0.6m-9.1 0.1h0.6m5.4 0h0.6m2.1 0h0.6m-2.1 0.1h0.6m-1 0.1h0.6m13.4 0h0.6m-17.3 0.1h0.6m5.3 0h0.6m2.8 0h0.6m-21.3 0.1h0.6m8.4 0h0.6m1.7 0h0.6m-0.1 0h0.6m1.8 0h0.6m5.6 0h0.6m-10.1 0.1h0.6m6.1 0h0.6m-7.3 0.1h0.6m-6.3 0.1h0.6m3.9 0h0.6m3.5 0h0.6m5.9 0h0.6m-7.9 0.2h0.6m0.5 0h0.6m0.1 0h0.6m-2.6 0.1h0.6m-2.6 0.1h0.6m3 0h0.6m4.1 0h0.6m-13.3 0.1h0.6m6.7 0h0.6m-3.7 0.1h0.6m0.3 0h0.6m3.4 0h0.6m-6.6 0.1h0.6m2.8 0h0.6m7 0h0.6m0.1 0h0.6m0.6 0h0.6m-17.6 0.1h0.6m4.7 0h0.6m0.4 0h0.6m0.6 0h0.6m3.8 0h0.6m0.2 0h0.6m-8.6 0.1h0.6m-0.5 0h0.6m-1.6 0.1h0.6m7.4 0h0.6m-3 0.1h0.6m-10 0.1h0.6m6.2 0.1h0.6m-3 0.1h0.6m7.4 0h0.6m-0.5 0h0.6m4.9 0h0.6m0.7 0h0.6m-17.6 0.1h0.6m10.7 0h0.6m-15.2 0.2h0.6m3.2 0h0.6m0.4 0h0.6m5.1 0h0.6m2.5 0h0.6m-5.1 0.1h0.6m15.2 0h0.6m-19.1 0.1h0.6m3.5 0h0.6m0 0h0.6m0 0h0.6m1.8 0h0.6m-7.2 0.1h0.6m-1.3 0.1h0.6m5.8 0h0.6m1.2 0h0.6m1.5 0h0.6m-7.8 0.1h0.6m2.2 0h0.6m3.3 0h0.6m-9.2 0.1h0.6m2.4 0.1h0.6m3 0h0.6m-0.2 0h0.6m0.6 0.1h0.6m-11.1 0.1h0.6m2.6 0h0.6m1.7 0h0.6m5.2 0h0.6m-6.9 0.1h0.6m5.9 0h0.6m-16.1 0.1h0.6m3.5 0h0.6m1.8 0h0.6m2 0h0.6m3.8 0h0.6m0.8 0h0.6m7.5 0h0.6m-11.4 0.1h0.6m-19 0.1h0.6m7.4 0h0.6m0.1 0h0.6m4.3 0h0.6m0 0h0.6m-2.5 0.1h0.6m3.1 0h0.6m0.7 0h0.6m-13.7 0.1h0.6m3.6 0h0.6m5.3 0h0.6m0.1 0h0.6m6.4 0h0.6m-10.5 0.1h0.6m-0.5 0h0.6m1.1 0h0.6m0.2 0h0.6m0.8 0h0.6m0.7 0.1h0.6m1.1 0h0.6m-8 0.1h0.6m1.5 0h0.6m-0.3 0h0.6m6.3 0h0.6m-14.5 0.1h0.6m-0.5 0h0.6m6.7 0h0.6m-0.1 0h0.6m1 0h0.6m-7.8 0.1h0.6m-0.3 0.1h0.6m10.7 0h0.6m3 0h0.6m-15.4 0.1h0.6m1.1 0h0.6m0.9 0h0.6m2.2 0h0.6m0.7 0h0.6m0.5 0h0.6m-10.3 0.1h0.6m0.7 0h0.6m1.4 0h0.6m-0.4 0h0.6m0.4 0h0.6m1 0h0.6m-0.9 0.1h0.6m0.1 0h0.6m5.2 0h0.6m-15.3 0.1h0.6m7.4 0h0.6m2.4 0h0.6m0.8 0h0.6m-8.6 0.1h0.6m6 0h0.6m4.8 0h0.6m0.1 0h0.6m-8.6 0.1h0.6m0.2 0h0.6m-6.3 0.2h0.6m0.9 0h0.6m3.8 0h0.6m0.5 0h0.6m-3.9 0.1h0.6m5.4 0h0.6m-20.4 0.1h0.6m9.5 0.1h0.6m0.3 0h0.6m3.6 0h0.6m-10.2 0.1h0.6m4.9 0h0.6m-0.8 0.2h0.6m5.3 0h0.6m-6.8 0.1h0.6m1.9 0h0.6m7 0h0.6m0.4 0h0.6m2.4 0h0.6m-14.5 0.1h0.6m0.2 0h0.6m8.5 0h0.6m0.8 0h0.6m-10.1 0.1h0.6m3.4 0h0.6m0.1 0h0.6m0.5 0h0.6m-0.3 0h0.6m-12.3 0.1h0.6m10.6 0h0.6m-13.8 0.1h0.6m-0.4 0h0.6m1.5 0h0.6m10.5 0h0.6m-10.2 0.1h0.6m10.9 0h0.6m-12.3 0.2h0.6m9.5 0h0.6m1.9 0h0.6m-15.7 0.1h0.6m5 0h0.6m-5.5 0.1h0.6m8.9 0h0.6m2.8 0h0.6m-9.5 0.1h0.6m-0.9 0.1h0.6m1.2 0h0.6m2.3 0h0.6m3.4 0.1h0.6m-12.9 0.1h0.6m10.8 0h0.6m-10.9 0.1h0.6m1.2 0h0.6m7.2 0h0.6m-0.2 0h0.6m-7.4 0.1h0.6m4.1 0.1h0.6m0.1 0h0.6m1.7 0.1h0.6m-17.3 0.2h0.6m9.7 0h0.6m12.1 0.1h0.6m-12.3 0.2h0.6m-0.3 0h0.6m9.1 0h0.6m-10.5 0.1h0.6m-11 0.1h0.6m8.8 0h0.6m3.7 0h0.6m-10.6 0.1h0.6m-0.4 0h0.6m2.6 0h0.6m5.2 0h0.6m-13.7 0.1h0.6m5.7 0h0.6m2.6 0h0.6m6.4 0h0.6m-7.2 0.1h0.6m-12.7 0.1h0.6m9.2 0h0.6m3.6 0.1h0.6m-2.2 0.4h0.6m2.4 0h0.6m0.7 0h0.6m-9.7 0.1h0.6m4.9 0.1h0.6m7.3 0h0.6m-3 0.1h0.6m-10.9 0.2h0.6m6.4 0.1h0.6m-10.3 0.1h0.6m0.5 0h0.6m0.2 0h0.6m2.8 0h0.6m2.3 0.1h0.6m-12.6 0.1h0.6m6.7 0h0.6m6.3 0h0.6m-2.3 0.3h0.6m5.3 0h0.6m-8.1 0.2h0.6m0.9 0h0.6m-3 0.4h0.6m-1.3 0.1h0.6m-8.6 0.4h0.6m10.3 0.4h0.6m0.4 0.2h0.6m3 0h0.6m-11.2 0.2h0.6m4.4 0h0.6m6 0h0.6m-2.4 0.2h0.6m0.5 0.5h0.6m-3.9 1.4h0.6m-1.9 3.4h0.6" stroke="rgb(216, 48, 48)" stroke-width="0.6" fill="none"/>
<path d="M249.2 562.1h0.6m-2.3 3.1h0.6m-0.2 4.6h0.6m34.2 1.3h0.6m-5.6 0.1h0.6m2.3 1h0.6m-8.4 0.3h0.6m10.3 0.6h0.6m-3.5 0.3h0.6m5.7 0.3h0.6m-3.7 0.6h0.6m-11 0.5h0.6m-4.2 0.6h0.6m18.2 0.3h0.6m-17.8 1.2h0.6m-3.3 0.1h0.6m16.4 0.4h0.6m-44 0.6h0.6m34.3 0.1h0.6m-32.7 0.1h0.6m33.9 0h0.6m-28.2 0.9h0.6m26.1 0.2h0.6m-40.1 1h0.6m48.5 0.1h0.6m-10.6 0.3h0.6m-15.7 0.2h0.6m-10.4 0.5h0.6m26.4 0.2h0.6m0.3 0h0.6m6.2 0.3h0.6m-40.1 0.3h0.6m39 0h0.6m-4.2 0.4h0.6m-2.8 0.6h0.6m-13 0.7h0.6m13.6 0.1h0.6m-7.2 0.1h0.6m-1.5 0.6h0.6m16.9 0.3h0.6m-52.1 0.3h0.6m43.3 0.3h0.6m-7.8 0.2h0.6m-38.2 0.1h0.6m39.9 0.4h0.6m-5 0.6h0.6m-29.3 0.2h0.6m37.7 0.1h0.6m-9.2 0.1h0.6m13.6 0.5h0.6m-4.3 1.2h0.6m-6.7 0.1h0.6m2 0h0.6m-14.8 0.8h0.6m15.2 0.1h0.6m-7.8 0.7h0.6m-8.4 1h0.6m-26.8 3.3h0.6m33.1 1.3h0.6m-38.9 1.4h0.6" stroke="rgb(216, 48, 48)" stroke-width="0.6" fill="none" stroke-opacity="0.5"/>
</g>
<line x1="263.80" y1="531.80" x2="263.80" y2="607.90" stroke="#707070" stroke-width="0.6"/>
<line x1="238.30" y1="573.00" x2="318.30" y2="573.00" stroke="#707070" stroke-width="0.6"/>
<rect x="238.30" y="531.80" width="7.40" height="4.60" fill="#fff" stroke="#b5b5b5" stroke-width="0.7"/>
<text x="239.30" y="535.32" font-size="3.4" font-weight="bold" fill="#222">K-+</text>
<rect x="263.80" y="531.80" width="8.20" height="4.60" fill="#fff" stroke="#b5b5b5" stroke-width="0.7"/>
<text x="264.80" y="535.32" font-size="3.4" font-weight="bold" fill="#222">K++</text>
<rect x="238.30" y="573.00" width="6.80" height="4.60" fill="#fff" stroke="#b5b5b5" stroke-width="0.7"/>
<text x="239.30" y="576.52" font-size="3.4" font-weight="bold" fill="#222">K--</text>
<rect x="263.80" y="573.00" width="7.40" height="4.60" fill="#fff" stroke="#b5b5b5" stroke-width="0.7"/>
<text x="264.80" y="576.52" font-size="3.4" font-weight="bold" fill="#222">K+-</text>
<rect x="249.20" y="539.30" width="13.70" height="14.00" rx="1.2" fill="#fff" stroke="#b0b0b0" stroke-width="0.7"/>
<text x="249.86" y="543.39" font-size="4.5" textLength="10.57" lengthAdjust="spacingAndGlyphs" fill="#555" class="mt">viable</text>
<text x="249.86" y="547.72" font-size="4.5" textLength="11.09" lengthAdjust="spacingAndGlyphs" fill="#555" class="mt">mouse</text>
<text x="249.86" y="552.05" font-size="4.5" textLength="8.19" lengthAdjust="spacingAndGlyphs" fill="#555" class="mt">PLTS</text>
<rect x="296.20" y="587.00" width="23.00" height="19.60" rx="9.8" ry="9.8" fill="#fff" fill-opacity="0.85" stroke="#666" stroke-width="0.6"/>
<text x="299.94" y="591.96" font-size="4.6" textLength="12.49" lengthAdjust="spacingAndGlyphs" fill="#444" class="ht">viable</text>
<text x="299.94" y="598.02" font-size="4.6" textLength="14.33" lengthAdjust="spacingAndGlyphs" fill="#444" class="ht">human</text>
<text x="299.94" y="603.84" font-size="4.6" textLength="11.27" lengthAdjust="spacingAndGlyphs" fill="#444" class="ht">PLTS</text>
<text x="220.04" y="593.77" font-size="8.6" textLength="9.56" lengthAdjust="spacingAndGlyphs">10</text>
<text x="230.01" y="590.33" font-size="7.0" textLength="3.89" lengthAdjust="spacingAndGlyphs">0</text>
<text x="220.04" y="574.75" font-size="8.6" textLength="9.56" lengthAdjust="spacingAndGlyphs">10</text>
<text x="230.01" y="571.31" font-size="7.0" textLength="3.89" lengthAdjust="spacingAndGlyphs">1</text>
<text x="220.04" y="555.72" font-size="8.6" textLength="9.56" lengthAdjust="spacingAndGlyphs">10</text>
<text x="230.01" y="552.28" font-size="7.0" textLength="3.89" lengthAdjust="spacingAndGlyphs">2</text>
<text x="220.04" y="536.70" font-size="8.6" textLength="9.56" lengthAdjust="spacingAndGlyphs">10</text>
<text x="230.01" y="533.26" font-size="7.0" textLength="3.89" lengthAdjust="spacingAndGlyphs">3</text>
<text x="251.42" y="619.80" font-size="8.6" textLength="9.56" lengthAdjust="spacingAndGlyphs">10</text>
<text x="261.39" y="616.36" font-size="7.0" textLength="3.89" lengthAdjust="spacingAndGlyphs">0</text>
<text x="271.42" y="619.80" font-size="8.6" textLength="9.56" lengthAdjust="spacingAndGlyphs">10</text>
<text x="281.39" y="616.36" font-size="7.0" textLength="3.89" lengthAdjust="spacingAndGlyphs">1</text>
<text x="291.42" y="619.80" font-size="8.6" textLength="9.56" lengthAdjust="spacingAndGlyphs">10</text>
<text x="301.39" y="616.36" font-size="7.0" textLength="3.89" lengthAdjust="spacingAndGlyphs">2</text>
<text x="311.42" y="619.80" font-size="8.6" textLength="9.56" lengthAdjust="spacingAndGlyphs">10</text>
<text x="321.39" y="616.36" font-size="7.0" textLength="3.89" lengthAdjust="spacingAndGlyphs">3</text>
<text x="0.00" y="0.00" font-size="12" text-anchor="middle" textLength="37.70" lengthAdjust="spacingAndGlyphs" transform="translate(213.60,570.35) rotate(-90)" class="cb">CD42d-APC</text>
<text x="276.45" y="634.60" font-size="10.5" text-anchor="middle" textLength="24.90" lengthAdjust="spacingAndGlyphs" class="cb">CD41 H7</text>
<rect x="239.5" y="641.3" width="79.0" height="56.0" fill="#fff" stroke="#111" stroke-width="1.1"/>
<text x="278.70" y="651.40" font-size="8.6" text-anchor="middle" textLength="54.30" lengthAdjust="spacingAndGlyphs">% Ratio human</text>
<text x="278.70" y="661.60" font-size="8.6" text-anchor="middle" textLength="45.00" lengthAdjust="spacingAndGlyphs">/total(mouse</text>
<text x="279.00" y="671.50" font-size="8.6" text-anchor="middle" textLength="75.70" lengthAdjust="spacingAndGlyphs">+human) viable PLTS</text>
<text x="262.00" y="681.20" font-size="8.6">=</text>
<path d="M272.2,675.2 h-1.6 v18.2 h1.6 M290.8,675.2 h1.6 v18.2 h-1.6" fill="none" stroke="#111" stroke-width="0.8"/>
<text x="281.50" y="682.00" font-size="8.6" text-anchor="middle">B</text>
<line x1="272.80" y1="684.60" x2="290.20" y2="684.60" stroke="#111" stroke-width="0.8"/>
<text x="281.50" y="692.00" font-size="8.6" text-anchor="middle" textLength="16.50" lengthAdjust="spacingAndGlyphs">A+B</text>
<text x="293.80" y="681.20" font-size="8.6" textLength="18.40" lengthAdjust="spacingAndGlyphs">x100</text>
<rect x="0.6" y="0.6" width="518.8" height="787.8" fill="none" stroke="#000" stroke-width="1.3"/>
</svg>
</body></html>
